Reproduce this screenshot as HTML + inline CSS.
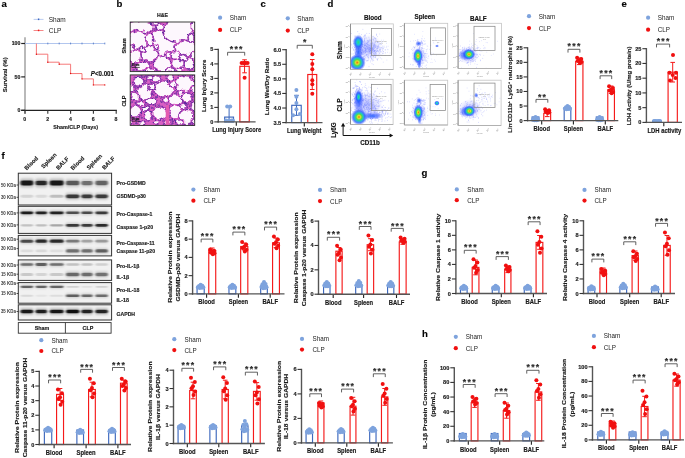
<!DOCTYPE html>
<html><head><meta charset="utf-8"><style>
html,body{margin:0;padding:0;background:#fff;}
svg{display:block;font-family:"Liberation Sans", sans-serif;will-change:transform;}
text[font-weight="bold"]{stroke:#1a1a1a;stroke-width:0.15px;}
</style></head><body>
<svg width="685" height="458" viewBox="0 0 685 458">
<rect width="685" height="458" fill="#fff"/>
<defs><radialGradient id="jet"><stop offset="0" stop-color="#f05a10"/><stop offset="0.08" stop-color="#f0a018"/><stop offset="0.2" stop-color="#d8e030"/><stop offset="0.36" stop-color="#50dc50"/><stop offset="0.52" stop-color="#22c0c8"/><stop offset="0.72" stop-color="#2a60ff" stop-opacity="0.8"/><stop offset="1" stop-color="#3a55ff" stop-opacity="0"/></radialGradient>
<radialGradient id="jetm"><stop offset="0" stop-color="#30e070"/><stop offset="0.3" stop-color="#18c8d8"/><stop offset="0.6" stop-color="#2460ff" stop-opacity="0.85"/><stop offset="1" stop-color="#3050ff" stop-opacity="0"/></radialGradient>
<radialGradient id="jetb"><stop offset="0" stop-color="#1e5cff" stop-opacity="0.9"/><stop offset="0.55" stop-color="#3a5cff" stop-opacity="0.55"/><stop offset="1" stop-color="#4a60ff" stop-opacity="0"/></radialGradient>
<radialGradient id="jetc"><stop offset="0" stop-color="#5a6cff" stop-opacity="0.45"/><stop offset="1" stop-color="#6a70ff" stop-opacity="0"/></radialGradient>
<clipPath id="fc0"><rect x="350.5" y="23.9" width="42.8" height="45.6"/></clipPath>
<clipPath id="fc1"><rect x="404.4" y="23.3" width="43.3" height="45.5"/></clipPath>
<clipPath id="fc2"><rect x="458.1" y="23.3" width="43.3" height="45.2"/></clipPath>
<clipPath id="fc3"><rect x="350.5" y="79.3" width="42.6" height="45.2"/></clipPath>
<clipPath id="fc4"><rect x="404.4" y="80.2" width="43.3" height="44.8"/></clipPath>
<clipPath id="fc5"><rect x="458.1" y="80.2" width="43.0" height="45.3"/></clipPath><filter id="bb" x="-30%" y="-100%" width="160%" height="300%"><feGaussianBlur stdDeviation="0.9 0.6"/></filter>
<filter id="bb2" x="-30%" y="-100%" width="160%" height="300%"><feGaussianBlur stdDeviation="1.1 0.9"/></filter><filter id="hdisp" x="-5%" y="-5%" width="110%" height="110%"><feTurbulence type="fractalNoise" baseFrequency="0.22" numOctaves="2" seed="3" result="t"/><feDisplacementMap in="SourceGraphic" in2="t" scale="5" xChannelSelector="R" yChannelSelector="G"/><feGaussianBlur stdDeviation="0.25"/></filter>
<filter id="hblur"><feGaussianBlur stdDeviation="0.3"/></filter></defs>
<text x="1.50" y="6.90" font-size="9.6" font-weight="bold" text-anchor="start" fill="#000">a</text>
<text x="116.60" y="6.80" font-size="9.6" font-weight="bold" text-anchor="start" fill="#000">b</text>
<text x="260.60" y="6.80" font-size="9.6" font-weight="bold" text-anchor="start" fill="#000">c</text>
<text x="327.60" y="6.80" font-size="9.6" font-weight="bold" text-anchor="start" fill="#000">d</text>
<text x="621.60" y="6.80" font-size="9.6" font-weight="bold" text-anchor="start" fill="#000">e</text>
<text x="1.40" y="158.80" font-size="9.6" font-weight="bold" text-anchor="start" fill="#000">f</text>
<text x="421.60" y="175.80" font-size="9.6" font-weight="bold" text-anchor="start" fill="#000">g</text>
<text x="421.90" y="336.90" font-size="9.6" font-weight="bold" text-anchor="start" fill="#000">h</text>
<line x1="33.60" y1="19.40" x2="43.50" y2="19.40" stroke="#a9c0ec" stroke-width="0.8"/>
<rect x="37.90" y="18.50" width="1.40" height="1.60" fill="#3d66c0" stroke="none" stroke-width="1"/>
<line x1="33.60" y1="30.50" x2="43.50" y2="30.50" stroke="#f46a6a" stroke-width="0.8"/>
<rect x="37.90" y="29.60" width="1.40" height="1.60" fill="#ee1c1c" stroke="none" stroke-width="1"/>
<text transform="translate(48.70 21.80) scale(1 1.25)" font-size="6.5" font-weight="normal" text-anchor="start" fill="#222">Sham</text>
<text transform="translate(48.70 32.90) scale(1 1.25)" font-size="6.5" font-weight="normal" text-anchor="start" fill="#222">CLP</text>
<line x1="25.00" y1="37.20" x2="25.00" y2="113.80" stroke="#a8a8a8" stroke-width="1.6"/>
<line x1="21.20" y1="110.30" x2="116.90" y2="110.30" stroke="#222" stroke-width="1.2"/>
<line x1="21.20" y1="43.50" x2="25.00" y2="43.50" stroke="#222" stroke-width="1.2"/>
<text x="20.40" y="45.35" font-size="5.2" font-weight="bold" text-anchor="end" fill="#222">100</text>
<line x1="21.20" y1="76.90" x2="25.00" y2="76.90" stroke="#222" stroke-width="1.2"/>
<text x="20.40" y="78.75" font-size="5.2" font-weight="bold" text-anchor="end" fill="#222">50</text>
<line x1="21.20" y1="110.30" x2="25.00" y2="110.30" stroke="#222" stroke-width="1.2"/>
<text x="20.40" y="112.15" font-size="5.2" font-weight="bold" text-anchor="end" fill="#222">0</text>
<line x1="25.00" y1="110.30" x2="25.00" y2="113.80" stroke="#333" stroke-width="1.1"/>
<text x="24.80" y="120.50" font-size="5.2" font-weight="bold" text-anchor="middle" fill="#222">0</text>
<line x1="47.80" y1="110.30" x2="47.80" y2="113.80" stroke="#333" stroke-width="1.1"/>
<text x="47.60" y="120.50" font-size="5.2" font-weight="bold" text-anchor="middle" fill="#222">2</text>
<line x1="70.60" y1="110.30" x2="70.60" y2="113.80" stroke="#333" stroke-width="1.1"/>
<text x="70.40" y="120.50" font-size="5.2" font-weight="bold" text-anchor="middle" fill="#222">4</text>
<line x1="93.40" y1="110.30" x2="93.40" y2="113.80" stroke="#333" stroke-width="1.1"/>
<text x="93.20" y="120.50" font-size="5.2" font-weight="bold" text-anchor="middle" fill="#222">6</text>
<line x1="116.20" y1="110.30" x2="116.20" y2="113.80" stroke="#333" stroke-width="1.1"/>
<text x="116.00" y="120.50" font-size="5.2" font-weight="bold" text-anchor="middle" fill="#222">8</text>
<text x="75.60" y="129.20" font-size="5.4" font-weight="bold" text-anchor="middle" fill="#222">Sham/CLP (Days)</text>
<text x="7.50" y="74.80" font-size="5.6" font-weight="bold" text-anchor="middle" fill="#222" transform="rotate(-90 7.50 74.80)" textLength="35.1" lengthAdjust="spacingAndGlyphs">Survival (%)</text>
<line x1="25.00" y1="43.50" x2="104.80" y2="43.50" stroke="#a9c0ec" stroke-width="0.9"/>
<line x1="47.80" y1="42.60" x2="47.80" y2="44.40" stroke="#4a72c2" stroke-width="0.8"/>
<line x1="59.20" y1="42.60" x2="59.20" y2="44.40" stroke="#4a72c2" stroke-width="0.8"/>
<line x1="70.60" y1="42.60" x2="70.60" y2="44.40" stroke="#4a72c2" stroke-width="0.8"/>
<line x1="82.00" y1="42.60" x2="82.00" y2="44.40" stroke="#4a72c2" stroke-width="0.8"/>
<line x1="93.40" y1="42.60" x2="93.40" y2="44.40" stroke="#4a72c2" stroke-width="0.8"/>
<line x1="104.80" y1="42.60" x2="104.80" y2="44.40" stroke="#4a72c2" stroke-width="0.8"/>
<path d="M36.40 43.50 V54.19 H47.80 V62.20 H59.20 V64.21 H70.60 V73.56 H82.00 V78.90 H93.40 V84.92 H104.80" fill="none" stroke="#f46a6a" stroke-width="0.9"/>
<circle cx="36.40" cy="54.19" r="0.7" fill="#e01010"/>
<circle cx="47.80" cy="62.20" r="0.7" fill="#e01010"/>
<circle cx="59.20" cy="64.21" r="0.7" fill="#e01010"/>
<circle cx="70.60" cy="73.56" r="0.7" fill="#e01010"/>
<circle cx="82.00" cy="78.90" r="0.7" fill="#e01010"/>
<circle cx="93.40" cy="84.92" r="0.7" fill="#e01010"/>
<circle cx="104.80" cy="84.92" r="0.7" fill="#e01010"/>
<text transform="translate(90.80 76.30) scale(1 1.18)" font-size="6.4" font-weight="bold" text-anchor="start" fill="#111" textLength="23.2" lengthAdjust="spacingAndGlyphs"><tspan font-style="italic">P</tspan>&lt;0.001</text>
<g clip-path="url(#fc0)">
<ellipse cx="368.0" cy="48.0" rx="15.00" ry="13.00" fill="url(#jetc)" transform="rotate(-20 368 48)"/>
<path d="M378.2 46.0h0.6M362.6 29.4h0.6M365.9 45.8h0.6M362.2 50.2h0.6M368.9 40.5h0.6M359.8 44.7h0.6M370.8 51.9h0.6M356.9 40.2h0.6M371.2 59.0h0.6M365.8 43.2h0.6M373.7 45.8h0.6M371.1 58.8h0.6M370.4 48.5h0.6M371.1 43.5h0.6M364.8 44.0h0.6M364.6 44.6h0.6M364.7 45.3h0.6M366.6 48.4h0.6M368.1 57.8h0.6M355.2 57.1h0.6M364.3 39.4h0.6M364.8 48.6h0.6M373.5 40.6h0.6M367.5 48.8h0.6M354.2 39.7h0.6M370.2 52.9h0.6M373.6 51.7h0.6M368.8 48.9h0.6M374.5 42.1h0.6M365.0 50.7h0.6M355.0 57.2h0.6M360.4 47.5h0.6M381.1 42.2h0.6M362.3 58.9h0.6M358.4 45.0h0.6M369.6 51.2h0.6M370.2 50.6h0.6M375.4 55.1h0.6M370.2 43.2h0.6M361.0 34.6h0.6M370.8 35.2h0.6M372.2 60.9h0.6M358.6 43.2h0.6M362.7 53.8h0.6M360.0 47.1h0.6M362.3 46.2h0.6M375.0 41.3h0.6M366.5 49.9h0.6M372.0 39.2h0.6M373.8 51.0h0.6M372.1 48.5h0.6M354.5 43.5h0.6M371.7 48.3h0.6M365.7 60.5h0.6M381.4 47.7h0.6M379.5 34.0h0.6M351.7 54.1h0.6M364.2 52.1h0.6M369.6 47.4h0.6M370.8 49.1h0.6M355.3 49.5h0.6M367.3 60.8h0.6M358.1 48.1h0.6M363.0 47.1h0.6M377.6 50.7h0.6M362.7 49.1h0.6M371.4 41.0h0.6M364.1 58.8h0.6M372.0 47.7h0.6M362.7 46.9h0.6M355.1 54.6h0.6M368.4 49.0h0.6M356.9 43.0h0.6M369.6 49.8h0.6M362.5 51.5h0.6M372.6 43.3h0.6M362.3 41.9h0.6M357.9 53.6h0.6M369.6 50.4h0.6M357.8 40.7h0.6M365.5 45.1h0.6M366.8 43.1h0.6M370.6 60.6h0.6M376.8 59.3h0.6M366.5 54.5h0.6M363.4 54.4h0.6M363.4 44.6h0.6M361.5 52.9h0.6M367.9 49.3h0.6M358.0 49.0h0.6M355.9 58.3h0.6M365.1 49.4h0.6M365.3 36.9h0.6M356.4 47.8h0.6M376.4 40.2h0.6M361.1 47.7h0.6M354.2 36.1h0.6M363.1 47.7h0.6M363.3 58.7h0.6M364.9 50.5h0.6M377.2 59.9h0.6M354.9 45.4h0.6M374.1 38.3h0.6M359.5 38.9h0.6M356.5 40.1h0.6M367.2 56.9h0.6M376.7 48.1h0.6M352.2 47.6h0.6M363.6 50.5h0.6M365.1 35.4h0.6M368.9 33.5h0.6M361.2 50.2h0.6M368.5 59.0h0.6M349.5 50.4h0.6M370.8 45.7h0.6M370.5 40.3h0.6M370.6 51.8h0.6M359.1 43.3h0.6M364.7 43.4h0.6M373.3 49.2h0.6M375.2 56.2h0.6M366.4 46.6h0.6M359.4 42.4h0.6M360.4 50.4h0.6M359.8 48.6h0.6M367.3 44.5h0.6M364.7 58.1h0.6M377.3 42.5h0.6M364.6 45.4h0.6M364.1 58.7h0.6M370.8 56.8h0.6M378.4 44.9h0.6M364.7 48.3h0.6M373.2 47.4h0.6M370.5 56.2h0.6M374.1 51.1h0.6M360.5 37.1h0.6M373.9 51.2h0.6M359.4 44.5h0.6M362.9 36.3h0.6M367.8 42.5h0.6M363.9 53.2h0.6M365.3 51.8h0.6M369.0 48.2h0.6M366.3 61.0h0.6M364.8 59.4h0.6M359.6 53.1h0.6M367.2 42.9h0.6M347.5 59.2h0.6M357.9 41.3h0.6M366.9 48.4h0.6M368.0 46.2h0.6M355.5 54.1h0.6M359.7 49.6h0.6M370.0 56.3h0.6M364.5 45.9h0.6M364.4 35.1h0.6M360.7 41.0h0.6M358.0 49.2h0.6M363.8 59.2h0.6M376.4 34.8h0.6M366.9 41.0h0.6M369.9 49.1h0.6M372.5 50.2h0.6M371.3 45.9h0.6M348.4 39.7h0.6M360.0 44.6h0.6M358.9 59.4h0.6M364.8 57.1h0.6M363.6 59.6h0.6M357.6 52.2h0.6M356.7 51.1h0.6M377.1 36.6h0.6M359.9 49.7h0.6M364.7 38.4h0.6M374.1 48.4h0.6M375.1 50.2h0.6M357.9 44.6h0.6M375.7 38.3h0.6M362.7 52.2h0.6M373.1 53.8h0.6M355.7 62.6h0.6M364.8 48.1h0.6M366.0 46.4h0.6M359.2 45.7h0.6M375.3 38.5h0.6M349.0 51.7h0.6M368.4 53.1h0.6M378.1 42.9h0.6M367.2 51.5h0.6M374.6 55.2h0.6M360.1 38.4h0.6M364.1 36.7h0.6M373.8 45.2h0.6M363.5 41.8h0.6M376.7 50.0h0.6M363.1 52.3h0.6M365.4 52.2h0.6M375.2 46.1h0.6M369.6 51.3h0.6M373.9 52.2h0.6M366.2 43.5h0.6M368.1 40.7h0.6M370.6 48.4h0.6M369.8 44.4h0.6M360.4 41.6h0.6M373.7 46.5h0.6M364.4 35.5h0.6M365.6 23.8h0.6M375.5 46.3h0.6M366.1 38.0h0.6M358.3 52.2h0.6M364.5 51.0h0.6M374.9 52.6h0.6M352.7 41.1h0.6M358.0 41.6h0.6M351.4 33.6h0.6M360.8 43.8h0.6M369.6 45.7h0.6M376.0 35.2h0.6M356.3 49.7h0.6M364.1 41.1h0.6M371.4 55.6h0.6M375.2 45.2h0.6M365.9 49.6h0.6M366.4 55.1h0.6M362.5 50.6h0.6M350.5 53.3h0.6M377.5 47.8h0.6M373.2 36.4h0.6M363.7 37.2h0.6M368.2 51.6h0.6M356.4 42.1h0.6M361.9 64.9h0.6M365.5 48.8h0.6M368.5 50.1h0.6M364.3 38.7h0.6M361.2 59.4h0.6M367.8 45.4h0.6M356.5 47.6h0.6M366.2 43.4h0.6M372.2 43.9h0.6M364.8 53.9h0.6M367.6 55.9h0.6M364.4 45.0h0.6M369.3 49.5h0.6M374.3 50.8h0.6M365.8 51.1h0.6M370.6 40.2h0.6M365.0 45.7h0.6M374.4 44.6h0.6M373.4 39.1h0.6M365.6 55.5h0.6M364.2 56.1h0.6M351.8 48.2h0.6M367.1 47.1h0.6M355.4 52.7h0.6M349.7 54.6h0.6M368.0 54.9h0.6M364.2 40.2h0.6M362.4 44.8h0.6M370.2 45.8h0.6M368.9 51.4h0.6M376.0 34.1h0.6M363.2 52.8h0.6M370.9 44.1h0.6M364.2 47.4h0.6M367.0 44.1h0.6M361.6 40.3h0.6M363.4 57.8h0.6M359.5 54.9h0.6M379.7 49.6h0.6M382.7 47.2h0.6M377.8 47.9h0.6M357.7 50.6h0.6M379.4 44.1h0.6M369.6 41.3h0.6M360.1 51.5h0.6M365.0 52.2h0.6M375.2 40.0h0.6M361.5 48.6h0.6M382.5 46.1h0.6M363.0 51.4h0.6M381.1 44.3h0.6M364.3 48.7h0.6M371.7 63.7h0.6M357.7 36.8h0.6M367.6 52.3h0.6M350.9 44.2h0.6M373.3 44.9h0.6M370.0 49.8h0.6M371.2 51.6h0.6M368.4 57.4h0.6M362.7 49.5h0.6M374.6 44.8h0.6M364.1 43.4h0.6M360.1 62.9h0.6M370.0 61.9h0.6M371.9 49.3h0.6M364.8 50.6h0.6M366.4 55.1h0.6M360.6 49.9h0.6M370.0 47.1h0.6M365.1 52.6h0.6M370.7 48.0h0.6M366.6 44.8h0.6M370.6 47.9h0.6M355.8 46.5h0.6M371.0 50.6h0.6M360.4 53.8h0.6M370.9 52.9h0.6M377.3 46.2h0.6M370.8 46.7h0.6M373.4 56.6h0.6M369.9 53.7h0.6M360.8 52.8h0.6M358.1 63.5h0.6M374.5 37.7h0.6M347.7 57.4h0.6M360.3 52.1h0.6M357.2 48.7h0.6M361.7 52.4h0.6M363.8 58.6h0.6M360.9 57.1h0.6M366.0 51.8h0.6M355.0 35.9h0.6M373.5 39.5h0.6M363.7 45.8h0.6M359.8 49.5h0.6M356.2 39.8h0.6M372.5 42.4h0.6M371.2 52.7h0.6M376.7 51.2h0.6M353.2 43.5h0.6M363.1 56.6h0.6M368.4 44.6h0.6M369.1 45.5h0.6M369.8 49.1h0.6M373.8 50.3h0.6M373.0 47.9h0.6M371.0 46.9h0.6M370.5 49.6h0.6M365.1 45.1h0.6M364.1 51.3h0.6M350.0 56.7h0.6M349.4 46.7h0.6M363.7 53.2h0.6M367.7 47.7h0.6M366.6 54.6h0.6M382.4 50.6h0.6M351.6 45.1h0.6M368.9 71.2h0.6M360.6 45.4h0.6M369.9 50.3h0.6M356.7 54.6h0.6M356.8 46.1h0.6M375.3 38.8h0.6M363.6 59.7h0.6M364.2 40.7h0.6M361.9 53.9h0.6M355.0 43.6h0.6M355.8 39.9h0.6M375.0 47.4h0.6M362.9 51.0h0.6M361.0 39.6h0.6M374.0 54.1h0.6M360.1 52.9h0.6M376.2 51.4h0.6M369.5 39.3h0.6M365.1 34.9h0.6M373.8 46.8h0.6M375.3 42.6h0.6M372.1 36.8h0.6M363.1 51.8h0.6M368.5 47.6h0.6M354.4 57.3h0.6M370.6 56.0h0.6M373.9 45.3h0.6M368.7 66.6h0.6M360.1 50.9h0.6M362.0 60.3h0.6M367.2 40.6h0.6M361.7 38.0h0.6M349.9 28.8h0.6M360.8 40.0h0.6M367.0 42.1h0.6M367.6 60.5h0.6M357.6 39.4h0.6M372.9 64.6h0.6M359.8 36.0h0.6M363.9 45.1h0.6M371.0 40.4h0.6M364.1 45.8h0.6M354.8 36.8h0.6M369.1 51.8h0.6M360.3 59.1h0.6M372.6 51.3h0.6M370.3 50.5h0.6M371.1 54.1h0.6M366.5 33.4h0.6M364.8 42.0h0.6M357.5 52.2h0.6M353.3 53.9h0.6M361.4 39.2h0.6M359.7 64.6h0.6M376.4 45.9h0.6M373.5 60.6h0.6M359.7 45.9h0.6M372.5 50.8h0.6M363.3 59.5h0.6M369.6 53.6h0.6M383.0 51.4h0.6M384.9 50.1h0.6M364.8 48.9h0.6M372.2 52.6h0.6M368.6 37.3h0.6M358.2 46.0h0.6M371.1 58.3h0.6M348.8 46.9h0.6M362.6 47.1h0.6" stroke="#3a4cff" stroke-width="0.6" opacity="0.5"/>
<path d="M377.2 46.6h0.6M367.8 56.1h0.6M380.5 48.8h0.6M375.2 47.4h0.6M367.3 54.2h0.6M371.8 45.2h0.6M372.2 59.3h0.6M378.6 52.1h0.6M376.4 55.3h0.6M380.4 44.2h0.6M374.4 47.6h0.6M377.2 50.6h0.6M363.6 56.8h0.6M377.5 42.0h0.6M382.8 51.5h0.6M378.7 51.0h0.6M376.8 48.2h0.6M365.6 47.6h0.6M376.9 51.0h0.6M379.7 50.3h0.6M362.0 54.5h0.6M370.7 43.9h0.6M373.7 43.7h0.6M377.8 46.0h0.6M387.5 49.4h0.6M372.2 47.3h0.6M362.4 46.2h0.6M370.9 48.9h0.6M362.0 50.8h0.6M383.4 48.5h0.6M375.3 52.8h0.6M370.7 48.4h0.6M381.5 51.7h0.6M368.2 41.6h0.6M389.7 53.0h0.6M366.0 51.6h0.6M379.9 51.4h0.6M364.3 60.1h0.6M379.5 49.9h0.6M380.0 49.7h0.6M373.8 55.4h0.6M363.8 56.0h0.6M378.4 54.8h0.6M381.5 58.9h0.6M384.8 55.5h0.6M373.7 54.5h0.6M373.1 46.2h0.6M378.9 52.9h0.6M383.4 40.2h0.6M379.8 54.5h0.6M376.8 58.7h0.6M370.8 52.9h0.6M373.9 51.1h0.6M370.3 50.5h0.6M380.3 51.8h0.6M378.3 47.3h0.6M385.9 47.6h0.6M376.4 54.2h0.6M375.1 55.1h0.6M377.4 59.9h0.6M379.6 53.2h0.6M371.3 53.6h0.6M382.4 53.3h0.6M370.6 48.4h0.6M374.8 51.3h0.6M367.8 60.7h0.6M375.6 51.7h0.6M373.5 50.9h0.6M387.8 46.3h0.6M373.0 45.9h0.6M372.8 58.9h0.6M372.3 48.8h0.6M365.2 49.3h0.6M377.5 48.6h0.6M373.7 55.1h0.6M379.3 50.6h0.6M371.4 43.5h0.6M386.3 43.3h0.6M380.0 50.1h0.6M371.7 55.6h0.6M371.6 57.5h0.6M369.9 53.6h0.6M383.8 46.2h0.6M388.8 55.4h0.6M362.8 58.1h0.6M387.7 49.8h0.6M375.0 53.0h0.6M364.7 51.9h0.6M381.8 48.3h0.6M382.9 62.2h0.6M364.3 42.0h0.6M371.9 54.3h0.6M378.4 46.5h0.6M369.3 47.4h0.6M386.4 46.3h0.6M372.6 55.9h0.6M374.5 46.1h0.6M384.8 52.8h0.6M372.0 49.2h0.6M381.8 49.3h0.6M377.7 55.6h0.6M382.2 41.9h0.6M373.3 49.5h0.6M376.8 55.1h0.6M383.3 48.9h0.6M369.6 52.2h0.6M372.7 59.9h0.6M378.5 51.5h0.6M382.3 48.0h0.6M374.3 50.4h0.6M380.3 57.8h0.6M381.1 55.1h0.6M375.0 53.2h0.6M374.9 57.1h0.6M372.6 50.9h0.6M377.8 55.2h0.6M372.0 50.1h0.6M371.4 44.5h0.6M382.9 53.6h0.6M367.3 46.4h0.6M379.7 48.2h0.6M370.0 57.5h0.6M373.4 49.4h0.6M379.7 47.7h0.6M376.4 52.0h0.6M380.7 47.5h0.6M382.8 52.9h0.6M387.0 52.3h0.6M373.0 48.5h0.6M369.4 51.1h0.6M375.8 55.6h0.6M376.7 46.9h0.6M382.3 49.0h0.6M377.8 58.4h0.6M383.8 47.4h0.6M375.4 57.8h0.6M382.0 53.8h0.6M381.4 40.2h0.6M374.3 43.8h0.6M372.2 49.1h0.6M378.8 56.9h0.6M380.7 52.3h0.6M373.8 57.3h0.6M377.5 42.0h0.6M375.4 53.4h0.6M370.0 51.9h0.6M384.9 49.5h0.6M375.4 50.5h0.6M369.8 48.3h0.6M369.6 49.2h0.6M370.8 55.5h0.6M374.9 54.9h0.6M367.9 50.5h0.6M379.0 54.1h0.6M371.8 50.1h0.6M376.2 48.9h0.6M373.0 53.3h0.6M368.4 41.5h0.6M372.6 52.1h0.6M361.7 57.5h0.6M376.2 53.6h0.6M370.5 50.4h0.6M386.6 60.1h0.6M379.4 49.3h0.6M375.0 57.4h0.6M371.3 46.0h0.6M374.8 55.3h0.6M369.1 52.4h0.6M377.8 51.3h0.6M374.6 55.3h0.6M379.0 43.2h0.6M385.2 52.9h0.6M377.4 48.7h0.6M373.6 37.8h0.6M374.0 53.5h0.6M379.1 47.0h0.6M361.0 44.7h0.6M373.4 56.9h0.6M365.5 50.5h0.6M378.9 53.6h0.6" stroke="#3a4cff" stroke-width="0.6" opacity="0.4"/>
<path d="M357.5 31.6h0.6M359.2 55.1h0.6M359.1 46.5h0.6M356.5 66.3h0.6M357.5 54.1h0.6M355.9 64.4h0.6M353.6 50.0h0.6M358.9 54.0h0.6M360.0 57.8h0.6M361.5 52.6h0.6M357.5 56.7h0.6M353.3 66.0h0.6M355.6 63.8h0.6M361.5 62.8h0.6M358.4 49.5h0.6M352.5 59.2h0.6M357.3 68.6h0.6M357.2 59.8h0.6M356.9 58.2h0.6M357.0 53.4h0.6M353.2 49.0h0.6M357.5 65.1h0.6M358.6 44.8h0.6M361.9 57.6h0.6M360.8 47.4h0.6M349.6 48.5h0.6M355.3 56.9h0.6M354.0 47.5h0.6M354.5 55.9h0.6M355.6 66.0h0.6M359.9 61.7h0.6M357.4 56.8h0.6M360.2 48.0h0.6M361.1 54.3h0.6M361.2 73.2h0.6M362.0 46.2h0.6M361.1 52.4h0.6M356.9 53.0h0.6M355.0 56.9h0.6M356.2 64.0h0.6M358.8 33.9h0.6M355.5 46.7h0.6M356.2 49.5h0.6M358.5 53.6h0.6M355.2 58.4h0.6M360.3 55.0h0.6M361.0 58.4h0.6M356.6 51.7h0.6M358.0 59.2h0.6M358.4 62.8h0.6M360.9 46.7h0.6M355.0 54.1h0.6M359.1 62.3h0.6M359.6 59.9h0.6M355.6 58.0h0.6M356.3 58.3h0.6M360.2 49.5h0.6M357.4 74.8h0.6M356.1 50.8h0.6M355.2 43.3h0.6M360.5 49.5h0.6M356.4 48.5h0.6M350.9 61.0h0.6M356.6 54.5h0.6M361.4 53.7h0.6M358.3 56.3h0.6M361.2 44.0h0.6M356.5 37.3h0.6M358.0 60.1h0.6M356.9 71.1h0.6M360.5 70.8h0.6M358.4 69.7h0.6M356.7 58.5h0.6M358.4 51.8h0.6M362.3 66.0h0.6M356.4 61.0h0.6M358.4 56.7h0.6M359.7 51.5h0.6M358.6 58.0h0.6M356.6 51.4h0.6M360.4 55.8h0.6M364.1 72.8h0.6M356.3 58.0h0.6M353.0 50.0h0.6M355.8 48.9h0.6M352.6 57.2h0.6M358.4 48.5h0.6M357.8 62.5h0.6M362.1 44.3h0.6M362.0 41.1h0.6M355.9 51.8h0.6M361.9 59.8h0.6M359.5 67.6h0.6M358.6 51.3h0.6M361.7 53.2h0.6M354.8 41.0h0.6M358.4 70.1h0.6M359.9 55.3h0.6M361.1 42.9h0.6M359.1 50.6h0.6M361.5 48.2h0.6M360.0 56.6h0.6M358.0 60.6h0.6M357.7 66.6h0.6M357.5 37.4h0.6M361.6 65.7h0.6M359.3 66.2h0.6M359.7 48.2h0.6M352.8 46.5h0.6M357.3 59.2h0.6M354.4 47.6h0.6M361.8 49.3h0.6M356.1 47.2h0.6M362.1 61.3h0.6M360.2 68.3h0.6M360.4 65.8h0.6M358.9 62.0h0.6M359.6 60.6h0.6M355.0 53.2h0.6M357.1 49.7h0.6" stroke="#3a4cff" stroke-width="0.6" opacity="0.6"/>
<ellipse cx="358.5" cy="52.0" rx="4.60" ry="11.00" fill="url(#jetb)"/>
<ellipse cx="358.3" cy="42.3" rx="5.60" ry="7.60" fill="url(#jetm)"/>
<ellipse cx="357.2" cy="62.6" rx="8.60" ry="8.60" fill="url(#jet)"/>
</g>
<rect x="350.5" y="23.9" width="42.8" height="45.6" fill="none" stroke="#c4c4c4" stroke-width="0.8"/>
<line x1="350.5" y1="23.9" x2="350.5" y2="69.5" stroke="#8a8a8a" stroke-width="0.9"/>
<line x1="350.5" y1="69.5" x2="393.3" y2="69.5" stroke="#aaa" stroke-width="0.8"/>
<rect x="371.4" y="28.5" width="20.2" height="26.9" fill="none" stroke="#888" stroke-width="0.75"/>
<text x="381.5" y="41.5" font-size="1.8" text-anchor="middle" fill="#888">CD11b+Ly6G+</text>
<text x="381.5" y="43.8" font-size="1.8" text-anchor="middle" fill="#888">1.6</text>
<line x1="349.3" y1="68.0" x2="350.5" y2="68.0" stroke="#999" stroke-width="0.5"/>
<text x="348.9" y="68.8" font-size="2.2" text-anchor="end" fill="#777">10<tspan dy="-0.8" font-size="1.5">1</tspan></text>
<line x1="349.3" y1="57.6" x2="350.5" y2="57.6" stroke="#999" stroke-width="0.5"/>
<text x="348.9" y="58.4" font-size="2.2" text-anchor="end" fill="#777">10<tspan dy="-0.8" font-size="1.5">2</tspan></text>
<line x1="349.3" y1="47.2" x2="350.5" y2="47.2" stroke="#999" stroke-width="0.5"/>
<text x="348.9" y="48.0" font-size="2.2" text-anchor="end" fill="#777">10<tspan dy="-0.8" font-size="1.5">3</tspan></text>
<line x1="349.3" y1="36.8" x2="350.5" y2="36.8" stroke="#999" stroke-width="0.5"/>
<text x="348.9" y="37.6" font-size="2.2" text-anchor="end" fill="#777">10<tspan dy="-0.8" font-size="1.5">4</tspan></text>
<line x1="349.3" y1="26.4" x2="350.5" y2="26.4" stroke="#999" stroke-width="0.5"/>
<text x="348.9" y="27.2" font-size="2.2" text-anchor="end" fill="#777">10<tspan dy="-0.8" font-size="1.5">5</tspan></text>
<text x="352.5" y="73.5" font-size="2.2" text-anchor="end" fill="#777" transform="rotate(-45 352.5 73.5)">10<tspan dy="-0.8" font-size="1.5">1</tspan></text>
<text x="362.2" y="73.5" font-size="2.2" text-anchor="end" fill="#777" transform="rotate(-45 362.2 73.5)">10<tspan dy="-0.8" font-size="1.5">2</tspan></text>
<text x="371.9" y="73.5" font-size="2.2" text-anchor="end" fill="#777" transform="rotate(-45 371.9 73.5)">10<tspan dy="-0.8" font-size="1.5">3</tspan></text>
<text x="381.6" y="73.5" font-size="2.2" text-anchor="end" fill="#777" transform="rotate(-45 381.6 73.5)">10<tspan dy="-0.8" font-size="1.5">4</tspan></text>
<text x="391.3" y="73.5" font-size="2.2" text-anchor="end" fill="#777" transform="rotate(-45 391.3 73.5)">10<tspan dy="-0.8" font-size="1.5">5</tspan></text>
<text x="371.9" y="77.8" font-size="2" text-anchor="middle" fill="#999">CD11b</text>
<text x="345.0" y="46.7" font-size="2" text-anchor="middle" fill="#999" transform="rotate(-90 345.0 46.7)">Ly6G</text>
<g clip-path="url(#fc1)">
<ellipse cx="419.0" cy="56.0" rx="8.00" ry="10.00" fill="url(#jetc)"/>
<path d="M418.8 66.1h0.6M422.3 57.4h0.6M420.1 64.0h0.6M414.7 58.9h0.6M424.8 66.0h0.6M422.1 59.7h0.6M412.6 53.3h0.6M418.8 58.8h0.6M420.4 45.4h0.6M417.0 58.3h0.6M416.2 55.7h0.6M420.7 58.4h0.6M419.5 60.6h0.6M422.9 55.4h0.6M415.2 53.4h0.6M417.2 56.7h0.6M413.6 53.1h0.6M418.0 63.7h0.6M420.8 56.1h0.6M422.0 57.8h0.6M419.8 62.3h0.6M420.1 57.7h0.6M421.5 54.2h0.6M419.1 46.4h0.6M417.5 64.7h0.6M417.7 57.0h0.6M417.5 51.8h0.6M420.7 56.9h0.6M422.8 52.5h0.6M419.1 55.3h0.6M416.9 62.4h0.6M416.4 53.4h0.6M427.9 56.6h0.6M418.3 59.3h0.6M415.5 58.8h0.6M414.9 54.6h0.6M417.0 63.8h0.6M421.2 66.3h0.6M424.9 53.6h0.6M420.9 54.9h0.6M416.8 63.0h0.6M424.0 57.7h0.6M420.2 58.5h0.6M420.2 58.8h0.6M415.5 60.1h0.6M416.6 51.1h0.6M418.5 58.4h0.6M422.0 58.9h0.6M420.0 53.7h0.6M420.4 58.1h0.6M420.0 53.3h0.6M425.0 60.8h0.6M421.4 57.5h0.6M418.0 61.7h0.6M414.4 54.7h0.6M418.0 59.8h0.6M417.9 64.1h0.6M412.8 64.8h0.6M420.1 61.7h0.6M417.2 62.2h0.6M417.8 58.3h0.6M413.8 59.7h0.6M419.4 47.5h0.6M418.6 55.4h0.6M421.9 53.6h0.6M419.6 63.4h0.6M415.9 66.4h0.6M419.8 55.8h0.6M414.2 48.0h0.6M422.3 54.6h0.6M416.8 62.3h0.6M421.3 57.6h0.6M413.8 47.1h0.6M422.3 56.7h0.6M418.0 66.6h0.6M417.5 58.8h0.6M426.5 60.1h0.6M417.0 52.7h0.6M423.3 50.8h0.6M421.9 65.1h0.6M418.7 61.2h0.6M419.3 64.2h0.6M420.0 53.5h0.6M420.3 57.8h0.6M416.9 55.9h0.6M414.8 52.8h0.6M421.3 47.8h0.6M420.0 57.1h0.6M417.0 64.1h0.6M421.5 54.1h0.6M419.7 61.7h0.6M413.5 58.1h0.6M418.2 59.0h0.6M426.4 53.8h0.6M417.8 51.0h0.6M419.8 60.2h0.6M410.4 64.4h0.6M424.7 43.6h0.6M413.7 59.4h0.6M419.4 63.0h0.6M418.1 63.6h0.6M414.3 59.2h0.6M417.6 54.8h0.6M412.9 55.1h0.6M423.9 53.9h0.6M418.3 57.8h0.6M415.7 58.5h0.6M421.1 56.0h0.6M412.6 64.9h0.6M419.3 57.1h0.6M418.4 54.2h0.6M413.3 57.0h0.6M419.7 62.2h0.6M424.9 53.6h0.6M424.8 57.7h0.6M421.2 52.1h0.6M420.4 52.5h0.6M421.6 51.0h0.6M419.3 55.2h0.6M420.4 58.5h0.6M419.8 54.7h0.6M422.2 60.2h0.6M416.5 61.1h0.6M417.0 57.8h0.6M418.9 56.9h0.6M422.0 48.3h0.6M423.7 48.5h0.6M423.6 60.2h0.6M414.0 59.2h0.6M418.2 51.5h0.6M423.6 63.1h0.6M420.7 66.0h0.6M419.9 56.1h0.6M424.0 53.8h0.6M422.2 63.2h0.6M420.2 58.1h0.6M421.1 58.9h0.6M417.0 39.6h0.6M417.6 50.2h0.6M422.9 55.3h0.6M420.3 61.4h0.6M423.1 53.0h0.6M427.1 62.3h0.6M421.7 53.0h0.6M426.6 61.0h0.6M423.4 56.2h0.6M426.2 65.1h0.6M419.1 67.8h0.6M415.7 62.1h0.6M421.7 61.1h0.6M416.9 55.7h0.6M422.8 62.9h0.6M419.1 56.1h0.6M417.5 64.2h0.6M418.7 54.6h0.6M412.5 48.2h0.6M415.2 46.9h0.6M417.7 55.6h0.6M415.5 54.9h0.6M418.7 48.1h0.6M421.5 43.0h0.6M425.9 49.5h0.6M419.1 55.2h0.6M420.3 53.2h0.6M420.9 49.0h0.6M421.7 55.5h0.6M420.3 62.2h0.6M414.8 54.0h0.6M416.3 56.5h0.6M419.6 60.6h0.6M419.7 56.2h0.6M420.9 62.2h0.6M422.4 67.6h0.6M416.8 58.2h0.6M414.2 53.5h0.6M421.2 63.4h0.6M417.2 59.4h0.6M419.3 59.6h0.6M419.8 54.6h0.6M411.1 49.4h0.6M420.4 56.6h0.6M426.4 57.3h0.6M422.2 51.0h0.6M414.1 58.0h0.6M424.9 59.1h0.6M417.9 59.1h0.6M421.2 59.3h0.6M419.1 51.7h0.6M415.0 54.4h0.6M418.6 50.4h0.6M424.6 60.0h0.6M417.2 60.9h0.6M427.6 58.3h0.6M419.8 62.2h0.6M414.2 54.2h0.6M416.3 60.9h0.6M413.1 58.7h0.6M417.3 55.6h0.6M417.1 64.4h0.6M416.0 51.0h0.6M420.1 54.1h0.6M420.8 56.7h0.6M419.1 57.3h0.6M413.1 46.9h0.6M426.1 51.1h0.6M420.8 51.4h0.6M418.7 55.7h0.6M424.1 56.0h0.6M413.6 49.8h0.6M420.0 61.4h0.6M426.1 67.7h0.6M414.0 56.4h0.6M414.7 58.4h0.6M421.8 47.8h0.6M422.0 60.6h0.6M418.1 54.0h0.6M424.8 56.2h0.6M415.2 57.5h0.6M422.6 60.4h0.6M412.1 50.2h0.6" stroke="#3a4cff" stroke-width="0.6" opacity="0.5"/>
<path d="M419.7 51.3h0.6M424.1 38.6h0.6M430.3 54.2h0.6M410.3 41.3h0.6M422.1 36.2h0.6M423.2 51.5h0.6M419.5 55.2h0.6M437.5 44.0h0.6M426.8 45.9h0.6M435.3 61.3h0.6M423.0 44.4h0.6M429.3 49.4h0.6M413.2 40.9h0.6M421.7 69.6h0.6M431.8 62.5h0.6M430.6 62.5h0.6M435.1 40.0h0.6M427.9 55.7h0.6M427.0 53.8h0.6M402.8 51.7h0.6M412.1 58.7h0.6M418.9 47.5h0.6M422.6 31.5h0.6M421.6 38.5h0.6M430.7 45.2h0.6M413.8 61.2h0.6M420.6 41.2h0.6M422.1 48.2h0.6M424.8 40.9h0.6M431.5 52.9h0.6M436.0 55.0h0.6M415.1 59.5h0.6M420.9 50.9h0.6M403.3 38.7h0.6M434.0 59.9h0.6M408.9 53.0h0.6M425.8 61.3h0.6M414.3 34.3h0.6M425.5 44.1h0.6M418.3 42.0h0.6M433.0 42.3h0.6M430.8 55.7h0.6M417.8 58.9h0.6M433.3 53.4h0.6M421.3 57.0h0.6M417.1 54.6h0.6M435.4 38.0h0.6M408.7 56.7h0.6M416.0 46.0h0.6M424.3 44.5h0.6M424.1 41.3h0.6M418.8 49.3h0.6M427.5 46.4h0.6M425.8 55.6h0.6M427.2 49.1h0.6M433.6 43.2h0.6M431.5 59.1h0.6M430.3 45.5h0.6M430.9 54.5h0.6M414.2 47.4h0.6" stroke="#3a4cff" stroke-width="0.6" opacity="0.35"/>
<path d="M415.8 44.8h0.6M422.5 45.9h0.6M416.6 42.0h0.6M418.6 43.7h0.6M420.9 43.4h0.6M421.9 43.0h0.6M421.7 41.2h0.6M417.7 44.1h0.6M421.1 45.1h0.6M416.9 41.5h0.6M419.0 43.9h0.6M418.1 44.0h0.6M415.8 45.1h0.6M421.6 42.3h0.6M417.0 46.5h0.6M421.8 42.5h0.6M417.4 40.6h0.6M420.3 44.5h0.6M419.2 48.6h0.6M418.6 43.8h0.6M419.7 43.7h0.6M421.9 43.7h0.6M419.4 48.6h0.6M417.7 41.7h0.6M419.5 42.9h0.6M417.5 44.5h0.6M421.2 41.0h0.6M418.6 39.9h0.6M421.4 42.0h0.6M420.7 47.6h0.6M422.4 44.9h0.6M414.1 47.8h0.6M418.0 45.6h0.6M417.8 43.5h0.6M423.1 40.7h0.6M415.9 43.4h0.6M421.7 39.0h0.6M422.2 43.2h0.6M420.8 49.3h0.6M420.3 46.2h0.6M422.5 43.4h0.6M419.4 43.7h0.6M419.6 43.4h0.6M417.7 42.8h0.6M420.9 41.3h0.6M419.3 46.8h0.6M415.5 40.5h0.6M420.7 42.4h0.6M417.2 45.3h0.6M419.8 42.6h0.6" stroke="#3a4cff" stroke-width="0.6" opacity="0.5"/>
<ellipse cx="418.6" cy="43.6" rx="3.20" ry="2.60" fill="url(#jetb)"/>
<ellipse cx="419.3" cy="63.5" rx="2.20" ry="5.50" fill="url(#jetb)"/>
<ellipse cx="418.0" cy="56.0" rx="4.80" ry="7.80" fill="url(#jet)"/>
<ellipse cx="437.0" cy="46.0" rx="2.00" ry="1.60" fill="url(#jetb)"/>
</g>
<rect x="404.4" y="23.3" width="43.3" height="45.5" fill="none" stroke="#c4c4c4" stroke-width="0.8"/>
<line x1="404.4" y1="23.3" x2="404.4" y2="68.8" stroke="#8a8a8a" stroke-width="0.9"/>
<line x1="404.4" y1="68.8" x2="447.7" y2="68.8" stroke="#aaa" stroke-width="0.8"/>
<rect x="430.4" y="27.9" width="15.1" height="26.4" fill="none" stroke="#888" stroke-width="0.75"/>
<text x="437.9" y="40.6" font-size="1.8" text-anchor="middle" fill="#888">CD11b+Ly6G+</text>
<text x="437.9" y="42.9" font-size="1.8" text-anchor="middle" fill="#888">1.6</text>
<line x1="403.2" y1="67.3" x2="404.4" y2="67.3" stroke="#999" stroke-width="0.5"/>
<text x="402.8" y="68.1" font-size="2.2" text-anchor="end" fill="#777">10<tspan dy="-0.8" font-size="1.5">1</tspan></text>
<line x1="403.2" y1="56.9" x2="404.4" y2="56.9" stroke="#999" stroke-width="0.5"/>
<text x="402.8" y="57.7" font-size="2.2" text-anchor="end" fill="#777">10<tspan dy="-0.8" font-size="1.5">2</tspan></text>
<line x1="403.2" y1="46.5" x2="404.4" y2="46.5" stroke="#999" stroke-width="0.5"/>
<text x="402.8" y="47.3" font-size="2.2" text-anchor="end" fill="#777">10<tspan dy="-0.8" font-size="1.5">3</tspan></text>
<line x1="403.2" y1="36.2" x2="404.4" y2="36.2" stroke="#999" stroke-width="0.5"/>
<text x="402.8" y="37.0" font-size="2.2" text-anchor="end" fill="#777">10<tspan dy="-0.8" font-size="1.5">4</tspan></text>
<line x1="403.2" y1="25.8" x2="404.4" y2="25.8" stroke="#999" stroke-width="0.5"/>
<text x="402.8" y="26.6" font-size="2.2" text-anchor="end" fill="#777">10<tspan dy="-0.8" font-size="1.5">5</tspan></text>
<text x="406.4" y="72.8" font-size="2.2" text-anchor="end" fill="#777" transform="rotate(-45 406.4 72.8)">10<tspan dy="-0.8" font-size="1.5">1</tspan></text>
<text x="416.2" y="72.8" font-size="2.2" text-anchor="end" fill="#777" transform="rotate(-45 416.2 72.8)">10<tspan dy="-0.8" font-size="1.5">2</tspan></text>
<text x="426.1" y="72.8" font-size="2.2" text-anchor="end" fill="#777" transform="rotate(-45 426.1 72.8)">10<tspan dy="-0.8" font-size="1.5">3</tspan></text>
<text x="435.9" y="72.8" font-size="2.2" text-anchor="end" fill="#777" transform="rotate(-45 435.9 72.8)">10<tspan dy="-0.8" font-size="1.5">4</tspan></text>
<text x="445.7" y="72.8" font-size="2.2" text-anchor="end" fill="#777" transform="rotate(-45 445.7 72.8)">10<tspan dy="-0.8" font-size="1.5">5</tspan></text>
<text x="426.0" y="77.1" font-size="2" text-anchor="middle" fill="#999">CD11b</text>
<text x="398.9" y="46.0" font-size="2" text-anchor="middle" fill="#999" transform="rotate(-90 398.9 46.0)">Ly6G</text>
<g clip-path="url(#fc2)">
<ellipse cx="468.0" cy="55.0" rx="11.00" ry="9.00" fill="url(#jetc)"/>
<path d="M466.4 49.1h0.6M465.1 54.7h0.6M470.8 57.4h0.6M476.7 54.7h0.6M473.0 56.1h0.6M463.1 56.3h0.6M469.8 57.7h0.6M470.5 55.6h0.6M463.6 53.8h0.6M469.5 57.6h0.6M472.1 56.5h0.6M471.2 60.8h0.6M469.1 52.9h0.6M460.9 55.2h0.6M471.1 53.5h0.6M475.4 51.5h0.6M466.1 54.8h0.6M461.8 59.0h0.6M464.2 50.2h0.6M458.8 58.6h0.6M474.3 50.8h0.6M460.7 53.1h0.6M467.8 52.7h0.6M470.2 50.6h0.6M478.2 56.3h0.6M472.9 53.3h0.6M472.7 61.6h0.6M464.3 55.5h0.6M472.9 56.6h0.6M463.7 53.1h0.6M470.9 56.3h0.6M464.7 56.3h0.6M456.8 55.3h0.6M472.8 58.7h0.6M465.8 56.0h0.6M469.1 54.5h0.6M463.9 49.2h0.6M464.8 49.8h0.6M457.0 59.4h0.6M460.0 51.8h0.6M463.9 47.2h0.6M468.5 47.2h0.6M475.6 48.3h0.6M462.6 53.2h0.6M465.9 53.9h0.6M472.3 59.5h0.6M479.0 50.1h0.6M473.3 57.9h0.6M466.7 49.9h0.6M480.4 60.1h0.6M459.4 61.4h0.6M470.8 56.3h0.6M472.4 52.9h0.6M467.7 59.2h0.6M462.5 49.7h0.6M459.8 58.3h0.6M462.9 53.8h0.6M465.7 57.6h0.6M470.0 51.9h0.6M475.3 56.9h0.6M469.9 53.4h0.6M466.4 54.1h0.6M468.2 56.8h0.6M470.3 54.1h0.6M467.5 57.9h0.6M474.2 60.1h0.6M468.0 50.0h0.6M468.9 55.8h0.6M468.5 57.2h0.6M465.6 55.6h0.6M456.4 62.3h0.6M468.3 53.8h0.6M470.7 54.1h0.6M464.4 58.4h0.6M468.4 52.3h0.6M471.5 56.8h0.6M470.0 53.8h0.6M473.5 51.4h0.6M472.3 61.2h0.6M463.4 56.0h0.6M459.0 55.1h0.6M459.4 49.6h0.6M469.0 59.4h0.6M470.5 54.1h0.6M464.0 55.1h0.6M480.1 60.7h0.6M461.3 52.1h0.6M460.7 57.2h0.6M466.5 48.8h0.6M467.1 53.0h0.6M462.6 53.5h0.6M472.3 51.2h0.6M466.1 49.2h0.6M465.9 60.5h0.6M470.7 52.1h0.6M464.9 60.1h0.6M467.3 52.9h0.6M473.8 53.4h0.6M464.5 56.8h0.6M461.6 53.4h0.6M464.3 55.8h0.6M467.7 62.6h0.6M471.8 55.4h0.6M471.2 54.4h0.6M469.7 57.7h0.6M470.7 61.0h0.6M471.2 52.5h0.6M469.8 50.8h0.6M478.6 47.8h0.6M467.8 57.4h0.6M463.7 53.6h0.6M473.5 50.4h0.6M473.0 54.3h0.6M466.5 63.2h0.6M472.2 56.8h0.6M467.1 56.0h0.6M467.5 62.6h0.6M469.3 52.3h0.6M465.8 56.9h0.6M462.8 52.2h0.6M460.3 46.0h0.6M479.8 54.4h0.6M477.3 57.6h0.6M469.9 50.9h0.6M468.2 56.0h0.6M463.9 58.2h0.6M474.7 57.3h0.6M469.5 48.5h0.6M482.5 58.4h0.6M462.6 50.7h0.6M465.1 51.4h0.6M468.7 51.9h0.6M469.1 53.5h0.6M467.1 50.6h0.6M469.3 56.4h0.6M464.3 48.7h0.6M468.7 48.1h0.6M464.4 57.2h0.6M474.7 54.1h0.6M470.0 60.5h0.6M463.0 53.5h0.6M469.7 60.6h0.6M462.3 50.3h0.6M473.1 60.1h0.6M465.1 55.4h0.6M473.1 54.3h0.6M458.6 56.0h0.6M473.0 50.0h0.6M474.7 53.8h0.6M459.0 55.9h0.6M460.4 60.6h0.6M470.5 62.3h0.6M459.6 55.6h0.6M475.4 59.9h0.6M471.3 56.6h0.6M471.4 59.2h0.6M477.2 47.9h0.6M462.9 52.7h0.6M469.1 56.6h0.6M466.3 54.8h0.6M472.0 59.9h0.6M464.0 54.0h0.6M468.4 65.1h0.6M464.7 56.3h0.6M468.3 53.3h0.6M472.8 54.7h0.6M465.5 55.3h0.6M469.4 52.4h0.6M464.2 59.5h0.6M465.0 58.7h0.6M467.1 51.5h0.6M462.1 48.0h0.6M471.3 57.4h0.6M465.6 50.4h0.6M464.9 55.3h0.6M474.0 52.0h0.6M459.1 55.5h0.6M465.7 51.2h0.6M458.0 56.9h0.6M474.6 50.4h0.6M459.8 52.3h0.6M465.8 56.6h0.6M467.8 47.5h0.6M468.6 55.6h0.6M464.5 55.6h0.6M460.3 52.9h0.6M460.3 54.3h0.6M471.0 46.4h0.6M467.3 57.3h0.6M468.4 60.9h0.6M466.9 63.2h0.6M467.8 49.5h0.6M466.6 51.7h0.6M473.4 61.1h0.6M476.0 57.7h0.6M466.8 52.3h0.6M461.8 57.4h0.6M461.2 53.6h0.6M468.7 56.4h0.6M460.5 49.6h0.6M461.6 58.1h0.6M461.8 50.9h0.6M470.6 58.4h0.6M477.1 54.7h0.6M472.4 47.6h0.6M470.9 58.3h0.6M472.7 52.9h0.6M475.0 61.5h0.6M468.0 55.2h0.6M466.2 53.7h0.6M467.9 49.8h0.6M461.0 53.8h0.6M465.2 58.8h0.6M466.8 51.0h0.6M458.8 53.5h0.6M462.4 47.6h0.6M477.5 47.1h0.6M476.3 67.4h0.6M468.5 53.2h0.6M471.4 51.4h0.6M469.0 58.1h0.6M461.7 61.3h0.6M468.4 56.2h0.6M474.8 49.4h0.6M461.7 56.3h0.6M470.0 54.1h0.6M467.5 54.1h0.6M463.2 49.7h0.6M464.3 55.5h0.6M470.2 49.9h0.6M476.8 64.5h0.6M469.0 51.8h0.6M467.1 58.2h0.6M467.5 62.6h0.6M466.5 58.8h0.6M470.4 64.1h0.6M470.1 56.9h0.6M463.7 54.0h0.6M461.3 68.1h0.6M468.3 54.2h0.6M468.2 56.7h0.6M470.9 47.9h0.6M474.5 55.3h0.6M467.8 62.4h0.6M469.5 51.9h0.6M463.7 58.2h0.6M468.4 55.6h0.6M461.6 55.8h0.6M464.7 51.8h0.6M474.6 56.2h0.6M466.7 59.1h0.6M477.6 48.9h0.6M472.9 56.1h0.6M467.7 60.8h0.6M472.4 53.2h0.6M474.5 54.3h0.6M468.0 49.7h0.6M468.3 57.5h0.6M466.4 55.2h0.6M474.6 54.5h0.6" stroke="#3a4cff" stroke-width="0.6" opacity="0.5"/>
<path d="M473.6 58.5h0.6M473.1 33.6h0.6M469.0 46.5h0.6M469.5 41.1h0.6M474.5 46.9h0.6M476.3 48.0h0.6M485.8 68.2h0.6M486.5 52.2h0.6M473.3 48.7h0.6M470.6 48.0h0.6M470.4 54.7h0.6M493.1 54.0h0.6M497.1 41.3h0.6M484.4 47.4h0.6M479.4 41.6h0.6M477.8 47.5h0.6M473.2 55.1h0.6M483.5 55.4h0.6M474.4 44.1h0.6M469.9 53.2h0.6M485.0 48.0h0.6M473.1 48.7h0.6M481.6 51.3h0.6M476.4 55.0h0.6M487.4 42.7h0.6M480.4 48.6h0.6M469.0 44.7h0.6M480.0 55.4h0.6M473.1 45.8h0.6M476.7 45.6h0.6M468.0 53.2h0.6M476.6 50.9h0.6M483.0 45.5h0.6M471.2 43.9h0.6M474.5 43.1h0.6M476.0 39.5h0.6M474.9 44.5h0.6M479.9 51.1h0.6M490.9 55.4h0.6M483.1 48.3h0.6M478.8 50.5h0.6M476.8 48.6h0.6M472.4 50.6h0.6M472.0 45.5h0.6M474.6 63.8h0.6M479.3 54.3h0.6M469.7 51.9h0.6M476.4 54.0h0.6M475.7 41.5h0.6M483.9 48.7h0.6M469.2 47.8h0.6M471.8 52.6h0.6M479.1 50.6h0.6M471.8 56.5h0.6M474.4 50.3h0.6M476.8 48.9h0.6M469.9 48.9h0.6M481.3 40.7h0.6M485.8 42.5h0.6M474.6 44.6h0.6" stroke="#3a4cff" stroke-width="0.6" opacity="0.35"/>
<ellipse cx="465.5" cy="55.0" rx="7.00" ry="5.50" fill="url(#jetb)"/>
<ellipse cx="469.0" cy="54.3" rx="6.20" ry="5.60" fill="url(#jet)"/>
</g>
<rect x="458.1" y="23.3" width="43.3" height="45.2" fill="none" stroke="#c4c4c4" stroke-width="0.8"/>
<line x1="458.1" y1="23.3" x2="458.1" y2="68.5" stroke="#8a8a8a" stroke-width="0.9"/>
<line x1="458.1" y1="68.5" x2="501.4" y2="68.5" stroke="#aaa" stroke-width="0.8"/>
<rect x="474" y="26.3" width="21.0" height="24.1" fill="none" stroke="#888" stroke-width="0.75"/>
<text x="484.5" y="37.9" font-size="1.8" text-anchor="middle" fill="#888">CD11b+Ly6G+</text>
<text x="484.5" y="40.1" font-size="1.8" text-anchor="middle" fill="#888">1.6</text>
<line x1="456.90000000000003" y1="67.0" x2="458.1" y2="67.0" stroke="#999" stroke-width="0.5"/>
<text x="456.5" y="67.8" font-size="2.2" text-anchor="end" fill="#777">10<tspan dy="-0.8" font-size="1.5">1</tspan></text>
<line x1="456.90000000000003" y1="56.7" x2="458.1" y2="56.7" stroke="#999" stroke-width="0.5"/>
<text x="456.5" y="57.5" font-size="2.2" text-anchor="end" fill="#777">10<tspan dy="-0.8" font-size="1.5">2</tspan></text>
<line x1="456.90000000000003" y1="46.4" x2="458.1" y2="46.4" stroke="#999" stroke-width="0.5"/>
<text x="456.5" y="47.2" font-size="2.2" text-anchor="end" fill="#777">10<tspan dy="-0.8" font-size="1.5">3</tspan></text>
<line x1="456.90000000000003" y1="36.1" x2="458.1" y2="36.1" stroke="#999" stroke-width="0.5"/>
<text x="456.5" y="36.9" font-size="2.2" text-anchor="end" fill="#777">10<tspan dy="-0.8" font-size="1.5">4</tspan></text>
<line x1="456.90000000000003" y1="25.8" x2="458.1" y2="25.8" stroke="#999" stroke-width="0.5"/>
<text x="456.5" y="26.6" font-size="2.2" text-anchor="end" fill="#777">10<tspan dy="-0.8" font-size="1.5">5</tspan></text>
<text x="460.1" y="72.5" font-size="2.2" text-anchor="end" fill="#777" transform="rotate(-45 460.1 72.5)">10<tspan dy="-0.8" font-size="1.5">1</tspan></text>
<text x="469.9" y="72.5" font-size="2.2" text-anchor="end" fill="#777" transform="rotate(-45 469.9 72.5)">10<tspan dy="-0.8" font-size="1.5">2</tspan></text>
<text x="479.8" y="72.5" font-size="2.2" text-anchor="end" fill="#777" transform="rotate(-45 479.8 72.5)">10<tspan dy="-0.8" font-size="1.5">3</tspan></text>
<text x="489.6" y="72.5" font-size="2.2" text-anchor="end" fill="#777" transform="rotate(-45 489.6 72.5)">10<tspan dy="-0.8" font-size="1.5">4</tspan></text>
<text x="499.4" y="72.5" font-size="2.2" text-anchor="end" fill="#777" transform="rotate(-45 499.4 72.5)">10<tspan dy="-0.8" font-size="1.5">5</tspan></text>
<text x="479.8" y="76.8" font-size="2" text-anchor="middle" fill="#999">CD11b</text>
<text x="452.6" y="45.9" font-size="2" text-anchor="middle" fill="#999" transform="rotate(-90 452.6 45.9)">Ly6G</text>
<g clip-path="url(#fc3)">
<ellipse cx="367.0" cy="105.0" rx="16.00" ry="14.00" fill="url(#jetc)"/>
<path d="M376.0 100.4h0.6M363.1 107.2h0.6M367.8 113.8h0.6M363.2 99.7h0.6M360.2 98.2h0.6M372.3 108.6h0.6M363.8 103.4h0.6M348.7 111.2h0.6M370.2 87.5h0.6M362.0 103.8h0.6M378.1 106.6h0.6M376.6 117.2h0.6M372.4 96.9h0.6M355.8 102.2h0.6M372.8 108.1h0.6M356.1 110.4h0.6M359.4 101.5h0.6M374.8 105.6h0.6M362.4 98.5h0.6M367.2 106.8h0.6M365.4 98.4h0.6M370.4 111.4h0.6M357.6 109.8h0.6M361.7 102.6h0.6M374.4 94.8h0.6M365.7 118.3h0.6M378.4 100.2h0.6M358.0 114.9h0.6M368.7 107.0h0.6M354.3 105.5h0.6M354.4 102.6h0.6M381.5 114.7h0.6M379.5 105.2h0.6M369.8 101.6h0.6M383.0 100.6h0.6M355.3 101.0h0.6M375.2 100.5h0.6M368.2 93.1h0.6M361.3 94.0h0.6M357.4 102.4h0.6M371.1 119.9h0.6M371.0 95.6h0.6M357.5 92.0h0.6M365.4 96.4h0.6M364.4 95.1h0.6M378.9 101.8h0.6M372.2 101.9h0.6M384.6 92.8h0.6M370.8 115.8h0.6M366.5 112.6h0.6M366.5 114.1h0.6M366.8 119.2h0.6M354.5 111.5h0.6M363.2 101.8h0.6M371.9 100.1h0.6M361.8 109.9h0.6M358.1 103.1h0.6M375.5 98.5h0.6M377.0 96.4h0.6M369.1 105.7h0.6M355.6 111.2h0.6M355.3 116.2h0.6M379.2 99.6h0.6M367.4 103.3h0.6M355.0 97.9h0.6M366.1 104.6h0.6M376.8 100.8h0.6M362.2 110.2h0.6M373.0 102.8h0.6M368.5 100.0h0.6M365.4 87.5h0.6M352.4 111.7h0.6M361.5 95.8h0.6M370.8 121.5h0.6M375.2 108.3h0.6M366.9 119.8h0.6M381.1 107.1h0.6M364.4 106.1h0.6M371.6 104.1h0.6M363.1 100.3h0.6M355.3 102.9h0.6M369.3 94.2h0.6M359.8 112.6h0.6M360.1 107.7h0.6M357.6 88.7h0.6M369.3 109.3h0.6M368.1 103.8h0.6M377.9 101.7h0.6M359.7 106.1h0.6M374.6 106.8h0.6M374.4 116.5h0.6M359.8 103.0h0.6M364.0 108.8h0.6M353.1 111.8h0.6M354.8 107.0h0.6M363.3 100.3h0.6M370.4 94.0h0.6M370.6 101.2h0.6M354.9 111.8h0.6M356.0 108.7h0.6M362.6 100.9h0.6M376.9 106.2h0.6M364.0 110.9h0.6M362.1 116.5h0.6M360.9 108.1h0.6M361.3 109.5h0.6M358.8 103.1h0.6M371.5 93.4h0.6M364.2 107.0h0.6M361.7 100.8h0.6M371.1 110.5h0.6M353.0 96.4h0.6M344.6 103.0h0.6M370.2 96.3h0.6M355.6 106.7h0.6M361.0 119.6h0.6M377.0 88.3h0.6M370.6 108.5h0.6M370.9 102.9h0.6M353.5 104.0h0.6M360.9 117.4h0.6M369.8 113.3h0.6M356.8 103.1h0.6M363.3 95.9h0.6M361.3 90.5h0.6M365.8 95.5h0.6M365.7 105.7h0.6M362.5 96.8h0.6M371.0 108.8h0.6M360.6 110.8h0.6M343.5 103.7h0.6M368.3 102.3h0.6M351.3 102.5h0.6M372.2 105.0h0.6M354.2 103.3h0.6M378.8 113.1h0.6M377.0 102.6h0.6M371.3 103.1h0.6M364.6 94.8h0.6M365.6 111.7h0.6M366.5 88.8h0.6M370.2 94.7h0.6M369.7 97.2h0.6M378.1 102.0h0.6M373.9 92.2h0.6M364.1 104.6h0.6M354.3 99.0h0.6M361.2 104.3h0.6M366.0 90.3h0.6M374.9 108.5h0.6M360.7 111.3h0.6M363.7 98.9h0.6M354.8 82.5h0.6M367.9 112.6h0.6M370.5 108.5h0.6M381.2 91.8h0.6M371.4 119.8h0.6M364.8 119.4h0.6M363.5 99.5h0.6M350.8 108.8h0.6M372.8 108.9h0.6M368.1 110.3h0.6M364.9 90.7h0.6M368.7 108.9h0.6M388.3 100.9h0.6M367.5 90.4h0.6M352.1 95.1h0.6M378.1 105.4h0.6M366.9 100.1h0.6M368.2 111.2h0.6M371.0 103.7h0.6M367.7 107.4h0.6M371.8 107.3h0.6M364.0 93.0h0.6M367.2 104.3h0.6M365.3 100.7h0.6M356.8 112.4h0.6M360.6 103.3h0.6M362.0 93.5h0.6M371.2 91.3h0.6M365.5 100.2h0.6M365.7 95.5h0.6M373.7 113.9h0.6M371.2 99.6h0.6M354.9 119.8h0.6M349.8 93.8h0.6M368.3 107.6h0.6M356.1 107.3h0.6M354.3 109.3h0.6M368.9 103.6h0.6M374.4 106.4h0.6M347.1 110.2h0.6M368.1 111.6h0.6M364.1 110.1h0.6M363.3 107.6h0.6M373.3 99.8h0.6M361.1 104.6h0.6M372.6 107.2h0.6M367.6 109.8h0.6M369.3 96.1h0.6M377.0 114.5h0.6M374.8 90.8h0.6M376.2 95.6h0.6M366.3 102.8h0.6M379.4 112.1h0.6M366.2 108.1h0.6M361.5 95.7h0.6M371.5 110.5h0.6M366.7 116.9h0.6M380.8 101.0h0.6M368.7 108.6h0.6M351.5 113.9h0.6M374.6 107.9h0.6M366.6 101.9h0.6M377.9 100.0h0.6M370.1 104.2h0.6M377.2 116.7h0.6M368.0 105.0h0.6M357.2 96.5h0.6M369.6 108.2h0.6M366.9 95.1h0.6M359.0 81.5h0.6M364.9 83.8h0.6M350.4 95.7h0.6M373.2 93.8h0.6M370.1 118.5h0.6M370.7 107.6h0.6M355.4 100.2h0.6M351.6 107.8h0.6M369.3 114.2h0.6M365.4 105.6h0.6M358.2 106.4h0.6M374.8 107.1h0.6M371.7 104.1h0.6M369.2 104.5h0.6M358.7 103.0h0.6M371.6 106.4h0.6M364.8 96.8h0.6M369.9 99.5h0.6M364.1 108.8h0.6M374.3 99.3h0.6M362.6 109.8h0.6M363.5 117.4h0.6M373.6 104.5h0.6M357.2 110.4h0.6M367.4 91.9h0.6M358.7 102.3h0.6M371.0 87.9h0.6M364.6 104.6h0.6M383.2 105.6h0.6M367.2 103.2h0.6M368.1 108.2h0.6M363.6 107.2h0.6M380.3 101.4h0.6M370.4 118.7h0.6M359.5 103.3h0.6M360.4 110.3h0.6M374.4 107.1h0.6M365.4 103.0h0.6M367.1 112.6h0.6M368.8 115.7h0.6M381.7 101.6h0.6M379.3 114.5h0.6M365.5 85.5h0.6M358.2 109.8h0.6M351.1 114.4h0.6M359.0 105.8h0.6M360.4 100.3h0.6M367.4 94.0h0.6M363.5 99.2h0.6M371.4 95.5h0.6M382.0 117.2h0.6M355.8 93.4h0.6M361.3 106.2h0.6M370.3 108.8h0.6M372.3 103.1h0.6M356.3 96.2h0.6M362.5 97.3h0.6M384.6 100.2h0.6M375.5 109.8h0.6M359.1 93.1h0.6M363.2 106.3h0.6M363.1 112.4h0.6M360.8 98.7h0.6M368.0 119.7h0.6M372.4 118.6h0.6M362.6 112.8h0.6M370.0 123.9h0.6M363.4 106.3h0.6M359.9 95.5h0.6M372.7 109.1h0.6M359.2 112.6h0.6M366.2 105.3h0.6M382.2 111.6h0.6M376.4 117.9h0.6M370.3 103.4h0.6M379.6 119.5h0.6M356.1 99.0h0.6M361.5 99.4h0.6M378.3 103.5h0.6M366.1 107.9h0.6M372.8 106.0h0.6M371.1 95.0h0.6M368.8 99.5h0.6M367.7 116.2h0.6M370.9 105.2h0.6M378.1 120.0h0.6M372.5 100.0h0.6M379.4 106.2h0.6M360.4 109.4h0.6M361.9 100.3h0.6M357.4 96.4h0.6M371.5 84.1h0.6M370.6 110.5h0.6M371.5 103.4h0.6M356.2 103.4h0.6M370.8 114.3h0.6M366.5 88.1h0.6M359.6 94.7h0.6M370.4 106.2h0.6M366.2 101.3h0.6M350.6 100.7h0.6M373.2 94.8h0.6M357.8 91.7h0.6M361.2 105.2h0.6M350.0 105.6h0.6M356.6 120.3h0.6M361.9 105.7h0.6M350.9 110.5h0.6M365.6 99.8h0.6M376.8 102.2h0.6M362.0 114.7h0.6M361.6 108.3h0.6M360.2 94.6h0.6M377.7 106.4h0.6M373.7 111.1h0.6M366.3 107.5h0.6M361.8 99.7h0.6M368.6 87.1h0.6M365.0 95.6h0.6M365.4 94.8h0.6M375.8 108.7h0.6M360.1 108.9h0.6M349.9 91.9h0.6M370.2 117.0h0.6M365.3 109.8h0.6M367.4 116.9h0.6M361.6 91.1h0.6M359.6 104.5h0.6M370.4 98.6h0.6M374.8 91.6h0.6M367.6 95.6h0.6M362.4 99.2h0.6M374.4 116.5h0.6M348.2 100.9h0.6M368.3 96.6h0.6M364.6 103.1h0.6M372.1 97.5h0.6M372.1 102.3h0.6M366.3 98.7h0.6M365.0 104.7h0.6M386.2 111.8h0.6M369.3 105.2h0.6M360.0 113.0h0.6M356.8 98.3h0.6M373.0 99.5h0.6M358.5 125.8h0.6M358.1 101.3h0.6M355.4 105.4h0.6M374.5 125.0h0.6M376.7 108.8h0.6M366.3 113.8h0.6M365.9 109.5h0.6M355.4 109.1h0.6M355.8 101.9h0.6M352.2 94.6h0.6M378.6 106.9h0.6M358.7 114.3h0.6M350.1 103.8h0.6M356.3 109.1h0.6M373.3 101.9h0.6M363.2 98.9h0.6M374.4 106.3h0.6M382.1 107.0h0.6M367.8 96.3h0.6M358.0 109.9h0.6M364.1 112.8h0.6M371.4 99.8h0.6M363.2 113.1h0.6M373.8 111.7h0.6M359.7 106.2h0.6M360.4 123.1h0.6M364.2 104.8h0.6M364.6 97.8h0.6M371.1 100.2h0.6M367.5 108.8h0.6M366.9 101.6h0.6M372.0 104.8h0.6M356.8 86.3h0.6M356.3 104.7h0.6M376.0 98.5h0.6M366.7 95.0h0.6M371.9 117.8h0.6M358.5 103.9h0.6M382.4 100.1h0.6M359.0 103.9h0.6M368.5 102.0h0.6M365.5 112.9h0.6M358.6 113.2h0.6M361.1 111.5h0.6M376.0 104.8h0.6M362.3 95.0h0.6M354.8 109.6h0.6M352.1 103.7h0.6M362.5 111.7h0.6M361.4 114.3h0.6M364.7 120.4h0.6M363.0 100.6h0.6M357.9 113.3h0.6M362.4 111.7h0.6M362.6 92.8h0.6M376.9 113.4h0.6M362.7 111.4h0.6M350.7 109.9h0.6M363.4 106.0h0.6M363.9 105.2h0.6M364.1 99.9h0.6M364.9 105.5h0.6M372.8 105.6h0.6M360.9 102.5h0.6M363.2 118.8h0.6M355.9 105.4h0.6M356.8 108.1h0.6M361.4 104.0h0.6M361.2 110.7h0.6M375.7 108.8h0.6M372.6 107.0h0.6M341.8 95.4h0.6M368.1 100.3h0.6M354.1 87.6h0.6M360.0 116.7h0.6M358.5 113.1h0.6M359.6 110.1h0.6M369.5 96.3h0.6M359.7 98.2h0.6M370.2 91.1h0.6M365.0 98.4h0.6M379.1 93.6h0.6M368.4 105.1h0.6M377.0 111.7h0.6" stroke="#3a4cff" stroke-width="0.6" opacity="0.5"/>
<path d="M363.3 120.7h0.6M372.5 115.7h0.6M356.6 119.8h0.6M376.4 114.3h0.6M372.3 118.7h0.6M352.7 113.0h0.6M368.0 113.1h0.6M387.1 109.8h0.6M373.7 108.6h0.6M381.3 113.3h0.6M384.6 121.0h0.6M357.2 106.0h0.6M369.8 114.1h0.6M368.7 116.2h0.6M374.9 108.1h0.6M375.1 109.7h0.6M365.1 112.8h0.6M372.8 116.5h0.6M363.3 107.0h0.6M380.5 112.5h0.6M374.2 112.7h0.6M362.7 108.6h0.6M377.8 114.2h0.6M373.6 117.0h0.6M387.5 113.2h0.6M380.9 118.0h0.6M374.9 113.2h0.6M366.7 118.2h0.6M379.1 114.4h0.6M370.5 118.1h0.6M362.9 116.7h0.6M384.9 113.6h0.6M367.5 109.7h0.6M382.3 113.3h0.6M381.7 111.0h0.6M366.1 125.1h0.6M368.2 117.0h0.6M384.8 114.0h0.6M378.4 115.7h0.6M390.6 114.1h0.6M381.1 121.2h0.6M368.9 109.6h0.6M378.1 113.8h0.6M385.1 118.1h0.6M377.4 117.6h0.6M375.9 125.1h0.6M387.2 114.5h0.6M398.6 115.7h0.6M385.1 111.7h0.6M369.2 121.9h0.6M374.9 111.2h0.6M372.0 118.4h0.6M374.2 111.2h0.6M357.1 111.6h0.6M379.3 112.7h0.6M372.4 123.1h0.6M382.3 112.7h0.6M381.7 110.9h0.6M382.4 121.0h0.6M375.6 119.9h0.6M373.9 109.4h0.6M374.9 113.8h0.6M384.1 115.1h0.6M371.5 112.8h0.6M376.8 116.5h0.6M368.6 111.8h0.6M376.0 110.6h0.6M385.4 114.4h0.6M367.7 111.0h0.6M385.5 112.3h0.6M368.7 116.9h0.6M385.1 107.6h0.6M378.0 121.1h0.6M393.7 118.4h0.6M381.7 109.4h0.6M382.2 112.1h0.6M373.7 117.0h0.6M370.5 112.5h0.6M391.3 117.0h0.6M363.1 111.1h0.6M366.7 115.2h0.6M367.4 113.5h0.6M376.5 116.0h0.6M377.1 114.9h0.6M375.7 110.6h0.6M383.3 114.2h0.6M370.0 108.8h0.6M377.0 118.0h0.6M377.7 108.9h0.6M372.3 109.8h0.6M373.1 117.0h0.6M376.9 113.5h0.6M371.2 112.0h0.6M376.5 106.2h0.6M371.9 105.8h0.6M383.2 109.3h0.6M382.2 107.4h0.6M388.5 116.6h0.6M377.0 112.4h0.6M373.1 112.4h0.6M382.6 116.0h0.6M382.8 111.9h0.6M373.3 107.3h0.6M360.3 114.3h0.6M370.4 114.1h0.6M374.0 112.4h0.6M374.7 105.6h0.6M372.9 114.6h0.6M374.6 114.7h0.6M358.5 116.5h0.6M379.4 115.7h0.6M376.9 115.5h0.6M382.4 112.0h0.6M374.4 115.6h0.6M364.7 115.9h0.6M369.4 111.6h0.6M369.7 114.5h0.6M365.7 118.5h0.6M370.8 110.5h0.6M387.0 113.5h0.6M362.7 113.9h0.6M381.8 119.2h0.6M383.0 113.6h0.6M395.5 113.4h0.6M362.6 121.4h0.6M386.8 117.6h0.6M394.6 117.7h0.6M376.2 115.7h0.6M369.9 115.9h0.6M370.1 110.6h0.6M364.2 113.9h0.6M380.8 112.1h0.6M362.3 110.1h0.6M374.4 112.5h0.6M371.1 109.0h0.6M388.6 114.0h0.6M378.3 114.3h0.6M366.7 118.9h0.6M371.3 112.9h0.6M370.5 108.9h0.6M376.1 110.2h0.6M375.3 115.0h0.6M388.4 108.1h0.6M387.4 120.4h0.6M371.9 114.7h0.6M384.6 109.9h0.6M388.7 108.1h0.6M380.3 114.3h0.6M368.9 110.9h0.6M375.4 112.3h0.6M373.6 112.2h0.6M381.4 114.8h0.6M376.7 115.2h0.6M378.5 119.0h0.6M376.4 114.7h0.6M371.0 108.8h0.6M370.2 113.0h0.6M365.6 118.2h0.6M368.1 114.4h0.6M370.4 114.7h0.6M381.7 119.1h0.6M366.4 117.9h0.6M370.8 119.5h0.6M364.9 111.3h0.6M375.1 118.7h0.6M376.3 118.1h0.6M378.6 117.0h0.6M374.7 112.7h0.6M376.2 113.8h0.6M372.3 112.3h0.6M360.8 107.4h0.6M368.7 111.6h0.6M365.5 121.6h0.6M367.3 115.1h0.6M382.1 110.4h0.6M379.5 113.3h0.6M368.0 117.0h0.6M383.8 124.6h0.6M384.6 109.7h0.6M384.6 107.4h0.6M372.9 104.1h0.6M381.6 114.0h0.6M389.9 117.5h0.6M372.8 116.1h0.6M382.2 110.7h0.6M370.4 114.1h0.6M359.1 105.8h0.6M376.4 112.9h0.6M371.4 122.8h0.6M377.4 118.6h0.6M378.0 113.8h0.6M372.2 108.0h0.6M375.8 111.9h0.6M381.6 110.9h0.6M369.7 114.1h0.6M362.9 110.6h0.6M375.5 112.7h0.6M373.2 114.4h0.6M377.6 123.9h0.6M375.0 110.8h0.6M384.1 115.6h0.6M374.5 120.1h0.6M362.2 115.4h0.6M373.0 115.3h0.6M378.6 115.3h0.6M381.9 111.3h0.6M371.6 117.8h0.6M376.1 112.6h0.6M368.3 114.0h0.6M366.8 120.0h0.6M397.1 116.6h0.6M370.4 118.3h0.6M364.3 116.7h0.6M375.3 118.0h0.6M372.2 115.1h0.6M385.0 113.4h0.6M387.8 113.0h0.6M375.7 120.4h0.6M373.9 114.3h0.6M371.4 110.9h0.6" stroke="#3a4cff" stroke-width="0.6" opacity="0.5"/>
<path d="M361.4 101.3h0.6M355.5 94.4h0.6M358.2 105.8h0.6M359.7 102.1h0.6M355.3 114.5h0.6M356.9 99.2h0.6M357.3 108.1h0.6M358.7 103.3h0.6M357.8 95.6h0.6M358.6 102.5h0.6M360.0 104.2h0.6M360.2 82.1h0.6M358.4 101.7h0.6M360.4 93.7h0.6M354.8 85.9h0.6M355.9 85.7h0.6M357.7 106.0h0.6M355.4 92.1h0.6M356.4 89.2h0.6M360.7 89.4h0.6M360.0 94.8h0.6M354.5 94.5h0.6M356.8 86.3h0.6M355.8 103.1h0.6M357.8 75.4h0.6M359.7 101.4h0.6M358.7 120.5h0.6M353.2 99.0h0.6M359.8 81.8h0.6M359.7 95.0h0.6M354.9 110.0h0.6M359.5 89.1h0.6M357.8 86.5h0.6M363.9 87.0h0.6M358.4 94.8h0.6M361.7 100.3h0.6M358.8 104.3h0.6M357.8 105.2h0.6M362.5 114.6h0.6M352.4 99.4h0.6M360.3 101.1h0.6M361.5 98.2h0.6M360.7 89.4h0.6M355.1 84.8h0.6M359.6 102.2h0.6M361.8 100.1h0.6M359.4 93.3h0.6M361.6 100.8h0.6M358.6 112.8h0.6M355.0 101.1h0.6M358.2 102.0h0.6M359.1 104.4h0.6M354.3 98.2h0.6M355.8 98.2h0.6M354.5 102.5h0.6M358.9 110.7h0.6M353.6 88.5h0.6M357.3 96.5h0.6M353.3 88.2h0.6M356.5 102.0h0.6M358.8 96.9h0.6M362.0 108.0h0.6M359.5 99.7h0.6M360.0 99.3h0.6M362.4 87.8h0.6M357.4 97.0h0.6M358.7 92.5h0.6M353.5 96.1h0.6M361.7 93.9h0.6M359.5 103.5h0.6M358.4 94.7h0.6M357.8 110.2h0.6M359.1 99.9h0.6M357.5 99.2h0.6M361.3 108.1h0.6M358.8 100.5h0.6M361.6 110.2h0.6M359.6 92.4h0.6M352.3 88.2h0.6M357.6 100.8h0.6M357.3 92.5h0.6M360.6 97.0h0.6M356.1 89.2h0.6M359.7 94.3h0.6M359.1 100.5h0.6M358.5 98.2h0.6M359.1 88.6h0.6M359.3 94.7h0.6M356.7 97.7h0.6M357.1 98.8h0.6M356.5 115.0h0.6M354.2 98.9h0.6M356.4 87.0h0.6M358.6 108.6h0.6M356.6 108.3h0.6M354.3 98.5h0.6M355.4 86.7h0.6M355.8 90.7h0.6M358.5 110.4h0.6M359.8 110.3h0.6M357.4 92.6h0.6M361.5 109.5h0.6M355.9 97.0h0.6M359.7 98.1h0.6M355.2 101.7h0.6M353.7 117.0h0.6M359.2 89.2h0.6M360.7 108.9h0.6M361.2 99.7h0.6M354.9 91.3h0.6M362.5 96.0h0.6M356.0 94.6h0.6M353.9 94.2h0.6M358.5 92.9h0.6M362.3 90.1h0.6M360.9 101.8h0.6M362.1 100.7h0.6M353.2 87.9h0.6M358.4 90.7h0.6M361.0 84.5h0.6M359.8 94.8h0.6M359.1 104.8h0.6M352.9 92.7h0.6M359.0 98.5h0.6M354.5 93.4h0.6M357.6 94.3h0.6M359.4 110.5h0.6M359.3 87.4h0.6M355.5 103.1h0.6M360.4 92.2h0.6M356.5 79.8h0.6M361.0 97.3h0.6M356.6 103.4h0.6M359.0 108.6h0.6M355.7 99.3h0.6M355.3 97.8h0.6M356.7 86.3h0.6M355.5 102.2h0.6M356.0 97.3h0.6M352.1 100.5h0.6M351.7 93.8h0.6M358.3 115.2h0.6M358.6 90.5h0.6M356.7 100.4h0.6M358.9 95.1h0.6M360.2 103.1h0.6M356.0 99.3h0.6M359.3 87.6h0.6M355.7 99.6h0.6M357.3 104.2h0.6" stroke="#3a4cff" stroke-width="0.6" opacity="0.6"/>
<ellipse cx="358.5" cy="100.0" rx="5.20" ry="13.00" fill="url(#jetb)"/>
<ellipse cx="358.6" cy="97.0" rx="3.60" ry="6.50" fill="url(#jetm)"/>
<ellipse cx="372.0" cy="116.0" rx="12.00" ry="3.60" fill="url(#jetb)"/>
<ellipse cx="359.0" cy="117.0" rx="8.20" ry="8.20" fill="url(#jet)"/>
</g>
<rect x="350.5" y="79.3" width="42.6" height="45.2" fill="none" stroke="#c4c4c4" stroke-width="0.8"/>
<line x1="350.5" y1="79.3" x2="350.5" y2="124.5" stroke="#8a8a8a" stroke-width="0.9"/>
<line x1="350.5" y1="124.5" x2="393.1" y2="124.5" stroke="#aaa" stroke-width="0.8"/>
<rect x="371.5" y="84.4" width="19.6" height="26.0" fill="none" stroke="#888" stroke-width="0.75"/>
<text x="381.3" y="96.9" font-size="1.8" text-anchor="middle" fill="#888">CD11b+Ly6G+</text>
<text x="381.3" y="99.2" font-size="1.8" text-anchor="middle" fill="#888">1.6</text>
<line x1="349.3" y1="123.0" x2="350.5" y2="123.0" stroke="#999" stroke-width="0.5"/>
<text x="348.9" y="123.8" font-size="2.2" text-anchor="end" fill="#777">10<tspan dy="-0.8" font-size="1.5">1</tspan></text>
<line x1="349.3" y1="112.7" x2="350.5" y2="112.7" stroke="#999" stroke-width="0.5"/>
<text x="348.9" y="113.5" font-size="2.2" text-anchor="end" fill="#777">10<tspan dy="-0.8" font-size="1.5">2</tspan></text>
<line x1="349.3" y1="102.4" x2="350.5" y2="102.4" stroke="#999" stroke-width="0.5"/>
<text x="348.9" y="103.2" font-size="2.2" text-anchor="end" fill="#777">10<tspan dy="-0.8" font-size="1.5">3</tspan></text>
<line x1="349.3" y1="92.1" x2="350.5" y2="92.1" stroke="#999" stroke-width="0.5"/>
<text x="348.9" y="92.9" font-size="2.2" text-anchor="end" fill="#777">10<tspan dy="-0.8" font-size="1.5">4</tspan></text>
<line x1="349.3" y1="81.8" x2="350.5" y2="81.8" stroke="#999" stroke-width="0.5"/>
<text x="348.9" y="82.6" font-size="2.2" text-anchor="end" fill="#777">10<tspan dy="-0.8" font-size="1.5">5</tspan></text>
<text x="352.5" y="128.5" font-size="2.2" text-anchor="end" fill="#777" transform="rotate(-45 352.5 128.5)">10<tspan dy="-0.8" font-size="1.5">1</tspan></text>
<text x="362.2" y="128.5" font-size="2.2" text-anchor="end" fill="#777" transform="rotate(-45 362.2 128.5)">10<tspan dy="-0.8" font-size="1.5">2</tspan></text>
<text x="371.8" y="128.5" font-size="2.2" text-anchor="end" fill="#777" transform="rotate(-45 371.8 128.5)">10<tspan dy="-0.8" font-size="1.5">3</tspan></text>
<text x="381.5" y="128.5" font-size="2.2" text-anchor="end" fill="#777" transform="rotate(-45 381.5 128.5)">10<tspan dy="-0.8" font-size="1.5">4</tspan></text>
<text x="391.1" y="128.5" font-size="2.2" text-anchor="end" fill="#777" transform="rotate(-45 391.1 128.5)">10<tspan dy="-0.8" font-size="1.5">5</tspan></text>
<text x="371.8" y="132.8" font-size="2" text-anchor="middle" fill="#999">CD11b</text>
<text x="345.0" y="101.9" font-size="2" text-anchor="middle" fill="#999" transform="rotate(-90 345.0 101.9)">Ly6G</text>
<g clip-path="url(#fc4)">
<ellipse cx="419.0" cy="112.0" rx="8.00" ry="10.00" fill="url(#jetc)"/>
<path d="M421.1 109.5h0.6M422.5 112.2h0.6M421.6 126.1h0.6M416.5 104.0h0.6M422.2 108.8h0.6M416.6 117.3h0.6M417.6 100.2h0.6M423.5 110.4h0.6M415.9 113.5h0.6M419.3 107.8h0.6M421.8 105.7h0.6M419.7 110.0h0.6M421.0 114.4h0.6M415.9 109.0h0.6M424.9 116.0h0.6M421.9 116.8h0.6M420.0 104.5h0.6M417.5 110.8h0.6M419.3 101.2h0.6M424.2 108.7h0.6M421.6 100.8h0.6M420.2 107.7h0.6M423.0 108.0h0.6M423.2 118.0h0.6M415.1 107.0h0.6M416.4 111.7h0.6M419.9 107.0h0.6M417.3 111.2h0.6M420.8 107.5h0.6M419.9 114.3h0.6M422.3 108.3h0.6M423.3 119.2h0.6M420.2 112.2h0.6M420.9 110.0h0.6M418.8 116.7h0.6M418.0 110.9h0.6M418.6 112.9h0.6M422.6 117.0h0.6M414.5 112.3h0.6M418.8 116.3h0.6M422.9 110.4h0.6M417.6 102.3h0.6M421.1 114.4h0.6M418.9 105.7h0.6M418.7 109.9h0.6M416.3 111.0h0.6M413.5 108.0h0.6M409.3 113.0h0.6M425.1 102.7h0.6M420.5 111.5h0.6M417.1 115.9h0.6M414.0 113.3h0.6M417.0 110.7h0.6M412.8 110.6h0.6M420.4 111.8h0.6M412.3 116.9h0.6M420.0 113.2h0.6M421.3 108.9h0.6M422.3 113.5h0.6M417.6 111.4h0.6M421.8 123.1h0.6M416.9 97.9h0.6M419.9 107.4h0.6M417.8 109.2h0.6M420.6 112.2h0.6M415.8 109.9h0.6M416.0 110.2h0.6M418.1 115.8h0.6M413.8 117.9h0.6M415.0 114.2h0.6M427.6 111.1h0.6M423.5 113.3h0.6M417.3 118.6h0.6M413.9 115.1h0.6M418.2 116.1h0.6M422.2 114.5h0.6M418.9 117.5h0.6M414.7 117.0h0.6M423.3 109.4h0.6M419.9 114.7h0.6M423.8 113.2h0.6M418.4 110.5h0.6M415.9 103.3h0.6M424.1 118.2h0.6M422.2 110.4h0.6M422.8 119.2h0.6M419.1 114.6h0.6M414.8 113.8h0.6M425.1 117.9h0.6M422.8 115.4h0.6M417.4 107.1h0.6M416.7 111.8h0.6M418.1 116.0h0.6M414.5 115.6h0.6M414.1 111.6h0.6M418.5 116.7h0.6M417.9 111.3h0.6M420.0 109.0h0.6M423.2 110.4h0.6M419.0 117.3h0.6M419.8 111.2h0.6M422.6 115.5h0.6M418.1 120.0h0.6M417.3 119.4h0.6M423.0 112.8h0.6M418.2 115.8h0.6M412.3 105.2h0.6M423.7 108.9h0.6M421.2 116.3h0.6M416.1 117.6h0.6M414.3 111.8h0.6M418.5 101.7h0.6M423.4 104.4h0.6M414.8 115.9h0.6M414.5 112.7h0.6M417.0 109.0h0.6M415.4 109.5h0.6M418.8 113.5h0.6M416.0 116.4h0.6M418.6 115.1h0.6M416.6 105.3h0.6M427.4 108.6h0.6M424.1 115.3h0.6M418.8 109.5h0.6M417.4 117.7h0.6M416.6 114.8h0.6M417.8 110.3h0.6M417.3 106.1h0.6M421.7 116.9h0.6M421.1 107.6h0.6M416.7 108.0h0.6M421.7 109.6h0.6M416.9 113.1h0.6M419.8 112.2h0.6M421.3 107.3h0.6M424.3 109.1h0.6M415.6 118.0h0.6M415.3 111.9h0.6M415.5 119.0h0.6M420.6 118.8h0.6M418.6 105.2h0.6M425.3 119.4h0.6M418.8 113.6h0.6M417.8 103.7h0.6M417.1 105.2h0.6M419.1 111.5h0.6M421.6 120.9h0.6M421.8 110.5h0.6M416.5 119.1h0.6M409.3 101.9h0.6M412.2 119.8h0.6M411.4 111.4h0.6M423.8 111.4h0.6M411.7 112.1h0.6M418.3 113.8h0.6M416.1 109.4h0.6M422.2 111.7h0.6M416.0 113.8h0.6M421.4 117.5h0.6M423.9 104.6h0.6M419.6 104.6h0.6M419.1 125.8h0.6M419.8 113.0h0.6M416.0 109.9h0.6M420.8 116.0h0.6M420.2 123.4h0.6M413.1 116.2h0.6M412.9 117.6h0.6M419.2 107.0h0.6M418.4 107.8h0.6M420.1 103.4h0.6M421.8 115.3h0.6M418.0 112.2h0.6M422.8 119.8h0.6M420.2 114.2h0.6M412.3 107.3h0.6M419.2 109.5h0.6M414.6 111.7h0.6M424.0 118.2h0.6M412.0 112.9h0.6M416.1 116.2h0.6M417.6 112.3h0.6M420.0 108.9h0.6M413.7 103.1h0.6M421.0 108.3h0.6M417.7 115.5h0.6M419.6 117.3h0.6M415.2 119.4h0.6M420.3 115.6h0.6M427.5 115.4h0.6M418.9 114.6h0.6M420.2 115.0h0.6M418.1 115.7h0.6M424.2 107.5h0.6M421.8 111.4h0.6M421.8 110.7h0.6M424.4 114.4h0.6M417.6 110.5h0.6M419.4 117.1h0.6M421.3 119.8h0.6M418.3 111.9h0.6M421.2 125.4h0.6M419.6 117.9h0.6M424.0 104.6h0.6M418.0 113.9h0.6M419.1 116.2h0.6M421.6 106.7h0.6M415.8 108.4h0.6M407.3 101.8h0.6M418.8 109.6h0.6M413.2 108.6h0.6M417.8 108.9h0.6M423.0 111.5h0.6M410.4 115.6h0.6M423.0 119.9h0.6M421.0 112.5h0.6M424.0 115.1h0.6M418.5 115.1h0.6M416.1 113.8h0.6M413.8 112.2h0.6" stroke="#3a4cff" stroke-width="0.6" opacity="0.5"/>
<path d="M442.4 98.9h0.6M420.9 103.6h0.6M428.7 93.5h0.6M417.3 101.5h0.6M419.8 92.3h0.6M432.2 113.7h0.6M437.8 108.6h0.6M416.6 94.8h0.6M418.7 90.3h0.6M419.5 110.5h0.6M424.4 102.9h0.6M419.1 118.4h0.6M425.7 112.4h0.6M451.8 100.4h0.6M435.0 113.9h0.6M420.7 107.4h0.6M421.4 100.4h0.6M435.0 102.6h0.6M408.4 119.2h0.6M428.3 98.8h0.6M421.7 111.0h0.6M421.7 108.0h0.6M434.8 106.8h0.6M429.3 109.3h0.6M426.4 98.2h0.6M434.5 99.6h0.6M425.8 91.6h0.6M424.2 108.7h0.6M418.3 99.9h0.6M439.3 115.0h0.6M419.6 114.5h0.6M425.4 114.0h0.6M420.7 110.3h0.6M429.7 105.4h0.6M421.2 123.2h0.6M422.8 116.7h0.6M423.1 100.0h0.6M428.0 90.8h0.6M421.1 110.4h0.6M411.9 98.9h0.6M424.3 109.8h0.6M435.4 115.5h0.6M425.7 87.9h0.6M427.2 107.2h0.6M423.2 108.2h0.6M416.2 114.1h0.6M425.9 93.9h0.6M424.4 111.9h0.6M425.1 104.3h0.6M432.7 106.6h0.6M423.3 106.7h0.6M423.5 100.8h0.6M421.5 112.1h0.6M430.3 106.7h0.6M414.7 106.5h0.6M430.8 114.0h0.6M415.8 112.2h0.6M430.2 112.0h0.6M438.2 78.2h0.6M419.4 98.1h0.6" stroke="#3a4cff" stroke-width="0.6" opacity="0.35"/>
<path d="M423.3 101.1h0.6M422.4 100.8h0.6M419.4 100.2h0.6M421.4 99.9h0.6M419.3 102.7h0.6M418.4 98.0h0.6M415.2 99.5h0.6M423.4 99.7h0.6M420.1 103.1h0.6M417.7 101.7h0.6M417.4 102.3h0.6M420.8 98.7h0.6M419.5 100.1h0.6M420.7 103.2h0.6M419.1 99.2h0.6M416.8 103.4h0.6M421.0 102.1h0.6M418.8 100.0h0.6M420.7 102.8h0.6M424.5 102.9h0.6M419.4 105.7h0.6M413.9 100.3h0.6M422.0 101.2h0.6M418.9 102.2h0.6M423.7 101.0h0.6M424.4 100.0h0.6M417.1 99.1h0.6M417.8 97.9h0.6M419.8 102.8h0.6M418.6 99.1h0.6M418.3 101.4h0.6M416.1 101.1h0.6M424.4 100.9h0.6M417.9 99.2h0.6M422.2 100.2h0.6M419.2 105.2h0.6M418.5 102.4h0.6M420.6 100.1h0.6M416.7 105.2h0.6M422.6 101.1h0.6M425.3 100.3h0.6M418.8 99.0h0.6M419.7 102.1h0.6M418.1 100.4h0.6M416.5 98.8h0.6M417.2 103.1h0.6M419.1 101.4h0.6M422.8 103.2h0.6M420.4 102.8h0.6M417.9 100.2h0.6" stroke="#3a4cff" stroke-width="0.6" opacity="0.5"/>
<ellipse cx="419.2" cy="100.6" rx="2.80" ry="2.60" fill="url(#jetb)"/>
<ellipse cx="419.5" cy="119.5" rx="2.20" ry="5.00" fill="url(#jetb)"/>
<ellipse cx="418.3" cy="112.4" rx="4.80" ry="7.80" fill="url(#jet)"/>
<ellipse cx="436.9" cy="103.2" rx="2.80" ry="2.60" fill="url(#jetm)"/>
</g>
<rect x="404.4" y="80.2" width="43.3" height="44.8" fill="none" stroke="#c4c4c4" stroke-width="0.8"/>
<line x1="404.4" y1="80.2" x2="404.4" y2="125" stroke="#8a8a8a" stroke-width="0.9"/>
<line x1="404.4" y1="125" x2="447.7" y2="125" stroke="#aaa" stroke-width="0.8"/>
<rect x="430.1" y="84.4" width="15.4" height="26.2" fill="none" stroke="#888" stroke-width="0.75"/>
<text x="437.8" y="97.0" font-size="1.8" text-anchor="middle" fill="#888">CD11b+Ly6G+</text>
<text x="437.8" y="99.3" font-size="1.8" text-anchor="middle" fill="#888">1.6</text>
<line x1="403.2" y1="123.5" x2="404.4" y2="123.5" stroke="#999" stroke-width="0.5"/>
<text x="402.8" y="124.3" font-size="2.2" text-anchor="end" fill="#777">10<tspan dy="-0.8" font-size="1.5">1</tspan></text>
<line x1="403.2" y1="113.3" x2="404.4" y2="113.3" stroke="#999" stroke-width="0.5"/>
<text x="402.8" y="114.1" font-size="2.2" text-anchor="end" fill="#777">10<tspan dy="-0.8" font-size="1.5">2</tspan></text>
<line x1="403.2" y1="103.1" x2="404.4" y2="103.1" stroke="#999" stroke-width="0.5"/>
<text x="402.8" y="103.9" font-size="2.2" text-anchor="end" fill="#777">10<tspan dy="-0.8" font-size="1.5">3</tspan></text>
<line x1="403.2" y1="92.9" x2="404.4" y2="92.9" stroke="#999" stroke-width="0.5"/>
<text x="402.8" y="93.7" font-size="2.2" text-anchor="end" fill="#777">10<tspan dy="-0.8" font-size="1.5">4</tspan></text>
<line x1="403.2" y1="82.7" x2="404.4" y2="82.7" stroke="#999" stroke-width="0.5"/>
<text x="402.8" y="83.5" font-size="2.2" text-anchor="end" fill="#777">10<tspan dy="-0.8" font-size="1.5">5</tspan></text>
<text x="406.4" y="129.0" font-size="2.2" text-anchor="end" fill="#777" transform="rotate(-45 406.4 129.0)">10<tspan dy="-0.8" font-size="1.5">1</tspan></text>
<text x="416.2" y="129.0" font-size="2.2" text-anchor="end" fill="#777" transform="rotate(-45 416.2 129.0)">10<tspan dy="-0.8" font-size="1.5">2</tspan></text>
<text x="426.1" y="129.0" font-size="2.2" text-anchor="end" fill="#777" transform="rotate(-45 426.1 129.0)">10<tspan dy="-0.8" font-size="1.5">3</tspan></text>
<text x="435.9" y="129.0" font-size="2.2" text-anchor="end" fill="#777" transform="rotate(-45 435.9 129.0)">10<tspan dy="-0.8" font-size="1.5">4</tspan></text>
<text x="445.7" y="129.0" font-size="2.2" text-anchor="end" fill="#777" transform="rotate(-45 445.7 129.0)">10<tspan dy="-0.8" font-size="1.5">5</tspan></text>
<text x="426.0" y="133.3" font-size="2" text-anchor="middle" fill="#999">CD11b</text>
<text x="398.9" y="102.6" font-size="2" text-anchor="middle" fill="#999" transform="rotate(-90 398.9 102.6)">Ly6G</text>
<g clip-path="url(#fc5)">
<ellipse cx="470.0" cy="109.0" rx="12.00" ry="10.00" fill="url(#jetc)"/>
<path d="M478.2 118.0h0.6M473.5 117.6h0.6M470.0 112.0h0.6M468.9 105.3h0.6M461.9 110.9h0.6M463.4 109.2h0.6M477.4 111.4h0.6M466.8 113.4h0.6M469.9 109.0h0.6M462.1 113.9h0.6M468.9 108.4h0.6M462.0 110.7h0.6M465.2 107.5h0.6M471.1 108.7h0.6M472.2 115.0h0.6M466.7 110.5h0.6M468.3 109.3h0.6M470.7 108.7h0.6M465.6 106.1h0.6M469.6 113.0h0.6M473.2 110.0h0.6M466.7 104.8h0.6M469.5 113.5h0.6M470.9 111.1h0.6M477.1 110.4h0.6M463.5 109.2h0.6M471.2 111.1h0.6M480.7 110.8h0.6M472.2 108.2h0.6M463.5 114.2h0.6M473.1 104.0h0.6M471.6 113.5h0.6M477.1 111.1h0.6M466.0 109.9h0.6M472.4 106.4h0.6M471.0 110.6h0.6M466.1 106.2h0.6M468.2 114.9h0.6M471.9 115.5h0.6M460.3 112.8h0.6M466.3 114.8h0.6M469.7 118.3h0.6M465.5 111.7h0.6M455.0 119.3h0.6M463.8 107.2h0.6M470.7 118.0h0.6M466.2 115.3h0.6M463.8 116.3h0.6M470.9 115.0h0.6M472.5 110.6h0.6M467.5 114.4h0.6M473.3 116.2h0.6M472.5 111.0h0.6M470.2 110.1h0.6M468.1 113.2h0.6M472.8 112.1h0.6M467.5 113.2h0.6M462.6 114.1h0.6M472.3 108.3h0.6M467.5 115.4h0.6M474.2 110.8h0.6M471.7 101.2h0.6M473.8 117.6h0.6M465.4 101.9h0.6M469.9 115.7h0.6M467.2 116.4h0.6M472.2 111.3h0.6M472.7 115.9h0.6M470.4 106.1h0.6M461.3 103.6h0.6M461.6 116.2h0.6M473.3 106.6h0.6M474.7 106.8h0.6M471.0 111.9h0.6M465.7 110.0h0.6M465.4 110.4h0.6M473.5 107.2h0.6M471.9 106.4h0.6M477.3 106.4h0.6M462.0 109.5h0.6M467.1 109.7h0.6M470.0 104.6h0.6M476.4 108.0h0.6M466.9 107.9h0.6M467.2 115.5h0.6M468.4 112.9h0.6M482.5 115.8h0.6M471.9 105.6h0.6M473.1 114.9h0.6M468.9 104.5h0.6M467.8 107.5h0.6M474.9 112.7h0.6M470.4 107.7h0.6M465.4 114.2h0.6M473.3 116.8h0.6M470.4 111.0h0.6M472.2 107.2h0.6M468.0 108.7h0.6M473.4 105.8h0.6M465.7 110.8h0.6M471.1 110.3h0.6M470.5 109.8h0.6M463.1 111.1h0.6M475.4 110.6h0.6M468.6 111.9h0.6M471.1 111.2h0.6M461.3 114.8h0.6M477.7 107.7h0.6M466.1 112.3h0.6M467.4 102.8h0.6M479.2 107.4h0.6M475.9 109.6h0.6M466.5 105.7h0.6M468.6 111.8h0.6M476.1 111.3h0.6M468.4 111.3h0.6M465.2 113.9h0.6M474.9 111.3h0.6M471.1 111.7h0.6M466.6 117.5h0.6M464.5 114.2h0.6M473.6 107.1h0.6M473.1 104.9h0.6M473.7 104.7h0.6M475.3 111.8h0.6M459.9 105.8h0.6M464.7 108.3h0.6M465.5 109.0h0.6M469.0 106.2h0.6M467.2 110.6h0.6M483.1 111.8h0.6M464.4 112.0h0.6M476.1 114.8h0.6M467.4 114.8h0.6M461.1 112.2h0.6M473.4 109.0h0.6M476.8 110.7h0.6M469.4 106.8h0.6M468.9 111.8h0.6M470.7 107.5h0.6M468.8 110.5h0.6M471.6 109.7h0.6M466.8 122.0h0.6M477.2 107.0h0.6M475.1 107.8h0.6M469.7 111.2h0.6M468.5 110.7h0.6M467.5 113.3h0.6M475.3 117.4h0.6M455.1 117.9h0.6M467.1 104.4h0.6M468.4 120.5h0.6M476.8 116.7h0.6M465.4 118.1h0.6M478.2 118.0h0.6M475.0 110.1h0.6M465.5 108.3h0.6M469.3 111.3h0.6M468.1 108.6h0.6M459.9 109.2h0.6M464.8 113.6h0.6M475.4 112.8h0.6M472.9 112.6h0.6M469.1 107.0h0.6M465.0 110.9h0.6M462.6 114.8h0.6M468.2 111.5h0.6M467.6 107.8h0.6M466.9 113.5h0.6M472.2 110.3h0.6M467.0 111.4h0.6M463.1 109.9h0.6M462.5 108.2h0.6M473.4 111.8h0.6M463.2 107.8h0.6M469.6 106.1h0.6M468.9 116.9h0.6M470.0 115.5h0.6M469.0 116.9h0.6M469.3 111.0h0.6M474.8 108.8h0.6M467.2 109.0h0.6M469.7 109.7h0.6M478.6 105.3h0.6M471.7 107.4h0.6M469.2 115.6h0.6M465.6 101.5h0.6M471.6 116.1h0.6M468.7 108.4h0.6M465.9 112.0h0.6M465.9 103.6h0.6M465.3 110.5h0.6M468.3 111.6h0.6M472.5 117.7h0.6M462.5 113.5h0.6M467.8 110.3h0.6M460.4 114.3h0.6M458.2 109.1h0.6M479.4 109.2h0.6M472.7 107.6h0.6M464.3 113.1h0.6M472.1 109.0h0.6M464.1 108.8h0.6M468.3 107.3h0.6M474.5 108.3h0.6M466.7 107.6h0.6M462.2 112.8h0.6M465.3 112.4h0.6M468.7 122.0h0.6M472.8 119.7h0.6M458.6 111.5h0.6M472.6 106.7h0.6M470.8 108.3h0.6M476.8 110.0h0.6M468.1 120.0h0.6M467.9 106.3h0.6M471.0 107.6h0.6M462.0 112.1h0.6M471.9 105.0h0.6M473.9 104.3h0.6M467.7 115.4h0.6M471.7 105.7h0.6M466.6 106.9h0.6M459.1 113.7h0.6M480.9 106.9h0.6M460.2 108.5h0.6M471.0 113.5h0.6M465.6 116.0h0.6M465.3 112.2h0.6M481.8 112.7h0.6M470.0 113.7h0.6M468.0 111.4h0.6M464.4 106.2h0.6M462.0 113.4h0.6M462.1 112.5h0.6M481.1 114.3h0.6M466.1 112.6h0.6M476.4 108.3h0.6M475.0 104.1h0.6M463.1 115.2h0.6M462.4 116.9h0.6M466.5 112.4h0.6M468.4 106.7h0.6M473.1 110.8h0.6M473.8 105.0h0.6M456.0 110.6h0.6M468.6 109.8h0.6M471.8 112.1h0.6M460.1 105.1h0.6M465.0 110.4h0.6M467.6 111.8h0.6M456.5 114.3h0.6M467.7 111.6h0.6M475.9 112.9h0.6M465.7 109.1h0.6M475.4 111.4h0.6M472.6 110.7h0.6M478.4 122.4h0.6M467.4 110.7h0.6M467.3 107.5h0.6" stroke="#3a4cff" stroke-width="0.6" opacity="0.5"/>
<path d="M500.9 109.1h0.6M470.5 95.6h0.6M490.2 101.0h0.6M492.1 97.2h0.6M495.4 92.6h0.6M485.7 97.7h0.6M482.5 103.9h0.6M479.1 98.4h0.6M478.0 109.2h0.6M469.9 98.7h0.6M489.5 94.0h0.6M470.1 101.8h0.6M466.8 88.0h0.6M482.8 98.2h0.6M488.8 95.6h0.6M488.7 97.3h0.6M473.1 105.8h0.6M492.2 95.2h0.6M478.6 100.1h0.6M486.0 99.4h0.6M478.3 107.7h0.6M484.7 92.8h0.6M473.4 96.8h0.6M490.2 105.6h0.6M474.3 106.7h0.6M487.0 104.8h0.6M487.3 95.7h0.6M473.9 107.1h0.6M476.1 103.0h0.6M489.9 99.2h0.6M490.8 105.4h0.6M498.8 101.8h0.6M482.6 100.9h0.6M473.5 102.2h0.6M476.4 100.5h0.6M487.2 101.1h0.6M472.3 105.4h0.6M484.6 96.3h0.6M482.3 108.5h0.6M481.0 99.5h0.6M488.1 104.8h0.6M481.5 93.6h0.6M479.2 94.8h0.6M494.9 103.3h0.6M480.6 89.3h0.6M477.3 106.4h0.6M486.1 98.7h0.6M456.3 99.4h0.6M477.1 105.4h0.6M480.3 102.1h0.6M491.3 96.8h0.6M472.2 96.0h0.6M486.1 110.1h0.6M488.7 96.8h0.6M499.7 98.3h0.6M486.1 99.2h0.6M490.9 96.5h0.6M482.9 104.9h0.6M481.5 101.0h0.6M484.7 92.7h0.6M484.8 94.8h0.6M478.3 97.5h0.6M479.2 104.0h0.6M477.3 104.0h0.6M481.5 97.6h0.6M477.8 100.6h0.6M484.0 95.9h0.6M483.8 98.5h0.6M481.9 99.2h0.6M480.5 95.2h0.6M496.6 104.8h0.6M477.3 97.4h0.6M478.4 106.8h0.6M472.7 104.9h0.6M478.3 97.9h0.6M472.0 103.4h0.6M493.8 103.4h0.6M477.2 90.3h0.6M479.3 102.5h0.6M471.1 101.3h0.6M475.0 93.2h0.6M471.1 106.9h0.6M479.3 92.4h0.6M476.9 88.5h0.6M468.7 91.2h0.6M484.8 105.6h0.6M475.6 106.1h0.6M474.3 106.8h0.6M487.5 102.1h0.6M478.8 85.7h0.6M481.7 96.7h0.6M482.7 103.2h0.6M484.2 98.2h0.6M486.5 99.4h0.6M475.3 102.9h0.6M477.4 95.8h0.6M490.0 98.2h0.6M482.3 93.1h0.6M484.4 110.9h0.6M484.8 101.8h0.6" stroke="#3a4cff" stroke-width="0.6" opacity="0.4"/>
<ellipse cx="476.2" cy="95.3" rx="2.20" ry="2.60" fill="url(#jetb)"/>
<ellipse cx="466.0" cy="111.5" rx="7.00" ry="5.50" fill="url(#jetb)"/>
<ellipse cx="469.4" cy="111.0" rx="6.20" ry="5.60" fill="url(#jet)"/>
</g>
<rect x="458.1" y="80.2" width="43.0" height="45.3" fill="none" stroke="#c4c4c4" stroke-width="0.8"/>
<line x1="458.1" y1="80.2" x2="458.1" y2="125.5" stroke="#8a8a8a" stroke-width="0.9"/>
<line x1="458.1" y1="125.5" x2="501.1" y2="125.5" stroke="#aaa" stroke-width="0.8"/>
<rect x="474" y="83.1" width="21.0" height="24.4" fill="none" stroke="#888" stroke-width="0.75"/>
<text x="484.5" y="94.8" font-size="1.8" text-anchor="middle" fill="#888">CD11b+Ly6G+</text>
<text x="484.5" y="97.1" font-size="1.8" text-anchor="middle" fill="#888">1.6</text>
<line x1="456.90000000000003" y1="124.0" x2="458.1" y2="124.0" stroke="#999" stroke-width="0.5"/>
<text x="456.5" y="124.8" font-size="2.2" text-anchor="end" fill="#777">10<tspan dy="-0.8" font-size="1.5">1</tspan></text>
<line x1="456.90000000000003" y1="113.7" x2="458.1" y2="113.7" stroke="#999" stroke-width="0.5"/>
<text x="456.5" y="114.5" font-size="2.2" text-anchor="end" fill="#777">10<tspan dy="-0.8" font-size="1.5">2</tspan></text>
<line x1="456.90000000000003" y1="103.3" x2="458.1" y2="103.3" stroke="#999" stroke-width="0.5"/>
<text x="456.5" y="104.1" font-size="2.2" text-anchor="end" fill="#777">10<tspan dy="-0.8" font-size="1.5">3</tspan></text>
<line x1="456.90000000000003" y1="93.0" x2="458.1" y2="93.0" stroke="#999" stroke-width="0.5"/>
<text x="456.5" y="93.8" font-size="2.2" text-anchor="end" fill="#777">10<tspan dy="-0.8" font-size="1.5">4</tspan></text>
<line x1="456.90000000000003" y1="82.7" x2="458.1" y2="82.7" stroke="#999" stroke-width="0.5"/>
<text x="456.5" y="83.5" font-size="2.2" text-anchor="end" fill="#777">10<tspan dy="-0.8" font-size="1.5">5</tspan></text>
<text x="460.1" y="129.5" font-size="2.2" text-anchor="end" fill="#777" transform="rotate(-45 460.1 129.5)">10<tspan dy="-0.8" font-size="1.5">1</tspan></text>
<text x="469.9" y="129.5" font-size="2.2" text-anchor="end" fill="#777" transform="rotate(-45 469.9 129.5)">10<tspan dy="-0.8" font-size="1.5">2</tspan></text>
<text x="479.6" y="129.5" font-size="2.2" text-anchor="end" fill="#777" transform="rotate(-45 479.6 129.5)">10<tspan dy="-0.8" font-size="1.5">3</tspan></text>
<text x="489.4" y="129.5" font-size="2.2" text-anchor="end" fill="#777" transform="rotate(-45 489.4 129.5)">10<tspan dy="-0.8" font-size="1.5">4</tspan></text>
<text x="499.1" y="129.5" font-size="2.2" text-anchor="end" fill="#777" transform="rotate(-45 499.1 129.5)">10<tspan dy="-0.8" font-size="1.5">5</tspan></text>
<text x="479.6" y="133.8" font-size="2" text-anchor="middle" fill="#999">CD11b</text>
<text x="452.6" y="102.8" font-size="2" text-anchor="middle" fill="#999" transform="rotate(-90 452.6 102.8)">Ly6G</text>
<text transform="translate(372.8 19.7) scale(1 1.15)" font-size="6.3" font-weight="bold" text-anchor="middle" fill="#111">Blood</text>
<text transform="translate(424.8 19.4) scale(1 1.15)" font-size="6.3" font-weight="bold" text-anchor="middle" fill="#111">Spleen</text>
<text transform="translate(478.3 20.5) scale(1 1.15)" font-size="6.3" font-weight="bold" text-anchor="middle" fill="#111">BALF</text>
<text x="341.6" y="50.2" font-size="6.6" font-weight="bold" text-anchor="middle" fill="#111" transform="rotate(-90 341.6 50.2)">Sham</text>
<text x="341.6" y="105" font-size="6.6" font-weight="bold" text-anchor="middle" fill="#111" transform="rotate(-90 341.6 105)">CLP</text>
<path d="M343.1 135.5 V125.5 M343.1 135.5 H390" stroke="#111" stroke-width="1" fill="none"/>
<path d="M343.1 122.8 L341 126.4 L345.2 126.4 Z" fill="#111"/>
<path d="M393.2 135.5 L389.6 133.4 L389.6 137.6 Z" fill="#111"/>
<text x="336.4" y="130" font-size="6.3" font-weight="bold" text-anchor="middle" fill="#111" transform="rotate(-90 336.4 130)">Ly6G</text>
<text x="370" y="144.6" font-size="6.3" font-weight="bold" text-anchor="middle" fill="#111">CD11b</text>
<rect x="18.3" y="173.2" width="93.3" height="31.8" fill="#f1f1f1"/>
<rect x="18.3" y="206.3" width="93.3" height="27.1" fill="#f1f1f1"/>
<rect x="18.3" y="235.4" width="93.3" height="20.5" fill="#f1f1f1"/>
<rect x="18.3" y="259.9" width="93.3" height="20.5" fill="#f1f1f1"/>
<rect x="18.3" y="282.6" width="93.3" height="20.6" fill="#f1f1f1"/>
<rect x="18.3" y="304.8" width="93.3" height="15.2" fill="#f1f1f1"/>
<rect x="20.1" y="178.46" width="13.6" height="9.07" rx="2" fill="#bebebe" filter="url(#bb2)"/>
<rect x="20.6" y="180.61" width="12.6" height="4.77" rx="1.8" fill="#151515" filter="url(#bb)"/>
<rect x="35.1" y="178.55" width="12.4" height="8.90" rx="2" fill="#c2c2c2" filter="url(#bb2)"/>
<rect x="35.6" y="180.66" width="11.4" height="4.68" rx="1.8" fill="#252525" filter="url(#bb)"/>
<rect x="49.3" y="178.46" width="14.8" height="9.07" rx="2" fill="#bebebe" filter="url(#bb2)"/>
<rect x="49.8" y="180.61" width="13.8" height="4.77" rx="1.8" fill="#151515" filter="url(#bb)"/>
<rect x="65.5" y="178.84" width="14.4" height="8.32" rx="2" fill="#cdcdcd" filter="url(#bb2)"/>
<rect x="66.0" y="180.81" width="13.4" height="4.38" rx="1.8" fill="#585858" filter="url(#bb)"/>
<rect x="80.9" y="178.97" width="12.2" height="8.07" rx="2" fill="#d2d2d2" filter="url(#bb2)"/>
<rect x="81.4" y="180.88" width="11.2" height="4.25" rx="1.8" fill="#6f6f6f" filter="url(#bb)"/>
<rect x="94.9" y="178.90" width="13.4" height="8.19" rx="2" fill="#d0d0d0" filter="url(#bb2)"/>
<rect x="95.4" y="180.84" width="12.4" height="4.31" rx="1.8" fill="#646464" filter="url(#bb)"/>
<rect x="20.6" y="194.81" width="12.6" height="2.99" rx="1.8" fill="#d4d4d4" filter="url(#bb)"/>
<rect x="35.6" y="194.82" width="11.4" height="2.97" rx="1.8" fill="#d9d9d9" filter="url(#bb)"/>
<rect x="49.8" y="194.75" width="13.8" height="3.10" rx="1.8" fill="#bebebe" filter="url(#bb)"/>
<rect x="65.5" y="192.74" width="14.4" height="7.11" rx="2" fill="#c6c6c6" filter="url(#bb2)"/>
<rect x="66.0" y="194.43" width="13.4" height="3.74" rx="1.8" fill="#373737" filter="url(#bb)"/>
<rect x="80.9" y="192.76" width="12.2" height="7.07" rx="2" fill="#c7c7c7" filter="url(#bb2)"/>
<rect x="81.4" y="194.44" width="11.2" height="3.72" rx="1.8" fill="#3b3b3b" filter="url(#bb)"/>
<rect x="94.9" y="192.76" width="13.4" height="7.07" rx="2" fill="#c7c7c7" filter="url(#bb2)"/>
<rect x="95.4" y="194.44" width="12.4" height="3.72" rx="1.8" fill="#3b3b3b" filter="url(#bb)"/>
<rect x="20.1" y="210.14" width="13.6" height="5.32" rx="2" fill="#c0c0c0" filter="url(#bb2)"/>
<rect x="20.6" y="211.40" width="12.6" height="2.80" rx="1.8" fill="#1c1c1c" filter="url(#bb)"/>
<rect x="35.1" y="210.16" width="12.4" height="5.29" rx="2" fill="#c1c1c1" filter="url(#bb2)"/>
<rect x="35.6" y="211.41" width="11.4" height="2.78" rx="1.8" fill="#202020" filter="url(#bb)"/>
<rect x="49.3" y="210.16" width="14.8" height="5.29" rx="2" fill="#c1c1c1" filter="url(#bb2)"/>
<rect x="49.8" y="211.41" width="13.8" height="2.78" rx="1.8" fill="#202020" filter="url(#bb)"/>
<rect x="65.5" y="210.31" width="14.4" height="4.99" rx="2" fill="#cbcbcb" filter="url(#bb2)"/>
<rect x="66.0" y="211.49" width="13.4" height="2.63" rx="1.8" fill="#4d4d4d" filter="url(#bb)"/>
<rect x="80.9" y="210.29" width="12.2" height="5.02" rx="2" fill="#cacaca" filter="url(#bb2)"/>
<rect x="81.4" y="211.48" width="11.2" height="2.64" rx="1.8" fill="#494949" filter="url(#bb)"/>
<rect x="94.9" y="210.25" width="13.4" height="5.11" rx="2" fill="#c7c7c7" filter="url(#bb2)"/>
<rect x="95.4" y="211.46" width="12.4" height="2.69" rx="1.8" fill="#3b3b3b" filter="url(#bb)"/>
<rect x="20.6" y="224.19" width="12.6" height="2.22" rx="1.8" fill="#c2c2c2" filter="url(#bb)"/>
<rect x="35.6" y="224.18" width="11.4" height="2.24" rx="1.8" fill="#bebebe" filter="url(#bb)"/>
<rect x="49.8" y="224.14" width="13.8" height="2.31" rx="1.8" fill="#a7a7a7" filter="url(#bb)"/>
<rect x="65.5" y="222.73" width="14.4" height="5.14" rx="2" fill="#c6c6c6" filter="url(#bb2)"/>
<rect x="66.0" y="223.95" width="13.4" height="2.70" rx="1.8" fill="#373737" filter="url(#bb)"/>
<rect x="80.9" y="222.75" width="12.2" height="5.11" rx="2" fill="#c7c7c7" filter="url(#bb2)"/>
<rect x="81.4" y="223.96" width="11.2" height="2.69" rx="1.8" fill="#3b3b3b" filter="url(#bb)"/>
<rect x="94.9" y="222.69" width="13.4" height="5.21" rx="2" fill="#c3c3c3" filter="url(#bb2)"/>
<rect x="95.4" y="223.93" width="12.4" height="2.74" rx="1.8" fill="#2b2b2b" filter="url(#bb)"/>
<rect x="20.1" y="238.30" width="13.6" height="5.79" rx="2" fill="#cacaca" filter="url(#bb2)"/>
<rect x="20.6" y="239.68" width="12.6" height="3.05" rx="1.8" fill="#494949" filter="url(#bb)"/>
<rect x="35.1" y="238.19" width="12.4" height="6.01" rx="2" fill="#c3c3c3" filter="url(#bb2)"/>
<rect x="35.6" y="239.62" width="11.4" height="3.17" rx="1.8" fill="#2b2b2b" filter="url(#bb)"/>
<rect x="49.3" y="238.19" width="14.8" height="6.01" rx="2" fill="#c3c3c3" filter="url(#bb2)"/>
<rect x="49.8" y="239.62" width="13.8" height="3.17" rx="1.8" fill="#2b2b2b" filter="url(#bb)"/>
<rect x="65.5" y="238.49" width="14.4" height="5.42" rx="2" fill="#d5d5d5" filter="url(#bb2)"/>
<rect x="66.0" y="239.77" width="13.4" height="2.85" rx="1.8" fill="#7a7a7a" filter="url(#bb)"/>
<rect x="80.9" y="238.65" width="12.2" height="5.11" rx="2" fill="#dedede" filter="url(#bb2)"/>
<rect x="81.4" y="239.86" width="11.2" height="2.69" rx="1.8" fill="#a3a3a3" filter="url(#bb)"/>
<rect x="94.9" y="238.61" width="13.4" height="5.18" rx="2" fill="#dcdcdc" filter="url(#bb2)"/>
<rect x="95.4" y="239.84" width="12.4" height="2.72" rx="1.8" fill="#9a9a9a" filter="url(#bb)"/>
<rect x="20.6" y="249.59" width="12.6" height="2.62" rx="1.8" fill="#dddddd" filter="url(#bb)"/>
<rect x="35.6" y="249.58" width="11.4" height="2.64" rx="1.8" fill="#d9d9d9" filter="url(#bb)"/>
<rect x="49.8" y="249.60" width="13.8" height="2.61" rx="1.8" fill="#dfdfdf" filter="url(#bb)"/>
<rect x="65.5" y="247.97" width="14.4" height="5.87" rx="2" fill="#d2d2d2" filter="url(#bb2)"/>
<rect x="66.0" y="249.36" width="13.4" height="3.09" rx="1.8" fill="#6f6f6f" filter="url(#bb)"/>
<rect x="80.9" y="247.97" width="12.2" height="5.87" rx="2" fill="#d2d2d2" filter="url(#bb2)"/>
<rect x="81.4" y="249.36" width="11.2" height="3.09" rx="1.8" fill="#6f6f6f" filter="url(#bb)"/>
<rect x="94.9" y="247.90" width="13.4" height="5.99" rx="2" fill="#cfcfcf" filter="url(#bb2)"/>
<rect x="95.4" y="249.32" width="12.4" height="3.16" rx="1.8" fill="#5f5f5f" filter="url(#bb)"/>
<rect x="20.1" y="261.93" width="13.6" height="5.13" rx="2" fill="#d2d2d2" filter="url(#bb2)"/>
<rect x="20.6" y="263.15" width="12.6" height="2.70" rx="1.8" fill="#6f6f6f" filter="url(#bb)"/>
<rect x="35.1" y="261.88" width="12.4" height="5.25" rx="2" fill="#cfcfcf" filter="url(#bb2)"/>
<rect x="35.6" y="263.12" width="11.4" height="2.76" rx="1.8" fill="#5f5f5f" filter="url(#bb)"/>
<rect x="49.3" y="261.93" width="14.8" height="5.13" rx="2" fill="#d2d2d2" filter="url(#bb2)"/>
<rect x="49.8" y="263.15" width="13.8" height="2.70" rx="1.8" fill="#6f6f6f" filter="url(#bb)"/>
<rect x="66.0" y="263.30" width="13.4" height="2.39" rx="1.8" fill="#c2c2c2" filter="url(#bb)"/>
<rect x="81.4" y="263.30" width="11.2" height="2.39" rx="1.8" fill="#c2c2c2" filter="url(#bb)"/>
<rect x="95.4" y="263.33" width="12.4" height="2.34" rx="1.8" fill="#d0d0d0" filter="url(#bb)"/>
<rect x="20.6" y="272.88" width="12.6" height="3.04" rx="1.8" fill="#c9c9c9" filter="url(#bb)"/>
<rect x="35.6" y="272.91" width="11.4" height="2.99" rx="1.8" fill="#d4d4d4" filter="url(#bb)"/>
<rect x="49.8" y="272.88" width="13.8" height="3.04" rx="1.8" fill="#c9c9c9" filter="url(#bb)"/>
<rect x="65.5" y="271.07" width="14.4" height="6.66" rx="2" fill="#d1d1d1" filter="url(#bb2)"/>
<rect x="66.0" y="272.65" width="13.4" height="3.51" rx="1.8" fill="#686868" filter="url(#bb)"/>
<rect x="80.9" y="271.09" width="12.2" height="6.62" rx="2" fill="#d2d2d2" filter="url(#bb2)"/>
<rect x="81.4" y="272.66" width="11.2" height="3.48" rx="1.8" fill="#6c6c6c" filter="url(#bb)"/>
<rect x="94.9" y="271.11" width="13.4" height="6.58" rx="2" fill="#d3d3d3" filter="url(#bb2)"/>
<rect x="95.4" y="272.67" width="12.4" height="3.46" rx="1.8" fill="#717171" filter="url(#bb)"/>
<rect x="20.1" y="284.75" width="13.6" height="4.10" rx="2" fill="#d0d0d0" filter="url(#bb2)"/>
<rect x="20.6" y="285.72" width="12.6" height="2.16" rx="1.8" fill="#646464" filter="url(#bb)"/>
<rect x="35.1" y="284.75" width="12.4" height="4.10" rx="2" fill="#d0d0d0" filter="url(#bb2)"/>
<rect x="35.6" y="285.72" width="11.4" height="2.16" rx="1.8" fill="#646464" filter="url(#bb)"/>
<rect x="49.3" y="284.75" width="14.8" height="4.10" rx="2" fill="#d0d0d0" filter="url(#bb2)"/>
<rect x="49.8" y="285.72" width="13.8" height="2.16" rx="1.8" fill="#646464" filter="url(#bb)"/>
<rect x="66.0" y="285.88" width="13.4" height="1.84" rx="1.8" fill="#d0d0d0" filter="url(#bb)"/>
<rect x="81.4" y="285.90" width="11.2" height="1.79" rx="1.8" fill="#dfdfdf" filter="url(#bb)"/>
<rect x="95.4" y="285.88" width="12.4" height="1.84" rx="1.8" fill="#d0d0d0" filter="url(#bb)"/>
<rect x="20.6" y="294.63" width="12.6" height="2.14" rx="1.8" fill="#d9d9d9" filter="url(#bb)"/>
<rect x="35.6" y="294.65" width="11.4" height="2.10" rx="1.8" fill="#e4e4e4" filter="url(#bb)"/>
<rect x="49.8" y="294.64" width="13.8" height="2.13" rx="1.8" fill="#dddddd" filter="url(#bb)"/>
<rect x="65.5" y="293.26" width="14.4" height="4.87" rx="2" fill="#cfcfcf" filter="url(#bb2)"/>
<rect x="66.0" y="294.42" width="13.4" height="2.56" rx="1.8" fill="#5f5f5f" filter="url(#bb)"/>
<rect x="80.9" y="293.29" width="12.2" height="4.81" rx="2" fill="#d1d1d1" filter="url(#bb2)"/>
<rect x="81.4" y="294.43" width="11.2" height="2.53" rx="1.8" fill="#686868" filter="url(#bb)"/>
<rect x="94.9" y="293.31" width="13.4" height="4.78" rx="2" fill="#d2d2d2" filter="url(#bb2)"/>
<rect x="95.4" y="294.44" width="12.4" height="2.52" rx="1.8" fill="#6c6c6c" filter="url(#bb)"/>
<rect x="20.1" y="308.00" width="13.6" height="7.01" rx="2" fill="#bebebe" filter="url(#bb2)"/>
<rect x="20.6" y="309.66" width="12.6" height="3.69" rx="1.8" fill="#151515" filter="url(#bb)"/>
<rect x="35.1" y="308.02" width="12.4" height="6.95" rx="2" fill="#c0c0c0" filter="url(#bb2)"/>
<rect x="35.6" y="309.67" width="11.4" height="3.66" rx="1.8" fill="#1c1c1c" filter="url(#bb)"/>
<rect x="49.3" y="308.01" width="14.8" height="6.97" rx="2" fill="#bfbfbf" filter="url(#bb2)"/>
<rect x="49.8" y="309.67" width="13.8" height="3.67" rx="1.8" fill="#191919" filter="url(#bb)"/>
<rect x="65.5" y="307.98" width="14.4" height="7.05" rx="2" fill="#bdbdbd" filter="url(#bb2)"/>
<rect x="66.0" y="309.65" width="13.4" height="3.71" rx="1.8" fill="#101010" filter="url(#bb)"/>
<rect x="80.9" y="308.04" width="12.2" height="6.91" rx="2" fill="#c1c1c1" filter="url(#bb2)"/>
<rect x="81.4" y="309.68" width="11.2" height="3.64" rx="1.8" fill="#202020" filter="url(#bb)"/>
<rect x="94.9" y="308.04" width="13.4" height="6.91" rx="2" fill="#c1c1c1" filter="url(#bb2)"/>
<rect x="95.4" y="309.68" width="12.4" height="3.64" rx="1.8" fill="#202020" filter="url(#bb)"/>
<rect x="18.3" y="173.2" width="93.3" height="31.8" fill="none" stroke="#333" stroke-width="1.0"/>
<rect x="18.3" y="206.3" width="93.3" height="27.1" fill="none" stroke="#333" stroke-width="1.0"/>
<rect x="18.3" y="235.4" width="93.3" height="20.5" fill="none" stroke="#333" stroke-width="1.0"/>
<rect x="18.3" y="259.9" width="93.3" height="20.5" fill="none" stroke="#333" stroke-width="1.0"/>
<rect x="18.3" y="282.6" width="93.3" height="20.6" fill="none" stroke="#333" stroke-width="1.0"/>
<rect x="18.3" y="304.8" width="93.3" height="15.2" fill="none" stroke="#333" stroke-width="1.0"/>
<text x="0.9" y="186.7" font-size="4.6" font-weight="700" fill="#3a3a3a" textLength="15" lengthAdjust="spacingAndGlyphs">50 KDa</text>
<line x1="16.6" y1="185.0" x2="18.3" y2="185.0" stroke="#222" stroke-width="0.8"/>
<text x="0.9" y="199.0" font-size="4.6" font-weight="700" fill="#3a3a3a" textLength="15" lengthAdjust="spacingAndGlyphs">30 KDa</text>
<line x1="16.6" y1="197.3" x2="18.3" y2="197.3" stroke="#222" stroke-width="0.8"/>
<text x="0.9" y="214.6" font-size="4.6" font-weight="700" fill="#3a3a3a" textLength="15" lengthAdjust="spacingAndGlyphs">50 KDa</text>
<line x1="16.6" y1="212.9" x2="18.3" y2="212.9" stroke="#222" stroke-width="0.8"/>
<text x="0.9" y="226.6" font-size="4.6" font-weight="700" fill="#3a3a3a" textLength="15" lengthAdjust="spacingAndGlyphs">30 KDa</text>
<line x1="16.6" y1="224.9" x2="18.3" y2="224.9" stroke="#222" stroke-width="0.8"/>
<text x="0.9" y="240.9" font-size="4.6" font-weight="700" fill="#3a3a3a" textLength="15" lengthAdjust="spacingAndGlyphs">50 KDa</text>
<line x1="16.6" y1="239.2" x2="18.3" y2="239.2" stroke="#222" stroke-width="0.8"/>
<text x="0.9" y="250.3" font-size="4.6" font-weight="700" fill="#3a3a3a" textLength="15" lengthAdjust="spacingAndGlyphs">30 KDa</text>
<line x1="16.6" y1="248.6" x2="18.3" y2="248.6" stroke="#222" stroke-width="0.8"/>
<text x="0.9" y="266.7" font-size="4.6" font-weight="700" fill="#3a3a3a" textLength="15" lengthAdjust="spacingAndGlyphs">30 KDa</text>
<line x1="16.6" y1="265.0" x2="18.3" y2="265.0" stroke="#222" stroke-width="0.8"/>
<text x="0.9" y="275.9" font-size="4.6" font-weight="700" fill="#3a3a3a" textLength="15" lengthAdjust="spacingAndGlyphs">15 KDa</text>
<line x1="16.6" y1="274.2" x2="18.3" y2="274.2" stroke="#222" stroke-width="0.8"/>
<text x="0.9" y="284.9" font-size="4.6" font-weight="700" fill="#3a3a3a" textLength="15" lengthAdjust="spacingAndGlyphs">36 KDa</text>
<line x1="16.6" y1="283.2" x2="18.3" y2="283.2" stroke="#222" stroke-width="0.8"/>
<text x="0.9" y="295.2" font-size="4.6" font-weight="700" fill="#3a3a3a" textLength="15" lengthAdjust="spacingAndGlyphs">15 KDa</text>
<line x1="16.6" y1="293.5" x2="18.3" y2="293.5" stroke="#222" stroke-width="0.8"/>
<text x="0.9" y="313.2" font-size="4.6" font-weight="700" fill="#3a3a3a" textLength="15" lengthAdjust="spacingAndGlyphs">35 KDa</text>
<line x1="16.6" y1="311.5" x2="18.3" y2="311.5" stroke="#222" stroke-width="0.8"/>
<text x="116.5" y="184.9" font-size="5.3" font-weight="bold" fill="#222" textLength="29.2" lengthAdjust="spacingAndGlyphs">Pro-GSDMD</text>
<text x="116.5" y="197.9" font-size="5.3" font-weight="bold" fill="#222" textLength="29.4" lengthAdjust="spacingAndGlyphs">GSDMD-p30</text>
<text x="116.5" y="216.3" font-size="5.3" font-weight="bold" fill="#222" textLength="35.9" lengthAdjust="spacingAndGlyphs">Pro-Caspase-1</text>
<text x="116.5" y="228.9" font-size="5.3" font-weight="bold" fill="#222" textLength="36.6" lengthAdjust="spacingAndGlyphs">Caspase 1-p20</text>
<text x="116.5" y="245.3" font-size="5.3" font-weight="bold" fill="#222" textLength="38.1" lengthAdjust="spacingAndGlyphs">Pro-Caspase-11</text>
<text x="116.5" y="253.1" font-size="5.3" font-weight="bold" fill="#222" textLength="38.5" lengthAdjust="spacingAndGlyphs">Caspase 11-p20</text>
<text x="116.5" y="268.4" font-size="5.3" font-weight="bold" fill="#222" textLength="22.9" lengthAdjust="spacingAndGlyphs">Pro-IL-1β</text>
<text x="116.5" y="278.6" font-size="5.3" font-weight="bold" fill="#222" textLength="12.6" lengthAdjust="spacingAndGlyphs">IL-1β</text>
<text x="116.5" y="291.5" font-size="5.3" font-weight="bold" fill="#222" textLength="22.9" lengthAdjust="spacingAndGlyphs">Pro-IL-18</text>
<text x="116.5" y="301.5" font-size="5.3" font-weight="bold" fill="#222" textLength="12.6" lengthAdjust="spacingAndGlyphs">IL-18</text>
<text x="116.5" y="316.0" font-size="5.3" font-weight="bold" fill="#222" textLength="18.6" lengthAdjust="spacingAndGlyphs">GAPDH</text>
<text x="26.8" y="170.4" font-size="5.8" font-weight="bold" fill="#222" transform="rotate(-45 26.8 170.4)">Blood</text>
<text x="43.6" y="168.8" font-size="5.8" font-weight="bold" fill="#222" transform="rotate(-45 43.6 168.8)">Spleen</text>
<text x="58.4" y="170.2" font-size="5.8" font-weight="bold" fill="#222" transform="rotate(-45 58.4 170.2)">BALF</text>
<text x="73.1" y="170.4" font-size="5.8" font-weight="bold" fill="#222" transform="rotate(-45 73.1 170.4)">Blood</text>
<text x="89.0" y="170.0" font-size="5.8" font-weight="bold" fill="#222" transform="rotate(-45 89.0 170.0)">Spleen</text>
<text x="104.4" y="170.0" font-size="5.8" font-weight="bold" fill="#222" transform="rotate(-45 104.4 170.0)">BALF</text>
<rect x="18.3" y="322.6" width="92.8" height="10.6" fill="none" stroke="#333" stroke-width="0.9"/>
<line x1="65.4" y1="322.6" x2="65.4" y2="333.2" stroke="#333" stroke-width="0.9"/>
<text transform="translate(42 330.2) scale(1 1.15)" font-size="5.4" font-weight="bold" text-anchor="middle" fill="#222">Sham</text>
<text transform="translate(88 330.2) scale(1 1.15)" font-size="5.4" font-weight="bold" text-anchor="middle" fill="#222">CLP</text>
<clipPath id="hc0"><rect x="130.2" y="22" width="64.5" height="49.6"/></clipPath>
<g clip-path="url(#hc0)">
<rect x="130.2" y="22" width="64.5" height="49.6" fill="#d860c4"/>
<path d="M143.9 65.2a0.64 0.64 0 1 0 1.29 0a0.64 0.64 0 1 0 -1.29 0M188.6 46.2a0.83 0.83 0 1 0 1.65 0a0.83 0.83 0 1 0 -1.65 0M178.9 47.7a0.68 0.68 0 1 0 1.37 0a0.68 0.68 0 1 0 -1.37 0M141.4 26.0a0.88 0.88 0 1 0 1.76 0a0.88 0.88 0 1 0 -1.76 0M157.7 29.9a0.95 0.95 0 1 0 1.89 0a0.95 0.95 0 1 0 -1.89 0M147.2 42.5a0.68 0.68 0 1 0 1.37 0a0.68 0.68 0 1 0 -1.37 0M169.9 50.8a0.82 0.82 0 1 0 1.64 0a0.82 0.82 0 1 0 -1.64 0M146.7 36.1a0.66 0.66 0 1 0 1.33 0a0.66 0.66 0 1 0 -1.33 0M150.7 29.2a0.62 0.62 0 1 0 1.25 0a0.62 0.62 0 1 0 -1.25 0M191.7 69.6a0.63 0.63 0 1 0 1.27 0a0.63 0.63 0 1 0 -1.27 0M130.9 32.1a0.86 0.86 0 1 0 1.73 0a0.86 0.86 0 1 0 -1.73 0M179.7 23.1a0.81 0.81 0 1 0 1.62 0a0.81 0.81 0 1 0 -1.62 0M129.5 47.6a0.84 0.84 0 1 0 1.68 0a0.84 0.84 0 1 0 -1.68 0M192.9 34.9a0.91 0.91 0 1 0 1.82 0a0.91 0.91 0 1 0 -1.82 0M185.8 67.8a0.55 0.55 0 1 0 1.10 0a0.55 0.55 0 1 0 -1.10 0M159.8 70.7a0.73 0.73 0 1 0 1.46 0a0.73 0.73 0 1 0 -1.46 0M181.8 49.1a0.90 0.90 0 1 0 1.79 0a0.90 0.90 0 1 0 -1.79 0M160.9 23.4a0.59 0.59 0 1 0 1.18 0a0.59 0.59 0 1 0 -1.18 0M136.4 34.5a0.98 0.98 0 1 0 1.97 0a0.98 0.98 0 1 0 -1.97 0M170.1 62.5a0.80 0.80 0 1 0 1.61 0a0.80 0.80 0 1 0 -1.61 0M170.2 62.3a0.97 0.97 0 1 0 1.93 0a0.97 0.97 0 1 0 -1.93 0M188.5 62.9a0.59 0.59 0 1 0 1.18 0a0.59 0.59 0 1 0 -1.18 0M152.7 23.8a0.80 0.80 0 1 0 1.59 0a0.80 0.80 0 1 0 -1.59 0M180.9 24.5a0.63 0.63 0 1 0 1.27 0a0.63 0.63 0 1 0 -1.27 0M152.9 34.1a0.91 0.91 0 1 0 1.82 0a0.91 0.91 0 1 0 -1.82 0M152.1 53.7a0.77 0.77 0 1 0 1.54 0a0.77 0.77 0 1 0 -1.54 0M166.9 68.6a0.97 0.97 0 1 0 1.95 0a0.97 0.97 0 1 0 -1.95 0M136.7 63.8a0.71 0.71 0 1 0 1.41 0a0.71 0.71 0 1 0 -1.41 0M135.9 41.0a0.78 0.78 0 1 0 1.56 0a0.78 0.78 0 1 0 -1.56 0M191.6 40.4a0.56 0.56 0 1 0 1.11 0a0.56 0.56 0 1 0 -1.11 0M184.9 27.5a0.77 0.77 0 1 0 1.53 0a0.77 0.77 0 1 0 -1.53 0M184.3 47.5a0.75 0.75 0 1 0 1.50 0a0.75 0.75 0 1 0 -1.50 0M181.0 23.0a0.81 0.81 0 1 0 1.62 0a0.81 0.81 0 1 0 -1.62 0M155.8 70.9a0.91 0.91 0 1 0 1.82 0a0.91 0.91 0 1 0 -1.82 0M132.9 31.4a0.75 0.75 0 1 0 1.51 0a0.75 0.75 0 1 0 -1.51 0M174.8 38.5a0.71 0.71 0 1 0 1.42 0a0.71 0.71 0 1 0 -1.42 0M188.9 69.3a0.73 0.73 0 1 0 1.47 0a0.73 0.73 0 1 0 -1.47 0M187.6 38.4a0.59 0.59 0 1 0 1.17 0a0.59 0.59 0 1 0 -1.17 0M163.2 54.8a0.95 0.95 0 1 0 1.90 0a0.95 0.95 0 1 0 -1.90 0M191.6 60.2a0.89 0.89 0 1 0 1.78 0a0.89 0.89 0 1 0 -1.78 0M175.1 56.8a0.90 0.90 0 1 0 1.79 0a0.90 0.90 0 1 0 -1.79 0M192.5 40.5a0.59 0.59 0 1 0 1.17 0a0.59 0.59 0 1 0 -1.17 0M144.9 33.0a0.71 0.71 0 1 0 1.43 0a0.71 0.71 0 1 0 -1.43 0M181.7 25.0a0.75 0.75 0 1 0 1.50 0a0.75 0.75 0 1 0 -1.50 0M182.1 35.1a0.58 0.58 0 1 0 1.16 0a0.58 0.58 0 1 0 -1.16 0M144.9 26.2a0.91 0.91 0 1 0 1.83 0a0.91 0.91 0 1 0 -1.83 0M140.3 31.7a0.92 0.92 0 1 0 1.83 0a0.92 0.92 0 1 0 -1.83 0M181.5 51.2a0.96 0.96 0 1 0 1.92 0a0.96 0.96 0 1 0 -1.92 0M133.3 69.9a0.81 0.81 0 1 0 1.61 0a0.81 0.81 0 1 0 -1.61 0M148.9 63.0a0.85 0.85 0 1 0 1.69 0a0.85 0.85 0 1 0 -1.69 0M193.0 27.3a0.81 0.81 0 1 0 1.62 0a0.81 0.81 0 1 0 -1.62 0M160.0 54.4a0.66 0.66 0 1 0 1.32 0a0.66 0.66 0 1 0 -1.32 0M131.5 49.0a0.71 0.71 0 1 0 1.43 0a0.71 0.71 0 1 0 -1.43 0M187.0 44.8a0.74 0.74 0 1 0 1.48 0a0.74 0.74 0 1 0 -1.48 0M170.0 48.1a0.98 0.98 0 1 0 1.97 0a0.98 0.98 0 1 0 -1.97 0M180.4 46.6a0.65 0.65 0 1 0 1.29 0a0.65 0.65 0 1 0 -1.29 0M168.3 59.1a0.89 0.89 0 1 0 1.78 0a0.89 0.89 0 1 0 -1.78 0M193.5 32.8a0.74 0.74 0 1 0 1.48 0a0.74 0.74 0 1 0 -1.48 0M156.8 37.8a0.71 0.71 0 1 0 1.43 0a0.71 0.71 0 1 0 -1.43 0M160.4 48.9a0.67 0.67 0 1 0 1.34 0a0.67 0.67 0 1 0 -1.34 0M138.3 37.0a0.61 0.61 0 1 0 1.22 0a0.61 0.61 0 1 0 -1.22 0M149.9 55.7a0.82 0.82 0 1 0 1.64 0a0.82 0.82 0 1 0 -1.64 0M193.7 49.8a0.80 0.80 0 1 0 1.59 0a0.80 0.80 0 1 0 -1.59 0M170.8 58.0a0.83 0.83 0 1 0 1.65 0a0.83 0.83 0 1 0 -1.65 0M167.4 52.0a0.71 0.71 0 1 0 1.42 0a0.71 0.71 0 1 0 -1.42 0M179.7 52.0a0.69 0.69 0 1 0 1.38 0a0.69 0.69 0 1 0 -1.38 0M145.3 25.5a0.71 0.71 0 1 0 1.41 0a0.71 0.71 0 1 0 -1.41 0M130.5 30.2a0.58 0.58 0 1 0 1.15 0a0.58 0.58 0 1 0 -1.15 0M147.3 39.3a0.82 0.82 0 1 0 1.63 0a0.82 0.82 0 1 0 -1.63 0M179.6 53.0a0.62 0.62 0 1 0 1.24 0a0.62 0.62 0 1 0 -1.24 0M187.1 58.2a0.77 0.77 0 1 0 1.55 0a0.77 0.77 0 1 0 -1.55 0M171.1 47.3a0.63 0.63 0 1 0 1.25 0a0.63 0.63 0 1 0 -1.25 0M170.7 71.0a0.90 0.90 0 1 0 1.79 0a0.90 0.90 0 1 0 -1.79 0M140.9 27.9a0.97 0.97 0 1 0 1.94 0a0.97 0.97 0 1 0 -1.94 0M188.0 59.2a0.89 0.89 0 1 0 1.78 0a0.89 0.89 0 1 0 -1.78 0M138.8 62.3a0.64 0.64 0 1 0 1.27 0a0.64 0.64 0 1 0 -1.27 0M139.6 42.2a0.55 0.55 0 1 0 1.10 0a0.55 0.55 0 1 0 -1.10 0M183.9 30.0a0.88 0.88 0 1 0 1.77 0a0.88 0.88 0 1 0 -1.77 0M167.0 60.2a0.82 0.82 0 1 0 1.64 0a0.82 0.82 0 1 0 -1.64 0M191.4 40.8a0.77 0.77 0 1 0 1.55 0a0.77 0.77 0 1 0 -1.55 0M151.3 58.8a0.69 0.69 0 1 0 1.37 0a0.69 0.69 0 1 0 -1.37 0M181.1 26.3a0.66 0.66 0 1 0 1.31 0a0.66 0.66 0 1 0 -1.31 0M157.8 28.3a0.64 0.64 0 1 0 1.28 0a0.64 0.64 0 1 0 -1.28 0M183.8 40.5a0.65 0.65 0 1 0 1.30 0a0.65 0.65 0 1 0 -1.30 0M183.9 50.5a0.84 0.84 0 1 0 1.67 0a0.84 0.84 0 1 0 -1.67 0M186.9 57.4a0.67 0.67 0 1 0 1.34 0a0.67 0.67 0 1 0 -1.34 0M130.0 49.3a0.87 0.87 0 1 0 1.74 0a0.87 0.87 0 1 0 -1.74 0M181.3 31.5a0.84 0.84 0 1 0 1.67 0a0.84 0.84 0 1 0 -1.67 0M190.1 34.8a0.68 0.68 0 1 0 1.36 0a0.68 0.68 0 1 0 -1.36 0M156.7 50.3a1.00 1.00 0 1 0 1.99 0a1.00 1.00 0 1 0 -1.99 0M167.3 66.0a0.85 0.85 0 1 0 1.69 0a0.85 0.85 0 1 0 -1.69 0M160.0 37.2a0.71 0.71 0 1 0 1.42 0a0.71 0.71 0 1 0 -1.42 0M179.7 30.8a0.61 0.61 0 1 0 1.22 0a0.61 0.61 0 1 0 -1.22 0M143.2 55.2a0.72 0.72 0 1 0 1.43 0a0.72 0.72 0 1 0 -1.43 0M142.9 38.4a0.59 0.59 0 1 0 1.17 0a0.59 0.59 0 1 0 -1.17 0M157.6 62.2a0.75 0.75 0 1 0 1.50 0a0.75 0.75 0 1 0 -1.50 0M158.4 23.4a0.68 0.68 0 1 0 1.35 0a0.68 0.68 0 1 0 -1.35 0M134.1 24.4a0.94 0.94 0 1 0 1.88 0a0.94 0.94 0 1 0 -1.88 0M175.7 63.2a0.61 0.61 0 1 0 1.22 0a0.61 0.61 0 1 0 -1.22 0M153.0 67.3a0.75 0.75 0 1 0 1.49 0a0.75 0.75 0 1 0 -1.49 0M189.4 69.7a0.55 0.55 0 1 0 1.11 0a0.55 0.55 0 1 0 -1.11 0M157.4 50.9a0.71 0.71 0 1 0 1.41 0a0.71 0.71 0 1 0 -1.41 0M153.8 39.6a0.65 0.65 0 1 0 1.31 0a0.65 0.65 0 1 0 -1.31 0M130.9 58.3a1.00 1.00 0 1 0 2.00 0a1.00 1.00 0 1 0 -2.00 0M131.9 64.6a0.79 0.79 0 1 0 1.59 0a0.79 0.79 0 1 0 -1.59 0M130.7 25.4a0.79 0.79 0 1 0 1.57 0a0.79 0.79 0 1 0 -1.57 0M136.3 36.7a0.67 0.67 0 1 0 1.35 0a0.67 0.67 0 1 0 -1.35 0M192.1 45.3a0.68 0.68 0 1 0 1.36 0a0.68 0.68 0 1 0 -1.36 0M189.8 69.9a0.87 0.87 0 1 0 1.75 0a0.87 0.87 0 1 0 -1.75 0M138.3 66.1a0.75 0.75 0 1 0 1.50 0a0.75 0.75 0 1 0 -1.50 0M180.1 57.8a0.84 0.84 0 1 0 1.69 0a0.84 0.84 0 1 0 -1.69 0M178.9 62.3a0.76 0.76 0 1 0 1.52 0a0.76 0.76 0 1 0 -1.52 0M160.7 26.8a0.72 0.72 0 1 0 1.43 0a0.72 0.72 0 1 0 -1.43 0M186.5 32.9a0.89 0.89 0 1 0 1.77 0a0.89 0.89 0 1 0 -1.77 0M181.3 31.7a0.89 0.89 0 1 0 1.79 0a0.89 0.89 0 1 0 -1.79 0M171.9 70.4a0.72 0.72 0 1 0 1.45 0a0.72 0.72 0 1 0 -1.45 0M178.3 63.9a0.72 0.72 0 1 0 1.44 0a0.72 0.72 0 1 0 -1.44 0M143.8 40.3a0.84 0.84 0 1 0 1.69 0a0.84 0.84 0 1 0 -1.69 0M146.1 64.6a0.68 0.68 0 1 0 1.37 0a0.68 0.68 0 1 0 -1.37 0M178.7 37.9a0.78 0.78 0 1 0 1.55 0a0.78 0.78 0 1 0 -1.55 0M185.8 46.1a0.83 0.83 0 1 0 1.66 0a0.83 0.83 0 1 0 -1.66 0M151.7 45.2a0.58 0.58 0 1 0 1.16 0a0.58 0.58 0 1 0 -1.16 0M163.0 44.3a0.68 0.68 0 1 0 1.37 0a0.68 0.68 0 1 0 -1.37 0M140.7 38.9a0.68 0.68 0 1 0 1.37 0a0.68 0.68 0 1 0 -1.37 0M152.6 62.1a0.95 0.95 0 1 0 1.91 0a0.95 0.95 0 1 0 -1.91 0M188.3 42.9a0.95 0.95 0 1 0 1.91 0a0.95 0.95 0 1 0 -1.91 0M167.5 71.4a0.61 0.61 0 1 0 1.21 0a0.61 0.61 0 1 0 -1.21 0M178.2 51.2a0.78 0.78 0 1 0 1.56 0a0.78 0.78 0 1 0 -1.56 0M178.2 63.3a0.92 0.92 0 1 0 1.85 0a0.92 0.92 0 1 0 -1.85 0M151.6 40.9a0.82 0.82 0 1 0 1.64 0a0.82 0.82 0 1 0 -1.64 0M132.2 62.4a0.81 0.81 0 1 0 1.63 0a0.81 0.81 0 1 0 -1.63 0M157.8 53.7a0.98 0.98 0 1 0 1.96 0a0.98 0.98 0 1 0 -1.96 0M181.4 54.5a0.64 0.64 0 1 0 1.29 0a0.64 0.64 0 1 0 -1.29 0M191.9 41.2a0.96 0.96 0 1 0 1.91 0a0.96 0.96 0 1 0 -1.91 0M161.6 55.4a0.95 0.95 0 1 0 1.90 0a0.95 0.95 0 1 0 -1.90 0M133.3 36.6a0.63 0.63 0 1 0 1.26 0a0.63 0.63 0 1 0 -1.26 0M132.2 39.0a0.96 0.96 0 1 0 1.92 0a0.96 0.96 0 1 0 -1.92 0M145.5 27.6a0.97 0.97 0 1 0 1.95 0a0.97 0.97 0 1 0 -1.95 0M161.2 45.4a0.86 0.86 0 1 0 1.72 0a0.86 0.86 0 1 0 -1.72 0M182.3 33.3a0.64 0.64 0 1 0 1.28 0a0.64 0.64 0 1 0 -1.28 0M156.6 64.0a0.97 0.97 0 1 0 1.93 0a0.97 0.97 0 1 0 -1.93 0M141.7 56.2a0.75 0.75 0 1 0 1.50 0a0.75 0.75 0 1 0 -1.50 0M186.2 36.7a0.67 0.67 0 1 0 1.34 0a0.67 0.67 0 1 0 -1.34 0M131.0 65.2a0.62 0.62 0 1 0 1.25 0a0.62 0.62 0 1 0 -1.25 0M147.2 34.2a0.96 0.96 0 1 0 1.93 0a0.96 0.96 0 1 0 -1.93 0M134.6 38.7a0.86 0.86 0 1 0 1.71 0a0.86 0.86 0 1 0 -1.71 0M140.1 50.7a0.74 0.74 0 1 0 1.48 0a0.74 0.74 0 1 0 -1.48 0M130.3 52.1a0.71 0.71 0 1 0 1.41 0a0.71 0.71 0 1 0 -1.41 0M142.9 70.4a0.93 0.93 0 1 0 1.86 0a0.93 0.93 0 1 0 -1.86 0M158.6 37.9a0.56 0.56 0 1 0 1.11 0a0.56 0.56 0 1 0 -1.11 0M176.4 35.2a0.78 0.78 0 1 0 1.56 0a0.78 0.78 0 1 0 -1.56 0M170.0 59.3a0.62 0.62 0 1 0 1.24 0a0.62 0.62 0 1 0 -1.24 0M135.5 60.4a0.57 0.57 0 1 0 1.15 0a0.57 0.57 0 1 0 -1.15 0M155.8 23.8a0.64 0.64 0 1 0 1.29 0a0.64 0.64 0 1 0 -1.29 0M141.5 63.7a0.88 0.88 0 1 0 1.77 0a0.88 0.88 0 1 0 -1.77 0M145.2 51.1a0.77 0.77 0 1 0 1.55 0a0.77 0.77 0 1 0 -1.55 0M135.2 39.7a0.89 0.89 0 1 0 1.78 0a0.89 0.89 0 1 0 -1.78 0M137.8 33.9a0.71 0.71 0 1 0 1.42 0a0.71 0.71 0 1 0 -1.42 0M129.7 60.4a0.73 0.73 0 1 0 1.46 0a0.73 0.73 0 1 0 -1.46 0M170.5 48.1a0.90 0.90 0 1 0 1.80 0a0.90 0.90 0 1 0 -1.80 0M172.1 41.8a0.61 0.61 0 1 0 1.21 0a0.61 0.61 0 1 0 -1.21 0M157.0 22.3a0.59 0.59 0 1 0 1.17 0a0.59 0.59 0 1 0 -1.17 0M182.8 47.6a0.91 0.91 0 1 0 1.81 0a0.91 0.91 0 1 0 -1.81 0M177.0 48.2a0.88 0.88 0 1 0 1.75 0a0.88 0.88 0 1 0 -1.75 0M190.4 69.0a0.66 0.66 0 1 0 1.33 0a0.66 0.66 0 1 0 -1.33 0M188.1 45.4a0.64 0.64 0 1 0 1.29 0a0.64 0.64 0 1 0 -1.29 0M155.7 51.0a0.95 0.95 0 1 0 1.90 0a0.95 0.95 0 1 0 -1.90 0M187.6 49.8a0.91 0.91 0 1 0 1.83 0a0.91 0.91 0 1 0 -1.83 0M163.6 26.7a0.75 0.75 0 1 0 1.49 0a0.75 0.75 0 1 0 -1.49 0M174.4 59.4a0.86 0.86 0 1 0 1.71 0a0.86 0.86 0 1 0 -1.71 0M129.3 55.8a0.99 0.99 0 1 0 1.98 0a0.99 0.99 0 1 0 -1.98 0M143.3 57.4a0.64 0.64 0 1 0 1.28 0a0.64 0.64 0 1 0 -1.28 0M179.0 68.4a0.64 0.64 0 1 0 1.29 0a0.64 0.64 0 1 0 -1.29 0M182.7 36.8a0.95 0.95 0 1 0 1.89 0a0.95 0.95 0 1 0 -1.89 0M131.6 59.5a0.65 0.65 0 1 0 1.29 0a0.65 0.65 0 1 0 -1.29 0M153.0 29.8a0.91 0.91 0 1 0 1.83 0a0.91 0.91 0 1 0 -1.83 0M142.5 39.6a0.71 0.71 0 1 0 1.43 0a0.71 0.71 0 1 0 -1.43 0M146.6 33.1a0.89 0.89 0 1 0 1.77 0a0.89 0.89 0 1 0 -1.77 0M166.8 60.4a0.62 0.62 0 1 0 1.24 0a0.62 0.62 0 1 0 -1.24 0M164.8 26.0a0.59 0.59 0 1 0 1.19 0a0.59 0.59 0 1 0 -1.19 0M157.2 51.4a0.87 0.87 0 1 0 1.74 0a0.87 0.87 0 1 0 -1.74 0M166.1 25.8a0.72 0.72 0 1 0 1.44 0a0.72 0.72 0 1 0 -1.44 0M176.8 69.1a0.96 0.96 0 1 0 1.91 0a0.96 0.96 0 1 0 -1.91 0M161.2 68.4a0.66 0.66 0 1 0 1.33 0a0.66 0.66 0 1 0 -1.33 0M169.4 59.8a0.55 0.55 0 1 0 1.10 0a0.55 0.55 0 1 0 -1.10 0M134.8 37.9a0.65 0.65 0 1 0 1.29 0a0.65 0.65 0 1 0 -1.29 0M140.6 49.4a0.84 0.84 0 1 0 1.68 0a0.84 0.84 0 1 0 -1.68 0M160.8 56.7a0.69 0.69 0 1 0 1.39 0a0.69 0.69 0 1 0 -1.39 0M153.2 28.6a0.65 0.65 0 1 0 1.30 0a0.65 0.65 0 1 0 -1.30 0M160.8 63.0a0.76 0.76 0 1 0 1.53 0a0.76 0.76 0 1 0 -1.53 0M186.3 68.5a0.90 0.90 0 1 0 1.79 0a0.90 0.90 0 1 0 -1.79 0M179.6 22.7a0.86 0.86 0 1 0 1.72 0a0.86 0.86 0 1 0 -1.72 0M131.7 59.4a0.74 0.74 0 1 0 1.48 0a0.74 0.74 0 1 0 -1.48 0M135.0 68.1a0.63 0.63 0 1 0 1.27 0a0.63 0.63 0 1 0 -1.27 0M191.2 60.9a0.97 0.97 0 1 0 1.93 0a0.97 0.97 0 1 0 -1.93 0M169.7 39.4a0.86 0.86 0 1 0 1.73 0a0.86 0.86 0 1 0 -1.73 0M158.9 58.4a0.98 0.98 0 1 0 1.96 0a0.98 0.98 0 1 0 -1.96 0M133.1 30.2a0.74 0.74 0 1 0 1.49 0a0.74 0.74 0 1 0 -1.49 0M131.2 39.8a0.74 0.74 0 1 0 1.48 0a0.74 0.74 0 1 0 -1.48 0M140.6 24.1a0.84 0.84 0 1 0 1.67 0a0.84 0.84 0 1 0 -1.67 0M144.7 56.7a0.74 0.74 0 1 0 1.48 0a0.74 0.74 0 1 0 -1.48 0M187.3 36.8a0.79 0.79 0 1 0 1.59 0a0.79 0.79 0 1 0 -1.59 0M147.9 69.0a0.67 0.67 0 1 0 1.35 0a0.67 0.67 0 1 0 -1.35 0M173.0 39.6a0.86 0.86 0 1 0 1.72 0a0.86 0.86 0 1 0 -1.72 0M169.4 60.3a0.83 0.83 0 1 0 1.66 0a0.83 0.83 0 1 0 -1.66 0M159.0 44.3a0.62 0.62 0 1 0 1.24 0a0.62 0.62 0 1 0 -1.24 0M136.8 29.7a0.97 0.97 0 1 0 1.94 0a0.97 0.97 0 1 0 -1.94 0M172.6 66.9a0.83 0.83 0 1 0 1.65 0a0.83 0.83 0 1 0 -1.65 0M143.1 22.6a0.79 0.79 0 1 0 1.58 0a0.79 0.79 0 1 0 -1.58 0M192.4 61.4a0.58 0.58 0 1 0 1.16 0a0.58 0.58 0 1 0 -1.16 0M153.0 28.6a0.67 0.67 0 1 0 1.34 0a0.67 0.67 0 1 0 -1.34 0M173.1 38.2a0.78 0.78 0 1 0 1.56 0a0.78 0.78 0 1 0 -1.56 0M148.1 42.3a0.72 0.72 0 1 0 1.44 0a0.72 0.72 0 1 0 -1.44 0M166.8 25.9a1.00 1.00 0 1 0 1.99 0a1.00 1.00 0 1 0 -1.99 0M138.0 24.7a0.96 0.96 0 1 0 1.92 0a0.96 0.96 0 1 0 -1.92 0M153.1 22.2a0.66 0.66 0 1 0 1.33 0a0.66 0.66 0 1 0 -1.33 0M181.5 58.8a0.84 0.84 0 1 0 1.68 0a0.84 0.84 0 1 0 -1.68 0M182.5 45.5a0.96 0.96 0 1 0 1.93 0a0.96 0.96 0 1 0 -1.93 0M146.7 46.6a0.92 0.92 0 1 0 1.85 0a0.92 0.92 0 1 0 -1.85 0M164.6 33.9a0.70 0.70 0 1 0 1.40 0a0.70 0.70 0 1 0 -1.40 0M185.0 48.2a0.71 0.71 0 1 0 1.41 0a0.71 0.71 0 1 0 -1.41 0M169.6 29.3a0.88 0.88 0 1 0 1.77 0a0.88 0.88 0 1 0 -1.77 0M153.0 47.6a0.71 0.71 0 1 0 1.41 0a0.71 0.71 0 1 0 -1.41 0M184.6 30.8a0.94 0.94 0 1 0 1.88 0a0.94 0.94 0 1 0 -1.88 0M172.3 31.0a0.62 0.62 0 1 0 1.24 0a0.62 0.62 0 1 0 -1.24 0M146.0 44.0a0.97 0.97 0 1 0 1.95 0a0.97 0.97 0 1 0 -1.95 0M180.0 36.3a0.76 0.76 0 1 0 1.53 0a0.76 0.76 0 1 0 -1.53 0M132.1 60.5a0.87 0.87 0 1 0 1.74 0a0.87 0.87 0 1 0 -1.74 0M171.0 51.9a0.58 0.58 0 1 0 1.17 0a0.58 0.58 0 1 0 -1.17 0M163.2 51.8a0.83 0.83 0 1 0 1.66 0a0.83 0.83 0 1 0 -1.66 0M187.4 38.4a0.66 0.66 0 1 0 1.32 0a0.66 0.66 0 1 0 -1.32 0M157.5 52.6a0.93 0.93 0 1 0 1.87 0a0.93 0.93 0 1 0 -1.87 0M177.4 47.7a0.73 0.73 0 1 0 1.45 0a0.73 0.73 0 1 0 -1.45 0M177.6 40.4a0.74 0.74 0 1 0 1.48 0a0.74 0.74 0 1 0 -1.48 0M130.7 47.2a0.64 0.64 0 1 0 1.28 0a0.64 0.64 0 1 0 -1.28 0M192.0 26.6a0.57 0.57 0 1 0 1.14 0a0.57 0.57 0 1 0 -1.14 0M162.9 70.8a0.67 0.67 0 1 0 1.35 0a0.67 0.67 0 1 0 -1.35 0M138.2 26.5a0.55 0.55 0 1 0 1.10 0a0.55 0.55 0 1 0 -1.10 0M169.0 39.5a0.92 0.92 0 1 0 1.84 0a0.92 0.92 0 1 0 -1.84 0M143.9 49.2a0.57 0.57 0 1 0 1.15 0a0.57 0.57 0 1 0 -1.15 0M150.2 67.0a0.82 0.82 0 1 0 1.64 0a0.82 0.82 0 1 0 -1.64 0M159.4 68.2a0.71 0.71 0 1 0 1.41 0a0.71 0.71 0 1 0 -1.41 0M134.1 44.6a0.82 0.82 0 1 0 1.63 0a0.82 0.82 0 1 0 -1.63 0M181.0 40.3a0.78 0.78 0 1 0 1.57 0a0.78 0.78 0 1 0 -1.57 0M186.8 53.4a0.67 0.67 0 1 0 1.35 0a0.67 0.67 0 1 0 -1.35 0M189.4 50.3a0.93 0.93 0 1 0 1.85 0a0.93 0.93 0 1 0 -1.85 0M181.5 55.3a0.68 0.68 0 1 0 1.37 0a0.68 0.68 0 1 0 -1.37 0M171.5 27.7a0.85 0.85 0 1 0 1.70 0a0.85 0.85 0 1 0 -1.70 0M163.3 38.0a0.75 0.75 0 1 0 1.50 0a0.75 0.75 0 1 0 -1.50 0M147.8 45.3a0.74 0.74 0 1 0 1.48 0a0.74 0.74 0 1 0 -1.48 0M161.3 23.3a0.60 0.60 0 1 0 1.20 0a0.60 0.60 0 1 0 -1.20 0M184.6 30.7a0.69 0.69 0 1 0 1.38 0a0.69 0.69 0 1 0 -1.38 0M174.3 41.1a0.73 0.73 0 1 0 1.46 0a0.73 0.73 0 1 0 -1.46 0M131.8 43.6a0.81 0.81 0 1 0 1.61 0a0.81 0.81 0 1 0 -1.61 0M158.0 40.9a0.63 0.63 0 1 0 1.26 0a0.63 0.63 0 1 0 -1.26 0M154.5 24.5a0.68 0.68 0 1 0 1.35 0a0.68 0.68 0 1 0 -1.35 0M130.2 30.1a0.58 0.58 0 1 0 1.16 0a0.58 0.58 0 1 0 -1.16 0M189.4 48.2a0.65 0.65 0 1 0 1.31 0a0.65 0.65 0 1 0 -1.31 0M169.1 35.0a0.84 0.84 0 1 0 1.68 0a0.84 0.84 0 1 0 -1.68 0M162.5 41.6a0.96 0.96 0 1 0 1.91 0a0.96 0.96 0 1 0 -1.91 0M173.7 69.0a0.67 0.67 0 1 0 1.35 0a0.67 0.67 0 1 0 -1.35 0M154.1 55.2a0.83 0.83 0 1 0 1.66 0a0.83 0.83 0 1 0 -1.66 0M146.8 26.7a0.92 0.92 0 1 0 1.85 0a0.92 0.92 0 1 0 -1.85 0M151.2 22.1a0.86 0.86 0 1 0 1.72 0a0.86 0.86 0 1 0 -1.72 0M150.9 58.3a0.60 0.60 0 1 0 1.21 0a0.60 0.60 0 1 0 -1.21 0M146.0 67.3a0.83 0.83 0 1 0 1.65 0a0.83 0.83 0 1 0 -1.65 0M155.5 64.5a0.85 0.85 0 1 0 1.71 0a0.85 0.85 0 1 0 -1.71 0M140.8 35.4a0.95 0.95 0 1 0 1.89 0a0.95 0.95 0 1 0 -1.89 0M189.8 56.8a0.79 0.79 0 1 0 1.58 0a0.79 0.79 0 1 0 -1.58 0M188.0 54.8a0.97 0.97 0 1 0 1.95 0a0.97 0.97 0 1 0 -1.95 0M174.7 32.8a0.94 0.94 0 1 0 1.89 0a0.94 0.94 0 1 0 -1.89 0M164.1 38.9a0.65 0.65 0 1 0 1.31 0a0.65 0.65 0 1 0 -1.31 0M147.1 49.0a0.57 0.57 0 1 0 1.14 0a0.57 0.57 0 1 0 -1.14 0M153.1 34.7a0.59 0.59 0 1 0 1.19 0a0.59 0.59 0 1 0 -1.19 0M161.7 39.6a0.95 0.95 0 1 0 1.89 0a0.95 0.95 0 1 0 -1.89 0M163.6 29.2a0.58 0.58 0 1 0 1.17 0a0.58 0.58 0 1 0 -1.17 0M166.1 60.7a0.73 0.73 0 1 0 1.47 0a0.73 0.73 0 1 0 -1.47 0M163.8 62.0a0.84 0.84 0 1 0 1.69 0a0.84 0.84 0 1 0 -1.69 0M168.7 66.3a0.62 0.62 0 1 0 1.25 0a0.62 0.62 0 1 0 -1.25 0M140.4 68.9a0.91 0.91 0 1 0 1.83 0a0.91 0.91 0 1 0 -1.83 0M192.5 48.1a0.74 0.74 0 1 0 1.48 0a0.74 0.74 0 1 0 -1.48 0M191.0 52.8a0.74 0.74 0 1 0 1.48 0a0.74 0.74 0 1 0 -1.48 0M157.6 45.7a0.58 0.58 0 1 0 1.15 0a0.58 0.58 0 1 0 -1.15 0M139.4 53.5a0.86 0.86 0 1 0 1.72 0a0.86 0.86 0 1 0 -1.72 0M186.6 50.5a0.62 0.62 0 1 0 1.23 0a0.62 0.62 0 1 0 -1.23 0M173.8 30.0a0.79 0.79 0 1 0 1.58 0a0.79 0.79 0 1 0 -1.58 0M142.3 35.7a0.94 0.94 0 1 0 1.88 0a0.94 0.94 0 1 0 -1.88 0M165.3 59.1a0.62 0.62 0 1 0 1.24 0a0.62 0.62 0 1 0 -1.24 0M158.0 41.5a0.99 0.99 0 1 0 1.98 0a0.99 0.99 0 1 0 -1.98 0M177.2 62.8a0.86 0.86 0 1 0 1.71 0a0.86 0.86 0 1 0 -1.71 0M133.7 60.9a0.88 0.88 0 1 0 1.75 0a0.88 0.88 0 1 0 -1.75 0M174.6 43.2a0.67 0.67 0 1 0 1.35 0a0.67 0.67 0 1 0 -1.35 0M161.5 42.1a0.60 0.60 0 1 0 1.20 0a0.60 0.60 0 1 0 -1.20 0M179.4 54.8a0.62 0.62 0 1 0 1.24 0a0.62 0.62 0 1 0 -1.24 0M169.0 69.1a0.79 0.79 0 1 0 1.58 0a0.79 0.79 0 1 0 -1.58 0M132.3 70.0a0.84 0.84 0 1 0 1.68 0a0.84 0.84 0 1 0 -1.68 0M160.4 69.3a0.75 0.75 0 1 0 1.50 0a0.75 0.75 0 1 0 -1.50 0M143.1 22.2a0.91 0.91 0 1 0 1.82 0a0.91 0.91 0 1 0 -1.82 0M139.2 61.5a0.59 0.59 0 1 0 1.17 0a0.59 0.59 0 1 0 -1.17 0M170.2 23.2a0.87 0.87 0 1 0 1.75 0a0.87 0.87 0 1 0 -1.75 0M130.3 66.5a0.81 0.81 0 1 0 1.63 0a0.81 0.81 0 1 0 -1.63 0M180.5 67.8a0.81 0.81 0 1 0 1.62 0a0.81 0.81 0 1 0 -1.62 0M164.9 68.0a0.86 0.86 0 1 0 1.72 0a0.86 0.86 0 1 0 -1.72 0M180.3 47.1a1.00 1.00 0 1 0 1.99 0a1.00 1.00 0 1 0 -1.99 0M165.9 29.0a0.57 0.57 0 1 0 1.14 0a0.57 0.57 0 1 0 -1.14 0M183.7 26.6a0.81 0.81 0 1 0 1.63 0a0.81 0.81 0 1 0 -1.63 0M161.7 62.4a0.72 0.72 0 1 0 1.43 0a0.72 0.72 0 1 0 -1.43 0M140.3 30.9a0.60 0.60 0 1 0 1.21 0a0.60 0.60 0 1 0 -1.21 0M163.0 25.5a0.74 0.74 0 1 0 1.48 0a0.74 0.74 0 1 0 -1.48 0M144.2 29.1a0.88 0.88 0 1 0 1.76 0a0.88 0.88 0 1 0 -1.76 0M181.0 58.8a0.73 0.73 0 1 0 1.46 0a0.73 0.73 0 1 0 -1.46 0M159.9 57.7a0.84 0.84 0 1 0 1.68 0a0.84 0.84 0 1 0 -1.68 0M164.0 33.9a0.66 0.66 0 1 0 1.33 0a0.66 0.66 0 1 0 -1.33 0M165.0 61.1a0.72 0.72 0 1 0 1.44 0a0.72 0.72 0 1 0 -1.44 0M165.8 71.1a0.71 0.71 0 1 0 1.42 0a0.71 0.71 0 1 0 -1.42 0M180.7 51.1a0.72 0.72 0 1 0 1.45 0a0.72 0.72 0 1 0 -1.45 0M162.3 25.4a0.81 0.81 0 1 0 1.63 0a0.81 0.81 0 1 0 -1.63 0M183.1 25.4a0.84 0.84 0 1 0 1.68 0a0.84 0.84 0 1 0 -1.68 0M132.7 27.6a0.83 0.83 0 1 0 1.66 0a0.83 0.83 0 1 0 -1.66 0M164.0 31.4a0.70 0.70 0 1 0 1.41 0a0.70 0.70 0 1 0 -1.41 0M136.7 56.3a0.86 0.86 0 1 0 1.71 0a0.86 0.86 0 1 0 -1.71 0M191.3 56.1a0.96 0.96 0 1 0 1.93 0a0.96 0.96 0 1 0 -1.93 0M181.2 50.9a0.79 0.79 0 1 0 1.59 0a0.79 0.79 0 1 0 -1.59 0M135.8 30.6a0.82 0.82 0 1 0 1.64 0a0.82 0.82 0 1 0 -1.64 0M153.7 27.9a0.91 0.91 0 1 0 1.83 0a0.91 0.91 0 1 0 -1.83 0M153.5 25.5a0.60 0.60 0 1 0 1.19 0a0.60 0.60 0 1 0 -1.19 0M133.2 32.8a0.80 0.80 0 1 0 1.60 0a0.80 0.80 0 1 0 -1.60 0M162.1 31.9a0.61 0.61 0 1 0 1.21 0a0.61 0.61 0 1 0 -1.21 0M160.0 52.8a0.77 0.77 0 1 0 1.54 0a0.77 0.77 0 1 0 -1.54 0M162.0 67.6a0.93 0.93 0 1 0 1.85 0a0.93 0.93 0 1 0 -1.85 0M177.6 41.7a0.81 0.81 0 1 0 1.61 0a0.81 0.81 0 1 0 -1.61 0M176.5 43.7a0.57 0.57 0 1 0 1.14 0a0.57 0.57 0 1 0 -1.14 0M172.4 65.1a0.69 0.69 0 1 0 1.38 0a0.69 0.69 0 1 0 -1.38 0M180.4 57.5a0.84 0.84 0 1 0 1.68 0a0.84 0.84 0 1 0 -1.68 0M131.5 22.7a0.78 0.78 0 1 0 1.56 0a0.78 0.78 0 1 0 -1.56 0M163.7 27.5a0.99 0.99 0 1 0 1.97 0a0.99 0.99 0 1 0 -1.97 0M144.8 59.8a0.74 0.74 0 1 0 1.47 0a0.74 0.74 0 1 0 -1.47 0M158.4 62.7a0.99 0.99 0 1 0 1.98 0a0.99 0.99 0 1 0 -1.98 0M132.1 58.8a0.84 0.84 0 1 0 1.69 0a0.84 0.84 0 1 0 -1.69 0M164.1 41.1a0.77 0.77 0 1 0 1.55 0a0.77 0.77 0 1 0 -1.55 0M147.2 68.3a0.61 0.61 0 1 0 1.22 0a0.61 0.61 0 1 0 -1.22 0M139.3 57.1a0.76 0.76 0 1 0 1.52 0a0.76 0.76 0 1 0 -1.52 0M170.3 52.4a0.87 0.87 0 1 0 1.75 0a0.87 0.87 0 1 0 -1.75 0M138.7 56.9a0.70 0.70 0 1 0 1.40 0a0.70 0.70 0 1 0 -1.40 0M173.9 39.4a0.92 0.92 0 1 0 1.84 0a0.92 0.92 0 1 0 -1.84 0M184.1 53.5a0.67 0.67 0 1 0 1.34 0a0.67 0.67 0 1 0 -1.34 0M155.9 40.0a0.63 0.63 0 1 0 1.26 0a0.63 0.63 0 1 0 -1.26 0M133.7 52.8a0.75 0.75 0 1 0 1.51 0a0.75 0.75 0 1 0 -1.51 0M133.7 53.2a0.82 0.82 0 1 0 1.64 0a0.82 0.82 0 1 0 -1.64 0M163.2 27.5a0.76 0.76 0 1 0 1.52 0a0.76 0.76 0 1 0 -1.52 0M162.1 27.9a0.66 0.66 0 1 0 1.33 0a0.66 0.66 0 1 0 -1.33 0M193.6 70.3a0.95 0.95 0 1 0 1.90 0a0.95 0.95 0 1 0 -1.90 0M161.2 58.3a0.60 0.60 0 1 0 1.20 0a0.60 0.60 0 1 0 -1.20 0M157.1 56.6a0.69 0.69 0 1 0 1.38 0a0.69 0.69 0 1 0 -1.38 0M183.9 61.4a0.68 0.68 0 1 0 1.35 0a0.68 0.68 0 1 0 -1.35 0M132.4 53.1a0.66 0.66 0 1 0 1.31 0a0.66 0.66 0 1 0 -1.31 0M177.6 49.8a0.94 0.94 0 1 0 1.88 0a0.94 0.94 0 1 0 -1.88 0M134.1 44.0a0.94 0.94 0 1 0 1.87 0a0.94 0.94 0 1 0 -1.87 0M182.7 63.3a0.59 0.59 0 1 0 1.17 0a0.59 0.59 0 1 0 -1.17 0M160.3 51.6a0.79 0.79 0 1 0 1.59 0a0.79 0.79 0 1 0 -1.59 0M130.1 60.2a0.88 0.88 0 1 0 1.77 0a0.88 0.88 0 1 0 -1.77 0M161.4 29.4a0.63 0.63 0 1 0 1.25 0a0.63 0.63 0 1 0 -1.25 0M130.0 49.3a0.87 0.87 0 1 0 1.73 0a0.87 0.87 0 1 0 -1.73 0M172.7 48.2a0.74 0.74 0 1 0 1.48 0a0.74 0.74 0 1 0 -1.48 0M174.8 49.3a0.81 0.81 0 1 0 1.63 0a0.81 0.81 0 1 0 -1.63 0M135.7 70.5a0.56 0.56 0 1 0 1.12 0a0.56 0.56 0 1 0 -1.12 0M172.0 57.4a0.73 0.73 0 1 0 1.46 0a0.73 0.73 0 1 0 -1.46 0M175.2 69.6a0.88 0.88 0 1 0 1.76 0a0.88 0.88 0 1 0 -1.76 0M180.6 32.7a0.82 0.82 0 1 0 1.65 0a0.82 0.82 0 1 0 -1.65 0M143.2 53.8a0.93 0.93 0 1 0 1.86 0a0.93 0.93 0 1 0 -1.86 0M154.1 32.8a0.96 0.96 0 1 0 1.91 0a0.96 0.96 0 1 0 -1.91 0M146.5 36.8a0.99 0.99 0 1 0 1.99 0a0.99 0.99 0 1 0 -1.99 0M190.7 63.8a0.61 0.61 0 1 0 1.21 0a0.61 0.61 0 1 0 -1.21 0M180.0 42.6a0.74 0.74 0 1 0 1.48 0a0.74 0.74 0 1 0 -1.48 0M147.7 36.3a0.64 0.64 0 1 0 1.28 0a0.64 0.64 0 1 0 -1.28 0M150.6 24.8a0.73 0.73 0 1 0 1.46 0a0.73 0.73 0 1 0 -1.46 0M162.3 71.3a0.64 0.64 0 1 0 1.27 0a0.64 0.64 0 1 0 -1.27 0M174.2 35.1a0.69 0.69 0 1 0 1.38 0a0.69 0.69 0 1 0 -1.38 0M189.4 49.5a0.93 0.93 0 1 0 1.86 0a0.93 0.93 0 1 0 -1.86 0M191.6 49.4a0.93 0.93 0 1 0 1.87 0a0.93 0.93 0 1 0 -1.87 0" fill="#5a2c9c" opacity="0.75"/>
<g filter="url(#hdisp)">
<ellipse cx="140.4" cy="27.1" rx="14.14" ry="6.72" fill="#fdf7fd" stroke="#d452c2" stroke-width="1.7"/>
<ellipse cx="140.4" cy="27.1" rx="14.14" ry="6.72" fill="none" stroke="#5e2ea0" stroke-width="1.25" stroke-dasharray="0.3 1.6" stroke-linecap="round" stroke-dashoffset="0.0"/>
<ellipse cx="138.0" cy="41.2" rx="10.96" ry="10.61" fill="#fdf7fd" stroke="#d452c2" stroke-width="1.7"/>
<ellipse cx="138.0" cy="41.2" rx="10.96" ry="10.61" fill="none" stroke="#5e2ea0" stroke-width="1.25" stroke-dasharray="0.3 2.2" stroke-linecap="round" stroke-dashoffset="0.7"/>
<ellipse cx="163.4" cy="43.6" rx="15.02" ry="15.91" fill="#fdf7fd" stroke="#d452c2" stroke-width="1.7"/>
<ellipse cx="163.4" cy="43.6" rx="15.02" ry="15.91" fill="none" stroke="#5e2ea0" stroke-width="1.25" stroke-dasharray="0.3 2.8" stroke-linecap="round" stroke-dashoffset="1.4"/>
<ellipse cx="179.9" cy="30.6" rx="16.79" ry="12.37" fill="#fdf7fd" stroke="#d452c2" stroke-width="1.7"/>
<ellipse cx="179.9" cy="30.6" rx="16.79" ry="12.37" fill="none" stroke="#5e2ea0" stroke-width="1.25" stroke-dasharray="0.3 1.6" stroke-linecap="round" stroke-dashoffset="2.1"/>
<ellipse cx="185.7" cy="48.3" rx="10.61" ry="7.95" fill="#fdf7fd" stroke="#d452c2" stroke-width="1.7"/>
<ellipse cx="185.7" cy="48.3" rx="10.61" ry="7.95" fill="none" stroke="#5e2ea0" stroke-width="1.25" stroke-dasharray="0.3 2.2" stroke-linecap="round" stroke-dashoffset="2.8"/>
<ellipse cx="135.1" cy="56.5" rx="6.72" ry="6.72" fill="#fdf7fd" stroke="#d452c2" stroke-width="1.7"/>
<ellipse cx="135.1" cy="56.5" rx="6.72" ry="6.72" fill="none" stroke="#5e2ea0" stroke-width="1.25" stroke-dasharray="0.3 2.8" stroke-linecap="round" stroke-dashoffset="3.5"/>
<ellipse cx="149.8" cy="54.2" rx="8.84" ry="7.95" fill="#fdf7fd" stroke="#d452c2" stroke-width="1.7"/>
<ellipse cx="149.8" cy="54.2" rx="8.84" ry="7.95" fill="none" stroke="#5e2ea0" stroke-width="1.25" stroke-dasharray="0.3 1.6" stroke-linecap="round" stroke-dashoffset="4.2"/>
<ellipse cx="162.2" cy="63.6" rx="8.84" ry="7.95" fill="#fdf7fd" stroke="#d452c2" stroke-width="1.7"/>
<ellipse cx="162.2" cy="63.6" rx="8.84" ry="7.95" fill="none" stroke="#5e2ea0" stroke-width="1.25" stroke-dasharray="0.3 2.2" stroke-linecap="round" stroke-dashoffset="4.9"/>
<ellipse cx="177.5" cy="63.6" rx="6.19" ry="5.30" fill="#fdf7fd" stroke="#d452c2" stroke-width="1.7"/>
<ellipse cx="177.5" cy="63.6" rx="6.19" ry="5.30" fill="none" stroke="#5e2ea0" stroke-width="1.25" stroke-dasharray="0.3 2.8" stroke-linecap="round" stroke-dashoffset="5.6"/>
<ellipse cx="189.3" cy="63.6" rx="6.19" ry="6.19" fill="#fdf7fd" stroke="#d452c2" stroke-width="1.7"/>
<ellipse cx="189.3" cy="63.6" rx="6.19" ry="6.19" fill="none" stroke="#5e2ea0" stroke-width="1.25" stroke-dasharray="0.3 1.6" stroke-linecap="round" stroke-dashoffset="6.3"/>
<ellipse cx="149.8" cy="40.0" rx="3.89" ry="6.19" fill="#fdf7fd" stroke="#d452c2" stroke-width="1.7"/>
<ellipse cx="149.8" cy="40.0" rx="3.89" ry="6.19" fill="none" stroke="#5e2ea0" stroke-width="1.25" stroke-dasharray="0.3 2.2" stroke-linecap="round" stroke-dashoffset="7.0"/>
<ellipse cx="159.8" cy="27.1" rx="4.42" ry="3.18" fill="#fdf7fd" stroke="#d452c2" stroke-width="1.7"/>
<ellipse cx="159.8" cy="27.1" rx="4.42" ry="3.18" fill="none" stroke="#5e2ea0" stroke-width="1.25" stroke-dasharray="0.3 2.8" stroke-linecap="round" stroke-dashoffset="7.7"/>
<ellipse cx="191.6" cy="37.7" rx="3.54" ry="4.42" fill="#fdf7fd" stroke="#d452c2" stroke-width="1.7"/>
<ellipse cx="191.6" cy="37.7" rx="3.54" ry="4.42" fill="none" stroke="#5e2ea0" stroke-width="1.25" stroke-dasharray="0.3 1.6" stroke-linecap="round" stroke-dashoffset="8.4"/>
<ellipse cx="142.1" cy="66.0" rx="7.07" ry="4.42" fill="#fdf7fd" stroke="#d452c2" stroke-width="1.7"/>
<ellipse cx="142.1" cy="66.0" rx="7.07" ry="4.42" fill="none" stroke="#5e2ea0" stroke-width="1.25" stroke-dasharray="0.3 2.2" stroke-linecap="round" stroke-dashoffset="9.1"/>
<ellipse cx="169.2" cy="55.4" rx="4.42" ry="3.54" fill="#fdf7fd" stroke="#d452c2" stroke-width="1.7"/>
<ellipse cx="169.2" cy="55.4" rx="4.42" ry="3.54" fill="none" stroke="#5e2ea0" stroke-width="1.25" stroke-dasharray="0.3 2.8" stroke-linecap="round" stroke-dashoffset="9.8"/>
<ellipse cx="155.1" cy="23.5" rx="3.54" ry="1.77" fill="#fdf7fd" stroke="#d452c2" stroke-width="1.7"/>
<ellipse cx="155.1" cy="23.5" rx="3.54" ry="1.77" fill="none" stroke="#5e2ea0" stroke-width="1.25" stroke-dasharray="0.3 1.6" stroke-linecap="round" stroke-dashoffset="10.5"/>
<ellipse cx="194.0" cy="27.1" rx="2.65" ry="5.30" fill="#fdf7fd" stroke="#d452c2" stroke-width="1.7"/>
<ellipse cx="194.0" cy="27.1" rx="2.65" ry="5.30" fill="none" stroke="#5e2ea0" stroke-width="1.25" stroke-dasharray="0.3 2.2" stroke-linecap="round" stroke-dashoffset="11.2"/>
<ellipse cx="175.1" cy="55.4" rx="4.95" ry="3.89" fill="#fdf7fd" stroke="#d452c2" stroke-width="1.7"/>
<ellipse cx="175.1" cy="55.4" rx="4.95" ry="3.89" fill="none" stroke="#5e2ea0" stroke-width="1.25" stroke-dasharray="0.3 2.8" stroke-linecap="round" stroke-dashoffset="11.9"/>
<ellipse cx="183.4" cy="57.7" rx="3.89" ry="3.18" fill="#fdf7fd" stroke="#d452c2" stroke-width="1.7"/>
<ellipse cx="183.4" cy="57.7" rx="3.89" ry="3.18" fill="none" stroke="#5e2ea0" stroke-width="1.25" stroke-dasharray="0.3 1.6" stroke-linecap="round" stroke-dashoffset="12.6"/>
<ellipse cx="194.0" cy="55.4" rx="3.18" ry="3.89" fill="#fdf7fd" stroke="#d452c2" stroke-width="1.7"/>
<ellipse cx="194.0" cy="55.4" rx="3.18" ry="3.89" fill="none" stroke="#5e2ea0" stroke-width="1.25" stroke-dasharray="0.3 2.2" stroke-linecap="round" stroke-dashoffset="13.3"/>
<ellipse cx="150.4" cy="70.1" rx="4.95" ry="2.47" fill="#fdf7fd" stroke="#d452c2" stroke-width="1.7"/>
<ellipse cx="150.4" cy="70.1" rx="4.95" ry="2.47" fill="none" stroke="#5e2ea0" stroke-width="1.25" stroke-dasharray="0.3 2.8" stroke-linecap="round" stroke-dashoffset="14.0"/>
<ellipse cx="170.4" cy="70.1" rx="4.42" ry="2.47" fill="#fdf7fd" stroke="#d452c2" stroke-width="1.7"/>
<ellipse cx="170.4" cy="70.1" rx="4.42" ry="2.47" fill="none" stroke="#5e2ea0" stroke-width="1.25" stroke-dasharray="0.3 1.6" stroke-linecap="round" stroke-dashoffset="14.7"/>
<ellipse cx="155.7" cy="47.1" rx="2.83" ry="2.83" fill="#fdf7fd" stroke="#d452c2" stroke-width="1.7"/>
<ellipse cx="155.7" cy="47.1" rx="2.83" ry="2.83" fill="none" stroke="#5e2ea0" stroke-width="1.25" stroke-dasharray="0.3 2.2" stroke-linecap="round" stroke-dashoffset="15.4"/>
<ellipse cx="179.9" cy="70.1" rx="3.54" ry="2.12" fill="#fdf7fd" stroke="#d452c2" stroke-width="1.7"/>
<ellipse cx="179.9" cy="70.1" rx="3.54" ry="2.12" fill="none" stroke="#5e2ea0" stroke-width="1.25" stroke-dasharray="0.3 2.8" stroke-linecap="round" stroke-dashoffset="16.1"/>
<ellipse cx="142.1" cy="49.5" rx="2.83" ry="2.47" fill="#fdf7fd" stroke="#d452c2" stroke-width="1.7"/>
<ellipse cx="142.1" cy="49.5" rx="2.83" ry="2.47" fill="none" stroke="#5e2ea0" stroke-width="1.25" stroke-dasharray="0.3 1.6" stroke-linecap="round" stroke-dashoffset="16.8"/>
<ellipse cx="131.5" cy="48.3" rx="2.47" ry="3.18" fill="#fdf7fd" stroke="#d452c2" stroke-width="1.7"/>
<ellipse cx="131.5" cy="48.3" rx="2.47" ry="3.18" fill="none" stroke="#5e2ea0" stroke-width="1.25" stroke-dasharray="0.3 2.2" stroke-linecap="round" stroke-dashoffset="17.5"/>
</g>
<line x1="131.6" y1="67.4" x2="139.8" y2="67.4" stroke="#111" stroke-width="0.7"/>
<text x="131.8" y="66.4" font-size="2.6" font-weight="bold" fill="#111">50 μm</text>
</g>
<rect x="130.2" y="22" width="64.5" height="49.6" fill="none" stroke="#2a2a2a" stroke-width="0.9"/>
<clipPath id="hc1"><rect x="130.2" y="74.9" width="64.5" height="50.5"/></clipPath>
<g clip-path="url(#hc1)">
<rect x="130.2" y="74.9" width="64.5" height="50.5" fill="#d860c4"/>
<path d="M189.3 96.2a0.60 0.60 0 1 0 1.20 0a0.60 0.60 0 1 0 -1.20 0M160.4 89.9a0.94 0.94 0 1 0 1.88 0a0.94 0.94 0 1 0 -1.88 0M190.5 77.2a0.76 0.76 0 1 0 1.52 0a0.76 0.76 0 1 0 -1.52 0M143.5 99.2a0.59 0.59 0 1 0 1.17 0a0.59 0.59 0 1 0 -1.17 0M150.4 80.5a0.73 0.73 0 1 0 1.47 0a0.73 0.73 0 1 0 -1.47 0M132.8 109.1a0.96 0.96 0 1 0 1.93 0a0.96 0.96 0 1 0 -1.93 0M186.7 100.1a0.60 0.60 0 1 0 1.19 0a0.60 0.60 0 1 0 -1.19 0M182.1 102.1a0.64 0.64 0 1 0 1.27 0a0.64 0.64 0 1 0 -1.27 0M170.9 115.1a0.69 0.69 0 1 0 1.38 0a0.69 0.69 0 1 0 -1.38 0M176.2 91.8a0.90 0.90 0 1 0 1.79 0a0.90 0.90 0 1 0 -1.79 0M166.8 117.8a0.67 0.67 0 1 0 1.33 0a0.67 0.67 0 1 0 -1.33 0M178.7 89.5a0.76 0.76 0 1 0 1.53 0a0.76 0.76 0 1 0 -1.53 0M185.9 109.4a0.92 0.92 0 1 0 1.85 0a0.92 0.92 0 1 0 -1.85 0M168.6 105.9a0.97 0.97 0 1 0 1.94 0a0.97 0.97 0 1 0 -1.94 0M143.7 116.7a0.83 0.83 0 1 0 1.66 0a0.83 0.83 0 1 0 -1.66 0M185.4 124.4a0.68 0.68 0 1 0 1.35 0a0.68 0.68 0 1 0 -1.35 0M187.7 84.9a0.73 0.73 0 1 0 1.45 0a0.73 0.73 0 1 0 -1.45 0M192.0 83.5a0.69 0.69 0 1 0 1.38 0a0.69 0.69 0 1 0 -1.38 0M188.0 94.2a0.79 0.79 0 1 0 1.57 0a0.79 0.79 0 1 0 -1.57 0M146.3 100.2a0.78 0.78 0 1 0 1.57 0a0.78 0.78 0 1 0 -1.57 0M191.6 97.0a0.99 0.99 0 1 0 1.99 0a0.99 0.99 0 1 0 -1.99 0M156.5 80.5a0.83 0.83 0 1 0 1.66 0a0.83 0.83 0 1 0 -1.66 0M166.7 115.5a0.81 0.81 0 1 0 1.62 0a0.81 0.81 0 1 0 -1.62 0M182.4 102.9a0.93 0.93 0 1 0 1.86 0a0.93 0.93 0 1 0 -1.86 0M162.3 101.4a0.78 0.78 0 1 0 1.57 0a0.78 0.78 0 1 0 -1.57 0M180.5 98.4a0.64 0.64 0 1 0 1.27 0a0.64 0.64 0 1 0 -1.27 0M173.2 120.3a0.61 0.61 0 1 0 1.22 0a0.61 0.61 0 1 0 -1.22 0M145.7 95.1a0.62 0.62 0 1 0 1.23 0a0.62 0.62 0 1 0 -1.23 0M178.8 113.0a0.76 0.76 0 1 0 1.52 0a0.76 0.76 0 1 0 -1.52 0M189.2 120.5a0.92 0.92 0 1 0 1.84 0a0.92 0.92 0 1 0 -1.84 0M172.0 123.3a0.89 0.89 0 1 0 1.79 0a0.89 0.89 0 1 0 -1.79 0M184.6 99.5a0.97 0.97 0 1 0 1.95 0a0.97 0.97 0 1 0 -1.95 0M180.2 100.4a0.94 0.94 0 1 0 1.88 0a0.94 0.94 0 1 0 -1.88 0M138.5 95.4a0.80 0.80 0 1 0 1.61 0a0.80 0.80 0 1 0 -1.61 0M182.5 116.7a0.72 0.72 0 1 0 1.43 0a0.72 0.72 0 1 0 -1.43 0M165.4 97.2a0.67 0.67 0 1 0 1.34 0a0.67 0.67 0 1 0 -1.34 0M138.3 101.9a0.86 0.86 0 1 0 1.72 0a0.86 0.86 0 1 0 -1.72 0M175.3 115.5a0.88 0.88 0 1 0 1.76 0a0.88 0.88 0 1 0 -1.76 0M158.4 82.4a0.79 0.79 0 1 0 1.59 0a0.79 0.79 0 1 0 -1.59 0M155.3 75.7a0.96 0.96 0 1 0 1.92 0a0.96 0.96 0 1 0 -1.92 0M168.9 117.2a0.78 0.78 0 1 0 1.55 0a0.78 0.78 0 1 0 -1.55 0M136.7 89.0a0.85 0.85 0 1 0 1.70 0a0.85 0.85 0 1 0 -1.70 0M188.8 106.3a0.96 0.96 0 1 0 1.92 0a0.96 0.96 0 1 0 -1.92 0M186.8 88.3a0.63 0.63 0 1 0 1.26 0a0.63 0.63 0 1 0 -1.26 0M172.5 113.5a0.80 0.80 0 1 0 1.60 0a0.80 0.80 0 1 0 -1.60 0M181.1 123.9a0.63 0.63 0 1 0 1.25 0a0.63 0.63 0 1 0 -1.25 0M160.4 80.1a0.70 0.70 0 1 0 1.40 0a0.70 0.70 0 1 0 -1.40 0M134.9 113.2a0.81 0.81 0 1 0 1.62 0a0.81 0.81 0 1 0 -1.62 0M175.4 101.1a0.56 0.56 0 1 0 1.12 0a0.56 0.56 0 1 0 -1.12 0M143.0 98.0a0.63 0.63 0 1 0 1.25 0a0.63 0.63 0 1 0 -1.25 0M182.8 75.5a0.70 0.70 0 1 0 1.39 0a0.70 0.70 0 1 0 -1.39 0M162.1 97.6a0.66 0.66 0 1 0 1.32 0a0.66 0.66 0 1 0 -1.32 0M191.0 107.1a0.61 0.61 0 1 0 1.21 0a0.61 0.61 0 1 0 -1.21 0M191.2 77.3a0.86 0.86 0 1 0 1.72 0a0.86 0.86 0 1 0 -1.72 0M193.1 109.4a0.78 0.78 0 1 0 1.57 0a0.78 0.78 0 1 0 -1.57 0M140.7 103.6a0.88 0.88 0 1 0 1.76 0a0.88 0.88 0 1 0 -1.76 0M135.8 115.2a0.83 0.83 0 1 0 1.65 0a0.83 0.83 0 1 0 -1.65 0M133.7 115.2a0.82 0.82 0 1 0 1.65 0a0.82 0.82 0 1 0 -1.65 0M182.3 85.0a0.69 0.69 0 1 0 1.39 0a0.69 0.69 0 1 0 -1.39 0M188.1 122.2a0.99 0.99 0 1 0 1.97 0a0.99 0.99 0 1 0 -1.97 0M130.7 96.5a0.98 0.98 0 1 0 1.96 0a0.98 0.98 0 1 0 -1.96 0M172.1 98.6a0.61 0.61 0 1 0 1.23 0a0.61 0.61 0 1 0 -1.23 0M162.0 114.1a0.81 0.81 0 1 0 1.62 0a0.81 0.81 0 1 0 -1.62 0M155.4 125.4a0.61 0.61 0 1 0 1.22 0a0.61 0.61 0 1 0 -1.22 0M185.6 83.8a0.67 0.67 0 1 0 1.34 0a0.67 0.67 0 1 0 -1.34 0M186.4 89.8a0.64 0.64 0 1 0 1.29 0a0.64 0.64 0 1 0 -1.29 0M144.3 123.5a0.97 0.97 0 1 0 1.95 0a0.97 0.97 0 1 0 -1.95 0M176.6 102.8a0.99 0.99 0 1 0 1.99 0a0.99 0.99 0 1 0 -1.99 0M171.4 99.3a0.94 0.94 0 1 0 1.88 0a0.94 0.94 0 1 0 -1.88 0M168.5 100.8a0.85 0.85 0 1 0 1.69 0a0.85 0.85 0 1 0 -1.69 0M146.0 79.1a0.87 0.87 0 1 0 1.74 0a0.87 0.87 0 1 0 -1.74 0M162.9 97.8a0.94 0.94 0 1 0 1.88 0a0.94 0.94 0 1 0 -1.88 0M183.7 89.6a0.75 0.75 0 1 0 1.50 0a0.75 0.75 0 1 0 -1.50 0M173.9 103.0a0.88 0.88 0 1 0 1.76 0a0.88 0.88 0 1 0 -1.76 0M133.7 112.1a0.67 0.67 0 1 0 1.33 0a0.67 0.67 0 1 0 -1.33 0M137.6 92.5a0.84 0.84 0 1 0 1.69 0a0.84 0.84 0 1 0 -1.69 0M164.9 75.8a0.72 0.72 0 1 0 1.43 0a0.72 0.72 0 1 0 -1.43 0M139.8 106.8a0.66 0.66 0 1 0 1.32 0a0.66 0.66 0 1 0 -1.32 0M145.2 107.2a0.72 0.72 0 1 0 1.43 0a0.72 0.72 0 1 0 -1.43 0M174.6 96.5a0.74 0.74 0 1 0 1.48 0a0.74 0.74 0 1 0 -1.48 0M153.4 101.5a0.99 0.99 0 1 0 1.98 0a0.99 0.99 0 1 0 -1.98 0M153.8 77.6a0.63 0.63 0 1 0 1.25 0a0.63 0.63 0 1 0 -1.25 0M154.5 118.5a0.73 0.73 0 1 0 1.45 0a0.73 0.73 0 1 0 -1.45 0M182.6 88.5a0.88 0.88 0 1 0 1.75 0a0.88 0.88 0 1 0 -1.75 0M140.6 117.8a0.84 0.84 0 1 0 1.68 0a0.84 0.84 0 1 0 -1.68 0M162.4 125.0a0.84 0.84 0 1 0 1.69 0a0.84 0.84 0 1 0 -1.69 0M192.6 106.6a0.97 0.97 0 1 0 1.95 0a0.97 0.97 0 1 0 -1.95 0M174.0 102.4a0.72 0.72 0 1 0 1.43 0a0.72 0.72 0 1 0 -1.43 0M155.3 96.7a0.62 0.62 0 1 0 1.24 0a0.62 0.62 0 1 0 -1.24 0M163.8 125.3a0.85 0.85 0 1 0 1.70 0a0.85 0.85 0 1 0 -1.70 0M131.7 87.8a0.93 0.93 0 1 0 1.87 0a0.93 0.93 0 1 0 -1.87 0M166.7 80.3a0.78 0.78 0 1 0 1.56 0a0.78 0.78 0 1 0 -1.56 0M143.3 122.4a0.85 0.85 0 1 0 1.71 0a0.85 0.85 0 1 0 -1.71 0M162.3 111.7a0.78 0.78 0 1 0 1.56 0a0.78 0.78 0 1 0 -1.56 0M153.4 108.4a0.68 0.68 0 1 0 1.35 0a0.68 0.68 0 1 0 -1.35 0M171.4 115.3a0.91 0.91 0 1 0 1.82 0a0.91 0.91 0 1 0 -1.82 0M144.1 98.7a0.96 0.96 0 1 0 1.93 0a0.96 0.96 0 1 0 -1.93 0M138.8 84.1a0.62 0.62 0 1 0 1.23 0a0.62 0.62 0 1 0 -1.23 0M130.9 90.1a0.75 0.75 0 1 0 1.50 0a0.75 0.75 0 1 0 -1.50 0M191.7 88.4a0.95 0.95 0 1 0 1.90 0a0.95 0.95 0 1 0 -1.90 0M161.4 86.8a0.71 0.71 0 1 0 1.43 0a0.71 0.71 0 1 0 -1.43 0M175.8 93.3a0.74 0.74 0 1 0 1.49 0a0.74 0.74 0 1 0 -1.49 0M156.4 107.2a0.96 0.96 0 1 0 1.91 0a0.96 0.96 0 1 0 -1.91 0M129.5 103.0a0.94 0.94 0 1 0 1.88 0a0.94 0.94 0 1 0 -1.88 0M137.8 76.7a0.98 0.98 0 1 0 1.96 0a0.98 0.98 0 1 0 -1.96 0M180.9 113.0a0.58 0.58 0 1 0 1.17 0a0.58 0.58 0 1 0 -1.17 0M166.3 104.0a0.65 0.65 0 1 0 1.29 0a0.65 0.65 0 1 0 -1.29 0M183.9 105.8a0.88 0.88 0 1 0 1.76 0a0.88 0.88 0 1 0 -1.76 0M190.8 105.4a0.90 0.90 0 1 0 1.79 0a0.90 0.90 0 1 0 -1.79 0M144.5 84.2a0.61 0.61 0 1 0 1.22 0a0.61 0.61 0 1 0 -1.22 0M164.0 82.1a0.65 0.65 0 1 0 1.31 0a0.65 0.65 0 1 0 -1.31 0M166.6 113.1a0.98 0.98 0 1 0 1.96 0a0.98 0.98 0 1 0 -1.96 0M185.8 113.8a0.84 0.84 0 1 0 1.69 0a0.84 0.84 0 1 0 -1.69 0M173.3 104.6a0.55 0.55 0 1 0 1.10 0a0.55 0.55 0 1 0 -1.10 0M179.9 93.4a0.91 0.91 0 1 0 1.82 0a0.91 0.91 0 1 0 -1.82 0M193.0 91.8a0.97 0.97 0 1 0 1.94 0a0.97 0.97 0 1 0 -1.94 0M179.3 88.7a0.69 0.69 0 1 0 1.38 0a0.69 0.69 0 1 0 -1.38 0M184.3 82.1a0.91 0.91 0 1 0 1.82 0a0.91 0.91 0 1 0 -1.82 0M144.1 88.7a0.86 0.86 0 1 0 1.73 0a0.86 0.86 0 1 0 -1.73 0M186.8 113.0a0.96 0.96 0 1 0 1.91 0a0.96 0.96 0 1 0 -1.91 0M187.5 101.7a0.82 0.82 0 1 0 1.64 0a0.82 0.82 0 1 0 -1.64 0M149.1 97.1a0.61 0.61 0 1 0 1.23 0a0.61 0.61 0 1 0 -1.23 0M169.4 124.6a0.62 0.62 0 1 0 1.24 0a0.62 0.62 0 1 0 -1.24 0M173.3 105.3a0.85 0.85 0 1 0 1.69 0a0.85 0.85 0 1 0 -1.69 0M183.2 112.4a0.67 0.67 0 1 0 1.35 0a0.67 0.67 0 1 0 -1.35 0M158.6 104.1a0.66 0.66 0 1 0 1.32 0a0.66 0.66 0 1 0 -1.32 0M163.3 97.9a0.88 0.88 0 1 0 1.76 0a0.88 0.88 0 1 0 -1.76 0M133.4 85.7a0.57 0.57 0 1 0 1.15 0a0.57 0.57 0 1 0 -1.15 0M139.2 108.2a0.67 0.67 0 1 0 1.34 0a0.67 0.67 0 1 0 -1.34 0M156.6 123.3a0.71 0.71 0 1 0 1.42 0a0.71 0.71 0 1 0 -1.42 0M150.8 108.3a0.65 0.65 0 1 0 1.31 0a0.65 0.65 0 1 0 -1.31 0M191.1 104.0a0.94 0.94 0 1 0 1.88 0a0.94 0.94 0 1 0 -1.88 0M172.0 76.3a0.96 0.96 0 1 0 1.91 0a0.96 0.96 0 1 0 -1.91 0M130.7 110.6a0.79 0.79 0 1 0 1.59 0a0.79 0.79 0 1 0 -1.59 0M169.4 111.0a0.72 0.72 0 1 0 1.44 0a0.72 0.72 0 1 0 -1.44 0M134.9 107.9a0.94 0.94 0 1 0 1.88 0a0.94 0.94 0 1 0 -1.88 0M172.8 96.4a0.79 0.79 0 1 0 1.57 0a0.79 0.79 0 1 0 -1.57 0M169.2 101.1a0.56 0.56 0 1 0 1.11 0a0.56 0.56 0 1 0 -1.11 0M140.5 78.7a0.68 0.68 0 1 0 1.36 0a0.68 0.68 0 1 0 -1.36 0M149.8 86.9a0.96 0.96 0 1 0 1.91 0a0.96 0.96 0 1 0 -1.91 0M177.7 75.4a0.64 0.64 0 1 0 1.28 0a0.64 0.64 0 1 0 -1.28 0M190.6 102.6a0.78 0.78 0 1 0 1.56 0a0.78 0.78 0 1 0 -1.56 0M163.0 123.9a0.97 0.97 0 1 0 1.94 0a0.97 0.97 0 1 0 -1.94 0M173.0 102.3a0.90 0.90 0 1 0 1.80 0a0.90 0.90 0 1 0 -1.80 0M146.4 111.1a0.75 0.75 0 1 0 1.49 0a0.75 0.75 0 1 0 -1.49 0M135.4 89.2a0.89 0.89 0 1 0 1.77 0a0.89 0.89 0 1 0 -1.77 0M152.5 111.5a0.80 0.80 0 1 0 1.60 0a0.80 0.80 0 1 0 -1.60 0M193.1 95.1a0.86 0.86 0 1 0 1.72 0a0.86 0.86 0 1 0 -1.72 0M154.9 79.4a0.93 0.93 0 1 0 1.86 0a0.93 0.93 0 1 0 -1.86 0M130.0 113.0a0.90 0.90 0 1 0 1.79 0a0.90 0.90 0 1 0 -1.79 0M150.7 86.5a0.83 0.83 0 1 0 1.67 0a0.83 0.83 0 1 0 -1.67 0M155.8 117.3a0.88 0.88 0 1 0 1.76 0a0.88 0.88 0 1 0 -1.76 0M163.1 91.7a0.94 0.94 0 1 0 1.89 0a0.94 0.94 0 1 0 -1.89 0M158.0 105.8a0.72 0.72 0 1 0 1.45 0a0.72 0.72 0 1 0 -1.45 0M178.2 114.1a0.83 0.83 0 1 0 1.65 0a0.83 0.83 0 1 0 -1.65 0M157.8 117.4a0.91 0.91 0 1 0 1.82 0a0.91 0.91 0 1 0 -1.82 0M144.2 121.1a0.93 0.93 0 1 0 1.85 0a0.93 0.93 0 1 0 -1.85 0M183.0 107.5a0.89 0.89 0 1 0 1.78 0a0.89 0.89 0 1 0 -1.78 0M177.9 81.3a0.72 0.72 0 1 0 1.43 0a0.72 0.72 0 1 0 -1.43 0M182.1 116.8a0.78 0.78 0 1 0 1.57 0a0.78 0.78 0 1 0 -1.57 0M148.1 119.8a0.60 0.60 0 1 0 1.21 0a0.60 0.60 0 1 0 -1.21 0M133.2 113.3a0.85 0.85 0 1 0 1.71 0a0.85 0.85 0 1 0 -1.71 0M171.5 119.0a0.75 0.75 0 1 0 1.49 0a0.75 0.75 0 1 0 -1.49 0M168.4 117.3a0.87 0.87 0 1 0 1.74 0a0.87 0.87 0 1 0 -1.74 0M193.1 115.1a0.66 0.66 0 1 0 1.32 0a0.66 0.66 0 1 0 -1.32 0M141.7 123.3a0.93 0.93 0 1 0 1.86 0a0.93 0.93 0 1 0 -1.86 0M190.0 86.9a0.87 0.87 0 1 0 1.73 0a0.87 0.87 0 1 0 -1.73 0M135.5 122.8a0.79 0.79 0 1 0 1.57 0a0.79 0.79 0 1 0 -1.57 0M155.1 114.3a0.97 0.97 0 1 0 1.93 0a0.97 0.97 0 1 0 -1.93 0M173.5 81.7a0.56 0.56 0 1 0 1.13 0a0.56 0.56 0 1 0 -1.13 0M191.6 110.0a0.77 0.77 0 1 0 1.54 0a0.77 0.77 0 1 0 -1.54 0M148.3 95.4a0.68 0.68 0 1 0 1.36 0a0.68 0.68 0 1 0 -1.36 0M176.8 90.6a0.64 0.64 0 1 0 1.28 0a0.64 0.64 0 1 0 -1.28 0M143.3 96.3a0.97 0.97 0 1 0 1.93 0a0.97 0.97 0 1 0 -1.93 0M171.2 91.0a0.72 0.72 0 1 0 1.44 0a0.72 0.72 0 1 0 -1.44 0M185.2 95.7a0.68 0.68 0 1 0 1.36 0a0.68 0.68 0 1 0 -1.36 0M173.6 94.5a0.90 0.90 0 1 0 1.79 0a0.90 0.90 0 1 0 -1.79 0M144.2 104.0a0.92 0.92 0 1 0 1.85 0a0.92 0.92 0 1 0 -1.85 0M183.3 78.6a0.55 0.55 0 1 0 1.10 0a0.55 0.55 0 1 0 -1.10 0M131.8 116.4a0.81 0.81 0 1 0 1.62 0a0.81 0.81 0 1 0 -1.62 0M148.1 105.5a0.71 0.71 0 1 0 1.42 0a0.71 0.71 0 1 0 -1.42 0M193.1 95.0a0.80 0.80 0 1 0 1.59 0a0.80 0.80 0 1 0 -1.59 0M179.8 87.1a0.81 0.81 0 1 0 1.62 0a0.81 0.81 0 1 0 -1.62 0M152.4 99.2a0.85 0.85 0 1 0 1.69 0a0.85 0.85 0 1 0 -1.69 0M166.4 95.8a0.69 0.69 0 1 0 1.37 0a0.69 0.69 0 1 0 -1.37 0M152.0 92.8a0.65 0.65 0 1 0 1.30 0a0.65 0.65 0 1 0 -1.30 0M173.0 96.4a0.71 0.71 0 1 0 1.42 0a0.71 0.71 0 1 0 -1.42 0M156.2 96.6a0.68 0.68 0 1 0 1.36 0a0.68 0.68 0 1 0 -1.36 0M154.5 105.8a0.95 0.95 0 1 0 1.90 0a0.95 0.95 0 1 0 -1.90 0M148.3 84.6a0.62 0.62 0 1 0 1.24 0a0.62 0.62 0 1 0 -1.24 0M131.4 120.3a0.86 0.86 0 1 0 1.72 0a0.86 0.86 0 1 0 -1.72 0M134.5 111.5a0.71 0.71 0 1 0 1.42 0a0.71 0.71 0 1 0 -1.42 0M166.1 92.2a0.76 0.76 0 1 0 1.52 0a0.76 0.76 0 1 0 -1.52 0M187.3 116.6a0.72 0.72 0 1 0 1.44 0a0.72 0.72 0 1 0 -1.44 0M154.6 82.5a0.81 0.81 0 1 0 1.61 0a0.81 0.81 0 1 0 -1.61 0M136.6 119.4a0.94 0.94 0 1 0 1.88 0a0.94 0.94 0 1 0 -1.88 0M182.6 76.3a0.68 0.68 0 1 0 1.37 0a0.68 0.68 0 1 0 -1.37 0M143.9 95.7a0.98 0.98 0 1 0 1.95 0a0.98 0.98 0 1 0 -1.95 0M179.4 101.6a1.00 1.00 0 1 0 1.99 0a1.00 1.00 0 1 0 -1.99 0M133.4 97.8a0.71 0.71 0 1 0 1.42 0a0.71 0.71 0 1 0 -1.42 0M182.4 99.5a0.75 0.75 0 1 0 1.50 0a0.75 0.75 0 1 0 -1.50 0M138.8 115.0a0.98 0.98 0 1 0 1.97 0a0.98 0.98 0 1 0 -1.97 0M180.3 124.2a0.63 0.63 0 1 0 1.27 0a0.63 0.63 0 1 0 -1.27 0M170.1 97.2a0.57 0.57 0 1 0 1.13 0a0.57 0.57 0 1 0 -1.13 0M179.5 83.7a0.97 0.97 0 1 0 1.93 0a0.97 0.97 0 1 0 -1.93 0M143.7 88.1a0.99 0.99 0 1 0 1.97 0a0.99 0.99 0 1 0 -1.97 0M148.9 117.7a0.88 0.88 0 1 0 1.77 0a0.88 0.88 0 1 0 -1.77 0M185.3 78.5a0.76 0.76 0 1 0 1.53 0a0.76 0.76 0 1 0 -1.53 0M154.1 108.1a0.96 0.96 0 1 0 1.92 0a0.96 0.96 0 1 0 -1.92 0M168.3 117.1a0.95 0.95 0 1 0 1.89 0a0.95 0.95 0 1 0 -1.89 0M160.2 96.0a0.76 0.76 0 1 0 1.53 0a0.76 0.76 0 1 0 -1.53 0M149.1 84.3a0.89 0.89 0 1 0 1.77 0a0.89 0.89 0 1 0 -1.77 0M190.5 100.8a0.70 0.70 0 1 0 1.40 0a0.70 0.70 0 1 0 -1.40 0M136.9 107.3a0.63 0.63 0 1 0 1.26 0a0.63 0.63 0 1 0 -1.26 0M180.3 97.0a0.70 0.70 0 1 0 1.40 0a0.70 0.70 0 1 0 -1.40 0M171.0 119.1a0.92 0.92 0 1 0 1.84 0a0.92 0.92 0 1 0 -1.84 0M190.5 109.1a0.95 0.95 0 1 0 1.89 0a0.95 0.95 0 1 0 -1.89 0M155.1 111.7a0.94 0.94 0 1 0 1.88 0a0.94 0.94 0 1 0 -1.88 0M132.3 112.3a0.91 0.91 0 1 0 1.82 0a0.91 0.91 0 1 0 -1.82 0M151.7 91.1a0.99 0.99 0 1 0 1.98 0a0.99 0.99 0 1 0 -1.98 0M170.7 90.4a0.63 0.63 0 1 0 1.27 0a0.63 0.63 0 1 0 -1.27 0M176.0 79.7a0.60 0.60 0 1 0 1.21 0a0.60 0.60 0 1 0 -1.21 0M169.6 101.3a0.57 0.57 0 1 0 1.14 0a0.57 0.57 0 1 0 -1.14 0M163.2 122.1a0.84 0.84 0 1 0 1.67 0a0.84 0.84 0 1 0 -1.67 0M181.3 120.6a0.76 0.76 0 1 0 1.53 0a0.76 0.76 0 1 0 -1.53 0M176.2 104.3a0.95 0.95 0 1 0 1.89 0a0.95 0.95 0 1 0 -1.89 0M168.5 115.8a0.87 0.87 0 1 0 1.73 0a0.87 0.87 0 1 0 -1.73 0M143.9 97.1a0.93 0.93 0 1 0 1.87 0a0.93 0.93 0 1 0 -1.87 0M157.9 93.8a0.97 0.97 0 1 0 1.95 0a0.97 0.97 0 1 0 -1.95 0M163.3 116.6a0.70 0.70 0 1 0 1.40 0a0.70 0.70 0 1 0 -1.40 0M144.1 94.9a0.61 0.61 0 1 0 1.23 0a0.61 0.61 0 1 0 -1.23 0M176.5 108.0a0.86 0.86 0 1 0 1.72 0a0.86 0.86 0 1 0 -1.72 0M137.0 125.3a0.91 0.91 0 1 0 1.82 0a0.91 0.91 0 1 0 -1.82 0M193.0 81.6a0.67 0.67 0 1 0 1.34 0a0.67 0.67 0 1 0 -1.34 0M184.5 103.6a0.62 0.62 0 1 0 1.24 0a0.62 0.62 0 1 0 -1.24 0M184.5 109.1a0.90 0.90 0 1 0 1.81 0a0.90 0.90 0 1 0 -1.81 0M143.3 85.6a0.98 0.98 0 1 0 1.97 0a0.98 0.98 0 1 0 -1.97 0M134.0 99.3a0.71 0.71 0 1 0 1.42 0a0.71 0.71 0 1 0 -1.42 0M184.5 85.5a0.67 0.67 0 1 0 1.35 0a0.67 0.67 0 1 0 -1.35 0M138.7 82.1a0.65 0.65 0 1 0 1.31 0a0.65 0.65 0 1 0 -1.31 0M130.4 85.4a0.60 0.60 0 1 0 1.20 0a0.60 0.60 0 1 0 -1.20 0M148.2 97.4a0.93 0.93 0 1 0 1.87 0a0.93 0.93 0 1 0 -1.87 0M182.0 117.8a0.72 0.72 0 1 0 1.44 0a0.72 0.72 0 1 0 -1.44 0M157.5 80.8a0.94 0.94 0 1 0 1.87 0a0.94 0.94 0 1 0 -1.87 0M189.5 86.6a0.64 0.64 0 1 0 1.27 0a0.64 0.64 0 1 0 -1.27 0M132.9 85.8a0.98 0.98 0 1 0 1.96 0a0.98 0.98 0 1 0 -1.96 0M187.0 83.8a0.73 0.73 0 1 0 1.45 0a0.73 0.73 0 1 0 -1.45 0M141.0 84.9a0.77 0.77 0 1 0 1.54 0a0.77 0.77 0 1 0 -1.54 0M132.7 115.9a0.66 0.66 0 1 0 1.33 0a0.66 0.66 0 1 0 -1.33 0M185.1 86.5a0.87 0.87 0 1 0 1.74 0a0.87 0.87 0 1 0 -1.74 0M162.2 97.4a0.84 0.84 0 1 0 1.68 0a0.84 0.84 0 1 0 -1.68 0M163.3 124.9a0.79 0.79 0 1 0 1.59 0a0.79 0.79 0 1 0 -1.59 0M159.9 101.0a0.62 0.62 0 1 0 1.23 0a0.62 0.62 0 1 0 -1.23 0M185.6 79.7a0.57 0.57 0 1 0 1.14 0a0.57 0.57 0 1 0 -1.14 0M156.2 97.1a0.99 0.99 0 1 0 1.99 0a0.99 0.99 0 1 0 -1.99 0M145.5 80.9a0.91 0.91 0 1 0 1.81 0a0.91 0.91 0 1 0 -1.81 0M146.9 103.2a0.74 0.74 0 1 0 1.48 0a0.74 0.74 0 1 0 -1.48 0M135.4 81.1a0.65 0.65 0 1 0 1.30 0a0.65 0.65 0 1 0 -1.30 0M146.8 112.5a0.64 0.64 0 1 0 1.29 0a0.64 0.64 0 1 0 -1.29 0M143.4 84.5a0.83 0.83 0 1 0 1.66 0a0.83 0.83 0 1 0 -1.66 0M150.6 90.8a0.63 0.63 0 1 0 1.26 0a0.63 0.63 0 1 0 -1.26 0M133.6 77.4a0.98 0.98 0 1 0 1.97 0a0.98 0.98 0 1 0 -1.97 0M133.2 87.4a0.92 0.92 0 1 0 1.84 0a0.92 0.92 0 1 0 -1.84 0M136.4 97.9a0.68 0.68 0 1 0 1.36 0a0.68 0.68 0 1 0 -1.36 0M154.6 98.1a0.73 0.73 0 1 0 1.47 0a0.73 0.73 0 1 0 -1.47 0M134.3 96.8a0.91 0.91 0 1 0 1.82 0a0.91 0.91 0 1 0 -1.82 0M161.7 118.3a0.58 0.58 0 1 0 1.15 0a0.58 0.58 0 1 0 -1.15 0M141.1 77.0a0.60 0.60 0 1 0 1.20 0a0.60 0.60 0 1 0 -1.20 0M150.7 107.1a0.57 0.57 0 1 0 1.13 0a0.57 0.57 0 1 0 -1.13 0M193.4 96.7a0.66 0.66 0 1 0 1.33 0a0.66 0.66 0 1 0 -1.33 0M152.5 77.8a0.64 0.64 0 1 0 1.28 0a0.64 0.64 0 1 0 -1.28 0M165.3 78.2a0.78 0.78 0 1 0 1.56 0a0.78 0.78 0 1 0 -1.56 0M158.6 111.0a0.94 0.94 0 1 0 1.89 0a0.94 0.94 0 1 0 -1.89 0M188.9 111.4a0.73 0.73 0 1 0 1.47 0a0.73 0.73 0 1 0 -1.47 0M167.4 95.1a0.58 0.58 0 1 0 1.16 0a0.58 0.58 0 1 0 -1.16 0M172.0 95.5a0.57 0.57 0 1 0 1.14 0a0.57 0.57 0 1 0 -1.14 0M135.5 104.3a0.95 0.95 0 1 0 1.91 0a0.95 0.95 0 1 0 -1.91 0M186.2 121.3a0.85 0.85 0 1 0 1.70 0a0.85 0.85 0 1 0 -1.70 0M181.2 98.9a0.91 0.91 0 1 0 1.83 0a0.91 0.91 0 1 0 -1.83 0M193.3 100.1a0.60 0.60 0 1 0 1.21 0a0.60 0.60 0 1 0 -1.21 0M171.3 119.1a0.84 0.84 0 1 0 1.67 0a0.84 0.84 0 1 0 -1.67 0M176.2 107.8a0.56 0.56 0 1 0 1.12 0a0.56 0.56 0 1 0 -1.12 0M135.4 120.0a1.00 1.00 0 1 0 2.00 0a1.00 1.00 0 1 0 -2.00 0M182.9 108.7a0.71 0.71 0 1 0 1.41 0a0.71 0.71 0 1 0 -1.41 0M142.9 124.3a0.90 0.90 0 1 0 1.81 0a0.90 0.90 0 1 0 -1.81 0M149.9 119.3a0.77 0.77 0 1 0 1.54 0a0.77 0.77 0 1 0 -1.54 0M163.2 95.3a0.90 0.90 0 1 0 1.81 0a0.90 0.90 0 1 0 -1.81 0M159.0 106.1a0.84 0.84 0 1 0 1.67 0a0.84 0.84 0 1 0 -1.67 0M166.3 75.4a0.76 0.76 0 1 0 1.51 0a0.76 0.76 0 1 0 -1.51 0M135.1 123.4a0.81 0.81 0 1 0 1.62 0a0.81 0.81 0 1 0 -1.62 0M152.4 111.1a0.97 0.97 0 1 0 1.94 0a0.97 0.97 0 1 0 -1.94 0M169.6 87.9a0.76 0.76 0 1 0 1.53 0a0.76 0.76 0 1 0 -1.53 0M144.7 76.4a0.62 0.62 0 1 0 1.24 0a0.62 0.62 0 1 0 -1.24 0M145.1 102.6a0.62 0.62 0 1 0 1.24 0a0.62 0.62 0 1 0 -1.24 0M144.7 80.8a0.57 0.57 0 1 0 1.14 0a0.57 0.57 0 1 0 -1.14 0M189.2 77.8a0.88 0.88 0 1 0 1.75 0a0.88 0.88 0 1 0 -1.75 0M182.2 116.2a0.60 0.60 0 1 0 1.20 0a0.60 0.60 0 1 0 -1.20 0M140.6 75.8a0.94 0.94 0 1 0 1.87 0a0.94 0.94 0 1 0 -1.87 0M186.3 122.4a0.97 0.97 0 1 0 1.94 0a0.97 0.97 0 1 0 -1.94 0M174.7 86.1a0.97 0.97 0 1 0 1.95 0a0.97 0.97 0 1 0 -1.95 0M147.4 118.8a0.87 0.87 0 1 0 1.74 0a0.87 0.87 0 1 0 -1.74 0M172.2 116.4a0.76 0.76 0 1 0 1.51 0a0.76 0.76 0 1 0 -1.51 0M180.2 117.3a0.73 0.73 0 1 0 1.47 0a0.73 0.73 0 1 0 -1.47 0M169.3 87.6a0.90 0.90 0 1 0 1.81 0a0.90 0.90 0 1 0 -1.81 0M152.4 100.7a0.72 0.72 0 1 0 1.43 0a0.72 0.72 0 1 0 -1.43 0M193.2 75.5a0.67 0.67 0 1 0 1.34 0a0.67 0.67 0 1 0 -1.34 0M178.2 109.2a0.85 0.85 0 1 0 1.71 0a0.85 0.85 0 1 0 -1.71 0M153.9 92.7a0.59 0.59 0 1 0 1.17 0a0.59 0.59 0 1 0 -1.17 0M167.4 83.7a0.66 0.66 0 1 0 1.32 0a0.66 0.66 0 1 0 -1.32 0M137.4 83.2a0.76 0.76 0 1 0 1.53 0a0.76 0.76 0 1 0 -1.53 0M136.8 112.7a0.74 0.74 0 1 0 1.47 0a0.74 0.74 0 1 0 -1.47 0M183.8 114.5a0.95 0.95 0 1 0 1.91 0a0.95 0.95 0 1 0 -1.91 0M175.5 109.0a0.81 0.81 0 1 0 1.63 0a0.81 0.81 0 1 0 -1.63 0M129.6 83.1a0.75 0.75 0 1 0 1.50 0a0.75 0.75 0 1 0 -1.50 0M133.1 113.5a0.60 0.60 0 1 0 1.19 0a0.60 0.60 0 1 0 -1.19 0M149.8 81.4a0.89 0.89 0 1 0 1.77 0a0.89 0.89 0 1 0 -1.77 0M138.8 117.7a0.62 0.62 0 1 0 1.24 0a0.62 0.62 0 1 0 -1.24 0M161.4 87.6a0.90 0.90 0 1 0 1.79 0a0.90 0.90 0 1 0 -1.79 0M156.6 93.1a0.91 0.91 0 1 0 1.82 0a0.91 0.91 0 1 0 -1.82 0M190.5 85.1a0.65 0.65 0 1 0 1.31 0a0.65 0.65 0 1 0 -1.31 0M134.5 102.8a0.98 0.98 0 1 0 1.95 0a0.98 0.98 0 1 0 -1.95 0M159.7 90.6a0.67 0.67 0 1 0 1.34 0a0.67 0.67 0 1 0 -1.34 0M134.8 117.1a0.81 0.81 0 1 0 1.61 0a0.81 0.81 0 1 0 -1.61 0M182.9 90.6a0.95 0.95 0 1 0 1.90 0a0.95 0.95 0 1 0 -1.90 0M135.2 87.0a0.88 0.88 0 1 0 1.75 0a0.88 0.88 0 1 0 -1.75 0M146.7 76.7a0.98 0.98 0 1 0 1.97 0a0.98 0.98 0 1 0 -1.97 0M190.9 114.7a0.71 0.71 0 1 0 1.42 0a0.71 0.71 0 1 0 -1.42 0M146.5 106.7a0.73 0.73 0 1 0 1.46 0a0.73 0.73 0 1 0 -1.46 0M135.3 83.9a0.87 0.87 0 1 0 1.74 0a0.87 0.87 0 1 0 -1.74 0M147.8 105.0a0.74 0.74 0 1 0 1.48 0a0.74 0.74 0 1 0 -1.48 0M161.1 106.5a0.71 0.71 0 1 0 1.43 0a0.71 0.71 0 1 0 -1.43 0M170.4 115.3a0.71 0.71 0 1 0 1.42 0a0.71 0.71 0 1 0 -1.42 0M132.3 99.2a0.57 0.57 0 1 0 1.15 0a0.57 0.57 0 1 0 -1.15 0M160.0 113.3a0.66 0.66 0 1 0 1.32 0a0.66 0.66 0 1 0 -1.32 0M158.4 92.3a0.60 0.60 0 1 0 1.20 0a0.60 0.60 0 1 0 -1.20 0M138.0 121.5a0.75 0.75 0 1 0 1.49 0a0.75 0.75 0 1 0 -1.49 0M131.8 102.1a0.78 0.78 0 1 0 1.56 0a0.78 0.78 0 1 0 -1.56 0M160.6 80.3a1.00 1.00 0 1 0 2.00 0a1.00 1.00 0 1 0 -2.00 0M174.9 84.0a0.84 0.84 0 1 0 1.67 0a0.84 0.84 0 1 0 -1.67 0M146.8 94.8a0.67 0.67 0 1 0 1.34 0a0.67 0.67 0 1 0 -1.34 0M140.9 99.9a0.76 0.76 0 1 0 1.52 0a0.76 0.76 0 1 0 -1.52 0M190.2 110.0a0.89 0.89 0 1 0 1.78 0a0.89 0.89 0 1 0 -1.78 0M142.1 94.3a0.93 0.93 0 1 0 1.86 0a0.93 0.93 0 1 0 -1.86 0M152.4 105.2a0.70 0.70 0 1 0 1.40 0a0.70 0.70 0 1 0 -1.40 0M166.2 88.3a0.90 0.90 0 1 0 1.80 0a0.90 0.90 0 1 0 -1.80 0M132.0 82.5a0.85 0.85 0 1 0 1.69 0a0.85 0.85 0 1 0 -1.69 0M160.6 85.6a0.64 0.64 0 1 0 1.29 0a0.64 0.64 0 1 0 -1.29 0M167.7 110.9a0.97 0.97 0 1 0 1.94 0a0.97 0.97 0 1 0 -1.94 0M155.1 96.5a0.57 0.57 0 1 0 1.14 0a0.57 0.57 0 1 0 -1.14 0M176.1 124.0a0.86 0.86 0 1 0 1.72 0a0.86 0.86 0 1 0 -1.72 0M135.1 81.2a0.96 0.96 0 1 0 1.91 0a0.96 0.96 0 1 0 -1.91 0M184.0 76.5a0.68 0.68 0 1 0 1.36 0a0.68 0.68 0 1 0 -1.36 0M131.6 95.5a0.55 0.55 0 1 0 1.10 0a0.55 0.55 0 1 0 -1.10 0M171.2 94.1a0.69 0.69 0 1 0 1.38 0a0.69 0.69 0 1 0 -1.38 0M164.6 107.9a0.62 0.62 0 1 0 1.24 0a0.62 0.62 0 1 0 -1.24 0M174.0 119.3a0.76 0.76 0 1 0 1.53 0a0.76 0.76 0 1 0 -1.53 0M149.2 85.4a0.62 0.62 0 1 0 1.24 0a0.62 0.62 0 1 0 -1.24 0M144.4 83.0a0.87 0.87 0 1 0 1.73 0a0.87 0.87 0 1 0 -1.73 0M190.4 110.5a0.91 0.91 0 1 0 1.81 0a0.91 0.91 0 1 0 -1.81 0M187.0 76.6a0.89 0.89 0 1 0 1.78 0a0.89 0.89 0 1 0 -1.78 0M136.4 123.6a0.72 0.72 0 1 0 1.43 0a0.72 0.72 0 1 0 -1.43 0M153.0 100.9a0.68 0.68 0 1 0 1.36 0a0.68 0.68 0 1 0 -1.36 0M180.5 117.2a0.75 0.75 0 1 0 1.50 0a0.75 0.75 0 1 0 -1.50 0M179.3 102.9a0.94 0.94 0 1 0 1.89 0a0.94 0.94 0 1 0 -1.89 0M146.3 114.1a0.59 0.59 0 1 0 1.18 0a0.59 0.59 0 1 0 -1.18 0M158.4 95.2a0.75 0.75 0 1 0 1.50 0a0.75 0.75 0 1 0 -1.50 0M138.0 80.2a0.83 0.83 0 1 0 1.67 0a0.83 0.83 0 1 0 -1.67 0M185.2 118.4a0.61 0.61 0 1 0 1.21 0a0.61 0.61 0 1 0 -1.21 0M135.3 83.3a0.78 0.78 0 1 0 1.55 0a0.78 0.78 0 1 0 -1.55 0M165.8 82.7a0.83 0.83 0 1 0 1.67 0a0.83 0.83 0 1 0 -1.67 0M151.0 114.6a0.79 0.79 0 1 0 1.58 0a0.79 0.79 0 1 0 -1.58 0M163.3 97.1a0.70 0.70 0 1 0 1.40 0a0.70 0.70 0 1 0 -1.40 0M152.1 88.2a0.82 0.82 0 1 0 1.64 0a0.82 0.82 0 1 0 -1.64 0M141.4 77.4a0.92 0.92 0 1 0 1.84 0a0.92 0.92 0 1 0 -1.84 0M163.8 116.4a0.82 0.82 0 1 0 1.64 0a0.82 0.82 0 1 0 -1.64 0M178.8 108.3a0.83 0.83 0 1 0 1.65 0a0.83 0.83 0 1 0 -1.65 0M173.6 95.9a0.66 0.66 0 1 0 1.32 0a0.66 0.66 0 1 0 -1.32 0M146.8 88.1a0.88 0.88 0 1 0 1.77 0a0.88 0.88 0 1 0 -1.77 0M192.0 79.2a0.87 0.87 0 1 0 1.73 0a0.87 0.87 0 1 0 -1.73 0M145.3 75.1a0.84 0.84 0 1 0 1.69 0a0.84 0.84 0 1 0 -1.69 0M135.1 90.6a0.65 0.65 0 1 0 1.30 0a0.65 0.65 0 1 0 -1.30 0M147.3 86.4a0.96 0.96 0 1 0 1.92 0a0.96 0.96 0 1 0 -1.92 0M170.9 98.0a0.65 0.65 0 1 0 1.31 0a0.65 0.65 0 1 0 -1.31 0M170.6 80.2a0.85 0.85 0 1 0 1.71 0a0.85 0.85 0 1 0 -1.71 0M167.4 75.0a0.86 0.86 0 1 0 1.71 0a0.86 0.86 0 1 0 -1.71 0M158.7 83.4a0.59 0.59 0 1 0 1.17 0a0.59 0.59 0 1 0 -1.17 0M166.3 115.8a0.70 0.70 0 1 0 1.40 0a0.70 0.70 0 1 0 -1.40 0M169.9 89.9a0.99 0.99 0 1 0 1.98 0a0.99 0.99 0 1 0 -1.98 0M179.6 112.8a0.69 0.69 0 1 0 1.37 0a0.69 0.69 0 1 0 -1.37 0M156.0 110.0a0.96 0.96 0 1 0 1.91 0a0.96 0.96 0 1 0 -1.91 0M130.0 106.9a0.91 0.91 0 1 0 1.81 0a0.91 0.91 0 1 0 -1.81 0M135.5 120.5a0.79 0.79 0 1 0 1.59 0a0.79 0.79 0 1 0 -1.59 0M156.5 113.4a0.73 0.73 0 1 0 1.46 0a0.73 0.73 0 1 0 -1.46 0M180.4 117.8a0.99 0.99 0 1 0 1.97 0a0.99 0.99 0 1 0 -1.97 0M152.0 79.7a0.90 0.90 0 1 0 1.79 0a0.90 0.90 0 1 0 -1.79 0M130.5 113.4a0.93 0.93 0 1 0 1.85 0a0.93 0.93 0 1 0 -1.85 0M188.6 76.4a0.95 0.95 0 1 0 1.90 0a0.95 0.95 0 1 0 -1.90 0M193.2 81.1a0.77 0.77 0 1 0 1.54 0a0.77 0.77 0 1 0 -1.54 0M153.4 118.5a0.59 0.59 0 1 0 1.17 0a0.59 0.59 0 1 0 -1.17 0M159.5 76.3a0.97 0.97 0 1 0 1.94 0a0.97 0.97 0 1 0 -1.94 0M158.3 111.1a0.56 0.56 0 1 0 1.13 0a0.56 0.56 0 1 0 -1.13 0M142.4 106.6a0.67 0.67 0 1 0 1.34 0a0.67 0.67 0 1 0 -1.34 0M188.0 122.6a0.62 0.62 0 1 0 1.25 0a0.62 0.62 0 1 0 -1.25 0M192.0 121.3a0.76 0.76 0 1 0 1.52 0a0.76 0.76 0 1 0 -1.52 0M150.3 104.1a0.83 0.83 0 1 0 1.66 0a0.83 0.83 0 1 0 -1.66 0M130.1 106.7a0.77 0.77 0 1 0 1.54 0a0.77 0.77 0 1 0 -1.54 0M181.9 116.0a0.87 0.87 0 1 0 1.74 0a0.87 0.87 0 1 0 -1.74 0M172.5 120.9a0.78 0.78 0 1 0 1.56 0a0.78 0.78 0 1 0 -1.56 0M169.7 120.7a0.97 0.97 0 1 0 1.94 0a0.97 0.97 0 1 0 -1.94 0M161.2 81.9a0.84 0.84 0 1 0 1.68 0a0.84 0.84 0 1 0 -1.68 0M161.0 83.7a0.65 0.65 0 1 0 1.30 0a0.65 0.65 0 1 0 -1.30 0M133.5 115.4a0.77 0.77 0 1 0 1.53 0a0.77 0.77 0 1 0 -1.53 0M132.9 88.5a0.98 0.98 0 1 0 1.95 0a0.98 0.98 0 1 0 -1.95 0M132.9 110.2a0.58 0.58 0 1 0 1.16 0a0.58 0.58 0 1 0 -1.16 0M183.4 106.2a0.91 0.91 0 1 0 1.83 0a0.91 0.91 0 1 0 -1.83 0M141.5 91.5a0.82 0.82 0 1 0 1.63 0a0.82 0.82 0 1 0 -1.63 0M137.4 105.8a0.68 0.68 0 1 0 1.36 0a0.68 0.68 0 1 0 -1.36 0M135.8 81.4a0.71 0.71 0 1 0 1.42 0a0.71 0.71 0 1 0 -1.42 0M190.7 106.5a0.62 0.62 0 1 0 1.24 0a0.62 0.62 0 1 0 -1.24 0M155.3 125.0a0.93 0.93 0 1 0 1.86 0a0.93 0.93 0 1 0 -1.86 0M177.1 96.6a0.64 0.64 0 1 0 1.28 0a0.64 0.64 0 1 0 -1.28 0M181.7 103.5a0.61 0.61 0 1 0 1.23 0a0.61 0.61 0 1 0 -1.23 0M171.7 100.8a0.63 0.63 0 1 0 1.26 0a0.63 0.63 0 1 0 -1.26 0M187.8 103.3a0.66 0.66 0 1 0 1.33 0a0.66 0.66 0 1 0 -1.33 0M175.6 110.4a0.81 0.81 0 1 0 1.62 0a0.81 0.81 0 1 0 -1.62 0M143.9 123.9a0.83 0.83 0 1 0 1.66 0a0.83 0.83 0 1 0 -1.66 0M177.4 124.8a0.61 0.61 0 1 0 1.22 0a0.61 0.61 0 1 0 -1.22 0M174.9 82.9a0.86 0.86 0 1 0 1.72 0a0.86 0.86 0 1 0 -1.72 0M155.4 88.3a0.89 0.89 0 1 0 1.78 0a0.89 0.89 0 1 0 -1.78 0M163.8 82.1a0.59 0.59 0 1 0 1.18 0a0.59 0.59 0 1 0 -1.18 0M179.3 96.1a0.67 0.67 0 1 0 1.35 0a0.67 0.67 0 1 0 -1.35 0M143.0 98.9a0.65 0.65 0 1 0 1.29 0a0.65 0.65 0 1 0 -1.29 0M189.3 97.5a0.80 0.80 0 1 0 1.60 0a0.80 0.80 0 1 0 -1.60 0M129.7 104.8a0.57 0.57 0 1 0 1.13 0a0.57 0.57 0 1 0 -1.13 0M156.9 84.5a0.73 0.73 0 1 0 1.45 0a0.73 0.73 0 1 0 -1.45 0M171.7 121.7a0.76 0.76 0 1 0 1.52 0a0.76 0.76 0 1 0 -1.52 0M129.8 114.6a0.68 0.68 0 1 0 1.36 0a0.68 0.68 0 1 0 -1.36 0M187.4 91.6a0.99 0.99 0 1 0 1.98 0a0.99 0.99 0 1 0 -1.98 0M144.5 94.0a0.71 0.71 0 1 0 1.42 0a0.71 0.71 0 1 0 -1.42 0M168.0 123.3a0.60 0.60 0 1 0 1.21 0a0.60 0.60 0 1 0 -1.21 0M142.8 94.9a0.67 0.67 0 1 0 1.34 0a0.67 0.67 0 1 0 -1.34 0M154.3 121.3a0.71 0.71 0 1 0 1.42 0a0.71 0.71 0 1 0 -1.42 0M154.8 79.2a0.57 0.57 0 1 0 1.13 0a0.57 0.57 0 1 0 -1.13 0M161.4 94.5a0.85 0.85 0 1 0 1.70 0a0.85 0.85 0 1 0 -1.70 0M180.2 87.4a0.71 0.71 0 1 0 1.43 0a0.71 0.71 0 1 0 -1.43 0M193.8 76.2a0.83 0.83 0 1 0 1.66 0a0.83 0.83 0 1 0 -1.66 0M155.6 102.5a0.61 0.61 0 1 0 1.21 0a0.61 0.61 0 1 0 -1.21 0M189.1 117.2a0.80 0.80 0 1 0 1.61 0a0.80 0.80 0 1 0 -1.61 0M164.2 99.1a0.97 0.97 0 1 0 1.94 0a0.97 0.97 0 1 0 -1.94 0M139.3 78.4a0.94 0.94 0 1 0 1.89 0a0.94 0.94 0 1 0 -1.89 0M184.3 116.0a0.81 0.81 0 1 0 1.61 0a0.81 0.81 0 1 0 -1.61 0M191.5 97.7a0.81 0.81 0 1 0 1.63 0a0.81 0.81 0 1 0 -1.63 0M186.1 77.6a0.98 0.98 0 1 0 1.96 0a0.98 0.98 0 1 0 -1.96 0M142.9 109.9a0.63 0.63 0 1 0 1.26 0a0.63 0.63 0 1 0 -1.26 0M142.4 108.4a0.69 0.69 0 1 0 1.38 0a0.69 0.69 0 1 0 -1.38 0M172.5 114.8a0.99 0.99 0 1 0 1.98 0a0.99 0.99 0 1 0 -1.98 0M145.4 83.4a0.57 0.57 0 1 0 1.13 0a0.57 0.57 0 1 0 -1.13 0M171.9 120.8a0.85 0.85 0 1 0 1.71 0a0.85 0.85 0 1 0 -1.71 0M143.4 110.1a0.89 0.89 0 1 0 1.78 0a0.89 0.89 0 1 0 -1.78 0M154.4 76.2a0.69 0.69 0 1 0 1.37 0a0.69 0.69 0 1 0 -1.37 0M181.1 113.5a0.77 0.77 0 1 0 1.54 0a0.77 0.77 0 1 0 -1.54 0M161.3 106.6a0.78 0.78 0 1 0 1.57 0a0.78 0.78 0 1 0 -1.57 0M163.1 91.7a0.91 0.91 0 1 0 1.83 0a0.91 0.91 0 1 0 -1.83 0M132.6 92.0a0.78 0.78 0 1 0 1.56 0a0.78 0.78 0 1 0 -1.56 0M165.0 116.9a0.88 0.88 0 1 0 1.75 0a0.88 0.88 0 1 0 -1.75 0M140.6 78.8a0.56 0.56 0 1 0 1.13 0a0.56 0.56 0 1 0 -1.13 0M186.1 94.8a0.76 0.76 0 1 0 1.52 0a0.76 0.76 0 1 0 -1.52 0M176.1 110.0a0.80 0.80 0 1 0 1.61 0a0.80 0.80 0 1 0 -1.61 0M162.2 83.8a0.57 0.57 0 1 0 1.14 0a0.57 0.57 0 1 0 -1.14 0M142.0 125.4a0.68 0.68 0 1 0 1.37 0a0.68 0.68 0 1 0 -1.37 0M173.8 86.7a0.82 0.82 0 1 0 1.64 0a0.82 0.82 0 1 0 -1.64 0M140.1 110.9a0.59 0.59 0 1 0 1.18 0a0.59 0.59 0 1 0 -1.18 0M152.9 98.7a0.82 0.82 0 1 0 1.63 0a0.82 0.82 0 1 0 -1.63 0M152.7 95.1a0.92 0.92 0 1 0 1.83 0a0.92 0.92 0 1 0 -1.83 0M139.5 103.6a0.70 0.70 0 1 0 1.41 0a0.70 0.70 0 1 0 -1.41 0M155.4 111.8a0.75 0.75 0 1 0 1.50 0a0.75 0.75 0 1 0 -1.50 0M171.3 88.3a0.93 0.93 0 1 0 1.85 0a0.93 0.93 0 1 0 -1.85 0M180.0 95.5a0.72 0.72 0 1 0 1.43 0a0.72 0.72 0 1 0 -1.43 0M152.6 104.0a0.59 0.59 0 1 0 1.17 0a0.59 0.59 0 1 0 -1.17 0M147.8 121.1a0.73 0.73 0 1 0 1.47 0a0.73 0.73 0 1 0 -1.47 0M181.8 90.7a0.70 0.70 0 1 0 1.39 0a0.70 0.70 0 1 0 -1.39 0M166.9 76.3a0.78 0.78 0 1 0 1.55 0a0.78 0.78 0 1 0 -1.55 0M134.5 99.5a0.92 0.92 0 1 0 1.84 0a0.92 0.92 0 1 0 -1.84 0M159.1 82.9a0.78 0.78 0 1 0 1.57 0a0.78 0.78 0 1 0 -1.57 0M190.5 103.7a0.98 0.98 0 1 0 1.97 0a0.98 0.98 0 1 0 -1.97 0M177.8 96.2a0.67 0.67 0 1 0 1.35 0a0.67 0.67 0 1 0 -1.35 0M183.1 88.1a0.66 0.66 0 1 0 1.33 0a0.66 0.66 0 1 0 -1.33 0M191.4 87.3a0.59 0.59 0 1 0 1.19 0a0.59 0.59 0 1 0 -1.19 0M135.3 81.3a0.93 0.93 0 1 0 1.87 0a0.93 0.93 0 1 0 -1.87 0M177.8 108.4a0.76 0.76 0 1 0 1.52 0a0.76 0.76 0 1 0 -1.52 0M182.5 109.8a1.00 1.00 0 1 0 1.99 0a1.00 1.00 0 1 0 -1.99 0M152.9 80.0a0.65 0.65 0 1 0 1.31 0a0.65 0.65 0 1 0 -1.31 0M155.4 97.6a0.94 0.94 0 1 0 1.89 0a0.94 0.94 0 1 0 -1.89 0M183.6 99.3a0.93 0.93 0 1 0 1.86 0a0.93 0.93 0 1 0 -1.86 0M155.3 82.1a0.80 0.80 0 1 0 1.61 0a0.80 0.80 0 1 0 -1.61 0M188.8 92.0a0.83 0.83 0 1 0 1.66 0a0.83 0.83 0 1 0 -1.66 0M129.9 97.9a0.95 0.95 0 1 0 1.90 0a0.95 0.95 0 1 0 -1.90 0M135.4 82.7a0.61 0.61 0 1 0 1.22 0a0.61 0.61 0 1 0 -1.22 0M168.3 113.7a0.56 0.56 0 1 0 1.11 0a0.56 0.56 0 1 0 -1.11 0M149.4 113.1a0.84 0.84 0 1 0 1.67 0a0.84 0.84 0 1 0 -1.67 0M146.7 105.1a0.83 0.83 0 1 0 1.65 0a0.83 0.83 0 1 0 -1.65 0M177.5 123.3a0.72 0.72 0 1 0 1.44 0a0.72 0.72 0 1 0 -1.44 0M167.4 109.6a0.98 0.98 0 1 0 1.96 0a0.98 0.98 0 1 0 -1.96 0M158.1 111.0a0.99 0.99 0 1 0 1.97 0a0.99 0.99 0 1 0 -1.97 0M175.5 83.0a0.99 0.99 0 1 0 1.98 0a0.99 0.99 0 1 0 -1.98 0M160.9 96.1a0.73 0.73 0 1 0 1.46 0a0.73 0.73 0 1 0 -1.46 0M193.3 115.4a0.77 0.77 0 1 0 1.54 0a0.77 0.77 0 1 0 -1.54 0M166.5 122.9a0.73 0.73 0 1 0 1.46 0a0.73 0.73 0 1 0 -1.46 0M187.5 87.1a0.78 0.78 0 1 0 1.55 0a0.78 0.78 0 1 0 -1.55 0M146.8 89.0a0.77 0.77 0 1 0 1.55 0a0.77 0.77 0 1 0 -1.55 0M169.6 90.0a0.65 0.65 0 1 0 1.29 0a0.65 0.65 0 1 0 -1.29 0M189.1 88.0a0.65 0.65 0 1 0 1.31 0a0.65 0.65 0 1 0 -1.31 0M142.0 117.8a0.76 0.76 0 1 0 1.53 0a0.76 0.76 0 1 0 -1.53 0M152.7 82.4a0.63 0.63 0 1 0 1.27 0a0.63 0.63 0 1 0 -1.27 0M168.6 116.4a0.81 0.81 0 1 0 1.62 0a0.81 0.81 0 1 0 -1.62 0M160.2 86.1a0.77 0.77 0 1 0 1.54 0a0.77 0.77 0 1 0 -1.54 0M143.3 94.0a0.76 0.76 0 1 0 1.52 0a0.76 0.76 0 1 0 -1.52 0M135.5 110.5a0.69 0.69 0 1 0 1.37 0a0.69 0.69 0 1 0 -1.37 0M181.7 75.6a0.59 0.59 0 1 0 1.17 0a0.59 0.59 0 1 0 -1.17 0M174.8 94.7a0.57 0.57 0 1 0 1.13 0a0.57 0.57 0 1 0 -1.13 0M134.4 98.7a0.60 0.60 0 1 0 1.19 0a0.60 0.60 0 1 0 -1.19 0M132.8 90.8a0.81 0.81 0 1 0 1.62 0a0.81 0.81 0 1 0 -1.62 0M148.0 75.7a0.97 0.97 0 1 0 1.93 0a0.97 0.97 0 1 0 -1.93 0M176.9 80.1a0.63 0.63 0 1 0 1.27 0a0.63 0.63 0 1 0 -1.27 0M185.8 105.6a0.88 0.88 0 1 0 1.76 0a0.88 0.88 0 1 0 -1.76 0M143.1 96.8a0.72 0.72 0 1 0 1.43 0a0.72 0.72 0 1 0 -1.43 0M170.1 87.0a0.66 0.66 0 1 0 1.33 0a0.66 0.66 0 1 0 -1.33 0M130.5 102.0a0.73 0.73 0 1 0 1.46 0a0.73 0.73 0 1 0 -1.46 0M132.6 99.3a0.74 0.74 0 1 0 1.49 0a0.74 0.74 0 1 0 -1.49 0M143.5 98.8a0.79 0.79 0 1 0 1.57 0a0.79 0.79 0 1 0 -1.57 0M130.8 111.5a0.88 0.88 0 1 0 1.76 0a0.88 0.88 0 1 0 -1.76 0M138.0 123.9a0.85 0.85 0 1 0 1.71 0a0.85 0.85 0 1 0 -1.71 0M181.8 118.8a0.72 0.72 0 1 0 1.44 0a0.72 0.72 0 1 0 -1.44 0M133.2 124.2a0.61 0.61 0 1 0 1.22 0a0.61 0.61 0 1 0 -1.22 0M172.5 88.6a0.66 0.66 0 1 0 1.32 0a0.66 0.66 0 1 0 -1.32 0M143.3 77.0a0.99 0.99 0 1 0 1.98 0a0.99 0.99 0 1 0 -1.98 0M182.2 119.9a0.68 0.68 0 1 0 1.36 0a0.68 0.68 0 1 0 -1.36 0M185.9 88.8a0.91 0.91 0 1 0 1.82 0a0.91 0.91 0 1 0 -1.82 0M149.9 82.8a0.55 0.55 0 1 0 1.11 0a0.55 0.55 0 1 0 -1.11 0M170.7 84.0a0.64 0.64 0 1 0 1.29 0a0.64 0.64 0 1 0 -1.29 0M178.4 121.1a0.97 0.97 0 1 0 1.94 0a0.97 0.97 0 1 0 -1.94 0M151.4 119.3a0.85 0.85 0 1 0 1.70 0a0.85 0.85 0 1 0 -1.70 0M136.9 86.6a0.88 0.88 0 1 0 1.76 0a0.88 0.88 0 1 0 -1.76 0M160.7 102.2a0.90 0.90 0 1 0 1.81 0a0.90 0.90 0 1 0 -1.81 0M176.4 85.2a0.82 0.82 0 1 0 1.65 0a0.82 0.82 0 1 0 -1.65 0M166.8 88.5a0.98 0.98 0 1 0 1.96 0a0.98 0.98 0 1 0 -1.96 0M133.0 114.4a0.92 0.92 0 1 0 1.85 0a0.92 0.92 0 1 0 -1.85 0M187.4 86.2a0.84 0.84 0 1 0 1.69 0a0.84 0.84 0 1 0 -1.69 0M150.8 85.2a0.71 0.71 0 1 0 1.43 0a0.71 0.71 0 1 0 -1.43 0M182.0 87.6a0.81 0.81 0 1 0 1.63 0a0.81 0.81 0 1 0 -1.63 0M175.1 117.8a0.71 0.71 0 1 0 1.42 0a0.71 0.71 0 1 0 -1.42 0M136.0 108.0a0.58 0.58 0 1 0 1.16 0a0.58 0.58 0 1 0 -1.16 0M139.4 90.9a0.58 0.58 0 1 0 1.16 0a0.58 0.58 0 1 0 -1.16 0M187.9 115.2a0.57 0.57 0 1 0 1.14 0a0.57 0.57 0 1 0 -1.14 0M136.4 91.6a0.60 0.60 0 1 0 1.21 0a0.60 0.60 0 1 0 -1.21 0M179.1 87.8a0.66 0.66 0 1 0 1.33 0a0.66 0.66 0 1 0 -1.33 0M154.5 77.6a0.62 0.62 0 1 0 1.25 0a0.62 0.62 0 1 0 -1.25 0M191.8 83.6a0.97 0.97 0 1 0 1.94 0a0.97 0.97 0 1 0 -1.94 0M138.8 96.8a0.72 0.72 0 1 0 1.44 0a0.72 0.72 0 1 0 -1.44 0M132.8 113.9a0.85 0.85 0 1 0 1.69 0a0.85 0.85 0 1 0 -1.69 0M183.7 101.4a0.81 0.81 0 1 0 1.62 0a0.81 0.81 0 1 0 -1.62 0M177.3 80.0a0.56 0.56 0 1 0 1.12 0a0.56 0.56 0 1 0 -1.12 0M157.2 104.7a0.56 0.56 0 1 0 1.13 0a0.56 0.56 0 1 0 -1.13 0M178.5 82.2a0.92 0.92 0 1 0 1.85 0a0.92 0.92 0 1 0 -1.85 0M132.2 122.6a0.62 0.62 0 1 0 1.24 0a0.62 0.62 0 1 0 -1.24 0M150.9 104.3a0.60 0.60 0 1 0 1.20 0a0.60 0.60 0 1 0 -1.20 0M190.3 116.9a0.76 0.76 0 1 0 1.51 0a0.76 0.76 0 1 0 -1.51 0M134.6 105.5a0.76 0.76 0 1 0 1.51 0a0.76 0.76 0 1 0 -1.51 0M137.4 102.9a0.76 0.76 0 1 0 1.51 0a0.76 0.76 0 1 0 -1.51 0M160.1 110.0a0.65 0.65 0 1 0 1.30 0a0.65 0.65 0 1 0 -1.30 0M144.8 84.9a0.71 0.71 0 1 0 1.41 0a0.71 0.71 0 1 0 -1.41 0M184.9 76.3a0.83 0.83 0 1 0 1.66 0a0.83 0.83 0 1 0 -1.66 0M157.3 123.5a0.67 0.67 0 1 0 1.35 0a0.67 0.67 0 1 0 -1.35 0M141.7 109.7a0.91 0.91 0 1 0 1.82 0a0.91 0.91 0 1 0 -1.82 0M176.0 104.1a0.91 0.91 0 1 0 1.82 0a0.91 0.91 0 1 0 -1.82 0M146.7 101.5a0.68 0.68 0 1 0 1.36 0a0.68 0.68 0 1 0 -1.36 0M157.0 77.0a0.86 0.86 0 1 0 1.73 0a0.86 0.86 0 1 0 -1.73 0M157.5 94.7a1.00 1.00 0 1 0 1.99 0a1.00 1.00 0 1 0 -1.99 0M185.8 100.5a0.86 0.86 0 1 0 1.71 0a0.86 0.86 0 1 0 -1.71 0M134.3 79.9a0.71 0.71 0 1 0 1.42 0a0.71 0.71 0 1 0 -1.42 0M189.4 93.2a0.78 0.78 0 1 0 1.57 0a0.78 0.78 0 1 0 -1.57 0M179.3 115.1a0.59 0.59 0 1 0 1.18 0a0.59 0.59 0 1 0 -1.18 0M149.4 75.7a0.85 0.85 0 1 0 1.70 0a0.85 0.85 0 1 0 -1.70 0M150.6 118.7a0.68 0.68 0 1 0 1.36 0a0.68 0.68 0 1 0 -1.36 0M164.3 81.2a0.82 0.82 0 1 0 1.63 0a0.82 0.82 0 1 0 -1.63 0M191.6 120.9a1.00 1.00 0 1 0 1.99 0a1.00 1.00 0 1 0 -1.99 0M176.1 123.2a0.68 0.68 0 1 0 1.36 0a0.68 0.68 0 1 0 -1.36 0M178.2 124.7a0.61 0.61 0 1 0 1.23 0a0.61 0.61 0 1 0 -1.23 0M151.8 107.9a0.82 0.82 0 1 0 1.65 0a0.82 0.82 0 1 0 -1.65 0M171.1 124.7a0.71 0.71 0 1 0 1.43 0a0.71 0.71 0 1 0 -1.43 0M146.4 105.4a0.65 0.65 0 1 0 1.31 0a0.65 0.65 0 1 0 -1.31 0M182.6 104.4a0.57 0.57 0 1 0 1.14 0a0.57 0.57 0 1 0 -1.14 0M159.4 111.7a0.72 0.72 0 1 0 1.45 0a0.72 0.72 0 1 0 -1.45 0M150.9 82.7a0.88 0.88 0 1 0 1.76 0a0.88 0.88 0 1 0 -1.76 0M176.0 97.7a0.59 0.59 0 1 0 1.18 0a0.59 0.59 0 1 0 -1.18 0M144.8 93.0a0.72 0.72 0 1 0 1.43 0a0.72 0.72 0 1 0 -1.43 0M164.7 81.8a0.73 0.73 0 1 0 1.46 0a0.73 0.73 0 1 0 -1.46 0M174.8 123.5a0.81 0.81 0 1 0 1.61 0a0.81 0.81 0 1 0 -1.61 0M156.9 86.0a0.78 0.78 0 1 0 1.57 0a0.78 0.78 0 1 0 -1.57 0M137.1 88.2a0.66 0.66 0 1 0 1.32 0a0.66 0.66 0 1 0 -1.32 0M160.7 91.8a0.98 0.98 0 1 0 1.95 0a0.98 0.98 0 1 0 -1.95 0M166.4 113.7a0.76 0.76 0 1 0 1.51 0a0.76 0.76 0 1 0 -1.51 0M155.6 88.9a0.82 0.82 0 1 0 1.64 0a0.82 0.82 0 1 0 -1.64 0M145.9 119.5a0.55 0.55 0 1 0 1.11 0a0.55 0.55 0 1 0 -1.11 0M164.4 115.4a0.86 0.86 0 1 0 1.72 0a0.86 0.86 0 1 0 -1.72 0M175.3 92.8a0.65 0.65 0 1 0 1.31 0a0.65 0.65 0 1 0 -1.31 0M191.2 119.1a0.61 0.61 0 1 0 1.21 0a0.61 0.61 0 1 0 -1.21 0M147.3 75.2a0.71 0.71 0 1 0 1.41 0a0.71 0.71 0 1 0 -1.41 0M154.2 93.5a0.80 0.80 0 1 0 1.60 0a0.80 0.80 0 1 0 -1.60 0M166.3 109.3a0.57 0.57 0 1 0 1.13 0a0.57 0.57 0 1 0 -1.13 0M160.1 98.1a0.74 0.74 0 1 0 1.47 0a0.74 0.74 0 1 0 -1.47 0M145.9 110.1a0.98 0.98 0 1 0 1.97 0a0.98 0.98 0 1 0 -1.97 0M184.5 101.9a0.72 0.72 0 1 0 1.44 0a0.72 0.72 0 1 0 -1.44 0M139.4 96.5a0.67 0.67 0 1 0 1.33 0a0.67 0.67 0 1 0 -1.33 0M167.6 91.6a0.61 0.61 0 1 0 1.23 0a0.61 0.61 0 1 0 -1.23 0M182.6 102.4a0.58 0.58 0 1 0 1.15 0a0.58 0.58 0 1 0 -1.15 0M138.9 97.1a0.56 0.56 0 1 0 1.12 0a0.56 0.56 0 1 0 -1.12 0M141.8 110.6a0.63 0.63 0 1 0 1.26 0a0.63 0.63 0 1 0 -1.26 0M178.7 77.6a0.69 0.69 0 1 0 1.37 0a0.69 0.69 0 1 0 -1.37 0M156.7 111.9a0.80 0.80 0 1 0 1.60 0a0.80 0.80 0 1 0 -1.60 0M138.8 104.1a0.57 0.57 0 1 0 1.15 0a0.57 0.57 0 1 0 -1.15 0M132.0 114.6a0.63 0.63 0 1 0 1.27 0a0.63 0.63 0 1 0 -1.27 0M172.2 121.2a0.98 0.98 0 1 0 1.96 0a0.98 0.98 0 1 0 -1.96 0M168.5 82.4a0.84 0.84 0 1 0 1.67 0a0.84 0.84 0 1 0 -1.67 0M161.5 93.1a0.91 0.91 0 1 0 1.82 0a0.91 0.91 0 1 0 -1.82 0M167.2 87.9a0.63 0.63 0 1 0 1.27 0a0.63 0.63 0 1 0 -1.27 0M180.7 79.6a0.71 0.71 0 1 0 1.42 0a0.71 0.71 0 1 0 -1.42 0M149.8 104.1a0.79 0.79 0 1 0 1.58 0a0.79 0.79 0 1 0 -1.58 0M191.0 105.1a0.69 0.69 0 1 0 1.38 0a0.69 0.69 0 1 0 -1.38 0M178.9 115.1a0.81 0.81 0 1 0 1.62 0a0.81 0.81 0 1 0 -1.62 0M170.0 91.8a0.82 0.82 0 1 0 1.64 0a0.82 0.82 0 1 0 -1.64 0M169.2 91.6a0.91 0.91 0 1 0 1.81 0a0.91 0.91 0 1 0 -1.81 0M155.0 102.1a0.83 0.83 0 1 0 1.65 0a0.83 0.83 0 1 0 -1.65 0M141.6 120.9a0.90 0.90 0 1 0 1.79 0a0.90 0.90 0 1 0 -1.79 0M191.9 106.6a0.85 0.85 0 1 0 1.70 0a0.85 0.85 0 1 0 -1.70 0M152.8 76.6a0.77 0.77 0 1 0 1.54 0a0.77 0.77 0 1 0 -1.54 0M133.4 109.7a0.61 0.61 0 1 0 1.22 0a0.61 0.61 0 1 0 -1.22 0M170.5 93.0a0.75 0.75 0 1 0 1.49 0a0.75 0.75 0 1 0 -1.49 0M152.7 87.2a0.85 0.85 0 1 0 1.71 0a0.85 0.85 0 1 0 -1.71 0M156.9 124.0a0.89 0.89 0 1 0 1.77 0a0.89 0.89 0 1 0 -1.77 0M138.6 116.2a0.88 0.88 0 1 0 1.76 0a0.88 0.88 0 1 0 -1.76 0M171.0 123.5a0.95 0.95 0 1 0 1.90 0a0.95 0.95 0 1 0 -1.90 0M142.0 107.3a0.92 0.92 0 1 0 1.83 0a0.92 0.92 0 1 0 -1.83 0M132.2 114.2a0.66 0.66 0 1 0 1.32 0a0.66 0.66 0 1 0 -1.32 0M155.3 91.2a0.73 0.73 0 1 0 1.46 0a0.73 0.73 0 1 0 -1.46 0M147.4 93.1a0.65 0.65 0 1 0 1.31 0a0.65 0.65 0 1 0 -1.31 0M136.7 77.3a0.67 0.67 0 1 0 1.34 0a0.67 0.67 0 1 0 -1.34 0M163.9 101.0a0.82 0.82 0 1 0 1.64 0a0.82 0.82 0 1 0 -1.64 0M181.9 93.9a0.89 0.89 0 1 0 1.78 0a0.89 0.89 0 1 0 -1.78 0M186.7 97.9a1.00 1.00 0 1 0 2.00 0a1.00 1.00 0 1 0 -2.00 0" fill="#5a2c9c" opacity="0.75"/>
<g filter="url(#hdisp)">
<ellipse cx="144.5" cy="91.9" rx="8.22" ry="8.22" fill="#fdf7fd" stroke="#d452c2" stroke-width="1.7"/>
<ellipse cx="144.5" cy="91.9" rx="8.22" ry="8.22" fill="none" stroke="#5e2ea0" stroke-width="1.25" stroke-dasharray="0.3 1.6" stroke-linecap="round" stroke-dashoffset="0.0"/>
<ellipse cx="163.4" cy="88.9" rx="10.96" ry="8.22" fill="#fdf7fd" stroke="#d452c2" stroke-width="1.7"/>
<ellipse cx="163.4" cy="88.9" rx="10.96" ry="8.22" fill="none" stroke="#5e2ea0" stroke-width="1.25" stroke-dasharray="0.3 2.2" stroke-linecap="round" stroke-dashoffset="0.7"/>
<ellipse cx="184.6" cy="83.6" rx="10.05" ry="8.22" fill="#fdf7fd" stroke="#d452c2" stroke-width="1.7"/>
<ellipse cx="184.6" cy="83.6" rx="10.05" ry="8.22" fill="none" stroke="#5e2ea0" stroke-width="1.25" stroke-dasharray="0.3 2.8" stroke-linecap="round" stroke-dashoffset="1.4"/>
<ellipse cx="138.6" cy="81.8" rx="5.48" ry="4.57" fill="#fdf7fd" stroke="#d452c2" stroke-width="1.7"/>
<ellipse cx="138.6" cy="81.8" rx="5.48" ry="4.57" fill="none" stroke="#5e2ea0" stroke-width="1.25" stroke-dasharray="0.3 1.6" stroke-linecap="round" stroke-dashoffset="2.1"/>
<ellipse cx="156.3" cy="78.9" rx="4.57" ry="3.29" fill="#fdf7fd" stroke="#d452c2" stroke-width="1.7"/>
<ellipse cx="156.3" cy="78.9" rx="4.57" ry="3.29" fill="none" stroke="#5e2ea0" stroke-width="1.25" stroke-dasharray="0.3 2.2" stroke-linecap="round" stroke-dashoffset="2.8"/>
<ellipse cx="175.1" cy="100.1" rx="7.31" ry="5.48" fill="#fdf7fd" stroke="#d452c2" stroke-width="1.7"/>
<ellipse cx="175.1" cy="100.1" rx="7.31" ry="5.48" fill="none" stroke="#5e2ea0" stroke-width="1.25" stroke-dasharray="0.3 2.8" stroke-linecap="round" stroke-dashoffset="3.5"/>
<ellipse cx="186.9" cy="97.7" rx="5.48" ry="5.48" fill="#fdf7fd" stroke="#d452c2" stroke-width="1.7"/>
<ellipse cx="186.9" cy="97.7" rx="5.48" ry="5.48" fill="none" stroke="#5e2ea0" stroke-width="1.25" stroke-dasharray="0.3 1.6" stroke-linecap="round" stroke-dashoffset="4.2"/>
<ellipse cx="159.8" cy="113.1" rx="7.31" ry="6.39" fill="#fdf7fd" stroke="#d452c2" stroke-width="1.7"/>
<ellipse cx="159.8" cy="113.1" rx="7.31" ry="6.39" fill="none" stroke="#5e2ea0" stroke-width="1.25" stroke-dasharray="0.3 2.2" stroke-linecap="round" stroke-dashoffset="4.9"/>
<ellipse cx="175.1" cy="111.9" rx="6.39" ry="7.31" fill="#fdf7fd" stroke="#d452c2" stroke-width="1.7"/>
<ellipse cx="175.1" cy="111.9" rx="6.39" ry="7.31" fill="none" stroke="#5e2ea0" stroke-width="1.25" stroke-dasharray="0.3 2.8" stroke-linecap="round" stroke-dashoffset="5.6"/>
<ellipse cx="186.9" cy="116.6" rx="8.22" ry="7.31" fill="#fdf7fd" stroke="#d452c2" stroke-width="1.7"/>
<ellipse cx="186.9" cy="116.6" rx="8.22" ry="7.31" fill="none" stroke="#5e2ea0" stroke-width="1.25" stroke-dasharray="0.3 1.6" stroke-linecap="round" stroke-dashoffset="6.3"/>
<ellipse cx="135.1" cy="111.9" rx="5.48" ry="6.39" fill="#fdf7fd" stroke="#d452c2" stroke-width="1.7"/>
<ellipse cx="135.1" cy="111.9" rx="5.48" ry="6.39" fill="none" stroke="#5e2ea0" stroke-width="1.25" stroke-dasharray="0.3 2.2" stroke-linecap="round" stroke-dashoffset="7.0"/>
<ellipse cx="148.0" cy="115.4" rx="4.57" ry="4.57" fill="#fdf7fd" stroke="#d452c2" stroke-width="1.7"/>
<ellipse cx="148.0" cy="115.4" rx="4.57" ry="4.57" fill="none" stroke="#5e2ea0" stroke-width="1.25" stroke-dasharray="0.3 2.8" stroke-linecap="round" stroke-dashoffset="7.7"/>
<ellipse cx="151.6" cy="101.3" rx="5.48" ry="3.65" fill="#fdf7fd" stroke="#d452c2" stroke-width="1.7"/>
<ellipse cx="151.6" cy="101.3" rx="5.48" ry="3.65" fill="none" stroke="#5e2ea0" stroke-width="1.25" stroke-dasharray="0.3 1.6" stroke-linecap="round" stroke-dashoffset="8.4"/>
<ellipse cx="135.1" cy="96.6" rx="4.57" ry="4.57" fill="#fdf7fd" stroke="#d452c2" stroke-width="1.7"/>
<ellipse cx="135.1" cy="96.6" rx="4.57" ry="4.57" fill="none" stroke="#5e2ea0" stroke-width="1.25" stroke-dasharray="0.3 2.2" stroke-linecap="round" stroke-dashoffset="9.1"/>
<ellipse cx="170.4" cy="77.7" rx="3.65" ry="2.74" fill="#fdf7fd" stroke="#d452c2" stroke-width="1.7"/>
<ellipse cx="170.4" cy="77.7" rx="3.65" ry="2.74" fill="none" stroke="#5e2ea0" stroke-width="1.25" stroke-dasharray="0.3 2.8" stroke-linecap="round" stroke-dashoffset="9.8"/>
<ellipse cx="194.0" cy="107.2" rx="3.29" ry="4.57" fill="#fdf7fd" stroke="#d452c2" stroke-width="1.7"/>
<ellipse cx="194.0" cy="107.2" rx="3.29" ry="4.57" fill="none" stroke="#5e2ea0" stroke-width="1.25" stroke-dasharray="0.3 1.6" stroke-linecap="round" stroke-dashoffset="10.5"/>
<ellipse cx="141.0" cy="103.6" rx="3.65" ry="3.29" fill="#fdf7fd" stroke="#d452c2" stroke-width="1.7"/>
<ellipse cx="141.0" cy="103.6" rx="3.65" ry="3.29" fill="none" stroke="#5e2ea0" stroke-width="1.25" stroke-dasharray="0.3 2.2" stroke-linecap="round" stroke-dashoffset="11.2"/>
<ellipse cx="181.0" cy="93.0" rx="3.29" ry="2.74" fill="#fdf7fd" stroke="#d452c2" stroke-width="1.7"/>
<ellipse cx="181.0" cy="93.0" rx="3.29" ry="2.74" fill="none" stroke="#5e2ea0" stroke-width="1.25" stroke-dasharray="0.3 2.8" stroke-linecap="round" stroke-dashoffset="11.9"/>
<ellipse cx="149.2" cy="77.7" rx="2.74" ry="2.19" fill="#fdf7fd" stroke="#d452c2" stroke-width="1.7"/>
<ellipse cx="149.2" cy="77.7" rx="2.74" ry="2.19" fill="none" stroke="#5e2ea0" stroke-width="1.25" stroke-dasharray="0.3 1.6" stroke-linecap="round" stroke-dashoffset="12.6"/>
<ellipse cx="165.7" cy="100.1" rx="3.29" ry="2.56" fill="#fdf7fd" stroke="#d452c2" stroke-width="1.7"/>
<ellipse cx="165.7" cy="100.1" rx="3.29" ry="2.56" fill="none" stroke="#5e2ea0" stroke-width="1.25" stroke-dasharray="0.3 2.2" stroke-linecap="round" stroke-dashoffset="13.3"/>
<ellipse cx="179.9" cy="122.5" rx="3.65" ry="2.74" fill="#fdf7fd" stroke="#d452c2" stroke-width="1.7"/>
<ellipse cx="179.9" cy="122.5" rx="3.65" ry="2.74" fill="none" stroke="#5e2ea0" stroke-width="1.25" stroke-dasharray="0.3 2.8" stroke-linecap="round" stroke-dashoffset="14.0"/>
<ellipse cx="194.0" cy="122.5" rx="2.74" ry="3.65" fill="#fdf7fd" stroke="#d452c2" stroke-width="1.7"/>
<ellipse cx="194.0" cy="122.5" rx="2.74" ry="3.65" fill="none" stroke="#5e2ea0" stroke-width="1.25" stroke-dasharray="0.3 1.6" stroke-linecap="round" stroke-dashoffset="14.7"/>
<ellipse cx="142.1" cy="123.7" rx="3.65" ry="2.19" fill="#fdf7fd" stroke="#d452c2" stroke-width="1.7"/>
<ellipse cx="142.1" cy="123.7" rx="3.65" ry="2.19" fill="none" stroke="#5e2ea0" stroke-width="1.25" stroke-dasharray="0.3 2.2" stroke-linecap="round" stroke-dashoffset="15.4"/>
<ellipse cx="131.5" cy="88.3" rx="3.65" ry="3.65" fill="#fdf7fd" stroke="#d452c2" stroke-width="1.7"/>
<ellipse cx="131.5" cy="88.3" rx="3.65" ry="3.65" fill="none" stroke="#5e2ea0" stroke-width="1.25" stroke-dasharray="0.3 2.8" stroke-linecap="round" stroke-dashoffset="16.1"/>
<ellipse cx="151.6" cy="87.1" rx="3.65" ry="3.29" fill="#fdf7fd" stroke="#d452c2" stroke-width="1.7"/>
<ellipse cx="151.6" cy="87.1" rx="3.65" ry="3.29" fill="none" stroke="#5e2ea0" stroke-width="1.25" stroke-dasharray="0.3 1.6" stroke-linecap="round" stroke-dashoffset="16.8"/>
<ellipse cx="172.8" cy="84.8" rx="4.02" ry="3.29" fill="#fdf7fd" stroke="#d452c2" stroke-width="1.7"/>
<ellipse cx="172.8" cy="84.8" rx="4.02" ry="3.29" fill="none" stroke="#5e2ea0" stroke-width="1.25" stroke-dasharray="0.3 2.2" stroke-linecap="round" stroke-dashoffset="17.5"/>
<ellipse cx="194.0" cy="89.5" rx="3.29" ry="4.02" fill="#fdf7fd" stroke="#d452c2" stroke-width="1.7"/>
<ellipse cx="194.0" cy="89.5" rx="3.29" ry="4.02" fill="none" stroke="#5e2ea0" stroke-width="1.25" stroke-dasharray="0.3 2.8" stroke-linecap="round" stroke-dashoffset="18.2"/>
<ellipse cx="145.7" cy="108.4" rx="3.29" ry="2.74" fill="#fdf7fd" stroke="#d452c2" stroke-width="1.7"/>
<ellipse cx="145.7" cy="108.4" rx="3.29" ry="2.74" fill="none" stroke="#5e2ea0" stroke-width="1.25" stroke-dasharray="0.3 1.6" stroke-linecap="round" stroke-dashoffset="18.9"/>
<ellipse cx="166.9" cy="122.5" rx="3.29" ry="2.56" fill="#fdf7fd" stroke="#d452c2" stroke-width="1.7"/>
<ellipse cx="166.9" cy="122.5" rx="3.29" ry="2.56" fill="none" stroke="#5e2ea0" stroke-width="1.25" stroke-dasharray="0.3 2.2" stroke-linecap="round" stroke-dashoffset="19.6"/>
<ellipse cx="156.3" cy="122.5" rx="2.92" ry="2.19" fill="#fdf7fd" stroke="#d452c2" stroke-width="1.7"/>
<ellipse cx="156.3" cy="122.5" rx="2.92" ry="2.19" fill="none" stroke="#5e2ea0" stroke-width="1.25" stroke-dasharray="0.3 2.8" stroke-linecap="round" stroke-dashoffset="20.3"/>
<ellipse cx="183.4" cy="106.0" rx="3.65" ry="2.92" fill="#fdf7fd" stroke="#d452c2" stroke-width="1.7"/>
<ellipse cx="183.4" cy="106.0" rx="3.65" ry="2.92" fill="none" stroke="#5e2ea0" stroke-width="1.25" stroke-dasharray="0.3 1.6" stroke-linecap="round" stroke-dashoffset="21.0"/>
<ellipse cx="194.0" cy="78.9" rx="2.74" ry="2.74" fill="#fdf7fd" stroke="#d452c2" stroke-width="1.7"/>
<ellipse cx="194.0" cy="78.9" rx="2.74" ry="2.74" fill="none" stroke="#5e2ea0" stroke-width="1.25" stroke-dasharray="0.3 2.2" stroke-linecap="round" stroke-dashoffset="21.7"/>
<ellipse cx="130.4" cy="122.5" rx="2.19" ry="2.74" fill="#fdf7fd" stroke="#d452c2" stroke-width="1.7"/>
<ellipse cx="130.4" cy="122.5" rx="2.19" ry="2.74" fill="none" stroke="#5e2ea0" stroke-width="1.25" stroke-dasharray="0.3 2.8" stroke-linecap="round" stroke-dashoffset="22.4"/>
</g>
<path d="M165.9 105.4 L169.0 105.1 L169.5 126.0 L165.5 126.0 Z" fill="#e35ab0" filter="url(#hblur)"/>
<line x1="131.6" y1="121.2" x2="139.8" y2="121.2" stroke="#111" stroke-width="0.7"/>
<text x="131.8" y="120.2" font-size="2.6" font-weight="bold" fill="#111">50 μm</text>
</g>
<rect x="130.2" y="74.9" width="64.5" height="50.5" fill="none" stroke="#2a2a2a" stroke-width="0.9"/>
<text transform="translate(162.4 16.6) scale(1 1.12)" font-size="5.2" font-weight="bold" text-anchor="middle" fill="#222">H&amp;E</text>
<text x="125.8" y="45.9" font-size="5.6" font-weight="bold" text-anchor="middle" fill="#222" transform="rotate(-90 125.8 45.9)">Sham</text>
<text x="125.8" y="101" font-size="5.6" font-weight="bold" text-anchor="middle" fill="#222" transform="rotate(-90 125.8 101)">CLP</text>
<circle cx="193.40" cy="189.60" r="2.1" fill="#7ea3dd"/>
<circle cx="193.40" cy="200.70" r="2.1" fill="#f01010"/>
<text transform="translate(203.50 192.00) scale(1 1.28)" font-size="6.3" font-weight="normal" text-anchor="start" fill="#222">Sham</text>
<text transform="translate(203.50 203.10) scale(1 1.28)" font-size="6.3" font-weight="normal" text-anchor="start" fill="#222">CLP</text>
<rect x="197.07" y="286.40" width="7.15" height="7.50" fill="#fff" stroke="#3d68bd" stroke-width="1.15"/>
<circle cx="200.65" cy="284.70" r="2.0" fill="#7ea3dd"/>
<circle cx="198.99" cy="285.89" r="2.0" fill="#7ea3dd"/>
<circle cx="202.31" cy="285.72" r="2.0" fill="#7ea3dd"/>
<circle cx="197.91" cy="287.25" r="2.0" fill="#7ea3dd"/>
<circle cx="203.39" cy="287.42" r="2.0" fill="#7ea3dd"/>
<circle cx="199.65" cy="287.93" r="2.0" fill="#7ea3dd"/>
<circle cx="201.81" cy="287.76" r="2.0" fill="#7ea3dd"/>
<circle cx="200.65" cy="286.74" r="2.0" fill="#7ea3dd"/>
<rect x="208.77" y="250.60" width="6.95" height="43.30" fill="#fff" stroke="#f51a1a" stroke-width="1.15"/>
<line x1="212.25" y1="248.00" x2="212.25" y2="253.20" stroke="#f51a1a" stroke-width="1.0"/>
<line x1="209.95" y1="248.00" x2="214.55" y2="248.00" stroke="#f51a1a" stroke-width="1.0"/>
<line x1="209.95" y1="253.20" x2="214.55" y2="253.20" stroke="#f51a1a" stroke-width="1.0"/>
<circle cx="210.15" cy="249.50" r="2.0" fill="#f01010"/>
<circle cx="214.16" cy="250.68" r="2.0" fill="#f01010"/>
<circle cx="212.25" cy="251.85" r="2.0" fill="#f01010"/>
<circle cx="210.73" cy="252.41" r="2.0" fill="#f01010"/>
<circle cx="214.44" cy="253.26" r="2.0" fill="#f01010"/>
<circle cx="212.82" cy="254.20" r="2.0" fill="#f01010"/>
<line x1="206.60" y1="293.90" x2="206.60" y2="297.70" stroke="#222" stroke-width="1.1"/>
<text transform="translate(206.60 304.00) scale(1 1.2)" font-size="5.85" font-weight="bold" text-anchor="middle" fill="#1a1a1a">Blood</text>
<path d="M201.15 242.40 V239.10 H212.85 V242.40" fill="none" stroke="#444" stroke-width="0.85"/>
<text x="202.35" y="239.20" font-size="8.7" font-weight="bold" text-anchor="middle" fill="#2a2a2a" stroke="#2a2a2a" stroke-width="0.35">*</text>
<text x="207.00" y="239.20" font-size="8.7" font-weight="bold" text-anchor="middle" fill="#2a2a2a" stroke="#2a2a2a" stroke-width="0.35">*</text>
<text x="211.65" y="239.20" font-size="8.7" font-weight="bold" text-anchor="middle" fill="#2a2a2a" stroke="#2a2a2a" stroke-width="0.35">*</text>
<rect x="228.97" y="286.40" width="6.85" height="7.50" fill="#fff" stroke="#3d68bd" stroke-width="1.15"/>
<circle cx="232.40" cy="284.70" r="2.0" fill="#7ea3dd"/>
<circle cx="230.80" cy="285.89" r="2.0" fill="#7ea3dd"/>
<circle cx="234.00" cy="285.72" r="2.0" fill="#7ea3dd"/>
<circle cx="229.76" cy="287.25" r="2.0" fill="#7ea3dd"/>
<circle cx="235.04" cy="287.42" r="2.0" fill="#7ea3dd"/>
<circle cx="231.44" cy="287.93" r="2.0" fill="#7ea3dd"/>
<circle cx="233.52" cy="287.76" r="2.0" fill="#7ea3dd"/>
<circle cx="232.40" cy="286.74" r="2.0" fill="#7ea3dd"/>
<rect x="240.67" y="246.50" width="7.15" height="47.40" fill="#fff" stroke="#f51a1a" stroke-width="1.15"/>
<line x1="244.25" y1="243.00" x2="244.25" y2="250.00" stroke="#f51a1a" stroke-width="1.0"/>
<line x1="241.95" y1="243.00" x2="246.55" y2="243.00" stroke="#f51a1a" stroke-width="1.0"/>
<line x1="241.95" y1="250.00" x2="246.55" y2="250.00" stroke="#f51a1a" stroke-width="1.0"/>
<circle cx="242.10" cy="242.00" r="2.0" fill="#f01010"/>
<circle cx="246.20" cy="244.40" r="2.0" fill="#f01010"/>
<circle cx="244.25" cy="246.80" r="2.0" fill="#f01010"/>
<circle cx="242.69" cy="247.95" r="2.0" fill="#f01010"/>
<circle cx="246.50" cy="249.68" r="2.0" fill="#f01010"/>
<circle cx="244.84" cy="251.60" r="2.0" fill="#f01010"/>
<line x1="238.40" y1="293.90" x2="238.40" y2="297.70" stroke="#222" stroke-width="1.1"/>
<text transform="translate(238.40 304.00) scale(1 1.2)" font-size="5.85" font-weight="bold" text-anchor="middle" fill="#1a1a1a">Spleen</text>
<path d="M232.90 235.40 V232.10 H244.85 V235.40" fill="none" stroke="#444" stroke-width="0.85"/>
<text x="234.22" y="232.20" font-size="8.7" font-weight="bold" text-anchor="middle" fill="#2a2a2a" stroke="#2a2a2a" stroke-width="0.35">*</text>
<text x="238.88" y="232.20" font-size="8.7" font-weight="bold" text-anchor="middle" fill="#2a2a2a" stroke="#2a2a2a" stroke-width="0.35">*</text>
<text x="243.53" y="232.20" font-size="8.7" font-weight="bold" text-anchor="middle" fill="#2a2a2a" stroke="#2a2a2a" stroke-width="0.35">*</text>
<rect x="260.68" y="286.00" width="6.65" height="7.90" fill="#fff" stroke="#3d68bd" stroke-width="1.15"/>
<circle cx="264.00" cy="282.00" r="2.0" fill="#7ea3dd"/>
<circle cx="262.44" cy="284.31" r="2.0" fill="#7ea3dd"/>
<circle cx="265.56" cy="283.98" r="2.0" fill="#7ea3dd"/>
<circle cx="261.43" cy="286.95" r="2.0" fill="#7ea3dd"/>
<circle cx="266.57" cy="287.28" r="2.0" fill="#7ea3dd"/>
<circle cx="263.06" cy="288.27" r="2.0" fill="#7ea3dd"/>
<circle cx="265.09" cy="287.94" r="2.0" fill="#7ea3dd"/>
<circle cx="264.00" cy="285.96" r="2.0" fill="#7ea3dd"/>
<rect x="272.57" y="242.80" width="6.85" height="51.10" fill="#fff" stroke="#f51a1a" stroke-width="1.15"/>
<line x1="276.00" y1="238.00" x2="276.00" y2="247.60" stroke="#f51a1a" stroke-width="1.0"/>
<line x1="273.70" y1="238.00" x2="278.30" y2="238.00" stroke="#f51a1a" stroke-width="1.0"/>
<line x1="273.70" y1="247.60" x2="278.30" y2="247.60" stroke="#f51a1a" stroke-width="1.0"/>
<circle cx="273.93" cy="236.50" r="2.0" fill="#f01010"/>
<circle cx="277.88" cy="239.43" r="2.0" fill="#f01010"/>
<circle cx="276.00" cy="242.35" r="2.0" fill="#f01010"/>
<circle cx="274.49" cy="243.75" r="2.0" fill="#f01010"/>
<circle cx="278.16" cy="245.86" r="2.0" fill="#f01010"/>
<circle cx="276.56" cy="248.20" r="2.0" fill="#f01010"/>
<line x1="270.20" y1="293.90" x2="270.20" y2="297.70" stroke="#222" stroke-width="1.1"/>
<text transform="translate(270.20 304.00) scale(1 1.2)" font-size="5.85" font-weight="bold" text-anchor="middle" fill="#1a1a1a">BALF</text>
<path d="M264.50 230.40 V227.10 H276.60 V230.40" fill="none" stroke="#444" stroke-width="0.85"/>
<text x="265.90" y="227.20" font-size="8.7" font-weight="bold" text-anchor="middle" fill="#2a2a2a" stroke="#2a2a2a" stroke-width="0.35">*</text>
<text x="270.55" y="227.20" font-size="8.7" font-weight="bold" text-anchor="middle" fill="#2a2a2a" stroke="#2a2a2a" stroke-width="0.35">*</text>
<text x="275.20" y="227.20" font-size="8.7" font-weight="bold" text-anchor="middle" fill="#2a2a2a" stroke="#2a2a2a" stroke-width="0.35">*</text>
<line x1="192.60" y1="220.30" x2="192.60" y2="294.60" stroke="#555" stroke-width="1.4"/>
<line x1="191.90" y1="293.90" x2="284.50" y2="293.90" stroke="#555" stroke-width="1.4"/>
<line x1="188.60" y1="293.90" x2="192.60" y2="293.90" stroke="#333" stroke-width="1.1"/>
<text x="187.60" y="295.90" font-size="5.6" font-weight="bold" text-anchor="end" fill="#1a1a1a">0</text>
<line x1="188.60" y1="275.65" x2="192.60" y2="275.65" stroke="#333" stroke-width="1.1"/>
<text x="187.60" y="277.65" font-size="5.6" font-weight="bold" text-anchor="end" fill="#1a1a1a">2</text>
<line x1="188.60" y1="257.40" x2="192.60" y2="257.40" stroke="#333" stroke-width="1.1"/>
<text x="187.60" y="259.40" font-size="5.6" font-weight="bold" text-anchor="end" fill="#1a1a1a">4</text>
<line x1="188.60" y1="239.15" x2="192.60" y2="239.15" stroke="#333" stroke-width="1.1"/>
<text x="187.60" y="241.15" font-size="5.6" font-weight="bold" text-anchor="end" fill="#1a1a1a">6</text>
<line x1="188.60" y1="220.90" x2="192.60" y2="220.90" stroke="#333" stroke-width="1.1"/>
<text x="187.60" y="222.90" font-size="5.6" font-weight="bold" text-anchor="end" fill="#1a1a1a">8</text>
<text x="171.90" y="257.20" font-size="5.7" font-weight="bold" text-anchor="middle" fill="#1a1a1a" transform="rotate(-90 171.90 257.20)" textLength="91.3" lengthAdjust="spacingAndGlyphs">Relative Protein expression</text>
<text x="179.60" y="257.65" font-size="5.7" font-weight="bold" text-anchor="middle" fill="#1a1a1a" transform="rotate(-90 179.60 257.65)" textLength="87.8" lengthAdjust="spacingAndGlyphs">GSDMD-p30 versus GAPDH</text>
<circle cx="320.00" cy="189.90" r="2.1" fill="#7ea3dd"/>
<circle cx="320.00" cy="201.10" r="2.1" fill="#f01010"/>
<text transform="translate(330.10 192.30) scale(1 1.28)" font-size="6.3" font-weight="normal" text-anchor="start" fill="#222">Sham</text>
<text transform="translate(330.10 203.50) scale(1 1.28)" font-size="6.3" font-weight="normal" text-anchor="start" fill="#222">CLP</text>
<rect x="323.57" y="285.50" width="6.45" height="8.70" fill="#fff" stroke="#3d68bd" stroke-width="1.15"/>
<circle cx="326.80" cy="282.00" r="2.0" fill="#7ea3dd"/>
<circle cx="325.28" cy="283.61" r="2.0" fill="#7ea3dd"/>
<circle cx="328.32" cy="283.38" r="2.0" fill="#7ea3dd"/>
<circle cx="324.29" cy="285.45" r="2.0" fill="#7ea3dd"/>
<circle cx="329.31" cy="285.68" r="2.0" fill="#7ea3dd"/>
<circle cx="325.89" cy="286.37" r="2.0" fill="#7ea3dd"/>
<circle cx="327.86" cy="286.14" r="2.0" fill="#7ea3dd"/>
<circle cx="326.80" cy="284.76" r="2.0" fill="#7ea3dd"/>
<rect x="335.88" y="251.20" width="6.25" height="43.00" fill="#fff" stroke="#f51a1a" stroke-width="1.15"/>
<line x1="339.00" y1="247.50" x2="339.00" y2="254.90" stroke="#f51a1a" stroke-width="1.0"/>
<line x1="336.70" y1="247.50" x2="341.30" y2="247.50" stroke="#f51a1a" stroke-width="1.0"/>
<line x1="336.70" y1="254.90" x2="341.30" y2="254.90" stroke="#f51a1a" stroke-width="1.0"/>
<circle cx="337.08" cy="245.80" r="2.0" fill="#f01010"/>
<circle cx="340.74" cy="249.43" r="2.0" fill="#f01010"/>
<circle cx="339.00" cy="253.05" r="2.0" fill="#f01010"/>
<circle cx="337.61" cy="254.79" r="2.0" fill="#f01010"/>
<circle cx="341.00" cy="257.40" r="2.0" fill="#f01010"/>
<circle cx="339.52" cy="260.30" r="2.0" fill="#f01010"/>
<line x1="333.20" y1="294.20" x2="333.20" y2="298.00" stroke="#222" stroke-width="1.1"/>
<text transform="translate(333.20 304.70) scale(1 1.2)" font-size="5.85" font-weight="bold" text-anchor="middle" fill="#1a1a1a">Blood</text>
<path d="M327.30 240.60 V237.30 H339.60 V240.60" fill="none" stroke="#444" stroke-width="0.85"/>
<text x="328.80" y="237.40" font-size="8.7" font-weight="bold" text-anchor="middle" fill="#2a2a2a" stroke="#2a2a2a" stroke-width="0.35">*</text>
<text x="333.45" y="237.40" font-size="8.7" font-weight="bold" text-anchor="middle" fill="#2a2a2a" stroke="#2a2a2a" stroke-width="0.35">*</text>
<text x="338.10" y="237.40" font-size="8.7" font-weight="bold" text-anchor="middle" fill="#2a2a2a" stroke="#2a2a2a" stroke-width="0.35">*</text>
<rect x="355.68" y="285.50" width="6.25" height="8.70" fill="#fff" stroke="#3d68bd" stroke-width="1.15"/>
<circle cx="358.80" cy="281.00" r="2.0" fill="#7ea3dd"/>
<circle cx="357.32" cy="282.96" r="2.0" fill="#7ea3dd"/>
<circle cx="360.28" cy="282.68" r="2.0" fill="#7ea3dd"/>
<circle cx="356.36" cy="285.20" r="2.0" fill="#7ea3dd"/>
<circle cx="361.24" cy="285.48" r="2.0" fill="#7ea3dd"/>
<circle cx="357.91" cy="286.32" r="2.0" fill="#7ea3dd"/>
<circle cx="359.84" cy="286.04" r="2.0" fill="#7ea3dd"/>
<circle cx="358.80" cy="284.36" r="2.0" fill="#7ea3dd"/>
<rect x="367.18" y="244.70" width="6.45" height="49.50" fill="#fff" stroke="#f51a1a" stroke-width="1.15"/>
<line x1="370.40" y1="238.70" x2="370.40" y2="250.70" stroke="#f51a1a" stroke-width="1.0"/>
<line x1="368.10" y1="238.70" x2="372.70" y2="238.70" stroke="#f51a1a" stroke-width="1.0"/>
<line x1="368.10" y1="250.70" x2="372.70" y2="250.70" stroke="#f51a1a" stroke-width="1.0"/>
<circle cx="368.43" cy="235.60" r="2.0" fill="#f01010"/>
<circle cx="372.19" cy="240.05" r="2.0" fill="#f01010"/>
<circle cx="370.40" cy="244.50" r="2.0" fill="#f01010"/>
<circle cx="368.97" cy="246.64" r="2.0" fill="#f01010"/>
<circle cx="372.46" cy="249.84" r="2.0" fill="#f01010"/>
<circle cx="370.94" cy="253.40" r="2.0" fill="#f01010"/>
<line x1="363.60" y1="294.20" x2="363.60" y2="298.00" stroke="#222" stroke-width="1.1"/>
<text transform="translate(363.60 304.70) scale(1 1.2)" font-size="5.85" font-weight="bold" text-anchor="middle" fill="#1a1a1a">Spleen</text>
<path d="M359.30 229.80 V226.50 H371.00 V229.80" fill="none" stroke="#444" stroke-width="0.85"/>
<text x="360.50" y="226.60" font-size="8.7" font-weight="bold" text-anchor="middle" fill="#2a2a2a" stroke="#2a2a2a" stroke-width="0.35">*</text>
<text x="365.15" y="226.60" font-size="8.7" font-weight="bold" text-anchor="middle" fill="#2a2a2a" stroke="#2a2a2a" stroke-width="0.35">*</text>
<text x="369.80" y="226.60" font-size="8.7" font-weight="bold" text-anchor="middle" fill="#2a2a2a" stroke="#2a2a2a" stroke-width="0.35">*</text>
<rect x="387.57" y="285.50" width="6.25" height="8.70" fill="#fff" stroke="#3d68bd" stroke-width="1.15"/>
<circle cx="390.70" cy="282.00" r="2.0" fill="#7ea3dd"/>
<circle cx="389.22" cy="283.61" r="2.0" fill="#7ea3dd"/>
<circle cx="392.18" cy="283.38" r="2.0" fill="#7ea3dd"/>
<circle cx="388.26" cy="285.45" r="2.0" fill="#7ea3dd"/>
<circle cx="393.14" cy="285.68" r="2.0" fill="#7ea3dd"/>
<circle cx="389.81" cy="286.37" r="2.0" fill="#7ea3dd"/>
<circle cx="391.74" cy="286.14" r="2.0" fill="#7ea3dd"/>
<circle cx="390.70" cy="284.76" r="2.0" fill="#7ea3dd"/>
<rect x="399.27" y="241.90" width="6.85" height="52.30" fill="#fff" stroke="#f51a1a" stroke-width="1.15"/>
<line x1="402.70" y1="239.50" x2="402.70" y2="244.30" stroke="#f51a1a" stroke-width="1.0"/>
<line x1="400.40" y1="239.50" x2="405.00" y2="239.50" stroke="#f51a1a" stroke-width="1.0"/>
<line x1="400.40" y1="244.30" x2="405.00" y2="244.30" stroke="#f51a1a" stroke-width="1.0"/>
<circle cx="400.63" cy="237.40" r="2.0" fill="#f01010"/>
<circle cx="404.58" cy="238.72" r="2.0" fill="#f01010"/>
<circle cx="402.70" cy="240.05" r="2.0" fill="#f01010"/>
<circle cx="401.19" cy="240.69" r="2.0" fill="#f01010"/>
<circle cx="404.86" cy="241.64" r="2.0" fill="#f01010"/>
<circle cx="403.26" cy="242.70" r="2.0" fill="#f01010"/>
<line x1="396.50" y1="294.20" x2="396.50" y2="298.00" stroke="#222" stroke-width="1.1"/>
<text transform="translate(396.50 304.70) scale(1 1.2)" font-size="5.85" font-weight="bold" text-anchor="middle" fill="#1a1a1a">BALF</text>
<path d="M391.20 231.70 V228.40 H403.30 V231.70" fill="none" stroke="#444" stroke-width="0.85"/>
<text x="392.60" y="228.50" font-size="8.7" font-weight="bold" text-anchor="middle" fill="#2a2a2a" stroke="#2a2a2a" stroke-width="0.35">*</text>
<text x="397.25" y="228.50" font-size="8.7" font-weight="bold" text-anchor="middle" fill="#2a2a2a" stroke="#2a2a2a" stroke-width="0.35">*</text>
<text x="401.90" y="228.50" font-size="8.7" font-weight="bold" text-anchor="middle" fill="#2a2a2a" stroke="#2a2a2a" stroke-width="0.35">*</text>
<line x1="318.50" y1="220.50" x2="318.50" y2="294.90" stroke="#555" stroke-width="1.4"/>
<line x1="317.80" y1="294.20" x2="410.00" y2="294.20" stroke="#555" stroke-width="1.4"/>
<line x1="314.50" y1="294.20" x2="318.50" y2="294.20" stroke="#333" stroke-width="1.1"/>
<text x="313.50" y="296.20" font-size="5.6" font-weight="bold" text-anchor="end" fill="#1a1a1a">0</text>
<line x1="314.50" y1="269.83" x2="318.50" y2="269.83" stroke="#333" stroke-width="1.1"/>
<text x="313.50" y="271.83" font-size="5.6" font-weight="bold" text-anchor="end" fill="#1a1a1a">2</text>
<line x1="314.50" y1="245.47" x2="318.50" y2="245.47" stroke="#333" stroke-width="1.1"/>
<text x="313.50" y="247.47" font-size="5.6" font-weight="bold" text-anchor="end" fill="#1a1a1a">4</text>
<line x1="314.50" y1="221.10" x2="318.50" y2="221.10" stroke="#333" stroke-width="1.1"/>
<text x="313.50" y="223.10" font-size="5.6" font-weight="bold" text-anchor="end" fill="#1a1a1a">6</text>
<text x="297.80" y="257.75" font-size="5.7" font-weight="bold" text-anchor="middle" fill="#1a1a1a" transform="rotate(-90 297.80 257.75)" textLength="90.8" lengthAdjust="spacingAndGlyphs">Relative Protein expression</text>
<text x="306.00" y="257.90" font-size="5.7" font-weight="bold" text-anchor="middle" fill="#1a1a1a" transform="rotate(-90 306.00 257.90)" textLength="96.5" lengthAdjust="spacingAndGlyphs">Caspase 1-p20 versus GAPDH</text>
<circle cx="41.30" cy="340.20" r="2.1" fill="#7ea3dd"/>
<circle cx="41.30" cy="351.00" r="2.1" fill="#f01010"/>
<text transform="translate(51.40 342.60) scale(1 1.28)" font-size="6.3" font-weight="normal" text-anchor="start" fill="#222">Sham</text>
<text transform="translate(51.40 353.40) scale(1 1.28)" font-size="6.3" font-weight="normal" text-anchor="start" fill="#222">CLP</text>
<rect x="44.38" y="429.00" width="7.35" height="15.50" fill="#fff" stroke="#3d68bd" stroke-width="1.15"/>
<circle cx="48.05" cy="427.80" r="2.0" fill="#7ea3dd"/>
<circle cx="46.35" cy="428.99" r="2.0" fill="#7ea3dd"/>
<circle cx="49.75" cy="428.82" r="2.0" fill="#7ea3dd"/>
<circle cx="45.24" cy="430.35" r="2.0" fill="#7ea3dd"/>
<circle cx="50.85" cy="430.52" r="2.0" fill="#7ea3dd"/>
<circle cx="47.03" cy="431.03" r="2.0" fill="#7ea3dd"/>
<circle cx="49.24" cy="430.86" r="2.0" fill="#7ea3dd"/>
<circle cx="48.05" cy="429.84" r="2.0" fill="#7ea3dd"/>
<rect x="56.58" y="394.40" width="6.95" height="50.10" fill="#fff" stroke="#f51a1a" stroke-width="1.15"/>
<line x1="60.05" y1="388.50" x2="60.05" y2="400.30" stroke="#f51a1a" stroke-width="1.0"/>
<line x1="57.75" y1="388.50" x2="62.35" y2="388.50" stroke="#f51a1a" stroke-width="1.0"/>
<line x1="57.75" y1="400.30" x2="62.35" y2="400.30" stroke="#f51a1a" stroke-width="1.0"/>
<circle cx="57.95" cy="389.50" r="2.0" fill="#f01010"/>
<circle cx="61.96" cy="393.32" r="2.0" fill="#f01010"/>
<circle cx="60.05" cy="397.15" r="2.0" fill="#f01010"/>
<circle cx="58.53" cy="398.99" r="2.0" fill="#f01010"/>
<circle cx="62.24" cy="401.74" r="2.0" fill="#f01010"/>
<circle cx="60.62" cy="404.80" r="2.0" fill="#f01010"/>
<line x1="54.10" y1="444.50" x2="54.10" y2="448.30" stroke="#222" stroke-width="1.1"/>
<text transform="translate(54.10 454.90) scale(1 1.2)" font-size="5.85" font-weight="bold" text-anchor="middle" fill="#1a1a1a">Blood</text>
<path d="M48.55 383.30 V380.00 H60.65 V383.30" fill="none" stroke="#444" stroke-width="0.85"/>
<text x="49.95" y="380.10" font-size="8.7" font-weight="bold" text-anchor="middle" fill="#2a2a2a" stroke="#2a2a2a" stroke-width="0.35">*</text>
<text x="54.60" y="380.10" font-size="8.7" font-weight="bold" text-anchor="middle" fill="#2a2a2a" stroke="#2a2a2a" stroke-width="0.35">*</text>
<text x="59.25" y="380.10" font-size="8.7" font-weight="bold" text-anchor="middle" fill="#2a2a2a" stroke="#2a2a2a" stroke-width="0.35">*</text>
<rect x="76.88" y="430.00" width="6.65" height="14.50" fill="#fff" stroke="#3d68bd" stroke-width="1.15"/>
<circle cx="80.20" cy="429.80" r="2.0" fill="#7ea3dd"/>
<circle cx="78.64" cy="430.99" r="2.0" fill="#7ea3dd"/>
<circle cx="81.76" cy="430.82" r="2.0" fill="#7ea3dd"/>
<circle cx="77.63" cy="432.35" r="2.0" fill="#7ea3dd"/>
<circle cx="82.77" cy="432.52" r="2.0" fill="#7ea3dd"/>
<circle cx="79.26" cy="433.03" r="2.0" fill="#7ea3dd"/>
<circle cx="81.29" cy="432.86" r="2.0" fill="#7ea3dd"/>
<circle cx="80.20" cy="431.84" r="2.0" fill="#7ea3dd"/>
<rect x="88.58" y="389.50" width="6.75" height="55.00" fill="#fff" stroke="#f51a1a" stroke-width="1.15"/>
<line x1="91.95" y1="382.20" x2="91.95" y2="396.80" stroke="#f51a1a" stroke-width="1.0"/>
<line x1="89.65" y1="382.20" x2="94.25" y2="382.20" stroke="#f51a1a" stroke-width="1.0"/>
<line x1="89.65" y1="396.80" x2="94.25" y2="396.80" stroke="#f51a1a" stroke-width="1.0"/>
<circle cx="89.91" cy="378.70" r="2.0" fill="#f01010"/>
<circle cx="93.81" cy="383.35" r="2.0" fill="#f01010"/>
<circle cx="91.95" cy="388.00" r="2.0" fill="#f01010"/>
<circle cx="90.46" cy="390.23" r="2.0" fill="#f01010"/>
<circle cx="94.09" cy="393.58" r="2.0" fill="#f01010"/>
<circle cx="92.51" cy="397.30" r="2.0" fill="#f01010"/>
<line x1="86.10" y1="444.50" x2="86.10" y2="448.30" stroke="#222" stroke-width="1.1"/>
<text transform="translate(86.10 454.90) scale(1 1.2)" font-size="5.85" font-weight="bold" text-anchor="middle" fill="#1a1a1a">Spleen</text>
<path d="M80.70 372.70 V369.40 H92.55 V372.70" fill="none" stroke="#444" stroke-width="0.85"/>
<text x="81.97" y="369.50" font-size="8.7" font-weight="bold" text-anchor="middle" fill="#2a2a2a" stroke="#2a2a2a" stroke-width="0.35">*</text>
<text x="86.62" y="369.50" font-size="8.7" font-weight="bold" text-anchor="middle" fill="#2a2a2a" stroke="#2a2a2a" stroke-width="0.35">*</text>
<text x="91.28" y="369.50" font-size="8.7" font-weight="bold" text-anchor="middle" fill="#2a2a2a" stroke="#2a2a2a" stroke-width="0.35">*</text>
<rect x="108.67" y="430.00" width="6.65" height="14.50" fill="#fff" stroke="#3d68bd" stroke-width="1.15"/>
<circle cx="112.00" cy="428.80" r="2.0" fill="#7ea3dd"/>
<circle cx="110.44" cy="429.99" r="2.0" fill="#7ea3dd"/>
<circle cx="113.56" cy="429.82" r="2.0" fill="#7ea3dd"/>
<circle cx="109.43" cy="431.35" r="2.0" fill="#7ea3dd"/>
<circle cx="114.57" cy="431.52" r="2.0" fill="#7ea3dd"/>
<circle cx="111.06" cy="432.03" r="2.0" fill="#7ea3dd"/>
<circle cx="113.09" cy="431.86" r="2.0" fill="#7ea3dd"/>
<circle cx="112.00" cy="430.84" r="2.0" fill="#7ea3dd"/>
<rect x="120.48" y="383.20" width="6.65" height="61.30" fill="#fff" stroke="#f51a1a" stroke-width="1.15"/>
<line x1="123.80" y1="380.00" x2="123.80" y2="386.40" stroke="#f51a1a" stroke-width="1.0"/>
<line x1="121.50" y1="380.00" x2="126.10" y2="380.00" stroke="#f51a1a" stroke-width="1.0"/>
<line x1="121.50" y1="386.40" x2="126.10" y2="386.40" stroke="#f51a1a" stroke-width="1.0"/>
<circle cx="121.78" cy="378.70" r="2.0" fill="#f01010"/>
<circle cx="125.64" cy="381.62" r="2.0" fill="#f01010"/>
<circle cx="123.80" cy="384.55" r="2.0" fill="#f01010"/>
<circle cx="122.33" cy="385.95" r="2.0" fill="#f01010"/>
<circle cx="125.91" cy="388.06" r="2.0" fill="#f01010"/>
<circle cx="124.35" cy="390.40" r="2.0" fill="#f01010"/>
<line x1="117.90" y1="444.50" x2="117.90" y2="448.30" stroke="#222" stroke-width="1.1"/>
<text transform="translate(117.90 454.90) scale(1 1.2)" font-size="5.85" font-weight="bold" text-anchor="middle" fill="#1a1a1a">BALF</text>
<path d="M112.50 370.80 V367.50 H124.40 V370.80" fill="none" stroke="#444" stroke-width="0.85"/>
<text x="113.80" y="367.60" font-size="8.7" font-weight="bold" text-anchor="middle" fill="#2a2a2a" stroke="#2a2a2a" stroke-width="0.35">*</text>
<text x="118.45" y="367.60" font-size="8.7" font-weight="bold" text-anchor="middle" fill="#2a2a2a" stroke="#2a2a2a" stroke-width="0.35">*</text>
<text x="123.10" y="367.60" font-size="8.7" font-weight="bold" text-anchor="middle" fill="#2a2a2a" stroke="#2a2a2a" stroke-width="0.35">*</text>
<line x1="39.30" y1="370.80" x2="39.30" y2="445.20" stroke="#555" stroke-width="1.4"/>
<line x1="38.60" y1="444.50" x2="131.00" y2="444.50" stroke="#555" stroke-width="1.4"/>
<line x1="35.30" y1="444.50" x2="39.30" y2="444.50" stroke="#333" stroke-width="1.1"/>
<text x="34.30" y="446.50" font-size="5.6" font-weight="bold" text-anchor="end" fill="#1a1a1a">0</text>
<line x1="35.30" y1="429.88" x2="39.30" y2="429.88" stroke="#333" stroke-width="1.1"/>
<text x="34.30" y="431.88" font-size="5.6" font-weight="bold" text-anchor="end" fill="#1a1a1a">1</text>
<line x1="35.30" y1="415.26" x2="39.30" y2="415.26" stroke="#333" stroke-width="1.1"/>
<text x="34.30" y="417.26" font-size="5.6" font-weight="bold" text-anchor="end" fill="#1a1a1a">2</text>
<line x1="35.30" y1="400.64" x2="39.30" y2="400.64" stroke="#333" stroke-width="1.1"/>
<text x="34.30" y="402.64" font-size="5.6" font-weight="bold" text-anchor="end" fill="#1a1a1a">3</text>
<line x1="35.30" y1="386.02" x2="39.30" y2="386.02" stroke="#333" stroke-width="1.1"/>
<text x="34.30" y="388.02" font-size="5.6" font-weight="bold" text-anchor="end" fill="#1a1a1a">4</text>
<line x1="35.30" y1="371.40" x2="39.30" y2="371.40" stroke="#333" stroke-width="1.1"/>
<text x="34.30" y="373.40" font-size="5.6" font-weight="bold" text-anchor="end" fill="#1a1a1a">5</text>
<text x="19.00" y="407.50" font-size="5.7" font-weight="bold" text-anchor="middle" fill="#1a1a1a" transform="rotate(-90 19.00 407.50)" textLength="91.1" lengthAdjust="spacingAndGlyphs">Relative Protein expression</text>
<text x="26.80" y="407.55" font-size="5.7" font-weight="bold" text-anchor="middle" fill="#1a1a1a" transform="rotate(-90 26.80 407.55)" textLength="99.6" lengthAdjust="spacingAndGlyphs">Caspase 11-p20 versus GAPDH</text>
<circle cx="174.30" cy="339.20" r="2.1" fill="#7ea3dd"/>
<circle cx="174.30" cy="350.10" r="2.1" fill="#f01010"/>
<text transform="translate(184.50 341.60) scale(1 1.28)" font-size="6.3" font-weight="normal" text-anchor="start" fill="#222">Sham</text>
<text transform="translate(184.50 352.50) scale(1 1.28)" font-size="6.3" font-weight="normal" text-anchor="start" fill="#222">CLP</text>
<rect x="178.07" y="425.80" width="6.65" height="17.70" fill="#fff" stroke="#3d68bd" stroke-width="1.15"/>
<circle cx="181.40" cy="424.90" r="2.0" fill="#7ea3dd"/>
<circle cx="179.84" cy="426.09" r="2.0" fill="#7ea3dd"/>
<circle cx="182.96" cy="425.92" r="2.0" fill="#7ea3dd"/>
<circle cx="178.83" cy="427.45" r="2.0" fill="#7ea3dd"/>
<circle cx="183.97" cy="427.62" r="2.0" fill="#7ea3dd"/>
<circle cx="180.46" cy="428.13" r="2.0" fill="#7ea3dd"/>
<circle cx="182.49" cy="427.96" r="2.0" fill="#7ea3dd"/>
<circle cx="181.40" cy="426.94" r="2.0" fill="#7ea3dd"/>
<rect x="189.67" y="390.50" width="6.65" height="53.00" fill="#fff" stroke="#f51a1a" stroke-width="1.15"/>
<line x1="193.00" y1="382.20" x2="193.00" y2="398.80" stroke="#f51a1a" stroke-width="1.0"/>
<line x1="190.70" y1="382.20" x2="195.30" y2="382.20" stroke="#f51a1a" stroke-width="1.0"/>
<line x1="190.70" y1="398.80" x2="195.30" y2="398.80" stroke="#f51a1a" stroke-width="1.0"/>
<circle cx="190.98" cy="377.70" r="2.0" fill="#f01010"/>
<circle cx="194.84" cy="382.00" r="2.0" fill="#f01010"/>
<circle cx="193.00" cy="386.30" r="2.0" fill="#f01010"/>
<circle cx="191.53" cy="388.36" r="2.0" fill="#f01010"/>
<circle cx="195.11" cy="391.46" r="2.0" fill="#f01010"/>
<circle cx="193.55" cy="394.90" r="2.0" fill="#f01010"/>
<line x1="187.30" y1="443.50" x2="187.30" y2="447.30" stroke="#222" stroke-width="1.1"/>
<text transform="translate(187.30 453.50) scale(1 1.2)" font-size="5.85" font-weight="bold" text-anchor="middle" fill="#1a1a1a">Blood</text>
<path d="M181.90 371.60 V368.30 H193.60 V371.60" fill="none" stroke="#444" stroke-width="0.85"/>
<text x="183.10" y="368.40" font-size="8.7" font-weight="bold" text-anchor="middle" fill="#2a2a2a" stroke="#2a2a2a" stroke-width="0.35">*</text>
<text x="187.75" y="368.40" font-size="8.7" font-weight="bold" text-anchor="middle" fill="#2a2a2a" stroke="#2a2a2a" stroke-width="0.35">*</text>
<text x="192.40" y="368.40" font-size="8.7" font-weight="bold" text-anchor="middle" fill="#2a2a2a" stroke="#2a2a2a" stroke-width="0.35">*</text>
<rect x="209.88" y="425.80" width="6.35" height="17.70" fill="#fff" stroke="#3d68bd" stroke-width="1.15"/>
<circle cx="213.05" cy="424.90" r="2.0" fill="#7ea3dd"/>
<circle cx="211.55" cy="426.09" r="2.0" fill="#7ea3dd"/>
<circle cx="214.55" cy="425.92" r="2.0" fill="#7ea3dd"/>
<circle cx="210.58" cy="427.45" r="2.0" fill="#7ea3dd"/>
<circle cx="215.53" cy="427.62" r="2.0" fill="#7ea3dd"/>
<circle cx="212.15" cy="428.13" r="2.0" fill="#7ea3dd"/>
<circle cx="214.10" cy="427.96" r="2.0" fill="#7ea3dd"/>
<circle cx="213.05" cy="426.94" r="2.0" fill="#7ea3dd"/>
<rect x="222.07" y="389.50" width="6.25" height="54.00" fill="#fff" stroke="#f51a1a" stroke-width="1.15"/>
<line x1="225.20" y1="380.20" x2="225.20" y2="398.80" stroke="#f51a1a" stroke-width="1.0"/>
<line x1="222.90" y1="380.20" x2="227.50" y2="380.20" stroke="#f51a1a" stroke-width="1.0"/>
<line x1="222.90" y1="398.80" x2="227.50" y2="398.80" stroke="#f51a1a" stroke-width="1.0"/>
<circle cx="223.28" cy="377.30" r="2.0" fill="#f01010"/>
<circle cx="226.94" cy="382.90" r="2.0" fill="#f01010"/>
<circle cx="225.20" cy="388.50" r="2.0" fill="#f01010"/>
<circle cx="223.81" cy="391.19" r="2.0" fill="#f01010"/>
<circle cx="227.20" cy="395.22" r="2.0" fill="#f01010"/>
<circle cx="225.72" cy="399.70" r="2.0" fill="#f01010"/>
<line x1="218.80" y1="443.50" x2="218.80" y2="447.30" stroke="#222" stroke-width="1.1"/>
<text transform="translate(218.80 453.50) scale(1 1.2)" font-size="5.85" font-weight="bold" text-anchor="middle" fill="#1a1a1a">Spleen</text>
<path d="M213.55 370.20 V366.90 H225.80 V370.20" fill="none" stroke="#444" stroke-width="0.85"/>
<text x="215.03" y="367.00" font-size="8.7" font-weight="bold" text-anchor="middle" fill="#2a2a2a" stroke="#2a2a2a" stroke-width="0.35">*</text>
<text x="219.68" y="367.00" font-size="8.7" font-weight="bold" text-anchor="middle" fill="#2a2a2a" stroke="#2a2a2a" stroke-width="0.35">*</text>
<text x="224.33" y="367.00" font-size="8.7" font-weight="bold" text-anchor="middle" fill="#2a2a2a" stroke="#2a2a2a" stroke-width="0.35">*</text>
<rect x="241.67" y="425.80" width="6.35" height="17.70" fill="#fff" stroke="#3d68bd" stroke-width="1.15"/>
<circle cx="244.85" cy="421.00" r="2.0" fill="#7ea3dd"/>
<circle cx="243.35" cy="424.81" r="2.0" fill="#7ea3dd"/>
<circle cx="246.35" cy="424.27" r="2.0" fill="#7ea3dd"/>
<circle cx="242.38" cy="429.18" r="2.0" fill="#7ea3dd"/>
<circle cx="247.32" cy="429.72" r="2.0" fill="#7ea3dd"/>
<circle cx="243.95" cy="431.36" r="2.0" fill="#7ea3dd"/>
<circle cx="245.90" cy="430.81" r="2.0" fill="#7ea3dd"/>
<circle cx="244.85" cy="427.54" r="2.0" fill="#7ea3dd"/>
<rect x="253.47" y="391.40" width="6.75" height="52.10" fill="#fff" stroke="#f51a1a" stroke-width="1.15"/>
<line x1="256.85" y1="382.60" x2="256.85" y2="400.20" stroke="#f51a1a" stroke-width="1.0"/>
<line x1="254.55" y1="382.60" x2="259.15" y2="382.60" stroke="#f51a1a" stroke-width="1.0"/>
<line x1="254.55" y1="400.20" x2="259.15" y2="400.20" stroke="#f51a1a" stroke-width="1.0"/>
<circle cx="254.81" cy="381.60" r="2.0" fill="#f01010"/>
<circle cx="258.71" cy="387.10" r="2.0" fill="#f01010"/>
<circle cx="256.85" cy="392.60" r="2.0" fill="#f01010"/>
<circle cx="255.36" cy="395.24" r="2.0" fill="#f01010"/>
<circle cx="258.99" cy="399.20" r="2.0" fill="#f01010"/>
<circle cx="257.41" cy="403.60" r="2.0" fill="#f01010"/>
<line x1="250.70" y1="443.50" x2="250.70" y2="447.30" stroke="#222" stroke-width="1.1"/>
<text transform="translate(250.70 453.50) scale(1 1.2)" font-size="5.85" font-weight="bold" text-anchor="middle" fill="#1a1a1a">BALF</text>
<path d="M245.35 375.50 V372.20 H257.45 V375.50" fill="none" stroke="#444" stroke-width="0.85"/>
<text x="246.75" y="372.30" font-size="8.7" font-weight="bold" text-anchor="middle" fill="#2a2a2a" stroke="#2a2a2a" stroke-width="0.35">*</text>
<text x="251.40" y="372.30" font-size="8.7" font-weight="bold" text-anchor="middle" fill="#2a2a2a" stroke="#2a2a2a" stroke-width="0.35">*</text>
<text x="256.05" y="372.30" font-size="8.7" font-weight="bold" text-anchor="middle" fill="#2a2a2a" stroke="#2a2a2a" stroke-width="0.35">*</text>
<line x1="173.50" y1="369.60" x2="173.50" y2="444.20" stroke="#555" stroke-width="1.4"/>
<line x1="172.80" y1="443.50" x2="264.90" y2="443.50" stroke="#555" stroke-width="1.4"/>
<line x1="169.50" y1="443.50" x2="173.50" y2="443.50" stroke="#333" stroke-width="1.1"/>
<text x="168.50" y="445.50" font-size="5.6" font-weight="bold" text-anchor="end" fill="#1a1a1a">0</text>
<line x1="169.50" y1="425.18" x2="173.50" y2="425.18" stroke="#333" stroke-width="1.1"/>
<text x="168.50" y="427.18" font-size="5.6" font-weight="bold" text-anchor="end" fill="#1a1a1a">1</text>
<line x1="169.50" y1="406.85" x2="173.50" y2="406.85" stroke="#333" stroke-width="1.1"/>
<text x="168.50" y="408.85" font-size="5.6" font-weight="bold" text-anchor="end" fill="#1a1a1a">2</text>
<line x1="169.50" y1="388.52" x2="173.50" y2="388.52" stroke="#333" stroke-width="1.1"/>
<text x="168.50" y="390.52" font-size="5.6" font-weight="bold" text-anchor="end" fill="#1a1a1a">3</text>
<line x1="169.50" y1="370.20" x2="173.50" y2="370.20" stroke="#333" stroke-width="1.1"/>
<text x="168.50" y="372.20" font-size="5.6" font-weight="bold" text-anchor="end" fill="#1a1a1a">4</text>
<text x="152.00" y="406.70" font-size="5.7" font-weight="bold" text-anchor="middle" fill="#1a1a1a" transform="rotate(-90 152.00 406.70)" textLength="90.7" lengthAdjust="spacingAndGlyphs">Relative Protein expression</text>
<text x="160.20" y="407.05" font-size="5.7" font-weight="bold" text-anchor="middle" fill="#1a1a1a" transform="rotate(-90 160.20 407.05)" textLength="65.8" lengthAdjust="spacingAndGlyphs">IL-1β  versus GAPDH</text>
<circle cx="302.00" cy="338.90" r="2.1" fill="#7ea3dd"/>
<circle cx="302.00" cy="349.60" r="2.1" fill="#f01010"/>
<text transform="translate(312.50 341.30) scale(1 1.28)" font-size="6.3" font-weight="normal" text-anchor="start" fill="#222">Sham</text>
<text transform="translate(312.50 352.00) scale(1 1.28)" font-size="6.3" font-weight="normal" text-anchor="start" fill="#222">CLP</text>
<rect x="306.07" y="431.10" width="6.45" height="11.80" fill="#fff" stroke="#3d68bd" stroke-width="1.15"/>
<circle cx="309.30" cy="429.20" r="2.0" fill="#7ea3dd"/>
<circle cx="307.78" cy="430.50" r="2.0" fill="#7ea3dd"/>
<circle cx="310.82" cy="430.31" r="2.0" fill="#7ea3dd"/>
<circle cx="306.79" cy="431.98" r="2.0" fill="#7ea3dd"/>
<circle cx="311.81" cy="432.16" r="2.0" fill="#7ea3dd"/>
<circle cx="308.39" cy="432.72" r="2.0" fill="#7ea3dd"/>
<circle cx="310.36" cy="432.53" r="2.0" fill="#7ea3dd"/>
<circle cx="309.30" cy="431.42" r="2.0" fill="#7ea3dd"/>
<rect x="317.88" y="402.80" width="6.05" height="40.10" fill="#fff" stroke="#f51a1a" stroke-width="1.15"/>
<line x1="320.90" y1="401.00" x2="320.90" y2="404.60" stroke="#f51a1a" stroke-width="1.0"/>
<line x1="318.60" y1="401.00" x2="323.20" y2="401.00" stroke="#f51a1a" stroke-width="1.0"/>
<line x1="318.60" y1="404.60" x2="323.20" y2="404.60" stroke="#f51a1a" stroke-width="1.0"/>
<circle cx="319.04" cy="402.90" r="2.0" fill="#f01010"/>
<circle cx="322.59" cy="404.05" r="2.0" fill="#f01010"/>
<circle cx="320.90" cy="405.20" r="2.0" fill="#f01010"/>
<circle cx="319.54" cy="405.75" r="2.0" fill="#f01010"/>
<circle cx="322.85" cy="406.58" r="2.0" fill="#f01010"/>
<circle cx="321.41" cy="407.50" r="2.0" fill="#f01010"/>
<line x1="315.30" y1="442.90" x2="315.30" y2="446.70" stroke="#222" stroke-width="1.1"/>
<text transform="translate(315.30 453.00) scale(1 1.2)" font-size="5.85" font-weight="bold" text-anchor="middle" fill="#1a1a1a">Blood</text>
<path d="M309.80 397.10 V393.80 H321.50 V397.10" fill="none" stroke="#444" stroke-width="0.85"/>
<text x="311.00" y="393.90" font-size="8.7" font-weight="bold" text-anchor="middle" fill="#2a2a2a" stroke="#2a2a2a" stroke-width="0.35">*</text>
<text x="315.65" y="393.90" font-size="8.7" font-weight="bold" text-anchor="middle" fill="#2a2a2a" stroke="#2a2a2a" stroke-width="0.35">*</text>
<text x="320.30" y="393.90" font-size="8.7" font-weight="bold" text-anchor="middle" fill="#2a2a2a" stroke="#2a2a2a" stroke-width="0.35">*</text>
<rect x="337.88" y="431.00" width="6.35" height="11.90" fill="#fff" stroke="#3d68bd" stroke-width="1.15"/>
<circle cx="341.05" cy="429.00" r="2.0" fill="#7ea3dd"/>
<circle cx="339.55" cy="430.19" r="2.0" fill="#7ea3dd"/>
<circle cx="342.55" cy="430.02" r="2.0" fill="#7ea3dd"/>
<circle cx="338.57" cy="431.55" r="2.0" fill="#7ea3dd"/>
<circle cx="343.53" cy="431.72" r="2.0" fill="#7ea3dd"/>
<circle cx="340.15" cy="432.23" r="2.0" fill="#7ea3dd"/>
<circle cx="342.10" cy="432.06" r="2.0" fill="#7ea3dd"/>
<circle cx="341.05" cy="431.04" r="2.0" fill="#7ea3dd"/>
<rect x="350.07" y="406.20" width="5.85" height="36.70" fill="#fff" stroke="#f51a1a" stroke-width="1.15"/>
<line x1="353.00" y1="397.30" x2="353.00" y2="415.10" stroke="#f51a1a" stroke-width="1.0"/>
<line x1="350.70" y1="397.30" x2="355.30" y2="397.30" stroke="#f51a1a" stroke-width="1.0"/>
<line x1="350.70" y1="415.10" x2="355.30" y2="415.10" stroke="#f51a1a" stroke-width="1.0"/>
<circle cx="351.19" cy="398.00" r="2.0" fill="#f01010"/>
<circle cx="354.65" cy="401.35" r="2.0" fill="#f01010"/>
<circle cx="353.00" cy="404.70" r="2.0" fill="#f01010"/>
<circle cx="351.68" cy="406.31" r="2.0" fill="#f01010"/>
<circle cx="354.89" cy="408.72" r="2.0" fill="#f01010"/>
<circle cx="353.49" cy="411.40" r="2.0" fill="#f01010"/>
<line x1="346.80" y1="442.90" x2="346.80" y2="446.70" stroke="#222" stroke-width="1.1"/>
<text transform="translate(346.80 453.00) scale(1 1.2)" font-size="5.85" font-weight="bold" text-anchor="middle" fill="#1a1a1a">Spleen</text>
<path d="M341.55 392.40 V389.10 H353.60 V392.40" fill="none" stroke="#444" stroke-width="0.85"/>
<text x="342.93" y="389.20" font-size="8.7" font-weight="bold" text-anchor="middle" fill="#2a2a2a" stroke="#2a2a2a" stroke-width="0.35">*</text>
<text x="347.58" y="389.20" font-size="8.7" font-weight="bold" text-anchor="middle" fill="#2a2a2a" stroke="#2a2a2a" stroke-width="0.35">*</text>
<text x="352.23" y="389.20" font-size="8.7" font-weight="bold" text-anchor="middle" fill="#2a2a2a" stroke="#2a2a2a" stroke-width="0.35">*</text>
<rect x="369.68" y="431.00" width="6.35" height="11.90" fill="#fff" stroke="#3d68bd" stroke-width="1.15"/>
<circle cx="372.85" cy="427.80" r="2.0" fill="#7ea3dd"/>
<circle cx="371.35" cy="428.99" r="2.0" fill="#7ea3dd"/>
<circle cx="374.35" cy="428.82" r="2.0" fill="#7ea3dd"/>
<circle cx="370.38" cy="430.35" r="2.0" fill="#7ea3dd"/>
<circle cx="375.33" cy="430.52" r="2.0" fill="#7ea3dd"/>
<circle cx="371.95" cy="431.03" r="2.0" fill="#7ea3dd"/>
<circle cx="373.90" cy="430.86" r="2.0" fill="#7ea3dd"/>
<circle cx="372.85" cy="429.84" r="2.0" fill="#7ea3dd"/>
<rect x="381.47" y="396.90" width="6.35" height="46.00" fill="#fff" stroke="#f51a1a" stroke-width="1.15"/>
<line x1="384.65" y1="388.50" x2="384.65" y2="405.30" stroke="#f51a1a" stroke-width="1.0"/>
<line x1="382.35" y1="388.50" x2="386.95" y2="388.50" stroke="#f51a1a" stroke-width="1.0"/>
<line x1="382.35" y1="405.30" x2="386.95" y2="405.30" stroke="#f51a1a" stroke-width="1.0"/>
<circle cx="382.71" cy="384.00" r="2.0" fill="#f01010"/>
<circle cx="386.41" cy="388.70" r="2.0" fill="#f01010"/>
<circle cx="384.65" cy="393.40" r="2.0" fill="#f01010"/>
<circle cx="383.24" cy="395.66" r="2.0" fill="#f01010"/>
<circle cx="386.68" cy="399.04" r="2.0" fill="#f01010"/>
<circle cx="385.18" cy="402.80" r="2.0" fill="#f01010"/>
<line x1="378.40" y1="442.90" x2="378.40" y2="446.70" stroke="#222" stroke-width="1.1"/>
<text transform="translate(378.40 453.00) scale(1 1.2)" font-size="5.85" font-weight="bold" text-anchor="middle" fill="#1a1a1a">BALF</text>
<path d="M373.35 377.10 V373.80 H385.25 V377.10" fill="none" stroke="#444" stroke-width="0.85"/>
<text x="374.65" y="373.90" font-size="8.7" font-weight="bold" text-anchor="middle" fill="#2a2a2a" stroke="#2a2a2a" stroke-width="0.35">*</text>
<text x="379.30" y="373.90" font-size="8.7" font-weight="bold" text-anchor="middle" fill="#2a2a2a" stroke="#2a2a2a" stroke-width="0.35">*</text>
<text x="383.95" y="373.90" font-size="8.7" font-weight="bold" text-anchor="middle" fill="#2a2a2a" stroke="#2a2a2a" stroke-width="0.35">*</text>
<line x1="301.50" y1="368.80" x2="301.50" y2="443.60" stroke="#555" stroke-width="1.4"/>
<line x1="300.80" y1="442.90" x2="392.90" y2="442.90" stroke="#555" stroke-width="1.4"/>
<line x1="297.50" y1="442.90" x2="301.50" y2="442.90" stroke="#333" stroke-width="1.1"/>
<text x="296.50" y="444.90" font-size="5.6" font-weight="bold" text-anchor="end" fill="#1a1a1a">0</text>
<line x1="297.50" y1="418.40" x2="301.50" y2="418.40" stroke="#333" stroke-width="1.1"/>
<text x="296.50" y="420.40" font-size="5.6" font-weight="bold" text-anchor="end" fill="#1a1a1a">2</text>
<line x1="297.50" y1="393.90" x2="301.50" y2="393.90" stroke="#333" stroke-width="1.1"/>
<text x="296.50" y="395.90" font-size="5.6" font-weight="bold" text-anchor="end" fill="#1a1a1a">4</text>
<line x1="297.50" y1="369.40" x2="301.50" y2="369.40" stroke="#333" stroke-width="1.1"/>
<text x="296.50" y="371.40" font-size="5.6" font-weight="bold" text-anchor="end" fill="#1a1a1a">6</text>
<text x="280.50" y="406.25" font-size="5.7" font-weight="bold" text-anchor="middle" fill="#1a1a1a" transform="rotate(-90 280.50 406.25)" textLength="91.0" lengthAdjust="spacingAndGlyphs">Relative Protein expression</text>
<text x="288.00" y="406.45" font-size="5.7" font-weight="bold" text-anchor="middle" fill="#1a1a1a" transform="rotate(-90 288.00 406.45)" textLength="65.2" lengthAdjust="spacingAndGlyphs">IL-18 versus GAPDH</text>
<circle cx="456.80" cy="189.40" r="2.1" fill="#7ea3dd"/>
<circle cx="456.80" cy="200.20" r="2.1" fill="#f01010"/>
<text transform="translate(467.20 191.80) scale(1 1.28)" font-size="6.3" font-weight="normal" text-anchor="start" fill="#222">Sham</text>
<text transform="translate(467.20 202.60) scale(1 1.28)" font-size="6.3" font-weight="normal" text-anchor="start" fill="#222">CLP</text>
<rect x="460.47" y="287.00" width="6.65" height="6.50" fill="#fff" stroke="#3d68bd" stroke-width="1.15"/>
<circle cx="463.80" cy="285.70" r="2.0" fill="#7ea3dd"/>
<circle cx="462.24" cy="286.89" r="2.0" fill="#7ea3dd"/>
<circle cx="465.36" cy="286.72" r="2.0" fill="#7ea3dd"/>
<circle cx="461.23" cy="288.25" r="2.0" fill="#7ea3dd"/>
<circle cx="466.37" cy="288.42" r="2.0" fill="#7ea3dd"/>
<circle cx="462.86" cy="288.93" r="2.0" fill="#7ea3dd"/>
<circle cx="464.89" cy="288.76" r="2.0" fill="#7ea3dd"/>
<circle cx="463.80" cy="287.74" r="2.0" fill="#7ea3dd"/>
<rect x="472.18" y="267.40" width="6.75" height="26.10" fill="#fff" stroke="#f51a1a" stroke-width="1.15"/>
<line x1="475.55" y1="260.00" x2="475.55" y2="274.80" stroke="#f51a1a" stroke-width="1.0"/>
<line x1="473.25" y1="260.00" x2="477.85" y2="260.00" stroke="#f51a1a" stroke-width="1.0"/>
<line x1="473.25" y1="274.80" x2="477.85" y2="274.80" stroke="#f51a1a" stroke-width="1.0"/>
<circle cx="473.51" cy="259.20" r="2.0" fill="#f01010"/>
<circle cx="477.41" cy="262.60" r="2.0" fill="#f01010"/>
<circle cx="475.55" cy="266.00" r="2.0" fill="#f01010"/>
<circle cx="474.06" cy="267.63" r="2.0" fill="#f01010"/>
<circle cx="477.69" cy="270.08" r="2.0" fill="#f01010"/>
<circle cx="476.11" cy="272.80" r="2.0" fill="#f01010"/>
<line x1="469.50" y1="293.50" x2="469.50" y2="297.30" stroke="#222" stroke-width="1.1"/>
<text transform="translate(469.50 304.10) scale(1 1.2)" font-size="5.85" font-weight="bold" text-anchor="middle" fill="#1a1a1a">Blood</text>
<path d="M464.30 253.60 V250.30 H476.15 V253.60" fill="none" stroke="#444" stroke-width="0.85"/>
<text x="465.58" y="250.40" font-size="8.7" font-weight="bold" text-anchor="middle" fill="#2a2a2a" stroke="#2a2a2a" stroke-width="0.35">*</text>
<text x="470.23" y="250.40" font-size="8.7" font-weight="bold" text-anchor="middle" fill="#2a2a2a" stroke="#2a2a2a" stroke-width="0.35">*</text>
<text x="474.88" y="250.40" font-size="8.7" font-weight="bold" text-anchor="middle" fill="#2a2a2a" stroke="#2a2a2a" stroke-width="0.35">*</text>
<rect x="492.27" y="287.00" width="6.65" height="6.50" fill="#fff" stroke="#3d68bd" stroke-width="1.15"/>
<circle cx="495.60" cy="285.70" r="2.0" fill="#7ea3dd"/>
<circle cx="494.04" cy="286.89" r="2.0" fill="#7ea3dd"/>
<circle cx="497.16" cy="286.72" r="2.0" fill="#7ea3dd"/>
<circle cx="493.03" cy="288.25" r="2.0" fill="#7ea3dd"/>
<circle cx="498.17" cy="288.42" r="2.0" fill="#7ea3dd"/>
<circle cx="494.66" cy="288.93" r="2.0" fill="#7ea3dd"/>
<circle cx="496.69" cy="288.76" r="2.0" fill="#7ea3dd"/>
<circle cx="495.60" cy="287.74" r="2.0" fill="#7ea3dd"/>
<rect x="504.68" y="269.30" width="6.25" height="24.20" fill="#fff" stroke="#f51a1a" stroke-width="1.15"/>
<line x1="507.80" y1="266.00" x2="507.80" y2="272.60" stroke="#f51a1a" stroke-width="1.0"/>
<line x1="505.50" y1="266.00" x2="510.10" y2="266.00" stroke="#f51a1a" stroke-width="1.0"/>
<line x1="505.50" y1="272.60" x2="510.10" y2="272.60" stroke="#f51a1a" stroke-width="1.0"/>
<circle cx="505.88" cy="265.40" r="2.0" fill="#f01010"/>
<circle cx="509.54" cy="266.88" r="2.0" fill="#f01010"/>
<circle cx="507.80" cy="268.35" r="2.0" fill="#f01010"/>
<circle cx="506.41" cy="269.06" r="2.0" fill="#f01010"/>
<circle cx="509.80" cy="270.12" r="2.0" fill="#f01010"/>
<circle cx="508.32" cy="271.30" r="2.0" fill="#f01010"/>
<line x1="501.30" y1="293.50" x2="501.30" y2="297.30" stroke="#222" stroke-width="1.1"/>
<text transform="translate(501.30 304.10) scale(1 1.2)" font-size="5.85" font-weight="bold" text-anchor="middle" fill="#1a1a1a">Spleen</text>
<path d="M496.10 259.90 V256.60 H508.40 V259.90" fill="none" stroke="#444" stroke-width="0.85"/>
<text x="497.60" y="256.70" font-size="8.7" font-weight="bold" text-anchor="middle" fill="#2a2a2a" stroke="#2a2a2a" stroke-width="0.35">*</text>
<text x="502.25" y="256.70" font-size="8.7" font-weight="bold" text-anchor="middle" fill="#2a2a2a" stroke="#2a2a2a" stroke-width="0.35">*</text>
<text x="506.90" y="256.70" font-size="8.7" font-weight="bold" text-anchor="middle" fill="#2a2a2a" stroke="#2a2a2a" stroke-width="0.35">*</text>
<rect x="524.28" y="287.00" width="6.75" height="6.50" fill="#fff" stroke="#3d68bd" stroke-width="1.15"/>
<circle cx="527.65" cy="285.70" r="2.0" fill="#7ea3dd"/>
<circle cx="526.07" cy="286.89" r="2.0" fill="#7ea3dd"/>
<circle cx="529.23" cy="286.72" r="2.0" fill="#7ea3dd"/>
<circle cx="525.04" cy="288.25" r="2.0" fill="#7ea3dd"/>
<circle cx="530.26" cy="288.42" r="2.0" fill="#7ea3dd"/>
<circle cx="526.70" cy="288.93" r="2.0" fill="#7ea3dd"/>
<circle cx="528.76" cy="288.76" r="2.0" fill="#7ea3dd"/>
<circle cx="527.65" cy="287.74" r="2.0" fill="#7ea3dd"/>
<rect x="536.08" y="242.40" width="6.75" height="51.10" fill="#fff" stroke="#f51a1a" stroke-width="1.15"/>
<line x1="539.45" y1="235.50" x2="539.45" y2="249.30" stroke="#f51a1a" stroke-width="1.0"/>
<line x1="537.15" y1="235.50" x2="541.75" y2="235.50" stroke="#f51a1a" stroke-width="1.0"/>
<line x1="537.15" y1="249.30" x2="541.75" y2="249.30" stroke="#f51a1a" stroke-width="1.0"/>
<circle cx="537.41" cy="231.30" r="2.0" fill="#f01010"/>
<circle cx="541.31" cy="236.68" r="2.0" fill="#f01010"/>
<circle cx="539.45" cy="242.05" r="2.0" fill="#f01010"/>
<circle cx="537.96" cy="244.63" r="2.0" fill="#f01010"/>
<circle cx="541.59" cy="248.50" r="2.0" fill="#f01010"/>
<circle cx="540.01" cy="252.80" r="2.0" fill="#f01010"/>
<line x1="533.40" y1="293.50" x2="533.40" y2="297.30" stroke="#222" stroke-width="1.1"/>
<text transform="translate(533.40 304.10) scale(1 1.2)" font-size="5.85" font-weight="bold" text-anchor="middle" fill="#1a1a1a">BALF</text>
<path d="M528.15 225.10 V221.80 H540.05 V225.10" fill="none" stroke="#444" stroke-width="0.85"/>
<text x="529.45" y="221.90" font-size="8.7" font-weight="bold" text-anchor="middle" fill="#2a2a2a" stroke="#2a2a2a" stroke-width="0.35">*</text>
<text x="534.10" y="221.90" font-size="8.7" font-weight="bold" text-anchor="middle" fill="#2a2a2a" stroke="#2a2a2a" stroke-width="0.35">*</text>
<text x="538.75" y="221.90" font-size="8.7" font-weight="bold" text-anchor="middle" fill="#2a2a2a" stroke="#2a2a2a" stroke-width="0.35">*</text>
<line x1="455.90" y1="220.20" x2="455.90" y2="294.20" stroke="#555" stroke-width="1.4"/>
<line x1="455.20" y1="293.50" x2="547.00" y2="293.50" stroke="#555" stroke-width="1.4"/>
<line x1="451.90" y1="293.50" x2="455.90" y2="293.50" stroke="#333" stroke-width="1.1"/>
<text x="450.90" y="295.50" font-size="5.6" font-weight="bold" text-anchor="end" fill="#1a1a1a">0</text>
<line x1="451.90" y1="278.96" x2="455.90" y2="278.96" stroke="#333" stroke-width="1.1"/>
<text x="450.90" y="280.96" font-size="5.6" font-weight="bold" text-anchor="end" fill="#1a1a1a">2</text>
<line x1="451.90" y1="264.42" x2="455.90" y2="264.42" stroke="#333" stroke-width="1.1"/>
<text x="450.90" y="266.42" font-size="5.6" font-weight="bold" text-anchor="end" fill="#1a1a1a">4</text>
<line x1="451.90" y1="249.88" x2="455.90" y2="249.88" stroke="#333" stroke-width="1.1"/>
<text x="450.90" y="251.88" font-size="5.6" font-weight="bold" text-anchor="end" fill="#1a1a1a">6</text>
<line x1="451.90" y1="235.34" x2="455.90" y2="235.34" stroke="#333" stroke-width="1.1"/>
<text x="450.90" y="237.34" font-size="5.6" font-weight="bold" text-anchor="end" fill="#1a1a1a">8</text>
<line x1="451.90" y1="220.80" x2="455.90" y2="220.80" stroke="#333" stroke-width="1.1"/>
<text x="450.90" y="222.80" font-size="5.6" font-weight="bold" text-anchor="end" fill="#1a1a1a">10</text>
<text x="439.60" y="257.40" font-size="5.7" font-weight="bold" text-anchor="middle" fill="#1a1a1a" transform="rotate(-90 439.60 257.40)" textLength="87.3" lengthAdjust="spacingAndGlyphs">Relative Caspase 1 activity</text>
<circle cx="584.50" cy="189.90" r="2.1" fill="#7ea3dd"/>
<circle cx="584.50" cy="200.60" r="2.1" fill="#f01010"/>
<text transform="translate(594.50 192.30) scale(1 1.28)" font-size="6.3" font-weight="normal" text-anchor="start" fill="#222">Sham</text>
<text transform="translate(594.50 203.00) scale(1 1.28)" font-size="6.3" font-weight="normal" text-anchor="start" fill="#222">CLP</text>
<rect x="588.08" y="287.00" width="6.65" height="6.50" fill="#fff" stroke="#3d68bd" stroke-width="1.15"/>
<circle cx="591.40" cy="286.30" r="2.0" fill="#7ea3dd"/>
<circle cx="589.84" cy="287.49" r="2.0" fill="#7ea3dd"/>
<circle cx="592.96" cy="287.32" r="2.0" fill="#7ea3dd"/>
<circle cx="588.83" cy="288.85" r="2.0" fill="#7ea3dd"/>
<circle cx="593.97" cy="289.02" r="2.0" fill="#7ea3dd"/>
<circle cx="590.46" cy="289.53" r="2.0" fill="#7ea3dd"/>
<circle cx="592.49" cy="289.36" r="2.0" fill="#7ea3dd"/>
<circle cx="591.40" cy="288.34" r="2.0" fill="#7ea3dd"/>
<rect x="599.88" y="270.90" width="6.65" height="22.60" fill="#fff" stroke="#f51a1a" stroke-width="1.15"/>
<line x1="603.20" y1="268.00" x2="603.20" y2="273.80" stroke="#f51a1a" stroke-width="1.0"/>
<line x1="600.90" y1="268.00" x2="605.50" y2="268.00" stroke="#f51a1a" stroke-width="1.0"/>
<line x1="600.90" y1="273.80" x2="605.50" y2="273.80" stroke="#f51a1a" stroke-width="1.0"/>
<circle cx="601.18" cy="269.00" r="2.0" fill="#f01010"/>
<circle cx="605.04" cy="270.55" r="2.0" fill="#f01010"/>
<circle cx="603.20" cy="272.10" r="2.0" fill="#f01010"/>
<circle cx="601.73" cy="272.84" r="2.0" fill="#f01010"/>
<circle cx="605.31" cy="273.96" r="2.0" fill="#f01010"/>
<circle cx="603.75" cy="275.20" r="2.0" fill="#f01010"/>
<line x1="597.00" y1="293.50" x2="597.00" y2="297.30" stroke="#222" stroke-width="1.1"/>
<text transform="translate(597.00 303.80) scale(1 1.2)" font-size="5.85" font-weight="bold" text-anchor="middle" fill="#1a1a1a">Blood</text>
<path d="M591.90 262.40 V259.10 H603.80 V262.40" fill="none" stroke="#444" stroke-width="0.85"/>
<text x="593.20" y="259.20" font-size="8.7" font-weight="bold" text-anchor="middle" fill="#2a2a2a" stroke="#2a2a2a" stroke-width="0.35">*</text>
<text x="597.85" y="259.20" font-size="8.7" font-weight="bold" text-anchor="middle" fill="#2a2a2a" stroke="#2a2a2a" stroke-width="0.35">*</text>
<text x="602.50" y="259.20" font-size="8.7" font-weight="bold" text-anchor="middle" fill="#2a2a2a" stroke="#2a2a2a" stroke-width="0.35">*</text>
<rect x="619.88" y="287.00" width="6.75" height="6.50" fill="#fff" stroke="#3d68bd" stroke-width="1.15"/>
<circle cx="623.25" cy="283.70" r="2.0" fill="#7ea3dd"/>
<circle cx="621.67" cy="285.42" r="2.0" fill="#7ea3dd"/>
<circle cx="624.83" cy="285.17" r="2.0" fill="#7ea3dd"/>
<circle cx="620.64" cy="287.38" r="2.0" fill="#7ea3dd"/>
<circle cx="625.86" cy="287.62" r="2.0" fill="#7ea3dd"/>
<circle cx="622.30" cy="288.36" r="2.0" fill="#7ea3dd"/>
<circle cx="624.36" cy="288.11" r="2.0" fill="#7ea3dd"/>
<circle cx="623.25" cy="286.64" r="2.0" fill="#7ea3dd"/>
<rect x="632.08" y="255.60" width="6.25" height="37.90" fill="#fff" stroke="#f51a1a" stroke-width="1.15"/>
<line x1="635.20" y1="251.00" x2="635.20" y2="260.20" stroke="#f51a1a" stroke-width="1.0"/>
<line x1="632.90" y1="251.00" x2="637.50" y2="251.00" stroke="#f51a1a" stroke-width="1.0"/>
<line x1="632.90" y1="260.20" x2="637.50" y2="260.20" stroke="#f51a1a" stroke-width="1.0"/>
<circle cx="633.28" cy="251.30" r="2.0" fill="#f01010"/>
<circle cx="636.94" cy="253.73" r="2.0" fill="#f01010"/>
<circle cx="635.20" cy="256.15" r="2.0" fill="#f01010"/>
<circle cx="633.81" cy="257.31" r="2.0" fill="#f01010"/>
<circle cx="637.20" cy="259.06" r="2.0" fill="#f01010"/>
<circle cx="635.72" cy="261.00" r="2.0" fill="#f01010"/>
<line x1="629.70" y1="293.50" x2="629.70" y2="297.30" stroke="#222" stroke-width="1.1"/>
<text transform="translate(629.70 303.80) scale(1 1.2)" font-size="5.85" font-weight="bold" text-anchor="middle" fill="#1a1a1a">Spleen</text>
<path d="M623.75 245.10 V241.80 H635.80 V245.10" fill="none" stroke="#444" stroke-width="0.85"/>
<text x="625.13" y="241.90" font-size="8.7" font-weight="bold" text-anchor="middle" fill="#2a2a2a" stroke="#2a2a2a" stroke-width="0.35">*</text>
<text x="629.78" y="241.90" font-size="8.7" font-weight="bold" text-anchor="middle" fill="#2a2a2a" stroke="#2a2a2a" stroke-width="0.35">*</text>
<text x="634.43" y="241.90" font-size="8.7" font-weight="bold" text-anchor="middle" fill="#2a2a2a" stroke="#2a2a2a" stroke-width="0.35">*</text>
<rect x="651.68" y="287.00" width="6.75" height="6.50" fill="#fff" stroke="#3d68bd" stroke-width="1.15"/>
<circle cx="655.05" cy="286.50" r="2.0" fill="#7ea3dd"/>
<circle cx="653.47" cy="287.69" r="2.0" fill="#7ea3dd"/>
<circle cx="656.63" cy="287.52" r="2.0" fill="#7ea3dd"/>
<circle cx="652.44" cy="289.05" r="2.0" fill="#7ea3dd"/>
<circle cx="657.66" cy="289.22" r="2.0" fill="#7ea3dd"/>
<circle cx="654.10" cy="289.73" r="2.0" fill="#7ea3dd"/>
<circle cx="656.16" cy="289.56" r="2.0" fill="#7ea3dd"/>
<circle cx="655.05" cy="288.54" r="2.0" fill="#7ea3dd"/>
<rect x="663.68" y="245.40" width="6.55" height="48.10" fill="#fff" stroke="#f51a1a" stroke-width="1.15"/>
<line x1="666.95" y1="235.50" x2="666.95" y2="255.30" stroke="#f51a1a" stroke-width="1.0"/>
<line x1="664.65" y1="235.50" x2="669.25" y2="235.50" stroke="#f51a1a" stroke-width="1.0"/>
<line x1="664.65" y1="255.30" x2="669.25" y2="255.30" stroke="#f51a1a" stroke-width="1.0"/>
<circle cx="664.96" cy="232.60" r="2.0" fill="#f01010"/>
<circle cx="668.76" cy="238.15" r="2.0" fill="#f01010"/>
<circle cx="666.95" cy="243.70" r="2.0" fill="#f01010"/>
<circle cx="665.50" cy="246.36" r="2.0" fill="#f01010"/>
<circle cx="669.03" cy="250.36" r="2.0" fill="#f01010"/>
<circle cx="667.49" cy="254.80" r="2.0" fill="#f01010"/>
<line x1="661.20" y1="293.50" x2="661.20" y2="297.30" stroke="#222" stroke-width="1.1"/>
<text transform="translate(661.20 303.80) scale(1 1.2)" font-size="5.85" font-weight="bold" text-anchor="middle" fill="#1a1a1a">BALF</text>
<path d="M655.55 226.70 V223.40 H667.55 V226.70" fill="none" stroke="#444" stroke-width="0.85"/>
<text x="656.90" y="223.50" font-size="8.7" font-weight="bold" text-anchor="middle" fill="#2a2a2a" stroke="#2a2a2a" stroke-width="0.35">*</text>
<text x="661.55" y="223.50" font-size="8.7" font-weight="bold" text-anchor="middle" fill="#2a2a2a" stroke="#2a2a2a" stroke-width="0.35">*</text>
<text x="666.20" y="223.50" font-size="8.7" font-weight="bold" text-anchor="middle" fill="#2a2a2a" stroke="#2a2a2a" stroke-width="0.35">*</text>
<line x1="583.50" y1="220.20" x2="583.50" y2="294.20" stroke="#555" stroke-width="1.4"/>
<line x1="582.80" y1="293.50" x2="675.00" y2="293.50" stroke="#555" stroke-width="1.4"/>
<line x1="579.50" y1="293.50" x2="583.50" y2="293.50" stroke="#333" stroke-width="1.1"/>
<text x="578.50" y="295.50" font-size="5.6" font-weight="bold" text-anchor="end" fill="#1a1a1a">0</text>
<line x1="579.50" y1="278.96" x2="583.50" y2="278.96" stroke="#333" stroke-width="1.1"/>
<text x="578.50" y="280.96" font-size="5.6" font-weight="bold" text-anchor="end" fill="#1a1a1a">2</text>
<line x1="579.50" y1="264.42" x2="583.50" y2="264.42" stroke="#333" stroke-width="1.1"/>
<text x="578.50" y="266.42" font-size="5.6" font-weight="bold" text-anchor="end" fill="#1a1a1a">4</text>
<line x1="579.50" y1="249.88" x2="583.50" y2="249.88" stroke="#333" stroke-width="1.1"/>
<text x="578.50" y="251.88" font-size="5.6" font-weight="bold" text-anchor="end" fill="#1a1a1a">6</text>
<line x1="579.50" y1="235.34" x2="583.50" y2="235.34" stroke="#333" stroke-width="1.1"/>
<text x="578.50" y="237.34" font-size="5.6" font-weight="bold" text-anchor="end" fill="#1a1a1a">8</text>
<line x1="579.50" y1="220.80" x2="583.50" y2="220.80" stroke="#333" stroke-width="1.1"/>
<text x="578.50" y="222.80" font-size="5.6" font-weight="bold" text-anchor="end" fill="#1a1a1a">10</text>
<text x="567.10" y="257.55" font-size="5.7" font-weight="bold" text-anchor="middle" fill="#1a1a1a" transform="rotate(-90 567.10 257.55)" textLength="87.0" lengthAdjust="spacingAndGlyphs">Relative Caspase 4 activity</text>
<circle cx="455.80" cy="336.80" r="2.1" fill="#7ea3dd"/>
<circle cx="455.80" cy="348.20" r="2.1" fill="#f01010"/>
<text transform="translate(465.80 339.20) scale(1 1.28)" font-size="6.3" font-weight="normal" text-anchor="start" fill="#222">Sham</text>
<text transform="translate(465.80 350.60) scale(1 1.28)" font-size="6.3" font-weight="normal" text-anchor="start" fill="#222">CLP</text>
<rect x="459.38" y="433.50" width="6.75" height="7.40" fill="#fff" stroke="#3d68bd" stroke-width="1.15"/>
<circle cx="462.75" cy="434.00" r="2.0" fill="#7ea3dd"/>
<circle cx="461.17" cy="435.19" r="2.0" fill="#7ea3dd"/>
<circle cx="464.33" cy="435.02" r="2.0" fill="#7ea3dd"/>
<circle cx="460.14" cy="436.55" r="2.0" fill="#7ea3dd"/>
<circle cx="465.36" cy="436.72" r="2.0" fill="#7ea3dd"/>
<circle cx="461.80" cy="437.23" r="2.0" fill="#7ea3dd"/>
<circle cx="463.86" cy="437.06" r="2.0" fill="#7ea3dd"/>
<circle cx="462.75" cy="436.04" r="2.0" fill="#7ea3dd"/>
<rect x="471.18" y="402.70" width="6.75" height="38.20" fill="#fff" stroke="#f51a1a" stroke-width="1.15"/>
<line x1="474.55" y1="398.00" x2="474.55" y2="407.40" stroke="#f51a1a" stroke-width="1.0"/>
<line x1="472.25" y1="398.00" x2="476.85" y2="398.00" stroke="#f51a1a" stroke-width="1.0"/>
<line x1="472.25" y1="407.40" x2="476.85" y2="407.40" stroke="#f51a1a" stroke-width="1.0"/>
<circle cx="472.51" cy="396.90" r="2.0" fill="#f01010"/>
<circle cx="476.41" cy="398.80" r="2.0" fill="#f01010"/>
<circle cx="474.55" cy="400.70" r="2.0" fill="#f01010"/>
<circle cx="473.06" cy="401.61" r="2.0" fill="#f01010"/>
<circle cx="476.69" cy="402.98" r="2.0" fill="#f01010"/>
<circle cx="475.11" cy="404.50" r="2.0" fill="#f01010"/>
<line x1="468.30" y1="440.90" x2="468.30" y2="444.70" stroke="#222" stroke-width="1.1"/>
<text transform="translate(468.30 451.70) scale(1 1.2)" font-size="5.85" font-weight="bold" text-anchor="middle" fill="#1a1a1a">Blood</text>
<path d="M463.25 387.80 V384.50 H475.15 V387.80" fill="none" stroke="#444" stroke-width="0.85"/>
<text x="464.55" y="384.60" font-size="8.7" font-weight="bold" text-anchor="middle" fill="#2a2a2a" stroke="#2a2a2a" stroke-width="0.35">*</text>
<text x="469.20" y="384.60" font-size="8.7" font-weight="bold" text-anchor="middle" fill="#2a2a2a" stroke="#2a2a2a" stroke-width="0.35">*</text>
<text x="473.85" y="384.60" font-size="8.7" font-weight="bold" text-anchor="middle" fill="#2a2a2a" stroke="#2a2a2a" stroke-width="0.35">*</text>
<rect x="491.27" y="433.50" width="6.65" height="7.40" fill="#fff" stroke="#3d68bd" stroke-width="1.15"/>
<circle cx="494.60" cy="434.00" r="2.0" fill="#7ea3dd"/>
<circle cx="493.04" cy="435.19" r="2.0" fill="#7ea3dd"/>
<circle cx="496.16" cy="435.02" r="2.0" fill="#7ea3dd"/>
<circle cx="492.03" cy="436.55" r="2.0" fill="#7ea3dd"/>
<circle cx="497.17" cy="436.72" r="2.0" fill="#7ea3dd"/>
<circle cx="493.66" cy="437.23" r="2.0" fill="#7ea3dd"/>
<circle cx="495.69" cy="437.06" r="2.0" fill="#7ea3dd"/>
<circle cx="494.60" cy="436.04" r="2.0" fill="#7ea3dd"/>
<rect x="503.27" y="410.60" width="6.45" height="30.30" fill="#fff" stroke="#f51a1a" stroke-width="1.15"/>
<line x1="506.50" y1="403.00" x2="506.50" y2="418.20" stroke="#f51a1a" stroke-width="1.0"/>
<line x1="504.20" y1="403.00" x2="508.80" y2="403.00" stroke="#f51a1a" stroke-width="1.0"/>
<line x1="504.20" y1="418.20" x2="508.80" y2="418.20" stroke="#f51a1a" stroke-width="1.0"/>
<circle cx="504.53" cy="402.80" r="2.0" fill="#f01010"/>
<circle cx="508.29" cy="405.73" r="2.0" fill="#f01010"/>
<circle cx="506.50" cy="408.65" r="2.0" fill="#f01010"/>
<circle cx="505.07" cy="410.05" r="2.0" fill="#f01010"/>
<circle cx="508.56" cy="412.16" r="2.0" fill="#f01010"/>
<circle cx="507.04" cy="414.50" r="2.0" fill="#f01010"/>
<line x1="499.70" y1="440.90" x2="499.70" y2="444.70" stroke="#222" stroke-width="1.1"/>
<text transform="translate(499.70 451.70) scale(1 1.2)" font-size="5.85" font-weight="bold" text-anchor="middle" fill="#1a1a1a">Spleen</text>
<path d="M495.10 397.00 V393.70 H507.10 V397.00" fill="none" stroke="#444" stroke-width="0.85"/>
<text x="496.45" y="393.80" font-size="8.7" font-weight="bold" text-anchor="middle" fill="#2a2a2a" stroke="#2a2a2a" stroke-width="0.35">*</text>
<text x="501.10" y="393.80" font-size="8.7" font-weight="bold" text-anchor="middle" fill="#2a2a2a" stroke="#2a2a2a" stroke-width="0.35">*</text>
<text x="505.75" y="393.80" font-size="8.7" font-weight="bold" text-anchor="middle" fill="#2a2a2a" stroke="#2a2a2a" stroke-width="0.35">*</text>
<rect x="522.88" y="433.50" width="6.75" height="7.40" fill="#fff" stroke="#3d68bd" stroke-width="1.15"/>
<circle cx="526.25" cy="432.60" r="2.0" fill="#7ea3dd"/>
<circle cx="524.67" cy="433.79" r="2.0" fill="#7ea3dd"/>
<circle cx="527.83" cy="433.62" r="2.0" fill="#7ea3dd"/>
<circle cx="523.64" cy="435.15" r="2.0" fill="#7ea3dd"/>
<circle cx="528.86" cy="435.32" r="2.0" fill="#7ea3dd"/>
<circle cx="525.30" cy="435.83" r="2.0" fill="#7ea3dd"/>
<circle cx="527.36" cy="435.66" r="2.0" fill="#7ea3dd"/>
<circle cx="526.25" cy="434.64" r="2.0" fill="#7ea3dd"/>
<rect x="535.08" y="391.90" width="6.65" height="49.00" fill="#fff" stroke="#f51a1a" stroke-width="1.15"/>
<line x1="538.40" y1="383.50" x2="538.40" y2="400.30" stroke="#f51a1a" stroke-width="1.0"/>
<line x1="536.10" y1="383.50" x2="540.70" y2="383.50" stroke="#f51a1a" stroke-width="1.0"/>
<line x1="536.10" y1="400.30" x2="540.70" y2="400.30" stroke="#f51a1a" stroke-width="1.0"/>
<circle cx="536.38" cy="380.20" r="2.0" fill="#f01010"/>
<circle cx="540.24" cy="384.60" r="2.0" fill="#f01010"/>
<circle cx="538.40" cy="389.00" r="2.0" fill="#f01010"/>
<circle cx="536.93" cy="391.11" r="2.0" fill="#f01010"/>
<circle cx="540.51" cy="394.28" r="2.0" fill="#f01010"/>
<circle cx="538.95" cy="397.80" r="2.0" fill="#f01010"/>
<line x1="531.40" y1="440.90" x2="531.40" y2="444.70" stroke="#222" stroke-width="1.1"/>
<text transform="translate(531.40 451.70) scale(1 1.2)" font-size="5.85" font-weight="bold" text-anchor="middle" fill="#1a1a1a">BALF</text>
<path d="M526.75 373.60 V370.30 H539.00 V373.60" fill="none" stroke="#444" stroke-width="0.85"/>
<text x="528.23" y="370.40" font-size="8.7" font-weight="bold" text-anchor="middle" fill="#2a2a2a" stroke="#2a2a2a" stroke-width="0.35">*</text>
<text x="532.88" y="370.40" font-size="8.7" font-weight="bold" text-anchor="middle" fill="#2a2a2a" stroke="#2a2a2a" stroke-width="0.35">*</text>
<text x="537.52" y="370.40" font-size="8.7" font-weight="bold" text-anchor="middle" fill="#2a2a2a" stroke="#2a2a2a" stroke-width="0.35">*</text>
<line x1="454.30" y1="367.20" x2="454.30" y2="441.60" stroke="#555" stroke-width="1.4"/>
<line x1="453.60" y1="440.90" x2="544.30" y2="440.90" stroke="#555" stroke-width="1.4"/>
<line x1="450.30" y1="440.90" x2="454.30" y2="440.90" stroke="#333" stroke-width="1.1"/>
<text x="449.30" y="442.90" font-size="5.6" font-weight="bold" text-anchor="end" fill="#1a1a1a">0</text>
<line x1="450.30" y1="426.28" x2="454.30" y2="426.28" stroke="#333" stroke-width="1.1"/>
<text x="449.30" y="428.28" font-size="5.6" font-weight="bold" text-anchor="end" fill="#1a1a1a">20</text>
<line x1="450.30" y1="411.66" x2="454.30" y2="411.66" stroke="#333" stroke-width="1.1"/>
<text x="449.30" y="413.66" font-size="5.6" font-weight="bold" text-anchor="end" fill="#1a1a1a">40</text>
<line x1="450.30" y1="397.04" x2="454.30" y2="397.04" stroke="#333" stroke-width="1.1"/>
<text x="449.30" y="399.04" font-size="5.6" font-weight="bold" text-anchor="end" fill="#1a1a1a">60</text>
<line x1="450.30" y1="382.42" x2="454.30" y2="382.42" stroke="#333" stroke-width="1.1"/>
<text x="449.30" y="384.42" font-size="5.6" font-weight="bold" text-anchor="end" fill="#1a1a1a">80</text>
<line x1="450.30" y1="367.80" x2="454.30" y2="367.80" stroke="#333" stroke-width="1.1"/>
<text x="449.30" y="369.80" font-size="5.6" font-weight="bold" text-anchor="end" fill="#1a1a1a">100</text>
<text x="427.00" y="404.35" font-size="5.7" font-weight="bold" text-anchor="middle" fill="#1a1a1a" transform="rotate(-90 427.00 404.35)" textLength="89.4" lengthAdjust="spacingAndGlyphs">IL-1β Protein Concentration</text>
<text x="435.50" y="404.55" font-size="5.7" font-weight="bold" text-anchor="middle" fill="#1a1a1a" transform="rotate(-90 435.50 404.55)" textLength="24.4" lengthAdjust="spacingAndGlyphs">(pg/mL)</text>
<circle cx="593.90" cy="335.90" r="2.1" fill="#7ea3dd"/>
<circle cx="593.90" cy="347.20" r="2.1" fill="#f01010"/>
<text transform="translate(603.80 338.30) scale(1 1.28)" font-size="6.3" font-weight="normal" text-anchor="start" fill="#222">Sham</text>
<text transform="translate(603.80 349.60) scale(1 1.28)" font-size="6.3" font-weight="normal" text-anchor="start" fill="#222">CLP</text>
<rect x="597.78" y="432.00" width="6.25" height="7.90" fill="#fff" stroke="#3d68bd" stroke-width="1.15"/>
<circle cx="600.90" cy="431.70" r="2.0" fill="#7ea3dd"/>
<circle cx="599.42" cy="432.89" r="2.0" fill="#7ea3dd"/>
<circle cx="602.38" cy="432.72" r="2.0" fill="#7ea3dd"/>
<circle cx="598.46" cy="434.25" r="2.0" fill="#7ea3dd"/>
<circle cx="603.34" cy="434.42" r="2.0" fill="#7ea3dd"/>
<circle cx="600.01" cy="434.93" r="2.0" fill="#7ea3dd"/>
<circle cx="601.94" cy="434.76" r="2.0" fill="#7ea3dd"/>
<circle cx="600.90" cy="433.74" r="2.0" fill="#7ea3dd"/>
<rect x="609.18" y="423.40" width="6.65" height="16.50" fill="#fff" stroke="#f51a1a" stroke-width="1.15"/>
<line x1="612.50" y1="421.00" x2="612.50" y2="425.80" stroke="#f51a1a" stroke-width="1.0"/>
<line x1="610.20" y1="421.00" x2="614.80" y2="421.00" stroke="#f51a1a" stroke-width="1.0"/>
<line x1="610.20" y1="425.80" x2="614.80" y2="425.80" stroke="#f51a1a" stroke-width="1.0"/>
<circle cx="610.48" cy="421.80" r="2.0" fill="#f01010"/>
<circle cx="614.34" cy="423.27" r="2.0" fill="#f01010"/>
<circle cx="612.50" cy="424.75" r="2.0" fill="#f01010"/>
<circle cx="611.03" cy="425.46" r="2.0" fill="#f01010"/>
<circle cx="614.61" cy="426.52" r="2.0" fill="#f01010"/>
<circle cx="613.05" cy="427.70" r="2.0" fill="#f01010"/>
<line x1="606.40" y1="439.90" x2="606.40" y2="443.70" stroke="#222" stroke-width="1.1"/>
<text transform="translate(606.40 450.40) scale(1 1.2)" font-size="5.85" font-weight="bold" text-anchor="middle" fill="#1a1a1a">Blood</text>
<path d="M601.40 416.80 V413.50 H613.10 V416.80" fill="none" stroke="#444" stroke-width="0.85"/>
<text x="602.60" y="413.60" font-size="8.7" font-weight="bold" text-anchor="middle" fill="#2a2a2a" stroke="#2a2a2a" stroke-width="0.35">*</text>
<text x="607.25" y="413.60" font-size="8.7" font-weight="bold" text-anchor="middle" fill="#2a2a2a" stroke="#2a2a2a" stroke-width="0.35">*</text>
<text x="611.90" y="413.60" font-size="8.7" font-weight="bold" text-anchor="middle" fill="#2a2a2a" stroke="#2a2a2a" stroke-width="0.35">*</text>
<rect x="629.18" y="432.00" width="6.75" height="7.90" fill="#fff" stroke="#3d68bd" stroke-width="1.15"/>
<circle cx="632.55" cy="432.20" r="2.0" fill="#7ea3dd"/>
<circle cx="630.97" cy="433.39" r="2.0" fill="#7ea3dd"/>
<circle cx="634.13" cy="433.22" r="2.0" fill="#7ea3dd"/>
<circle cx="629.94" cy="434.75" r="2.0" fill="#7ea3dd"/>
<circle cx="635.16" cy="434.92" r="2.0" fill="#7ea3dd"/>
<circle cx="631.60" cy="435.43" r="2.0" fill="#7ea3dd"/>
<circle cx="633.66" cy="435.26" r="2.0" fill="#7ea3dd"/>
<circle cx="632.55" cy="434.24" r="2.0" fill="#7ea3dd"/>
<rect x="641.18" y="406.50" width="6.75" height="33.40" fill="#fff" stroke="#f51a1a" stroke-width="1.15"/>
<line x1="644.55" y1="396.30" x2="644.55" y2="416.70" stroke="#f51a1a" stroke-width="1.0"/>
<line x1="642.25" y1="396.30" x2="646.85" y2="396.30" stroke="#f51a1a" stroke-width="1.0"/>
<line x1="642.25" y1="416.70" x2="646.85" y2="416.70" stroke="#f51a1a" stroke-width="1.0"/>
<circle cx="642.51" cy="390.80" r="2.0" fill="#f01010"/>
<circle cx="646.41" cy="396.57" r="2.0" fill="#f01010"/>
<circle cx="644.55" cy="402.35" r="2.0" fill="#f01010"/>
<circle cx="643.06" cy="405.12" r="2.0" fill="#f01010"/>
<circle cx="646.69" cy="409.28" r="2.0" fill="#f01010"/>
<circle cx="645.11" cy="413.90" r="2.0" fill="#f01010"/>
<line x1="638.80" y1="439.90" x2="638.80" y2="443.70" stroke="#222" stroke-width="1.1"/>
<text transform="translate(638.80 450.40) scale(1 1.2)" font-size="5.85" font-weight="bold" text-anchor="middle" fill="#1a1a1a">Spleen</text>
<path d="M633.05 383.40 V380.10 H645.15 V383.40" fill="none" stroke="#444" stroke-width="0.85"/>
<text x="634.45" y="380.20" font-size="8.7" font-weight="bold" text-anchor="middle" fill="#2a2a2a" stroke="#2a2a2a" stroke-width="0.35">*</text>
<text x="639.10" y="380.20" font-size="8.7" font-weight="bold" text-anchor="middle" fill="#2a2a2a" stroke="#2a2a2a" stroke-width="0.35">*</text>
<text x="643.75" y="380.20" font-size="8.7" font-weight="bold" text-anchor="middle" fill="#2a2a2a" stroke="#2a2a2a" stroke-width="0.35">*</text>
<rect x="661.18" y="432.00" width="6.75" height="7.90" fill="#fff" stroke="#3d68bd" stroke-width="1.15"/>
<circle cx="664.55" cy="431.30" r="2.0" fill="#7ea3dd"/>
<circle cx="662.97" cy="432.49" r="2.0" fill="#7ea3dd"/>
<circle cx="666.13" cy="432.32" r="2.0" fill="#7ea3dd"/>
<circle cx="661.94" cy="433.85" r="2.0" fill="#7ea3dd"/>
<circle cx="667.16" cy="434.02" r="2.0" fill="#7ea3dd"/>
<circle cx="663.60" cy="434.53" r="2.0" fill="#7ea3dd"/>
<circle cx="665.66" cy="434.36" r="2.0" fill="#7ea3dd"/>
<circle cx="664.55" cy="433.34" r="2.0" fill="#7ea3dd"/>
<rect x="672.98" y="380.10" width="7.15" height="59.80" fill="#fff" stroke="#f51a1a" stroke-width="1.15"/>
<line x1="676.55" y1="374.00" x2="676.55" y2="386.20" stroke="#f51a1a" stroke-width="1.0"/>
<line x1="674.25" y1="374.00" x2="678.85" y2="374.00" stroke="#f51a1a" stroke-width="1.0"/>
<line x1="674.25" y1="386.20" x2="678.85" y2="386.20" stroke="#f51a1a" stroke-width="1.0"/>
<circle cx="674.40" cy="373.70" r="2.0" fill="#f01010"/>
<circle cx="678.50" cy="376.38" r="2.0" fill="#f01010"/>
<circle cx="676.55" cy="379.05" r="2.0" fill="#f01010"/>
<circle cx="674.99" cy="380.33" r="2.0" fill="#f01010"/>
<circle cx="678.80" cy="382.26" r="2.0" fill="#f01010"/>
<circle cx="677.14" cy="384.40" r="2.0" fill="#f01010"/>
<line x1="669.50" y1="439.90" x2="669.50" y2="443.70" stroke="#222" stroke-width="1.1"/>
<text transform="translate(669.50 450.40) scale(1 1.2)" font-size="5.85" font-weight="bold" text-anchor="middle" fill="#1a1a1a">BALF</text>
<path d="M665.05 367.10 V363.80 H677.15 V367.10" fill="none" stroke="#444" stroke-width="0.85"/>
<text x="666.45" y="363.90" font-size="8.7" font-weight="bold" text-anchor="middle" fill="#2a2a2a" stroke="#2a2a2a" stroke-width="0.35">*</text>
<text x="671.10" y="363.90" font-size="8.7" font-weight="bold" text-anchor="middle" fill="#2a2a2a" stroke="#2a2a2a" stroke-width="0.35">*</text>
<text x="675.75" y="363.90" font-size="8.7" font-weight="bold" text-anchor="middle" fill="#2a2a2a" stroke="#2a2a2a" stroke-width="0.35">*</text>
<line x1="592.50" y1="366.20" x2="592.50" y2="440.60" stroke="#555" stroke-width="1.4"/>
<line x1="591.80" y1="439.90" x2="684.00" y2="439.90" stroke="#555" stroke-width="1.4"/>
<line x1="588.50" y1="439.90" x2="592.50" y2="439.90" stroke="#333" stroke-width="1.1"/>
<text x="587.50" y="441.90" font-size="5.6" font-weight="bold" text-anchor="end" fill="#1a1a1a">0</text>
<line x1="588.50" y1="425.28" x2="592.50" y2="425.28" stroke="#333" stroke-width="1.1"/>
<text x="587.50" y="427.28" font-size="5.6" font-weight="bold" text-anchor="end" fill="#1a1a1a">20</text>
<line x1="588.50" y1="410.66" x2="592.50" y2="410.66" stroke="#333" stroke-width="1.1"/>
<text x="587.50" y="412.66" font-size="5.6" font-weight="bold" text-anchor="end" fill="#1a1a1a">40</text>
<line x1="588.50" y1="396.04" x2="592.50" y2="396.04" stroke="#333" stroke-width="1.1"/>
<text x="587.50" y="398.04" font-size="5.6" font-weight="bold" text-anchor="end" fill="#1a1a1a">60</text>
<line x1="588.50" y1="381.42" x2="592.50" y2="381.42" stroke="#333" stroke-width="1.1"/>
<text x="587.50" y="383.42" font-size="5.6" font-weight="bold" text-anchor="end" fill="#1a1a1a">80</text>
<line x1="588.50" y1="366.80" x2="592.50" y2="366.80" stroke="#333" stroke-width="1.1"/>
<text x="587.50" y="368.80" font-size="5.6" font-weight="bold" text-anchor="end" fill="#1a1a1a">100</text>
<text x="565.80" y="403.45" font-size="5.7" font-weight="bold" text-anchor="middle" fill="#1a1a1a" transform="rotate(-90 565.80 403.45)" textLength="89.4" lengthAdjust="spacingAndGlyphs">IL-18 Protein Concentration</text>
<text x="574.20" y="404.30" font-size="5.7" font-weight="bold" text-anchor="middle" fill="#1a1a1a" transform="rotate(-90 574.20 404.30)" textLength="24.9" lengthAdjust="spacingAndGlyphs">(pg/mL)</text>
<circle cx="220.10" cy="17.70" r="2.1" fill="#7ea3dd"/>
<circle cx="220.10" cy="29.90" r="2.1" fill="#f01010"/>
<text transform="translate(229.70 20.10) scale(1 1.28)" font-size="6.3" font-weight="normal" text-anchor="start" fill="#222">Sham</text>
<text transform="translate(229.70 32.30) scale(1 1.28)" font-size="6.3" font-weight="normal" text-anchor="start" fill="#222">CLP</text>
<rect x="224.67" y="117.10" width="8.85" height="4.80" fill="#fff" stroke="#3d68bd" stroke-width="1.15"/>
<line x1="229.10" y1="106.50" x2="229.10" y2="121.90" stroke="#3d68bd" stroke-width="1.0"/>
<line x1="226.80" y1="106.50" x2="231.40" y2="106.50" stroke="#3d68bd" stroke-width="1.0"/>
<circle cx="227.20" cy="106.50" r="2.0" fill="#7ea3dd"/>
<circle cx="230.20" cy="106.50" r="2.0" fill="#7ea3dd"/>
<circle cx="226.00" cy="120.40" r="2.0" fill="#7ea3dd"/>
<circle cx="228.80" cy="120.40" r="2.0" fill="#7ea3dd"/>
<circle cx="231.60" cy="120.40" r="2.0" fill="#7ea3dd"/>
<circle cx="233.00" cy="120.40" r="2.0" fill="#7ea3dd"/>
<rect x="239.88" y="66.30" width="9.35" height="55.60" fill="#fff" stroke="#f51a1a" stroke-width="1.15"/>
<line x1="244.55" y1="59.80" x2="244.55" y2="72.80" stroke="#f51a1a" stroke-width="1.0"/>
<line x1="242.25" y1="59.80" x2="246.85" y2="59.80" stroke="#f51a1a" stroke-width="1.0"/>
<line x1="242.25" y1="72.80" x2="246.85" y2="72.80" stroke="#f51a1a" stroke-width="1.0"/>
<circle cx="241.60" cy="63.00" r="2.0" fill="#f01010"/>
<circle cx="243.60" cy="63.00" r="2.0" fill="#f01010"/>
<circle cx="245.60" cy="63.00" r="2.0" fill="#f01010"/>
<circle cx="247.60" cy="63.00" r="2.0" fill="#f01010"/>
<circle cx="244.60" cy="63.00" r="2.0" fill="#f01010"/>
<circle cx="244.60" cy="77.80" r="2.0" fill="#f01010"/>
<line x1="236.30" y1="121.90" x2="236.30" y2="125.70" stroke="#222" stroke-width="1.1"/>
<text transform="translate(236.70 132.10) scale(1 1.2)" font-size="5.85" font-weight="bold" text-anchor="middle" fill="#1a1a1a" textLength="48.8" lengthAdjust="spacingAndGlyphs">Lung Injury Score</text>
<path d="M227.60 55.60 V52.30 H244.70 V55.60" fill="none" stroke="#444" stroke-width="0.85"/>
<text x="231.50" y="52.40" font-size="8.7" font-weight="bold" text-anchor="middle" fill="#2a2a2a" stroke="#2a2a2a" stroke-width="0.35">*</text>
<text x="236.15" y="52.40" font-size="8.7" font-weight="bold" text-anchor="middle" fill="#2a2a2a" stroke="#2a2a2a" stroke-width="0.35">*</text>
<text x="240.80" y="52.40" font-size="8.7" font-weight="bold" text-anchor="middle" fill="#2a2a2a" stroke="#2a2a2a" stroke-width="0.35">*</text>
<line x1="218.30" y1="48.80" x2="218.30" y2="122.60" stroke="#555" stroke-width="1.4"/>
<line x1="217.60" y1="121.90" x2="255.60" y2="121.90" stroke="#555" stroke-width="1.4"/>
<line x1="214.30" y1="121.90" x2="218.30" y2="121.90" stroke="#333" stroke-width="1.1"/>
<text x="213.30" y="123.90" font-size="5.6" font-weight="bold" text-anchor="end" fill="#1a1a1a">0</text>
<line x1="214.30" y1="107.40" x2="218.30" y2="107.40" stroke="#333" stroke-width="1.1"/>
<text x="213.30" y="109.40" font-size="5.6" font-weight="bold" text-anchor="end" fill="#1a1a1a">1</text>
<line x1="214.30" y1="92.90" x2="218.30" y2="92.90" stroke="#333" stroke-width="1.1"/>
<text x="213.30" y="94.90" font-size="5.6" font-weight="bold" text-anchor="end" fill="#1a1a1a">2</text>
<line x1="214.30" y1="78.40" x2="218.30" y2="78.40" stroke="#333" stroke-width="1.1"/>
<text x="213.30" y="80.40" font-size="5.6" font-weight="bold" text-anchor="end" fill="#1a1a1a">3</text>
<line x1="214.30" y1="63.90" x2="218.30" y2="63.90" stroke="#333" stroke-width="1.1"/>
<text x="213.30" y="65.90" font-size="5.6" font-weight="bold" text-anchor="end" fill="#1a1a1a">4</text>
<line x1="214.30" y1="49.40" x2="218.30" y2="49.40" stroke="#333" stroke-width="1.1"/>
<text x="213.30" y="51.40" font-size="5.6" font-weight="bold" text-anchor="end" fill="#1a1a1a">5</text>
<text x="205.80" y="85.85" font-size="5.7" font-weight="bold" text-anchor="middle" fill="#1a1a1a" transform="rotate(-90 205.80 85.85)" textLength="52.4" lengthAdjust="spacingAndGlyphs">Lung Injury Score</text>
<circle cx="287.80" cy="18.30" r="2.1" fill="#7ea3dd"/>
<circle cx="287.80" cy="30.60" r="2.1" fill="#f01010"/>
<text transform="translate(297.20 20.70) scale(1 1.28)" font-size="6.3" font-weight="normal" text-anchor="start" fill="#222">Sham</text>
<text transform="translate(297.20 33.00) scale(1 1.28)" font-size="6.3" font-weight="normal" text-anchor="start" fill="#222">CLP</text>
<rect x="291.77" y="105.30" width="9.45" height="17.30" fill="#fff" stroke="#3d68bd" stroke-width="1.15"/>
<line x1="296.50" y1="95.30" x2="296.50" y2="115.30" stroke="#3d68bd" stroke-width="1.0"/>
<line x1="294.20" y1="95.30" x2="298.80" y2="95.30" stroke="#3d68bd" stroke-width="1.0"/>
<line x1="294.20" y1="115.30" x2="298.80" y2="115.30" stroke="#3d68bd" stroke-width="1.0"/>
<circle cx="296.40" cy="89.90" r="2.0" fill="#7ea3dd"/>
<circle cx="296.40" cy="96.70" r="2.0" fill="#7ea3dd"/>
<circle cx="296.40" cy="103.00" r="2.0" fill="#7ea3dd"/>
<circle cx="296.40" cy="109.20" r="2.0" fill="#7ea3dd"/>
<circle cx="293.00" cy="115.30" r="2.0" fill="#7ea3dd"/>
<circle cx="300.00" cy="114.00" r="2.0" fill="#7ea3dd"/>
<rect x="307.77" y="74.50" width="8.95" height="48.10" fill="#fff" stroke="#f51a1a" stroke-width="1.15"/>
<line x1="312.25" y1="59.50" x2="312.25" y2="89.50" stroke="#f51a1a" stroke-width="1.0"/>
<line x1="309.95" y1="59.50" x2="314.55" y2="59.50" stroke="#f51a1a" stroke-width="1.0"/>
<line x1="309.95" y1="89.50" x2="314.55" y2="89.50" stroke="#f51a1a" stroke-width="1.0"/>
<circle cx="312.30" cy="54.30" r="2.0" fill="#f01010"/>
<circle cx="312.30" cy="64.00" r="2.0" fill="#f01010"/>
<circle cx="312.30" cy="69.20" r="2.0" fill="#f01010"/>
<circle cx="312.30" cy="80.30" r="2.0" fill="#f01010"/>
<circle cx="312.30" cy="84.20" r="2.0" fill="#f01010"/>
<circle cx="312.30" cy="93.80" r="2.0" fill="#f01010"/>
<line x1="304.30" y1="122.60" x2="304.30" y2="126.40" stroke="#222" stroke-width="1.1"/>
<text transform="translate(304.20 133.00) scale(1 1.2)" font-size="5.85" font-weight="bold" text-anchor="middle" fill="#1a1a1a" textLength="34.5" lengthAdjust="spacingAndGlyphs">Lung Weight</text>
<path d="M297.20 48.60 V45.30 H312.30 V48.60" fill="none" stroke="#444" stroke-width="0.85"/>
<text x="304.75" y="45.40" font-size="8.7" font-weight="bold" text-anchor="middle" fill="#2a2a2a" stroke="#2a2a2a" stroke-width="0.35">*</text>
<line x1="286.20" y1="49.10" x2="286.20" y2="123.30" stroke="#555" stroke-width="1.4"/>
<line x1="285.50" y1="122.60" x2="322.50" y2="122.60" stroke="#555" stroke-width="1.4"/>
<line x1="282.20" y1="122.60" x2="286.20" y2="122.60" stroke="#333" stroke-width="1.1"/>
<text x="281.20" y="124.60" font-size="5.6" font-weight="bold" text-anchor="end" fill="#1a1a1a">3.5</text>
<line x1="282.20" y1="108.02" x2="286.20" y2="108.02" stroke="#333" stroke-width="1.1"/>
<text x="281.20" y="110.02" font-size="5.6" font-weight="bold" text-anchor="end" fill="#1a1a1a">4.0</text>
<line x1="282.20" y1="93.44" x2="286.20" y2="93.44" stroke="#333" stroke-width="1.1"/>
<text x="281.20" y="95.44" font-size="5.6" font-weight="bold" text-anchor="end" fill="#1a1a1a">4.5</text>
<line x1="282.20" y1="78.86" x2="286.20" y2="78.86" stroke="#333" stroke-width="1.1"/>
<text x="281.20" y="80.86" font-size="5.6" font-weight="bold" text-anchor="end" fill="#1a1a1a">5.0</text>
<line x1="282.20" y1="64.28" x2="286.20" y2="64.28" stroke="#333" stroke-width="1.1"/>
<text x="281.20" y="66.28" font-size="5.6" font-weight="bold" text-anchor="end" fill="#1a1a1a">5.5</text>
<line x1="282.20" y1="49.70" x2="286.20" y2="49.70" stroke="#333" stroke-width="1.1"/>
<text x="281.20" y="51.70" font-size="5.6" font-weight="bold" text-anchor="end" fill="#1a1a1a">6.0</text>
<text x="268.80" y="86.45" font-size="5.7" font-weight="bold" text-anchor="middle" fill="#1a1a1a" transform="rotate(-90 268.80 86.45)" textLength="57.4" lengthAdjust="spacingAndGlyphs">Lung Wet/Dry Ratio</text>
<circle cx="529.00" cy="16.20" r="2.1" fill="#7ea3dd"/>
<circle cx="529.00" cy="28.10" r="2.1" fill="#f01010"/>
<text transform="translate(538.70 18.60) scale(1 1.28)" font-size="6.3" font-weight="normal" text-anchor="start" fill="#222">Sham</text>
<text transform="translate(538.70 30.50) scale(1 1.28)" font-size="6.3" font-weight="normal" text-anchor="start" fill="#222">CLP</text>
<rect x="532.08" y="117.00" width="6.85" height="3.60" fill="#fff" stroke="#3d68bd" stroke-width="1.15"/>
<circle cx="535.50" cy="117.10" r="2.0" fill="#7ea3dd"/>
<circle cx="533.90" cy="118.29" r="2.0" fill="#7ea3dd"/>
<circle cx="537.10" cy="118.12" r="2.0" fill="#7ea3dd"/>
<circle cx="532.86" cy="119.65" r="2.0" fill="#7ea3dd"/>
<circle cx="538.14" cy="119.82" r="2.0" fill="#7ea3dd"/>
<circle cx="534.54" cy="120.33" r="2.0" fill="#7ea3dd"/>
<circle cx="536.62" cy="120.16" r="2.0" fill="#7ea3dd"/>
<circle cx="535.50" cy="119.14" r="2.0" fill="#7ea3dd"/>
<rect x="543.78" y="113.30" width="6.85" height="7.30" fill="#fff" stroke="#f51a1a" stroke-width="1.15"/>
<line x1="547.20" y1="110.00" x2="547.20" y2="116.60" stroke="#f51a1a" stroke-width="1.0"/>
<line x1="544.90" y1="110.00" x2="549.50" y2="110.00" stroke="#f51a1a" stroke-width="1.0"/>
<line x1="544.90" y1="116.60" x2="549.50" y2="116.60" stroke="#f51a1a" stroke-width="1.0"/>
<circle cx="545.13" cy="109.20" r="2.0" fill="#f01010"/>
<circle cx="549.08" cy="110.17" r="2.0" fill="#f01010"/>
<circle cx="547.20" cy="111.15" r="2.0" fill="#f01010"/>
<circle cx="545.69" cy="111.62" r="2.0" fill="#f01010"/>
<circle cx="549.36" cy="112.32" r="2.0" fill="#f01010"/>
<circle cx="547.76" cy="113.10" r="2.0" fill="#f01010"/>
<line x1="541.70" y1="120.60" x2="541.70" y2="124.40" stroke="#222" stroke-width="1.1"/>
<text transform="translate(541.70 131.00) scale(1 1.2)" font-size="5.85" font-weight="bold" text-anchor="middle" fill="#1a1a1a">Blood</text>
<path d="M536.00 102.70 V99.40 H547.80 V102.70" fill="none" stroke="#444" stroke-width="0.85"/>
<text x="539.58" y="99.50" font-size="8.7" font-weight="bold" text-anchor="middle" fill="#2a2a2a" stroke="#2a2a2a" stroke-width="0.35">*</text>
<text x="544.23" y="99.50" font-size="8.7" font-weight="bold" text-anchor="middle" fill="#2a2a2a" stroke="#2a2a2a" stroke-width="0.35">*</text>
<rect x="564.18" y="107.70" width="6.65" height="12.90" fill="#fff" stroke="#3d68bd" stroke-width="1.15"/>
<circle cx="567.50" cy="106.00" r="2.0" fill="#7ea3dd"/>
<circle cx="565.94" cy="107.19" r="2.0" fill="#7ea3dd"/>
<circle cx="569.06" cy="107.02" r="2.0" fill="#7ea3dd"/>
<circle cx="564.93" cy="108.55" r="2.0" fill="#7ea3dd"/>
<circle cx="570.07" cy="108.72" r="2.0" fill="#7ea3dd"/>
<circle cx="566.56" cy="109.23" r="2.0" fill="#7ea3dd"/>
<circle cx="568.59" cy="109.06" r="2.0" fill="#7ea3dd"/>
<circle cx="567.50" cy="108.04" r="2.0" fill="#7ea3dd"/>
<rect x="575.68" y="61.30" width="7.25" height="59.30" fill="#fff" stroke="#f51a1a" stroke-width="1.15"/>
<line x1="579.30" y1="58.00" x2="579.30" y2="64.60" stroke="#f51a1a" stroke-width="1.0"/>
<line x1="577.00" y1="58.00" x2="581.60" y2="58.00" stroke="#f51a1a" stroke-width="1.0"/>
<line x1="577.00" y1="64.60" x2="581.60" y2="64.60" stroke="#f51a1a" stroke-width="1.0"/>
<circle cx="577.13" cy="57.80" r="2.0" fill="#f01010"/>
<circle cx="581.28" cy="59.10" r="2.0" fill="#f01010"/>
<circle cx="579.30" cy="60.40" r="2.0" fill="#f01010"/>
<circle cx="577.72" cy="61.02" r="2.0" fill="#f01010"/>
<circle cx="581.57" cy="61.96" r="2.0" fill="#f01010"/>
<circle cx="579.89" cy="63.00" r="2.0" fill="#f01010"/>
<line x1="573.40" y1="120.60" x2="573.40" y2="124.40" stroke="#222" stroke-width="1.1"/>
<text transform="translate(573.40 131.00) scale(1 1.2)" font-size="5.85" font-weight="bold" text-anchor="middle" fill="#1a1a1a">Spleen</text>
<path d="M568.00 52.60 V49.30 H579.90 V52.60" fill="none" stroke="#444" stroke-width="0.85"/>
<text x="569.30" y="49.40" font-size="8.7" font-weight="bold" text-anchor="middle" fill="#2a2a2a" stroke="#2a2a2a" stroke-width="0.35">*</text>
<text x="573.95" y="49.40" font-size="8.7" font-weight="bold" text-anchor="middle" fill="#2a2a2a" stroke="#2a2a2a" stroke-width="0.35">*</text>
<text x="578.60" y="49.40" font-size="8.7" font-weight="bold" text-anchor="middle" fill="#2a2a2a" stroke="#2a2a2a" stroke-width="0.35">*</text>
<rect x="596.28" y="117.00" width="6.65" height="3.60" fill="#fff" stroke="#3d68bd" stroke-width="1.15"/>
<circle cx="599.60" cy="117.10" r="2.0" fill="#7ea3dd"/>
<circle cx="598.04" cy="118.29" r="2.0" fill="#7ea3dd"/>
<circle cx="601.16" cy="118.12" r="2.0" fill="#7ea3dd"/>
<circle cx="597.03" cy="119.65" r="2.0" fill="#7ea3dd"/>
<circle cx="602.17" cy="119.82" r="2.0" fill="#7ea3dd"/>
<circle cx="598.66" cy="120.33" r="2.0" fill="#7ea3dd"/>
<circle cx="600.69" cy="120.16" r="2.0" fill="#7ea3dd"/>
<circle cx="599.60" cy="119.14" r="2.0" fill="#7ea3dd"/>
<rect x="607.78" y="89.70" width="6.65" height="30.90" fill="#fff" stroke="#f51a1a" stroke-width="1.15"/>
<line x1="611.10" y1="86.00" x2="611.10" y2="93.40" stroke="#f51a1a" stroke-width="1.0"/>
<line x1="608.80" y1="86.00" x2="613.40" y2="86.00" stroke="#f51a1a" stroke-width="1.0"/>
<line x1="608.80" y1="93.40" x2="613.40" y2="93.40" stroke="#f51a1a" stroke-width="1.0"/>
<circle cx="609.08" cy="86.20" r="2.0" fill="#f01010"/>
<circle cx="612.94" cy="87.97" r="2.0" fill="#f01010"/>
<circle cx="611.10" cy="89.75" r="2.0" fill="#f01010"/>
<circle cx="609.63" cy="90.60" r="2.0" fill="#f01010"/>
<circle cx="613.21" cy="91.88" r="2.0" fill="#f01010"/>
<circle cx="611.65" cy="93.30" r="2.0" fill="#f01010"/>
<line x1="605.30" y1="120.60" x2="605.30" y2="124.40" stroke="#222" stroke-width="1.1"/>
<text transform="translate(605.30 131.00) scale(1 1.2)" font-size="5.85" font-weight="bold" text-anchor="middle" fill="#1a1a1a">BALF</text>
<path d="M600.10 79.10 V75.80 H611.70 V79.10" fill="none" stroke="#444" stroke-width="0.85"/>
<text x="601.25" y="75.90" font-size="8.7" font-weight="bold" text-anchor="middle" fill="#2a2a2a" stroke="#2a2a2a" stroke-width="0.35">*</text>
<text x="605.90" y="75.90" font-size="8.7" font-weight="bold" text-anchor="middle" fill="#2a2a2a" stroke="#2a2a2a" stroke-width="0.35">*</text>
<text x="610.55" y="75.90" font-size="8.7" font-weight="bold" text-anchor="middle" fill="#2a2a2a" stroke="#2a2a2a" stroke-width="0.35">*</text>
<line x1="527.60" y1="47.20" x2="527.60" y2="121.30" stroke="#555" stroke-width="1.4"/>
<line x1="526.90" y1="120.60" x2="618.30" y2="120.60" stroke="#555" stroke-width="1.4"/>
<line x1="523.60" y1="120.60" x2="527.60" y2="120.60" stroke="#333" stroke-width="1.1"/>
<text x="522.60" y="122.60" font-size="5.6" font-weight="bold" text-anchor="end" fill="#1a1a1a">0</text>
<line x1="523.60" y1="106.04" x2="527.60" y2="106.04" stroke="#333" stroke-width="1.1"/>
<text x="522.60" y="108.04" font-size="5.6" font-weight="bold" text-anchor="end" fill="#1a1a1a">5</text>
<line x1="523.60" y1="91.48" x2="527.60" y2="91.48" stroke="#333" stroke-width="1.1"/>
<text x="522.60" y="93.48" font-size="5.6" font-weight="bold" text-anchor="end" fill="#1a1a1a">10</text>
<line x1="523.60" y1="76.92" x2="527.60" y2="76.92" stroke="#333" stroke-width="1.1"/>
<text x="522.60" y="78.92" font-size="5.6" font-weight="bold" text-anchor="end" fill="#1a1a1a">15</text>
<line x1="523.60" y1="62.36" x2="527.60" y2="62.36" stroke="#333" stroke-width="1.1"/>
<text x="522.60" y="64.36" font-size="5.6" font-weight="bold" text-anchor="end" fill="#1a1a1a">20</text>
<line x1="523.60" y1="47.80" x2="527.60" y2="47.80" stroke="#333" stroke-width="1.1"/>
<text x="522.60" y="49.80" font-size="5.6" font-weight="bold" text-anchor="end" fill="#1a1a1a">25</text>
<text x="512.10" y="84.40" font-size="5.9" font-weight="bold" text-anchor="middle" fill="#1a1a1a" transform="rotate(-90 512.10 84.40)" textLength="96.7" lengthAdjust="spacingAndGlyphs">Lin<tspan dy="-2" font-size="4">-</tspan><tspan dy="2">CD11b</tspan><tspan dy="-2" font-size="4">+</tspan><tspan dy="2"> Ly6G</tspan><tspan dy="-2" font-size="4">+</tspan><tspan dy="2"> neutrophils (%)</tspan></text>
<circle cx="648.10" cy="17.70" r="2.1" fill="#7ea3dd"/>
<circle cx="648.10" cy="29.70" r="2.1" fill="#f01010"/>
<text transform="translate(657.80 20.10) scale(1 1.28)" font-size="6.3" font-weight="normal" text-anchor="start" fill="#222">Sham</text>
<text transform="translate(657.80 32.10) scale(1 1.28)" font-size="6.3" font-weight="normal" text-anchor="start" fill="#222">CLP</text>
<rect x="652.58" y="121.00" width="8.75" height="1.40" fill="#fff" stroke="#3d68bd" stroke-width="1.15"/>
<circle cx="654.00" cy="120.90" r="2.0" fill="#7ea3dd"/>
<circle cx="656.00" cy="120.90" r="2.0" fill="#7ea3dd"/>
<circle cx="658.00" cy="120.90" r="2.0" fill="#7ea3dd"/>
<circle cx="660.00" cy="120.90" r="2.0" fill="#7ea3dd"/>
<circle cx="655.00" cy="120.90" r="2.0" fill="#7ea3dd"/>
<circle cx="659.00" cy="120.90" r="2.0" fill="#7ea3dd"/>
<rect x="668.08" y="72.20" width="9.25" height="50.20" fill="#fff" stroke="#f51a1a" stroke-width="1.15"/>
<line x1="672.70" y1="62.40" x2="672.70" y2="82.00" stroke="#f51a1a" stroke-width="1.0"/>
<line x1="670.40" y1="62.40" x2="675.00" y2="62.40" stroke="#f51a1a" stroke-width="1.0"/>
<line x1="670.40" y1="82.00" x2="675.00" y2="82.00" stroke="#f51a1a" stroke-width="1.0"/>
<circle cx="673.00" cy="55.10" r="2.0" fill="#f01010"/>
<circle cx="669.50" cy="72.70" r="2.0" fill="#f01010"/>
<circle cx="676.00" cy="72.70" r="2.0" fill="#f01010"/>
<circle cx="672.70" cy="75.00" r="2.0" fill="#f01010"/>
<circle cx="670.00" cy="80.50" r="2.0" fill="#f01010"/>
<circle cx="675.50" cy="78.00" r="2.0" fill="#f01010"/>
<line x1="663.80" y1="122.40" x2="663.80" y2="126.20" stroke="#222" stroke-width="1.1"/>
<text transform="translate(664.40 132.50) scale(1 1.2)" font-size="5.85" font-weight="bold" text-anchor="middle" fill="#1a1a1a">LDH activity</text>
<path d="M656.50 47.40 V44.10 H669.60 V47.40" fill="none" stroke="#444" stroke-width="0.85"/>
<text x="658.40" y="44.20" font-size="8.7" font-weight="bold" text-anchor="middle" fill="#2a2a2a" stroke="#2a2a2a" stroke-width="0.35">*</text>
<text x="663.05" y="44.20" font-size="8.7" font-weight="bold" text-anchor="middle" fill="#2a2a2a" stroke="#2a2a2a" stroke-width="0.35">*</text>
<text x="667.70" y="44.20" font-size="8.7" font-weight="bold" text-anchor="middle" fill="#2a2a2a" stroke="#2a2a2a" stroke-width="0.35">*</text>
<line x1="646.40" y1="48.10" x2="646.40" y2="123.10" stroke="#555" stroke-width="1.4"/>
<line x1="645.70" y1="122.40" x2="682.00" y2="122.40" stroke="#555" stroke-width="1.4"/>
<line x1="642.40" y1="122.40" x2="646.40" y2="122.40" stroke="#333" stroke-width="1.1"/>
<text x="641.40" y="124.40" font-size="5.6" font-weight="bold" text-anchor="end" fill="#1a1a1a">0</text>
<line x1="642.40" y1="107.66" x2="646.40" y2="107.66" stroke="#333" stroke-width="1.1"/>
<text x="641.40" y="109.66" font-size="5.6" font-weight="bold" text-anchor="end" fill="#1a1a1a">5</text>
<line x1="642.40" y1="92.92" x2="646.40" y2="92.92" stroke="#333" stroke-width="1.1"/>
<text x="641.40" y="94.92" font-size="5.6" font-weight="bold" text-anchor="end" fill="#1a1a1a">10</text>
<line x1="642.40" y1="78.18" x2="646.40" y2="78.18" stroke="#333" stroke-width="1.1"/>
<text x="641.40" y="80.18" font-size="5.6" font-weight="bold" text-anchor="end" fill="#1a1a1a">15</text>
<line x1="642.40" y1="63.44" x2="646.40" y2="63.44" stroke="#333" stroke-width="1.1"/>
<text x="641.40" y="65.44" font-size="5.6" font-weight="bold" text-anchor="end" fill="#1a1a1a">20</text>
<line x1="642.40" y1="48.70" x2="646.40" y2="48.70" stroke="#333" stroke-width="1.1"/>
<text x="641.40" y="50.70" font-size="5.6" font-weight="bold" text-anchor="end" fill="#1a1a1a">25</text>
<text x="630.80" y="85.90" font-size="5.7" font-weight="bold" text-anchor="middle" fill="#1a1a1a" transform="rotate(-90 630.80 85.90)" textLength="78.9" lengthAdjust="spacingAndGlyphs">LDH Activity (U/mg protein)</text>
</svg>
</body></html>
